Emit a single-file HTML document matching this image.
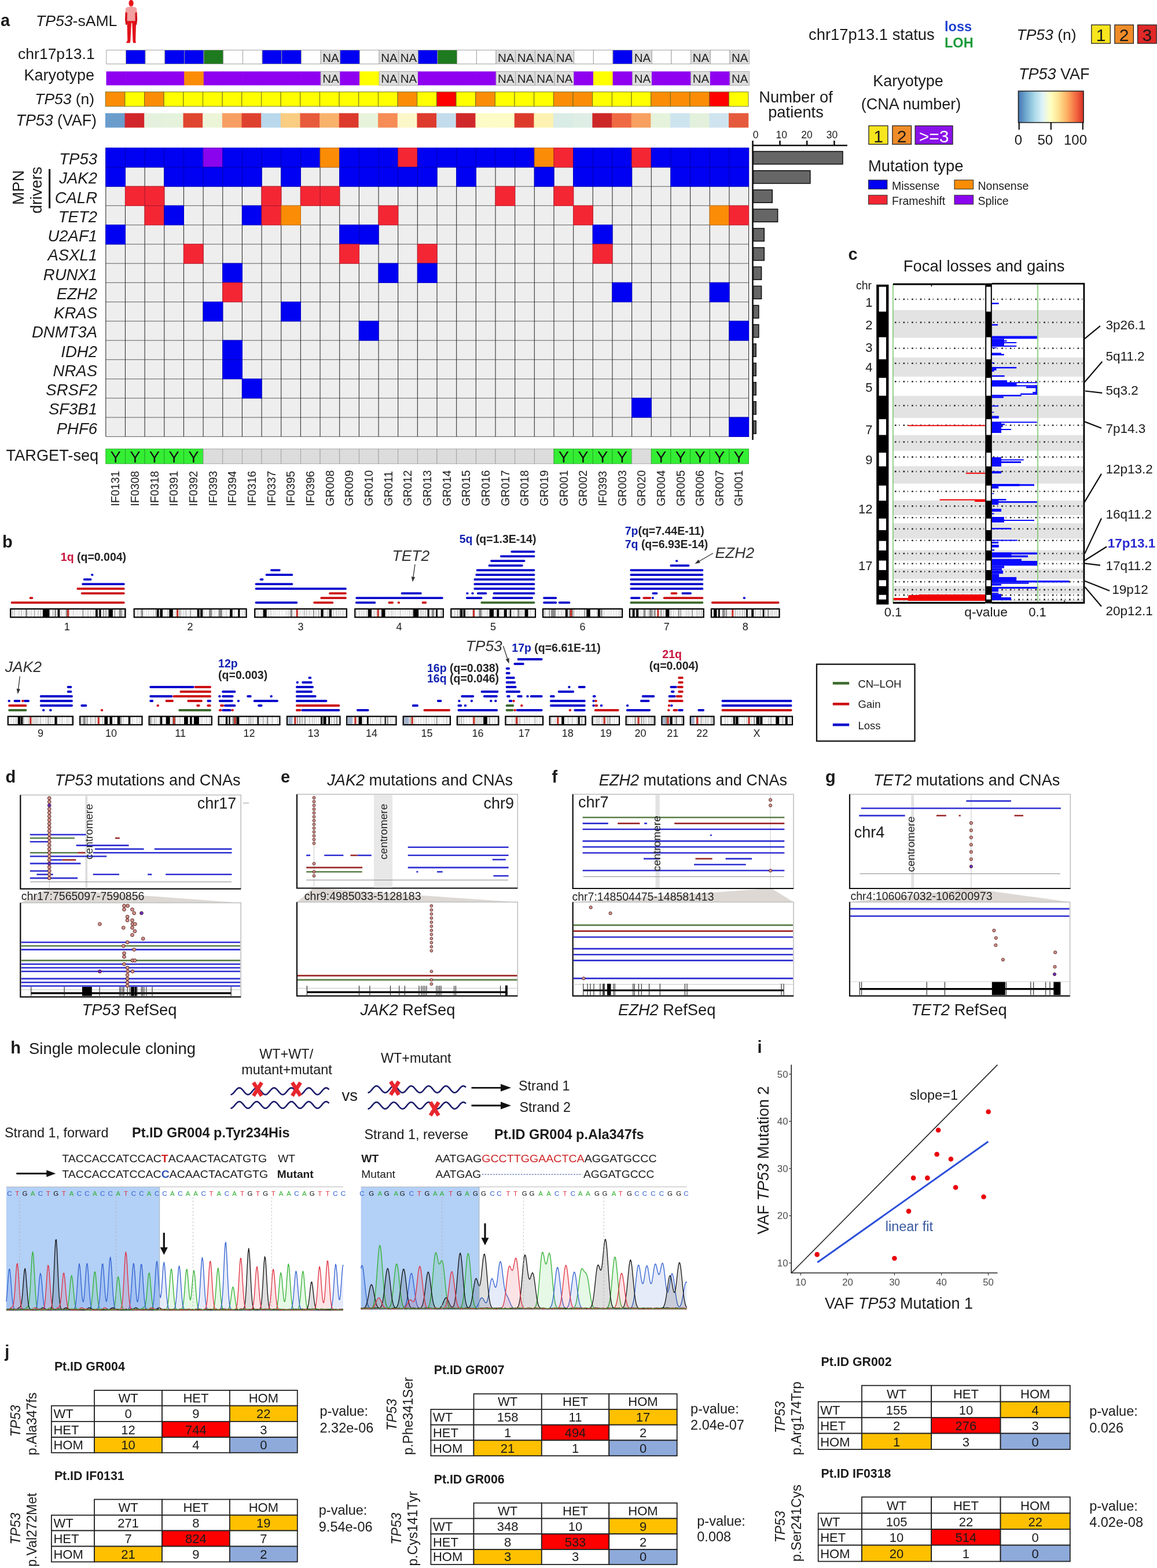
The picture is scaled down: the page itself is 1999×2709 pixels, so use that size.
<!DOCTYPE html>
<html><head><meta charset="utf-8"><title>TP53 sAML figure</title>
<style>
html,body{margin:0;padding:0;background:#fff;overflow:hidden;}
svg{display:block;}
text{font-family:"Liberation Sans",Arial,sans-serif;}
</style></head><body>
<svg width="1999" height="2709" viewBox="0 0 1999 2709" fill="#1a1a1a">
<rect width="1999" height="2709" fill="#fff"/>
<text x="1.0" y="45.0" font-size="29" font-weight="bold">a</text>
<text x="62" y="45" font-size="26.6"><tspan font-style="italic">TP53</tspan>-sAML</text>
<g>
<ellipse cx="226.6" cy="5.6" rx="4.1" ry="5.7" fill="#e8141a"/>
<path d="M219.3,36 L235.4,36 L235,42 L234.2,70 L234.8,72.5 L234.5,74.2 L230.2,74.2 L229.5,71 L228.3,40 L227.6,39.4 L226.9,40 L225.3,71 L224.5,74.2 L218.6,74.2 L218.4,72.5 L220.3,70 L219.6,42 Z" fill="#e2121a"/>
<path d="M216.6,20.5 L220,20.5 L220.4,40.5 L218.6,43.2 L217.2,42.4 L216,34 Z" fill="#d20f18"/>
<path d="M233.2,20.5 L236.6,20.5 L237.2,34 L236.2,42.4 L234.7,43.2 L232.9,40.5 Z" fill="#d20f18"/>
<path d="M224.3,10.6 L229,10.6 L229.6,11.8 L233.8,12.4 L236,14.5 L236.8,21.4 L233.4,21.6 L233.6,36.3 L219.6,36.3 L219.8,21.6 L216.4,21.4 L217.2,14.5 L219.4,12.4 L223.7,11.8 Z" fill="#f3a0a0"/>
</g>
<text x="163.7" y="102.3" font-size="26.5" text-anchor="end">chr17p13.1</text>
<text x="163.0" y="139.3" font-size="27" text-anchor="end">Karyotype</text>
<text x="163" y="180.2" font-size="26.4" text-anchor="end"><tspan font-style="italic">TP53</tspan> (n)</text>
<text x="167" y="217.2" font-size="26.8" text-anchor="end"><tspan font-style="italic">TP53</tspan> (VAF)</text>
<rect x="183.80" y="86.50" width="33.66" height="24.00" fill="#ffffff" stroke="#9a9a9a" stroke-width="0.9"/>
<rect x="217.46" y="86.50" width="33.66" height="24.00" fill="#0000f2" stroke="#9a9a9a" stroke-width="0.9"/>
<rect x="251.12" y="86.50" width="33.66" height="24.00" fill="#ffffff" stroke="#9a9a9a" stroke-width="0.9"/>
<rect x="284.78" y="86.50" width="33.66" height="24.00" fill="#0000f2" stroke="#9a9a9a" stroke-width="0.9"/>
<rect x="318.44" y="86.50" width="33.66" height="24.00" fill="#0000f2" stroke="#9a9a9a" stroke-width="0.9"/>
<rect x="352.10" y="86.50" width="33.66" height="24.00" fill="#1e7a1e" stroke="#9a9a9a" stroke-width="0.9"/>
<rect x="385.76" y="86.50" width="33.66" height="24.00" fill="#ffffff" stroke="#9a9a9a" stroke-width="0.9"/>
<rect x="419.42" y="86.50" width="33.66" height="24.00" fill="#ffffff" stroke="#9a9a9a" stroke-width="0.9"/>
<rect x="453.08" y="86.50" width="33.66" height="24.00" fill="#0000f2" stroke="#9a9a9a" stroke-width="0.9"/>
<rect x="486.74" y="86.50" width="33.66" height="24.00" fill="#0000f2" stroke="#9a9a9a" stroke-width="0.9"/>
<rect x="520.40" y="86.50" width="33.66" height="24.00" fill="#ffffff" stroke="#9a9a9a" stroke-width="0.9"/>
<rect x="554.06" y="86.50" width="33.66" height="24.00" fill="#dcdcdc" stroke="#a8a8a8" stroke-width="0.9"/>
<text x="571.4" y="106.5" font-size="20.5" text-anchor="middle" fill="#222">NA</text>
<rect x="587.72" y="86.50" width="33.66" height="24.00" fill="#0000f2" stroke="#9a9a9a" stroke-width="0.9"/>
<rect x="621.38" y="86.50" width="33.66" height="24.00" fill="#ffffff" stroke="#9a9a9a" stroke-width="0.9"/>
<rect x="655.04" y="86.50" width="33.66" height="24.00" fill="#dcdcdc" stroke="#a8a8a8" stroke-width="0.9"/>
<text x="672.4" y="106.5" font-size="20.5" text-anchor="middle" fill="#222">NA</text>
<rect x="688.70" y="86.50" width="33.66" height="24.00" fill="#dcdcdc" stroke="#a8a8a8" stroke-width="0.9"/>
<text x="706.0" y="106.5" font-size="20.5" text-anchor="middle" fill="#222">NA</text>
<rect x="722.36" y="86.50" width="33.66" height="24.00" fill="#0000f2" stroke="#9a9a9a" stroke-width="0.9"/>
<rect x="756.02" y="86.50" width="33.66" height="24.00" fill="#1e7a1e" stroke="#9a9a9a" stroke-width="0.9"/>
<rect x="789.68" y="86.50" width="33.66" height="24.00" fill="#ffffff" stroke="#9a9a9a" stroke-width="0.9"/>
<rect x="823.34" y="86.50" width="33.66" height="24.00" fill="#ffffff" stroke="#9a9a9a" stroke-width="0.9"/>
<rect x="857.00" y="86.50" width="33.66" height="24.00" fill="#dcdcdc" stroke="#a8a8a8" stroke-width="0.9"/>
<text x="874.3" y="106.5" font-size="20.5" text-anchor="middle" fill="#222">NA</text>
<rect x="890.66" y="86.50" width="33.66" height="24.00" fill="#dcdcdc" stroke="#a8a8a8" stroke-width="0.9"/>
<text x="908.0" y="106.5" font-size="20.5" text-anchor="middle" fill="#222">NA</text>
<rect x="924.32" y="86.50" width="33.66" height="24.00" fill="#dcdcdc" stroke="#a8a8a8" stroke-width="0.9"/>
<text x="941.6" y="106.5" font-size="20.5" text-anchor="middle" fill="#222">NA</text>
<rect x="957.98" y="86.50" width="33.66" height="24.00" fill="#dcdcdc" stroke="#a8a8a8" stroke-width="0.9"/>
<text x="975.3" y="106.5" font-size="20.5" text-anchor="middle" fill="#222">NA</text>
<rect x="991.64" y="86.50" width="33.66" height="24.00" fill="#ffffff" stroke="#9a9a9a" stroke-width="0.9"/>
<rect x="1025.30" y="86.50" width="33.66" height="24.00" fill="#ffffff" stroke="#9a9a9a" stroke-width="0.9"/>
<rect x="1058.96" y="86.50" width="33.66" height="24.00" fill="#0000f2" stroke="#9a9a9a" stroke-width="0.9"/>
<rect x="1092.62" y="86.50" width="33.66" height="24.00" fill="#dcdcdc" stroke="#a8a8a8" stroke-width="0.9"/>
<text x="1109.9" y="106.5" font-size="20.5" text-anchor="middle" fill="#222">NA</text>
<rect x="1126.28" y="86.50" width="33.66" height="24.00" fill="#ffffff" stroke="#9a9a9a" stroke-width="0.9"/>
<rect x="1159.94" y="86.50" width="33.66" height="24.00" fill="#ffffff" stroke="#9a9a9a" stroke-width="0.9"/>
<rect x="1193.60" y="86.50" width="33.66" height="24.00" fill="#dcdcdc" stroke="#a8a8a8" stroke-width="0.9"/>
<text x="1210.9" y="106.5" font-size="20.5" text-anchor="middle" fill="#222">NA</text>
<rect x="1227.26" y="86.50" width="33.66" height="24.00" fill="#ffffff" stroke="#9a9a9a" stroke-width="0.9"/>
<rect x="1260.92" y="86.50" width="33.66" height="24.00" fill="#dcdcdc" stroke="#a8a8a8" stroke-width="0.9"/>
<text x="1278.2" y="106.5" font-size="20.5" text-anchor="middle" fill="#222">NA</text>
<rect x="183.50" y="123.40" width="34.26" height="24.00" fill="#8f00f0"/>
<rect x="217.16" y="123.40" width="34.26" height="24.00" fill="#8f00f0"/>
<rect x="250.82" y="123.40" width="34.26" height="24.00" fill="#8f00f0"/>
<rect x="284.48" y="123.40" width="34.26" height="24.00" fill="#8f00f0"/>
<rect x="318.14" y="123.40" width="34.26" height="24.00" fill="#fb8c06"/>
<rect x="351.80" y="123.40" width="34.26" height="24.00" fill="#8f00f0"/>
<rect x="385.46" y="123.40" width="34.26" height="24.00" fill="#8f00f0"/>
<rect x="419.12" y="123.40" width="34.26" height="24.00" fill="#8f00f0"/>
<rect x="452.78" y="123.40" width="34.26" height="24.00" fill="#8f00f0"/>
<rect x="486.44" y="123.40" width="34.26" height="24.00" fill="#8f00f0"/>
<rect x="520.10" y="123.40" width="34.26" height="24.00" fill="#8f00f0"/>
<rect x="554.06" y="123.40" width="33.66" height="24.00" fill="#dcdcdc" stroke="#a8a8a8" stroke-width="0.9"/>
<text x="571.4" y="143.4" font-size="20.5" text-anchor="middle" fill="#222">NA</text>
<rect x="587.42" y="123.40" width="34.26" height="24.00" fill="#8f00f0"/>
<rect x="621.08" y="123.40" width="34.26" height="24.00" fill="#ffff00"/>
<rect x="655.04" y="123.40" width="33.66" height="24.00" fill="#dcdcdc" stroke="#a8a8a8" stroke-width="0.9"/>
<text x="672.4" y="143.4" font-size="20.5" text-anchor="middle" fill="#222">NA</text>
<rect x="688.70" y="123.40" width="33.66" height="24.00" fill="#dcdcdc" stroke="#a8a8a8" stroke-width="0.9"/>
<text x="706.0" y="143.4" font-size="20.5" text-anchor="middle" fill="#222">NA</text>
<rect x="722.06" y="123.40" width="34.26" height="24.00" fill="#8f00f0"/>
<rect x="755.72" y="123.40" width="34.26" height="24.00" fill="#8f00f0"/>
<rect x="789.38" y="123.40" width="34.26" height="24.00" fill="#8f00f0"/>
<rect x="823.04" y="123.40" width="34.26" height="24.00" fill="#8f00f0"/>
<rect x="857.00" y="123.40" width="33.66" height="24.00" fill="#dcdcdc" stroke="#a8a8a8" stroke-width="0.9"/>
<text x="874.3" y="143.4" font-size="20.5" text-anchor="middle" fill="#222">NA</text>
<rect x="890.66" y="123.40" width="33.66" height="24.00" fill="#dcdcdc" stroke="#a8a8a8" stroke-width="0.9"/>
<text x="908.0" y="143.4" font-size="20.5" text-anchor="middle" fill="#222">NA</text>
<rect x="924.32" y="123.40" width="33.66" height="24.00" fill="#dcdcdc" stroke="#a8a8a8" stroke-width="0.9"/>
<text x="941.6" y="143.4" font-size="20.5" text-anchor="middle" fill="#222">NA</text>
<rect x="957.98" y="123.40" width="33.66" height="24.00" fill="#dcdcdc" stroke="#a8a8a8" stroke-width="0.9"/>
<text x="975.3" y="143.4" font-size="20.5" text-anchor="middle" fill="#222">NA</text>
<rect x="991.34" y="123.40" width="34.26" height="24.00" fill="#8f00f0"/>
<rect x="1025.00" y="123.40" width="34.26" height="24.00" fill="#ffff00"/>
<rect x="1058.66" y="123.40" width="34.26" height="24.00" fill="#8f00f0"/>
<rect x="1092.62" y="123.40" width="33.66" height="24.00" fill="#dcdcdc" stroke="#a8a8a8" stroke-width="0.9"/>
<text x="1109.9" y="143.4" font-size="20.5" text-anchor="middle" fill="#222">NA</text>
<rect x="1125.98" y="123.40" width="34.26" height="24.00" fill="#8f00f0"/>
<rect x="1159.64" y="123.40" width="34.26" height="24.00" fill="#8f00f0"/>
<rect x="1193.60" y="123.40" width="33.66" height="24.00" fill="#dcdcdc" stroke="#a8a8a8" stroke-width="0.9"/>
<text x="1210.9" y="143.4" font-size="20.5" text-anchor="middle" fill="#222">NA</text>
<rect x="1226.96" y="123.40" width="34.26" height="24.00" fill="#8f00f0"/>
<rect x="1260.92" y="123.40" width="33.66" height="24.00" fill="#dcdcdc" stroke="#a8a8a8" stroke-width="0.9"/>
<text x="1278.2" y="143.4" font-size="20.5" text-anchor="middle" fill="#222">NA</text>
<rect x="182.20" y="158.80" width="33.66" height="25.00" fill="#fb8c06" stroke="#6a6a20" stroke-width="0.9"/>
<rect x="215.86" y="158.80" width="33.66" height="25.00" fill="#ffff00" stroke="#6a6a20" stroke-width="0.9"/>
<rect x="249.52" y="158.80" width="33.66" height="25.00" fill="#fb8c06" stroke="#6a6a20" stroke-width="0.9"/>
<rect x="283.18" y="158.80" width="33.66" height="25.00" fill="#ffff00" stroke="#6a6a20" stroke-width="0.9"/>
<rect x="316.84" y="158.80" width="33.66" height="25.00" fill="#ffff00" stroke="#6a6a20" stroke-width="0.9"/>
<rect x="350.50" y="158.80" width="33.66" height="25.00" fill="#ffff00" stroke="#6a6a20" stroke-width="0.9"/>
<rect x="384.16" y="158.80" width="33.66" height="25.00" fill="#ffff00" stroke="#6a6a20" stroke-width="0.9"/>
<rect x="417.82" y="158.80" width="33.66" height="25.00" fill="#ffff00" stroke="#6a6a20" stroke-width="0.9"/>
<rect x="451.48" y="158.80" width="33.66" height="25.00" fill="#ffff00" stroke="#6a6a20" stroke-width="0.9"/>
<rect x="485.14" y="158.80" width="33.66" height="25.00" fill="#ffff00" stroke="#6a6a20" stroke-width="0.9"/>
<rect x="518.80" y="158.80" width="33.66" height="25.00" fill="#ffff00" stroke="#6a6a20" stroke-width="0.9"/>
<rect x="552.46" y="158.80" width="33.66" height="25.00" fill="#ffff00" stroke="#6a6a20" stroke-width="0.9"/>
<rect x="586.12" y="158.80" width="33.66" height="25.00" fill="#ffff00" stroke="#6a6a20" stroke-width="0.9"/>
<rect x="619.78" y="158.80" width="33.66" height="25.00" fill="#ffff00" stroke="#6a6a20" stroke-width="0.9"/>
<rect x="653.44" y="158.80" width="33.66" height="25.00" fill="#ffff00" stroke="#6a6a20" stroke-width="0.9"/>
<rect x="687.10" y="158.80" width="33.66" height="25.00" fill="#fb8c06" stroke="#6a6a20" stroke-width="0.9"/>
<rect x="720.76" y="158.80" width="33.66" height="25.00" fill="#ffff00" stroke="#6a6a20" stroke-width="0.9"/>
<rect x="754.42" y="158.80" width="33.66" height="25.00" fill="#ff0000" stroke="#6a6a20" stroke-width="0.9"/>
<rect x="788.08" y="158.80" width="33.66" height="25.00" fill="#ffff00" stroke="#6a6a20" stroke-width="0.9"/>
<rect x="821.74" y="158.80" width="33.66" height="25.00" fill="#fb8c06" stroke="#6a6a20" stroke-width="0.9"/>
<rect x="855.40" y="158.80" width="33.66" height="25.00" fill="#ffff00" stroke="#6a6a20" stroke-width="0.9"/>
<rect x="889.06" y="158.80" width="33.66" height="25.00" fill="#ffff00" stroke="#6a6a20" stroke-width="0.9"/>
<rect x="922.72" y="158.80" width="33.66" height="25.00" fill="#ffff00" stroke="#6a6a20" stroke-width="0.9"/>
<rect x="956.38" y="158.80" width="33.66" height="25.00" fill="#fb8c06" stroke="#6a6a20" stroke-width="0.9"/>
<rect x="990.04" y="158.80" width="33.66" height="25.00" fill="#fb8c06" stroke="#6a6a20" stroke-width="0.9"/>
<rect x="1023.70" y="158.80" width="33.66" height="25.00" fill="#ffff00" stroke="#6a6a20" stroke-width="0.9"/>
<rect x="1057.36" y="158.80" width="33.66" height="25.00" fill="#ffff00" stroke="#6a6a20" stroke-width="0.9"/>
<rect x="1091.02" y="158.80" width="33.66" height="25.00" fill="#ffff00" stroke="#6a6a20" stroke-width="0.9"/>
<rect x="1124.68" y="158.80" width="33.66" height="25.00" fill="#fb8c06" stroke="#6a6a20" stroke-width="0.9"/>
<rect x="1158.34" y="158.80" width="33.66" height="25.00" fill="#fb8c06" stroke="#6a6a20" stroke-width="0.9"/>
<rect x="1192.00" y="158.80" width="33.66" height="25.00" fill="#fb8c06" stroke="#6a6a20" stroke-width="0.9"/>
<rect x="1225.66" y="158.80" width="33.66" height="25.00" fill="#ff0000" stroke="#6a6a20" stroke-width="0.9"/>
<rect x="1259.32" y="158.80" width="33.66" height="25.00" fill="#ffff00" stroke="#6a6a20" stroke-width="0.9"/>
<rect x="181.90" y="195.50" width="34.26" height="25.00" fill="#6b9dcc"/>
<rect x="215.56" y="195.50" width="34.26" height="25.00" fill="#d1262b"/>
<rect x="249.22" y="195.50" width="34.26" height="25.00" fill="#e4f2dd"/>
<rect x="282.88" y="195.50" width="34.26" height="25.00" fill="#e5f3dd"/>
<rect x="316.54" y="195.50" width="34.26" height="25.00" fill="#e0452f"/>
<rect x="350.20" y="195.50" width="34.26" height="25.00" fill="#edf5d9"/>
<rect x="383.86" y="195.50" width="34.26" height="25.00" fill="#f79f63"/>
<rect x="417.52" y="195.50" width="34.26" height="25.00" fill="#df412f"/>
<rect x="451.18" y="195.50" width="34.26" height="25.00" fill="#b9d8ec"/>
<rect x="484.84" y="195.50" width="34.26" height="25.00" fill="#f9cd82"/>
<rect x="518.50" y="195.50" width="34.26" height="25.00" fill="#e85a3c"/>
<rect x="552.16" y="195.50" width="34.26" height="25.00" fill="#f8b26c"/>
<rect x="585.82" y="195.50" width="34.26" height="25.00" fill="#dc3a2c"/>
<rect x="619.48" y="195.50" width="34.26" height="25.00" fill="#e8f3dc"/>
<rect x="653.14" y="195.50" width="34.26" height="25.00" fill="#f68c56"/>
<rect x="686.80" y="195.50" width="34.26" height="25.00" fill="#fbf7c9"/>
<rect x="720.46" y="195.50" width="34.26" height="25.00" fill="#dd3b2e"/>
<rect x="754.12" y="195.50" width="34.26" height="25.00" fill="#c3dcec"/>
<rect x="787.78" y="195.50" width="34.26" height="25.00" fill="#d0282a"/>
<rect x="821.44" y="195.50" width="34.26" height="25.00" fill="#fdfbc6"/>
<rect x="855.10" y="195.50" width="34.26" height="25.00" fill="#fdfbc6"/>
<rect x="888.76" y="195.50" width="34.26" height="25.00" fill="#dc3b2c"/>
<rect x="922.42" y="195.50" width="34.26" height="25.00" fill="#fdf2b1"/>
<rect x="956.08" y="195.50" width="34.26" height="25.00" fill="#d9ece6"/>
<rect x="989.74" y="195.50" width="34.26" height="25.00" fill="#deeee4"/>
<rect x="1023.40" y="195.50" width="34.26" height="25.00" fill="#cc2828"/>
<rect x="1057.06" y="195.50" width="34.26" height="25.00" fill="#ef6a43"/>
<rect x="1090.72" y="195.50" width="34.26" height="25.00" fill="#f7a060"/>
<rect x="1124.38" y="195.50" width="34.26" height="25.00" fill="#e6f3dc"/>
<rect x="1158.04" y="195.50" width="34.26" height="25.00" fill="#cde4ef"/>
<rect x="1191.70" y="195.50" width="34.26" height="25.00" fill="#e3f1dc"/>
<rect x="1225.36" y="195.50" width="34.26" height="25.00" fill="#cfe4ef"/>
<rect x="1259.02" y="195.50" width="34.26" height="25.00" fill="#e55a3c"/>
<rect x="182.80" y="255.60" width="1110.78" height="498.75" fill="#eeeeee"/>
<path d="M182.80,255.60H1293.58M182.80,288.85H1293.58M182.80,322.10H1293.58M182.80,355.35H1293.58M182.80,388.60H1293.58M182.80,421.85H1293.58M182.80,455.10H1293.58M182.80,488.35H1293.58M182.80,521.60H1293.58M182.80,554.85H1293.58M182.80,588.10H1293.58M182.80,621.35H1293.58M182.80,654.60H1293.58M182.80,687.85H1293.58M182.80,721.10H1293.58M182.80,754.35H1293.58" stroke="#7a7a7a" stroke-width="1.1" fill="none"/>
<path d="M182.80,255.60V754.35M216.46,255.60V754.35M250.12,255.60V754.35M283.78,255.60V754.35M317.44,255.60V754.35M351.10,255.60V754.35M384.76,255.60V754.35M418.42,255.60V754.35M452.08,255.60V754.35M485.74,255.60V754.35M519.40,255.60V754.35M553.06,255.60V754.35M586.72,255.60V754.35M620.38,255.60V754.35M654.04,255.60V754.35M687.70,255.60V754.35M721.36,255.60V754.35M755.02,255.60V754.35M788.68,255.60V754.35M822.34,255.60V754.35M856.00,255.60V754.35M889.66,255.60V754.35M923.32,255.60V754.35M956.98,255.60V754.35M990.64,255.60V754.35M1024.30,255.60V754.35M1057.96,255.60V754.35M1091.62,255.60V754.35M1125.28,255.60V754.35M1158.94,255.60V754.35M1192.60,255.60V754.35M1226.26,255.60V754.35M1259.92,255.60V754.35M1293.58,255.60V754.35" stroke="#333" stroke-width="1.1" fill="none"/>
<rect x="182.25" y="255.05" width="34.76" height="34.35" fill="#0000f2"/><rect x="215.91" y="255.05" width="34.76" height="34.35" fill="#0000f2"/><rect x="249.57" y="255.05" width="34.76" height="34.35" fill="#0000f2"/><rect x="283.23" y="255.05" width="34.76" height="34.35" fill="#0000f2"/><rect x="316.89" y="255.05" width="34.76" height="34.35" fill="#0000f2"/><rect x="350.55" y="255.05" width="34.76" height="34.35" fill="#8a05ee"/><rect x="384.21" y="255.05" width="34.76" height="34.35" fill="#0000f2"/><rect x="417.87" y="255.05" width="34.76" height="34.35" fill="#0000f2"/><rect x="451.53" y="255.05" width="34.76" height="34.35" fill="#0000f2"/><rect x="485.19" y="255.05" width="34.76" height="34.35" fill="#0000f2"/><rect x="518.85" y="255.05" width="34.76" height="34.35" fill="#0000f2"/><rect x="552.51" y="255.05" width="34.76" height="34.35" fill="#fb8c06"/><rect x="586.17" y="255.05" width="34.76" height="34.35" fill="#0000f2"/><rect x="619.83" y="255.05" width="34.76" height="34.35" fill="#0000f2"/><rect x="653.49" y="255.05" width="34.76" height="34.35" fill="#0000f2"/><rect x="687.15" y="255.05" width="34.76" height="34.35" fill="#f42633"/><rect x="720.81" y="255.05" width="34.76" height="34.35" fill="#0000f2"/><rect x="754.47" y="255.05" width="34.76" height="34.35" fill="#0000f2"/><rect x="788.13" y="255.05" width="34.76" height="34.35" fill="#0000f2"/><rect x="821.79" y="255.05" width="34.76" height="34.35" fill="#0000f2"/><rect x="855.45" y="255.05" width="34.76" height="34.35" fill="#0000f2"/><rect x="889.11" y="255.05" width="34.76" height="34.35" fill="#0000f2"/><rect x="922.77" y="255.05" width="34.76" height="34.35" fill="#fb8c06"/><rect x="956.43" y="255.05" width="34.76" height="34.35" fill="#f42633"/><rect x="990.09" y="255.05" width="34.76" height="34.35" fill="#0000f2"/><rect x="1023.75" y="255.05" width="34.76" height="34.35" fill="#0000f2"/><rect x="1057.41" y="255.05" width="34.76" height="34.35" fill="#0000f2"/><rect x="1091.07" y="255.05" width="34.76" height="34.35" fill="#f42633"/><rect x="1124.73" y="255.05" width="34.76" height="34.35" fill="#0000f2"/><rect x="1158.39" y="255.05" width="34.76" height="34.35" fill="#0000f2"/><rect x="1192.05" y="255.05" width="34.76" height="34.35" fill="#0000f2"/><rect x="1225.71" y="255.05" width="34.76" height="34.35" fill="#0000f2"/><rect x="1259.37" y="255.05" width="34.76" height="34.35" fill="#0000f2"/><rect x="182.25" y="288.30" width="34.76" height="34.35" fill="#0000f2"/><rect x="283.23" y="288.30" width="34.76" height="34.35" fill="#0000f2"/><rect x="316.89" y="288.30" width="34.76" height="34.35" fill="#0000f2"/><rect x="350.55" y="288.30" width="34.76" height="34.35" fill="#0000f2"/><rect x="384.21" y="288.30" width="34.76" height="34.35" fill="#0000f2"/><rect x="417.87" y="288.30" width="34.76" height="34.35" fill="#0000f2"/><rect x="485.19" y="288.30" width="34.76" height="34.35" fill="#0000f2"/><rect x="586.17" y="288.30" width="34.76" height="34.35" fill="#0000f2"/><rect x="619.83" y="288.30" width="34.76" height="34.35" fill="#0000f2"/><rect x="653.49" y="288.30" width="34.76" height="34.35" fill="#0000f2"/><rect x="687.15" y="288.30" width="34.76" height="34.35" fill="#0000f2"/><rect x="720.81" y="288.30" width="34.76" height="34.35" fill="#0000f2"/><rect x="788.13" y="288.30" width="34.76" height="34.35" fill="#0000f2"/><rect x="922.77" y="288.30" width="34.76" height="34.35" fill="#0000f2"/><rect x="990.09" y="288.30" width="34.76" height="34.35" fill="#0000f2"/><rect x="1023.75" y="288.30" width="34.76" height="34.35" fill="#0000f2"/><rect x="1057.41" y="288.30" width="34.76" height="34.35" fill="#0000f2"/><rect x="1158.39" y="288.30" width="34.76" height="34.35" fill="#0000f2"/><rect x="1192.05" y="288.30" width="34.76" height="34.35" fill="#0000f2"/><rect x="1225.71" y="288.30" width="34.76" height="34.35" fill="#0000f2"/><rect x="1259.37" y="288.30" width="34.76" height="34.35" fill="#0000f2"/><rect x="215.91" y="321.55" width="34.76" height="34.35" fill="#f42633"/><rect x="249.57" y="321.55" width="34.76" height="34.35" fill="#f42633"/><rect x="451.53" y="321.55" width="34.76" height="34.35" fill="#f42633"/><rect x="518.85" y="321.55" width="34.76" height="34.35" fill="#f42633"/><rect x="552.51" y="321.55" width="34.76" height="34.35" fill="#f42633"/><rect x="855.45" y="321.55" width="34.76" height="34.35" fill="#f42633"/><rect x="956.43" y="321.55" width="34.76" height="34.35" fill="#f42633"/><rect x="249.57" y="354.80" width="34.76" height="34.35" fill="#f42633"/><rect x="283.23" y="354.80" width="34.76" height="34.35" fill="#0000f2"/><rect x="417.87" y="354.80" width="34.76" height="34.35" fill="#0000f2"/><rect x="451.53" y="354.80" width="34.76" height="34.35" fill="#f42633"/><rect x="485.19" y="354.80" width="34.76" height="34.35" fill="#fb8c06"/><rect x="653.49" y="354.80" width="34.76" height="34.35" fill="#f42633"/><rect x="990.09" y="354.80" width="34.76" height="34.35" fill="#f42633"/><rect x="1225.71" y="354.80" width="34.76" height="34.35" fill="#fb8c06"/><rect x="1259.37" y="354.80" width="34.76" height="34.35" fill="#f42633"/><rect x="182.25" y="388.05" width="34.76" height="34.35" fill="#0000f2"/><rect x="586.17" y="388.05" width="34.76" height="34.35" fill="#0000f2"/><rect x="619.83" y="388.05" width="34.76" height="34.35" fill="#0000f2"/><rect x="1023.75" y="388.05" width="34.76" height="34.35" fill="#0000f2"/><rect x="316.89" y="421.30" width="34.76" height="34.35" fill="#f42633"/><rect x="586.17" y="421.30" width="34.76" height="34.35" fill="#f42633"/><rect x="720.81" y="421.30" width="34.76" height="34.35" fill="#f42633"/><rect x="1023.75" y="421.30" width="34.76" height="34.35" fill="#f42633"/><rect x="384.21" y="454.55" width="34.76" height="34.35" fill="#0000f2"/><rect x="653.49" y="454.55" width="34.76" height="34.35" fill="#0000f2"/><rect x="720.81" y="454.55" width="34.76" height="34.35" fill="#0000f2"/><rect x="384.21" y="487.80" width="34.76" height="34.35" fill="#f42633"/><rect x="1057.41" y="487.80" width="34.76" height="34.35" fill="#0000f2"/><rect x="1225.71" y="487.80" width="34.76" height="34.35" fill="#0000f2"/><rect x="350.55" y="521.05" width="34.76" height="34.35" fill="#0000f2"/><rect x="485.19" y="521.05" width="34.76" height="34.35" fill="#0000f2"/><rect x="619.83" y="554.30" width="34.76" height="34.35" fill="#0000f2"/><rect x="1259.37" y="554.30" width="34.76" height="34.35" fill="#0000f2"/><rect x="384.21" y="587.55" width="34.76" height="34.35" fill="#0000f2"/><rect x="384.21" y="620.80" width="34.76" height="34.35" fill="#0000f2"/><rect x="417.87" y="654.05" width="34.76" height="34.35" fill="#0000f2"/><rect x="1091.07" y="687.30" width="34.76" height="34.35" fill="#0000f2"/><rect x="1259.37" y="720.55" width="34.76" height="34.35" fill="#0000f2"/>
<g fill="none" stroke="rgba(0,0,40,0.22)" stroke-width="0.8"><rect x="182.80" y="255.60" width="33.66" height="33.25"/><rect x="216.46" y="255.60" width="33.66" height="33.25"/><rect x="250.12" y="255.60" width="33.66" height="33.25"/><rect x="283.78" y="255.60" width="33.66" height="33.25"/><rect x="317.44" y="255.60" width="33.66" height="33.25"/><rect x="351.10" y="255.60" width="33.66" height="33.25"/><rect x="384.76" y="255.60" width="33.66" height="33.25"/><rect x="418.42" y="255.60" width="33.66" height="33.25"/><rect x="452.08" y="255.60" width="33.66" height="33.25"/><rect x="485.74" y="255.60" width="33.66" height="33.25"/><rect x="519.40" y="255.60" width="33.66" height="33.25"/><rect x="553.06" y="255.60" width="33.66" height="33.25"/><rect x="586.72" y="255.60" width="33.66" height="33.25"/><rect x="620.38" y="255.60" width="33.66" height="33.25"/><rect x="654.04" y="255.60" width="33.66" height="33.25"/><rect x="687.70" y="255.60" width="33.66" height="33.25"/><rect x="721.36" y="255.60" width="33.66" height="33.25"/><rect x="755.02" y="255.60" width="33.66" height="33.25"/><rect x="788.68" y="255.60" width="33.66" height="33.25"/><rect x="822.34" y="255.60" width="33.66" height="33.25"/><rect x="856.00" y="255.60" width="33.66" height="33.25"/><rect x="889.66" y="255.60" width="33.66" height="33.25"/><rect x="923.32" y="255.60" width="33.66" height="33.25"/><rect x="956.98" y="255.60" width="33.66" height="33.25"/><rect x="990.64" y="255.60" width="33.66" height="33.25"/><rect x="1024.30" y="255.60" width="33.66" height="33.25"/><rect x="1057.96" y="255.60" width="33.66" height="33.25"/><rect x="1091.62" y="255.60" width="33.66" height="33.25"/><rect x="1125.28" y="255.60" width="33.66" height="33.25"/><rect x="1158.94" y="255.60" width="33.66" height="33.25"/><rect x="1192.60" y="255.60" width="33.66" height="33.25"/><rect x="1226.26" y="255.60" width="33.66" height="33.25"/><rect x="1259.92" y="255.60" width="33.66" height="33.25"/><rect x="182.80" y="288.85" width="33.66" height="33.25"/><rect x="283.78" y="288.85" width="33.66" height="33.25"/><rect x="317.44" y="288.85" width="33.66" height="33.25"/><rect x="351.10" y="288.85" width="33.66" height="33.25"/><rect x="384.76" y="288.85" width="33.66" height="33.25"/><rect x="418.42" y="288.85" width="33.66" height="33.25"/><rect x="485.74" y="288.85" width="33.66" height="33.25"/><rect x="586.72" y="288.85" width="33.66" height="33.25"/><rect x="620.38" y="288.85" width="33.66" height="33.25"/><rect x="654.04" y="288.85" width="33.66" height="33.25"/><rect x="687.70" y="288.85" width="33.66" height="33.25"/><rect x="721.36" y="288.85" width="33.66" height="33.25"/><rect x="788.68" y="288.85" width="33.66" height="33.25"/><rect x="923.32" y="288.85" width="33.66" height="33.25"/><rect x="990.64" y="288.85" width="33.66" height="33.25"/><rect x="1024.30" y="288.85" width="33.66" height="33.25"/><rect x="1057.96" y="288.85" width="33.66" height="33.25"/><rect x="1158.94" y="288.85" width="33.66" height="33.25"/><rect x="1192.60" y="288.85" width="33.66" height="33.25"/><rect x="1226.26" y="288.85" width="33.66" height="33.25"/><rect x="1259.92" y="288.85" width="33.66" height="33.25"/><rect x="216.46" y="322.10" width="33.66" height="33.25"/><rect x="250.12" y="322.10" width="33.66" height="33.25"/><rect x="452.08" y="322.10" width="33.66" height="33.25"/><rect x="519.40" y="322.10" width="33.66" height="33.25"/><rect x="553.06" y="322.10" width="33.66" height="33.25"/><rect x="856.00" y="322.10" width="33.66" height="33.25"/><rect x="956.98" y="322.10" width="33.66" height="33.25"/><rect x="250.12" y="355.35" width="33.66" height="33.25"/><rect x="283.78" y="355.35" width="33.66" height="33.25"/><rect x="418.42" y="355.35" width="33.66" height="33.25"/><rect x="452.08" y="355.35" width="33.66" height="33.25"/><rect x="485.74" y="355.35" width="33.66" height="33.25"/><rect x="654.04" y="355.35" width="33.66" height="33.25"/><rect x="990.64" y="355.35" width="33.66" height="33.25"/><rect x="1226.26" y="355.35" width="33.66" height="33.25"/><rect x="1259.92" y="355.35" width="33.66" height="33.25"/><rect x="182.80" y="388.60" width="33.66" height="33.25"/><rect x="586.72" y="388.60" width="33.66" height="33.25"/><rect x="620.38" y="388.60" width="33.66" height="33.25"/><rect x="1024.30" y="388.60" width="33.66" height="33.25"/><rect x="317.44" y="421.85" width="33.66" height="33.25"/><rect x="586.72" y="421.85" width="33.66" height="33.25"/><rect x="721.36" y="421.85" width="33.66" height="33.25"/><rect x="1024.30" y="421.85" width="33.66" height="33.25"/><rect x="384.76" y="455.10" width="33.66" height="33.25"/><rect x="654.04" y="455.10" width="33.66" height="33.25"/><rect x="721.36" y="455.10" width="33.66" height="33.25"/><rect x="384.76" y="488.35" width="33.66" height="33.25"/><rect x="1057.96" y="488.35" width="33.66" height="33.25"/><rect x="1226.26" y="488.35" width="33.66" height="33.25"/><rect x="351.10" y="521.60" width="33.66" height="33.25"/><rect x="485.74" y="521.60" width="33.66" height="33.25"/><rect x="620.38" y="554.85" width="33.66" height="33.25"/><rect x="1259.92" y="554.85" width="33.66" height="33.25"/><rect x="384.76" y="588.10" width="33.66" height="33.25"/><rect x="384.76" y="621.35" width="33.66" height="33.25"/><rect x="418.42" y="654.60" width="33.66" height="33.25"/><rect x="1091.62" y="687.85" width="33.66" height="33.25"/><rect x="1259.92" y="721.10" width="33.66" height="33.25"/></g>
<text x="168.0" y="284.1" font-size="27.5" text-anchor="end" font-style="italic">TP53</text>
<text x="168.0" y="317.4" font-size="27.5" text-anchor="end" font-style="italic">JAK2</text>
<text x="168.0" y="350.6" font-size="27.5" text-anchor="end" font-style="italic">CALR</text>
<text x="168.0" y="383.9" font-size="27.5" text-anchor="end" font-style="italic">TET2</text>
<text x="168.0" y="417.1" font-size="27.5" text-anchor="end" font-style="italic">U2AF1</text>
<text x="168.0" y="450.4" font-size="27.5" text-anchor="end" font-style="italic">ASXL1</text>
<text x="168.0" y="483.6" font-size="27.5" text-anchor="end" font-style="italic">RUNX1</text>
<text x="168.0" y="516.9" font-size="27.5" text-anchor="end" font-style="italic">EZH2</text>
<text x="168.0" y="550.1" font-size="27.5" text-anchor="end" font-style="italic">KRAS</text>
<text x="168.0" y="583.4" font-size="27.5" text-anchor="end" font-style="italic">DNMT3A</text>
<text x="168.0" y="616.6" font-size="27.5" text-anchor="end" font-style="italic">IDH2</text>
<text x="168.0" y="649.9" font-size="27.5" text-anchor="end" font-style="italic">NRAS</text>
<text x="168.0" y="683.1" font-size="27.5" text-anchor="end" font-style="italic">SRSF2</text>
<text x="168.0" y="716.4" font-size="27.5" text-anchor="end" font-style="italic">SF3B1</text>
<text x="168.0" y="749.6" font-size="27.5" text-anchor="end" font-style="italic">PHF6</text>
<text transform="translate(40.8,324) rotate(-90)" font-size="27" text-anchor="middle">MPN</text>
<text transform="translate(71.5,328.5) rotate(-90)" font-size="27" text-anchor="middle">drivers</text>
<rect x="84.00" y="292.00" width="3.20" height="68.00" fill="#1a1a1a"/>
<text x="10.6" y="796.0" font-size="27.2">TARGET-seq</text>
<rect x="182.80" y="775.70" width="33.66" height="25.40" fill="#34ee34" stroke="#1f9a1f" stroke-width="0.8"/>
<text x="199.6" y="798.5" font-size="27.5" text-anchor="middle" fill="#111">Y</text>
<rect x="216.46" y="775.70" width="33.66" height="25.40" fill="#34ee34" stroke="#1f9a1f" stroke-width="0.8"/>
<text x="233.3" y="798.5" font-size="27.5" text-anchor="middle" fill="#111">Y</text>
<rect x="250.12" y="775.70" width="33.66" height="25.40" fill="#34ee34" stroke="#1f9a1f" stroke-width="0.8"/>
<text x="266.9" y="798.5" font-size="27.5" text-anchor="middle" fill="#111">Y</text>
<rect x="283.78" y="775.70" width="33.66" height="25.40" fill="#34ee34" stroke="#1f9a1f" stroke-width="0.8"/>
<text x="300.6" y="798.5" font-size="27.5" text-anchor="middle" fill="#111">Y</text>
<rect x="317.44" y="775.70" width="33.66" height="25.40" fill="#34ee34" stroke="#1f9a1f" stroke-width="0.8"/>
<text x="334.3" y="798.5" font-size="27.5" text-anchor="middle" fill="#111">Y</text>
<rect x="351.10" y="775.70" width="33.66" height="25.40" fill="#dcdcdc" stroke="#9a9a9a" stroke-width="0.8"/>
<rect x="384.76" y="775.70" width="33.66" height="25.40" fill="#dcdcdc" stroke="#9a9a9a" stroke-width="0.8"/>
<rect x="418.42" y="775.70" width="33.66" height="25.40" fill="#dcdcdc" stroke="#9a9a9a" stroke-width="0.8"/>
<rect x="452.08" y="775.70" width="33.66" height="25.40" fill="#dcdcdc" stroke="#9a9a9a" stroke-width="0.8"/>
<rect x="485.74" y="775.70" width="33.66" height="25.40" fill="#dcdcdc" stroke="#9a9a9a" stroke-width="0.8"/>
<rect x="519.40" y="775.70" width="33.66" height="25.40" fill="#dcdcdc" stroke="#9a9a9a" stroke-width="0.8"/>
<rect x="553.06" y="775.70" width="33.66" height="25.40" fill="#dcdcdc" stroke="#9a9a9a" stroke-width="0.8"/>
<rect x="586.72" y="775.70" width="33.66" height="25.40" fill="#dcdcdc" stroke="#9a9a9a" stroke-width="0.8"/>
<rect x="620.38" y="775.70" width="33.66" height="25.40" fill="#dcdcdc" stroke="#9a9a9a" stroke-width="0.8"/>
<rect x="654.04" y="775.70" width="33.66" height="25.40" fill="#dcdcdc" stroke="#9a9a9a" stroke-width="0.8"/>
<rect x="687.70" y="775.70" width="33.66" height="25.40" fill="#dcdcdc" stroke="#9a9a9a" stroke-width="0.8"/>
<rect x="721.36" y="775.70" width="33.66" height="25.40" fill="#dcdcdc" stroke="#9a9a9a" stroke-width="0.8"/>
<rect x="755.02" y="775.70" width="33.66" height="25.40" fill="#dcdcdc" stroke="#9a9a9a" stroke-width="0.8"/>
<rect x="788.68" y="775.70" width="33.66" height="25.40" fill="#dcdcdc" stroke="#9a9a9a" stroke-width="0.8"/>
<rect x="822.34" y="775.70" width="33.66" height="25.40" fill="#dcdcdc" stroke="#9a9a9a" stroke-width="0.8"/>
<rect x="856.00" y="775.70" width="33.66" height="25.40" fill="#dcdcdc" stroke="#9a9a9a" stroke-width="0.8"/>
<rect x="889.66" y="775.70" width="33.66" height="25.40" fill="#dcdcdc" stroke="#9a9a9a" stroke-width="0.8"/>
<rect x="923.32" y="775.70" width="33.66" height="25.40" fill="#dcdcdc" stroke="#9a9a9a" stroke-width="0.8"/>
<rect x="956.98" y="775.70" width="33.66" height="25.40" fill="#34ee34" stroke="#1f9a1f" stroke-width="0.8"/>
<text x="973.8" y="798.5" font-size="27.5" text-anchor="middle" fill="#111">Y</text>
<rect x="990.64" y="775.70" width="33.66" height="25.40" fill="#34ee34" stroke="#1f9a1f" stroke-width="0.8"/>
<text x="1007.5" y="798.5" font-size="27.5" text-anchor="middle" fill="#111">Y</text>
<rect x="1024.30" y="775.70" width="33.66" height="25.40" fill="#34ee34" stroke="#1f9a1f" stroke-width="0.8"/>
<text x="1041.1" y="798.5" font-size="27.5" text-anchor="middle" fill="#111">Y</text>
<rect x="1057.96" y="775.70" width="33.66" height="25.40" fill="#34ee34" stroke="#1f9a1f" stroke-width="0.8"/>
<text x="1074.8" y="798.5" font-size="27.5" text-anchor="middle" fill="#111">Y</text>
<rect x="1091.62" y="775.70" width="33.66" height="25.40" fill="#dcdcdc" stroke="#9a9a9a" stroke-width="0.8"/>
<rect x="1125.28" y="775.70" width="33.66" height="25.40" fill="#34ee34" stroke="#1f9a1f" stroke-width="0.8"/>
<text x="1142.1" y="798.5" font-size="27.5" text-anchor="middle" fill="#111">Y</text>
<rect x="1158.94" y="775.70" width="33.66" height="25.40" fill="#34ee34" stroke="#1f9a1f" stroke-width="0.8"/>
<text x="1175.8" y="798.5" font-size="27.5" text-anchor="middle" fill="#111">Y</text>
<rect x="1192.60" y="775.70" width="33.66" height="25.40" fill="#34ee34" stroke="#1f9a1f" stroke-width="0.8"/>
<text x="1209.4" y="798.5" font-size="27.5" text-anchor="middle" fill="#111">Y</text>
<rect x="1226.26" y="775.70" width="33.66" height="25.40" fill="#34ee34" stroke="#1f9a1f" stroke-width="0.8"/>
<text x="1243.1" y="798.5" font-size="27.5" text-anchor="middle" fill="#111">Y</text>
<rect x="1259.92" y="775.70" width="33.66" height="25.40" fill="#34ee34" stroke="#1f9a1f" stroke-width="0.8"/>
<text x="1276.7" y="798.5" font-size="27.5" text-anchor="middle" fill="#111">Y</text>
<text transform="translate(206.3,874.5) rotate(-90)" font-size="19.6">IF0131</text>
<text transform="translate(240.0,874.5) rotate(-90)" font-size="19.6">IF0308</text>
<text transform="translate(273.6,874.5) rotate(-90)" font-size="19.6">IF0318</text>
<text transform="translate(307.3,874.5) rotate(-90)" font-size="19.6">IF0391</text>
<text transform="translate(341.0,874.5) rotate(-90)" font-size="19.6">IF0392</text>
<text transform="translate(374.6,874.5) rotate(-90)" font-size="19.6">IF0393</text>
<text transform="translate(408.3,874.5) rotate(-90)" font-size="19.6">IF0394</text>
<text transform="translate(441.9,874.5) rotate(-90)" font-size="19.6">IF0316</text>
<text transform="translate(475.6,874.5) rotate(-90)" font-size="19.6">IF0337</text>
<text transform="translate(509.3,874.5) rotate(-90)" font-size="19.6">IF0395</text>
<text transform="translate(542.9,874.5) rotate(-90)" font-size="19.6">IF0396</text>
<text transform="translate(576.6,874.5) rotate(-90)" font-size="19.6">GR008</text>
<text transform="translate(610.3,874.5) rotate(-90)" font-size="19.6">GR009</text>
<text transform="translate(643.9,874.5) rotate(-90)" font-size="19.6">GR010</text>
<text transform="translate(677.6,874.5) rotate(-90)" font-size="19.6">GR011</text>
<text transform="translate(711.2,874.5) rotate(-90)" font-size="19.6">GR012</text>
<text transform="translate(744.9,874.5) rotate(-90)" font-size="19.6">GR013</text>
<text transform="translate(778.6,874.5) rotate(-90)" font-size="19.6">GR014</text>
<text transform="translate(812.2,874.5) rotate(-90)" font-size="19.6">GR015</text>
<text transform="translate(845.9,874.5) rotate(-90)" font-size="19.6">GR016</text>
<text transform="translate(879.5,874.5) rotate(-90)" font-size="19.6">GR017</text>
<text transform="translate(913.2,874.5) rotate(-90)" font-size="19.6">GR018</text>
<text transform="translate(946.9,874.5) rotate(-90)" font-size="19.6">GR019</text>
<text transform="translate(980.5,874.5) rotate(-90)" font-size="19.6">GR001</text>
<text transform="translate(1014.2,874.5) rotate(-90)" font-size="19.6">GR002</text>
<text transform="translate(1047.8,874.5) rotate(-90)" font-size="19.6">IF0393</text>
<text transform="translate(1081.5,874.5) rotate(-90)" font-size="19.6">GR003</text>
<text transform="translate(1115.1,874.5) rotate(-90)" font-size="19.6">GR020</text>
<text transform="translate(1148.8,874.5) rotate(-90)" font-size="19.6">GR004</text>
<text transform="translate(1182.5,874.5) rotate(-90)" font-size="19.6">GR005</text>
<text transform="translate(1216.1,874.5) rotate(-90)" font-size="19.6">GR006</text>
<text transform="translate(1249.8,874.5) rotate(-90)" font-size="19.6">GR007</text>
<text transform="translate(1283.4,874.5) rotate(-90)" font-size="19.6">GH001</text>
<path d="M1300.5,243V760M1300.5,251.3H1464M1347.5,243V251.3M1394.2,243V251.3M1441.4,243V251.3" stroke="#111" stroke-width="2.6" fill="none"/>
<text x="1305.7" y="239.0" font-size="17.5" text-anchor="middle">0</text>
<text x="1350.3" y="239.0" font-size="17.5" text-anchor="middle">10</text>
<text x="1393.9" y="239.0" font-size="17.5" text-anchor="middle">20</text>
<text x="1437.4" y="239.0" font-size="17.5" text-anchor="middle">30</text>
<text x="1375.0" y="177.0" font-size="27.3" text-anchor="middle">Number of</text>
<text x="1375.0" y="203.0" font-size="27.3" text-anchor="middle">patients</text>
<rect x="1301.50" y="261.60" width="154.44" height="22.00" fill="#666666" stroke="#111" stroke-width="1.6"/>
<rect x="1301.50" y="294.85" width="98.28" height="22.00" fill="#666666" stroke="#111" stroke-width="1.6"/>
<rect x="1301.50" y="328.10" width="32.76" height="22.00" fill="#666666" stroke="#111" stroke-width="1.6"/>
<rect x="1301.50" y="361.35" width="42.12" height="22.00" fill="#666666" stroke="#111" stroke-width="1.6"/>
<rect x="1301.50" y="394.60" width="18.72" height="22.00" fill="#666666" stroke="#111" stroke-width="1.6"/>
<rect x="1301.50" y="427.85" width="18.72" height="22.00" fill="#666666" stroke="#111" stroke-width="1.6"/>
<rect x="1301.50" y="461.10" width="14.04" height="22.00" fill="#666666" stroke="#111" stroke-width="1.6"/>
<rect x="1301.50" y="494.35" width="14.04" height="22.00" fill="#666666" stroke="#111" stroke-width="1.6"/>
<rect x="1301.50" y="527.60" width="9.36" height="22.00" fill="#666666" stroke="#111" stroke-width="1.6"/>
<rect x="1301.50" y="560.85" width="9.36" height="22.00" fill="#666666" stroke="#111" stroke-width="1.6"/>
<rect x="1301.50" y="594.10" width="4.68" height="22.00" fill="#666666" stroke="#111" stroke-width="1.6"/>
<rect x="1301.50" y="627.35" width="4.68" height="22.00" fill="#666666" stroke="#111" stroke-width="1.6"/>
<rect x="1301.50" y="660.60" width="4.68" height="22.00" fill="#666666" stroke="#111" stroke-width="1.6"/>
<rect x="1301.50" y="693.85" width="4.68" height="22.00" fill="#666666" stroke="#111" stroke-width="1.6"/>
<rect x="1301.50" y="727.10" width="4.68" height="22.00" fill="#666666" stroke="#111" stroke-width="1.6"/>
<text x="1397.0" y="68.6" font-size="27.4">chr17p13.1 status</text>
<text x="1632.0" y="54.3" font-size="23.5" font-weight="bold" fill="#1c3fd0">loss</text>
<text x="1632.0" y="81.7" font-size="23.5" font-weight="bold" fill="#1a9a3a">LOH</text>
<text x="1756.5" y="68.6" font-size="26.5"><tspan font-style="italic">TP53</tspan> (n)</text>
<rect x="1885.80" y="43.00" width="32.50" height="32.00" fill="#f7e51e" stroke="#222" stroke-width="1.3"/>
<text x="1902.0" y="71.0" font-size="30" text-anchor="middle" fill="#1a1a1a">1</text>
<rect x="1925.90" y="43.00" width="32.50" height="32.00" fill="#f08c28" stroke="#222" stroke-width="1.3"/>
<text x="1942.1" y="71.0" font-size="30" text-anchor="middle" fill="#1a1a1a">2</text>
<rect x="1965.60" y="43.00" width="32.50" height="32.00" fill="#e02828" stroke="#222" stroke-width="1.3"/>
<text x="1981.8" y="71.0" font-size="30" text-anchor="middle" fill="#1a1a1a">3</text>
<text x="1569.0" y="149.0" font-size="27" text-anchor="middle">Karyotype</text>
<text x="1574.0" y="189.2" font-size="27" text-anchor="middle">(CNA number)</text>
<rect x="1501.00" y="217.30" width="33.00" height="32.00" fill="#f7e51e" stroke="#222" stroke-width="1.3"/>
<text x="1517.5" y="245.5" font-size="30" text-anchor="middle">1</text>
<rect x="1541.90" y="217.30" width="32.60" height="32.00" fill="#f08c28" stroke="#222" stroke-width="1.3"/>
<text x="1558.2" y="245.5" font-size="30" text-anchor="middle">2</text>
<rect x="1581.20" y="217.30" width="64.80" height="32.00" fill="#8a12e8" stroke="#222" stroke-width="1.3"/>
<text x="1613.6" y="245.5" font-size="30" text-anchor="middle" fill="#fff">&gt;=3</text>
<text x="1760" y="136.8" font-size="27"><tspan font-style="italic">TP53</tspan> VAF</text>
<defs><linearGradient id="vafg" x1="0" x2="1" y1="0" y2="0"><stop offset="0.000" stop-color="#4575b4"/><stop offset="0.125" stop-color="#74add1"/><stop offset="0.250" stop-color="#abd9e9"/><stop offset="0.375" stop-color="#e0f3f8"/><stop offset="0.500" stop-color="#ffffbf"/><stop offset="0.625" stop-color="#fee090"/><stop offset="0.750" stop-color="#fdae61"/><stop offset="0.875" stop-color="#f46d43"/><stop offset="1.000" stop-color="#d73027"/></linearGradient></defs>
<rect x="1759.50" y="157.40" width="112.50" height="54.30" fill="url(#vafg)" stroke="#222" stroke-width="1.6"/>
<path d="M1760.7,211V224M1815.8,211V224M1870.8,211V224" stroke="#111" stroke-width="2.2"/>
<text x="1759.5" y="250.3" font-size="24" text-anchor="middle">0</text>
<text x="1805.8" y="250.3" font-size="24" text-anchor="middle">50</text>
<text x="1858.0" y="250.3" font-size="24" text-anchor="middle">100</text>
<text x="1500.0" y="296.0" font-size="27.4">Mutation type</text>
<rect x="1500.60" y="311.00" width="32.30" height="15.70" fill="#0000f2" stroke="#222" stroke-width="1"/>
<text x="1541.0" y="327.8" font-size="19.5">Missense</text>
<rect x="1500.60" y="337.20" width="32.30" height="15.70" fill="#f42633" stroke="#222" stroke-width="1"/>
<text x="1541.0" y="353.5" font-size="19.5">Frameshift</text>
<rect x="1649.00" y="311.00" width="32.60" height="15.70" fill="#fb8c06" stroke="#222" stroke-width="1"/>
<text x="1689.5" y="327.8" font-size="19.5">Nonsense</text>
<rect x="1649.00" y="337.20" width="32.60" height="15.70" fill="#8a05ee" stroke="#222" stroke-width="1"/>
<text x="1689.5" y="353.5" font-size="19.5">Splice</text>
<text x="4.0" y="945.8" font-size="29" font-weight="bold">b</text>
<rect x="18.1" y="1052.0" width="198.4" height="14.4" fill="#ffffff"/>
<rect x="19.6" y="1052.0" width="3.1" height="14.4" fill="rgb(206,206,206)"/><rect x="24.1" y="1052.0" width="2.2" height="14.4" fill="rgb(206,206,206)"/><rect x="28.3" y="1052.0" width="2.3" height="14.4" fill="rgb(238,238,238)"/><rect x="31.8" y="1052.0" width="2.2" height="14.4" fill="rgb(214,214,214)"/><rect x="36.0" y="1052.0" width="2.3" height="14.4" fill="rgb(206,206,206)"/><rect x="40.6" y="1052.0" width="1.7" height="14.4" fill="rgb(222,222,222)"/><rect x="44.0" y="1052.0" width="3.2" height="14.4" fill="rgb(145,145,145)"/><rect x="48.7" y="1052.0" width="3.0" height="14.4" fill="rgb(230,230,230)"/><rect x="53.0" y="1052.0" width="2.0" height="14.4" fill="rgb(214,214,214)"/><rect x="56.4" y="1052.0" width="1.4" height="14.4" fill="rgb(230,230,230)"/><rect x="59.0" y="1052.0" width="1.5" height="14.4" fill="rgb(160,160,160)"/><rect x="62.9" y="1052.0" width="1.2" height="14.4" fill="rgb(230,230,230)"/><rect x="65.1" y="1052.0" width="2.0" height="14.4" fill="rgb(206,206,206)"/><rect x="68.9" y="1052.0" width="2.5" height="14.4" fill="rgb(206,206,206)"/><rect x="72.9" y="1052.0" width="1.8" height="14.4" fill="rgb(206,206,206)"/><rect x="77.1" y="1052.0" width="1.8" height="14.4" fill="rgb(238,238,238)"/><rect x="80.8" y="1052.0" width="1.5" height="14.4" fill="rgb(190,190,190)"/><rect x="83.4" y="1052.0" width="1.2" height="14.4" fill="rgb(230,230,230)"/><rect x="86.6" y="1052.0" width="1.4" height="14.4" fill="rgb(222,222,222)"/><rect x="90.4" y="1052.0" width="2.2" height="14.4" fill="rgb(190,190,190)"/><rect x="93.7" y="1052.0" width="2.7" height="14.4" fill="rgb(238,238,238)"/><rect x="97.8" y="1052.0" width="2.3" height="14.4" fill="rgb(238,238,238)"/><rect x="102.2" y="1052.0" width="1.2" height="14.4" fill="rgb(222,222,222)"/><rect x="104.7" y="1052.0" width="3.2" height="14.4" fill="rgb(222,222,222)"/><rect x="109.9" y="1052.0" width="1.7" height="14.4" fill="rgb(230,230,230)"/><rect x="113.5" y="1052.0" width="3.0" height="14.4" fill="rgb(145,145,145)"/><rect x="118.5" y="1052.0" width="2.7" height="14.4" fill="rgb(230,230,230)"/><rect x="122.6" y="1052.0" width="2.2" height="14.4" fill="rgb(238,238,238)"/><rect x="125.9" y="1052.0" width="1.5" height="14.4" fill="rgb(206,206,206)"/><rect x="129.5" y="1052.0" width="1.3" height="14.4" fill="rgb(230,230,230)"/><rect x="132.1" y="1052.0" width="2.2" height="14.4" fill="rgb(230,230,230)"/><rect x="136.2" y="1052.0" width="1.5" height="14.4" fill="rgb(230,230,230)"/><rect x="138.8" y="1052.0" width="2.0" height="14.4" fill="rgb(238,238,238)"/><rect x="142.0" y="1052.0" width="2.7" height="14.4" fill="rgb(175,175,175)"/><rect x="146.4" y="1052.0" width="2.4" height="14.4" fill="rgb(230,230,230)"/><rect x="150.7" y="1052.0" width="2.6" height="14.4" fill="rgb(206,206,206)"/><rect x="155.7" y="1052.0" width="2.0" height="14.4" fill="rgb(214,214,214)"/><rect x="160.1" y="1052.0" width="2.8" height="14.4" fill="rgb(230,230,230)"/><rect x="164.5" y="1052.0" width="3.0" height="14.4" fill="rgb(230,230,230)"/><rect x="169.4" y="1052.0" width="2.4" height="14.4" fill="rgb(206,206,206)"/><rect x="173.2" y="1052.0" width="2.1" height="14.4" fill="rgb(222,222,222)"/><rect x="177.7" y="1052.0" width="2.4" height="14.4" fill="rgb(160,160,160)"/><rect x="181.7" y="1052.0" width="2.7" height="14.4" fill="rgb(175,175,175)"/><rect x="186.3" y="1052.0" width="2.9" height="14.4" fill="rgb(160,160,160)"/><rect x="191.0" y="1052.0" width="1.2" height="14.4" fill="rgb(238,238,238)"/><rect x="193.8" y="1052.0" width="1.5" height="14.4" fill="rgb(238,238,238)"/><rect x="197.0" y="1052.0" width="2.6" height="14.4" fill="rgb(175,175,175)"/><rect x="201.7" y="1052.0" width="2.6" height="14.4" fill="rgb(230,230,230)"/><rect x="205.5" y="1052.0" width="2.1" height="14.4" fill="rgb(175,175,175)"/><rect x="209.9" y="1052.0" width="1.4" height="14.4" fill="rgb(145,145,145)"/><rect x="213.9" y="1052.0" width="2.1" height="14.4" fill="rgb(190,190,190)"/>
<rect x="94.40" y="1052.00" width="2.60" height="14.40" fill="#8a8a8a"/>
<rect x="205.70" y="1052.00" width="3.80" height="14.40" fill="#8a8a8a"/>
<rect x="74.10" y="1052.00" width="11.40" height="14.40" fill="#000"/>
<rect x="99.50" y="1052.00" width="3.80" height="14.40" fill="#000"/>
<rect x="165.00" y="1052.00" width="3.80" height="14.40" fill="#000"/>
<rect x="171.40" y="1052.00" width="3.10" height="14.40" fill="#000"/>
<rect x="187.90" y="1052.00" width="7.00" height="14.40" fill="#000"/>
<rect x="116.00" y="1052.00" width="3.20" height="14.40" fill="#c8322a"/>
<rect x="18.10" y="1052.00" width="198.40" height="14.40" fill="none" stroke="#000" stroke-width="2.2"/>
<rect x="231.7" y="1052.0" width="193.9" height="14.4" fill="#ffffff"/>
<rect x="233.2" y="1052.0" width="2.2" height="14.4" fill="rgb(230,230,230)"/><rect x="237.6" y="1052.0" width="1.2" height="14.4" fill="rgb(175,175,175)"/><rect x="241.0" y="1052.0" width="2.9" height="14.4" fill="rgb(222,222,222)"/><rect x="245.1" y="1052.0" width="1.3" height="14.4" fill="rgb(214,214,214)"/><rect x="247.7" y="1052.0" width="2.0" height="14.4" fill="rgb(230,230,230)"/><rect x="252.0" y="1052.0" width="1.9" height="14.4" fill="rgb(230,230,230)"/><rect x="256.0" y="1052.0" width="1.9" height="14.4" fill="rgb(222,222,222)"/><rect x="259.7" y="1052.0" width="2.7" height="14.4" fill="rgb(238,238,238)"/><rect x="264.0" y="1052.0" width="2.1" height="14.4" fill="rgb(222,222,222)"/><rect x="268.3" y="1052.0" width="2.1" height="14.4" fill="rgb(175,175,175)"/><rect x="272.8" y="1052.0" width="1.7" height="14.4" fill="rgb(206,206,206)"/><rect x="275.9" y="1052.0" width="2.2" height="14.4" fill="rgb(206,206,206)"/><rect x="279.9" y="1052.0" width="1.6" height="14.4" fill="rgb(190,190,190)"/><rect x="283.4" y="1052.0" width="2.6" height="14.4" fill="rgb(238,238,238)"/><rect x="288.3" y="1052.0" width="3.2" height="14.4" fill="rgb(214,214,214)"/><rect x="293.5" y="1052.0" width="2.1" height="14.4" fill="rgb(145,145,145)"/><rect x="297.9" y="1052.0" width="2.9" height="14.4" fill="rgb(230,230,230)"/><rect x="302.4" y="1052.0" width="2.0" height="14.4" fill="rgb(214,214,214)"/><rect x="306.0" y="1052.0" width="3.0" height="14.4" fill="rgb(222,222,222)"/><rect x="310.0" y="1052.0" width="1.6" height="14.4" fill="rgb(145,145,145)"/><rect x="312.7" y="1052.0" width="1.8" height="14.4" fill="rgb(214,214,214)"/><rect x="316.3" y="1052.0" width="1.8" height="14.4" fill="rgb(214,214,214)"/><rect x="319.7" y="1052.0" width="3.0" height="14.4" fill="rgb(206,206,206)"/><rect x="324.2" y="1052.0" width="2.3" height="14.4" fill="rgb(238,238,238)"/><rect x="327.8" y="1052.0" width="2.6" height="14.4" fill="rgb(175,175,175)"/><rect x="332.9" y="1052.0" width="1.6" height="14.4" fill="rgb(238,238,238)"/><rect x="336.6" y="1052.0" width="1.8" height="14.4" fill="rgb(238,238,238)"/><rect x="340.4" y="1052.0" width="2.4" height="14.4" fill="rgb(222,222,222)"/><rect x="345.4" y="1052.0" width="3.0" height="14.4" fill="rgb(160,160,160)"/><rect x="350.3" y="1052.0" width="3.1" height="14.4" fill="rgb(222,222,222)"/><rect x="356.0" y="1052.0" width="2.6" height="14.4" fill="rgb(238,238,238)"/><rect x="360.4" y="1052.0" width="2.7" height="14.4" fill="rgb(230,230,230)"/><rect x="364.8" y="1052.0" width="3.2" height="14.4" fill="rgb(222,222,222)"/><rect x="369.8" y="1052.0" width="1.3" height="14.4" fill="rgb(214,214,214)"/><rect x="372.5" y="1052.0" width="1.2" height="14.4" fill="rgb(222,222,222)"/><rect x="375.5" y="1052.0" width="1.2" height="14.4" fill="rgb(238,238,238)"/><rect x="378.2" y="1052.0" width="1.3" height="14.4" fill="rgb(238,238,238)"/><rect x="381.5" y="1052.0" width="2.3" height="14.4" fill="rgb(190,190,190)"/><rect x="385.2" y="1052.0" width="2.7" height="14.4" fill="rgb(238,238,238)"/><rect x="389.7" y="1052.0" width="2.7" height="14.4" fill="rgb(222,222,222)"/><rect x="394.4" y="1052.0" width="2.9" height="14.4" fill="rgb(238,238,238)"/><rect x="398.4" y="1052.0" width="3.1" height="14.4" fill="rgb(230,230,230)"/><rect x="403.8" y="1052.0" width="2.0" height="14.4" fill="rgb(222,222,222)"/><rect x="407.9" y="1052.0" width="2.1" height="14.4" fill="rgb(238,238,238)"/><rect x="412.2" y="1052.0" width="2.5" height="14.4" fill="rgb(206,206,206)"/><rect x="417.1" y="1052.0" width="2.8" height="14.4" fill="rgb(230,230,230)"/><rect x="421.4" y="1052.0" width="1.8" height="14.4" fill="rgb(206,206,206)"/>
<rect x="244.00" y="1052.00" width="3.00" height="14.40" fill="#8a8a8a"/>
<rect x="361.00" y="1052.00" width="5.00" height="14.40" fill="#8a8a8a"/>
<rect x="377.50" y="1052.00" width="6.40" height="14.40" fill="#8a8a8a"/>
<rect x="270.80" y="1052.00" width="3.80" height="14.40" fill="#000"/>
<rect x="276.50" y="1052.00" width="4.40" height="14.40" fill="#000"/>
<rect x="292.40" y="1052.00" width="6.30" height="14.40" fill="#000"/>
<rect x="340.70" y="1052.00" width="3.80" height="14.40" fill="#000"/>
<rect x="346.40" y="1052.00" width="3.80" height="14.40" fill="#000"/>
<rect x="397.20" y="1052.00" width="4.50" height="14.40" fill="#000"/>
<rect x="411.20" y="1052.00" width="3.20" height="14.40" fill="#000"/>
<rect x="305.00" y="1052.00" width="3.20" height="14.40" fill="#c8322a"/>
<rect x="231.70" y="1052.00" width="193.90" height="14.40" fill="none" stroke="#000" stroke-width="2.2"/>
<rect x="440.2" y="1052.0" width="158.7" height="14.4" fill="#ffffff"/>
<rect x="441.7" y="1052.0" width="1.5" height="14.4" fill="rgb(214,214,214)"/><rect x="444.3" y="1052.0" width="2.8" height="14.4" fill="rgb(230,230,230)"/><rect x="449.0" y="1052.0" width="1.7" height="14.4" fill="rgb(238,238,238)"/><rect x="451.7" y="1052.0" width="1.7" height="14.4" fill="rgb(222,222,222)"/><rect x="455.1" y="1052.0" width="1.6" height="14.4" fill="rgb(206,206,206)"/><rect x="458.2" y="1052.0" width="2.4" height="14.4" fill="rgb(206,206,206)"/><rect x="462.9" y="1052.0" width="2.1" height="14.4" fill="rgb(222,222,222)"/><rect x="467.0" y="1052.0" width="2.2" height="14.4" fill="rgb(214,214,214)"/><rect x="471.5" y="1052.0" width="1.4" height="14.4" fill="rgb(222,222,222)"/><rect x="474.1" y="1052.0" width="3.1" height="14.4" fill="rgb(238,238,238)"/><rect x="478.3" y="1052.0" width="1.8" height="14.4" fill="rgb(238,238,238)"/><rect x="481.7" y="1052.0" width="1.9" height="14.4" fill="rgb(230,230,230)"/><rect x="485.9" y="1052.0" width="2.7" height="14.4" fill="rgb(238,238,238)"/><rect x="491.2" y="1052.0" width="1.2" height="14.4" fill="rgb(238,238,238)"/><rect x="493.5" y="1052.0" width="2.8" height="14.4" fill="rgb(230,230,230)"/><rect x="497.4" y="1052.0" width="1.9" height="14.4" fill="rgb(214,214,214)"/><rect x="500.3" y="1052.0" width="2.2" height="14.4" fill="rgb(206,206,206)"/><rect x="504.6" y="1052.0" width="1.5" height="14.4" fill="rgb(230,230,230)"/><rect x="507.2" y="1052.0" width="2.4" height="14.4" fill="rgb(230,230,230)"/><rect x="512.0" y="1052.0" width="2.5" height="14.4" fill="rgb(230,230,230)"/><rect x="516.0" y="1052.0" width="1.5" height="14.4" fill="rgb(222,222,222)"/><rect x="518.5" y="1052.0" width="1.7" height="14.4" fill="rgb(222,222,222)"/><rect x="522.5" y="1052.0" width="1.5" height="14.4" fill="rgb(214,214,214)"/><rect x="525.2" y="1052.0" width="1.8" height="14.4" fill="rgb(190,190,190)"/><rect x="528.2" y="1052.0" width="3.0" height="14.4" fill="rgb(214,214,214)"/><rect x="533.4" y="1052.0" width="2.0" height="14.4" fill="rgb(206,206,206)"/><rect x="536.8" y="1052.0" width="1.4" height="14.4" fill="rgb(222,222,222)"/><rect x="540.8" y="1052.0" width="2.1" height="14.4" fill="rgb(145,145,145)"/><rect x="544.8" y="1052.0" width="2.2" height="14.4" fill="rgb(214,214,214)"/><rect x="549.4" y="1052.0" width="2.5" height="14.4" fill="rgb(190,190,190)"/><rect x="554.1" y="1052.0" width="2.1" height="14.4" fill="rgb(206,206,206)"/><rect x="557.5" y="1052.0" width="3.1" height="14.4" fill="rgb(206,206,206)"/><rect x="562.1" y="1052.0" width="2.0" height="14.4" fill="rgb(230,230,230)"/><rect x="565.5" y="1052.0" width="2.0" height="14.4" fill="rgb(190,190,190)"/><rect x="569.5" y="1052.0" width="1.3" height="14.4" fill="rgb(214,214,214)"/><rect x="572.0" y="1052.0" width="2.3" height="14.4" fill="rgb(230,230,230)"/><rect x="575.3" y="1052.0" width="1.9" height="14.4" fill="rgb(206,206,206)"/><rect x="579.7" y="1052.0" width="3.0" height="14.4" fill="rgb(214,214,214)"/><rect x="584.5" y="1052.0" width="1.8" height="14.4" fill="rgb(206,206,206)"/><rect x="587.5" y="1052.0" width="2.0" height="14.4" fill="rgb(222,222,222)"/><rect x="591.7" y="1052.0" width="1.7" height="14.4" fill="rgb(206,206,206)"/><rect x="595.4" y="1052.0" width="2.1" height="14.4" fill="rgb(238,238,238)"/>
<rect x="501.90" y="1052.00" width="3.10" height="14.40" fill="#8a8a8a"/>
<rect x="454.60" y="1052.00" width="6.10" height="14.40" fill="#000"/>
<rect x="554.40" y="1052.00" width="4.10" height="14.40" fill="#000"/>
<rect x="568.80" y="1052.00" width="4.10" height="14.40" fill="#000"/>
<rect x="511.60" y="1052.00" width="3.20" height="14.40" fill="#c8322a"/>
<rect x="440.20" y="1052.00" width="158.70" height="14.40" fill="none" stroke="#000" stroke-width="2.2"/>
<rect x="613.3" y="1052.0" width="152.5" height="14.4" fill="#ffffff"/>
<rect x="614.8" y="1052.0" width="2.2" height="14.4" fill="rgb(222,222,222)"/><rect x="619.3" y="1052.0" width="2.8" height="14.4" fill="rgb(222,222,222)"/><rect x="623.4" y="1052.0" width="2.8" height="14.4" fill="rgb(230,230,230)"/><rect x="627.3" y="1052.0" width="2.6" height="14.4" fill="rgb(222,222,222)"/><rect x="632.0" y="1052.0" width="2.3" height="14.4" fill="rgb(214,214,214)"/><rect x="636.9" y="1052.0" width="3.0" height="14.4" fill="rgb(238,238,238)"/><rect x="641.1" y="1052.0" width="2.2" height="14.4" fill="rgb(206,206,206)"/><rect x="645.0" y="1052.0" width="3.1" height="14.4" fill="rgb(222,222,222)"/><rect x="649.1" y="1052.0" width="2.0" height="14.4" fill="rgb(222,222,222)"/><rect x="653.4" y="1052.0" width="2.4" height="14.4" fill="rgb(230,230,230)"/><rect x="657.4" y="1052.0" width="3.0" height="14.4" fill="rgb(206,206,206)"/><rect x="662.8" y="1052.0" width="2.2" height="14.4" fill="rgb(206,206,206)"/><rect x="666.5" y="1052.0" width="2.6" height="14.4" fill="rgb(238,238,238)"/><rect x="671.1" y="1052.0" width="1.4" height="14.4" fill="rgb(214,214,214)"/><rect x="675.1" y="1052.0" width="1.6" height="14.4" fill="rgb(206,206,206)"/><rect x="678.1" y="1052.0" width="1.3" height="14.4" fill="rgb(206,206,206)"/><rect x="681.3" y="1052.0" width="2.8" height="14.4" fill="rgb(230,230,230)"/><rect x="686.1" y="1052.0" width="3.1" height="14.4" fill="rgb(238,238,238)"/><rect x="690.3" y="1052.0" width="2.6" height="14.4" fill="rgb(214,214,214)"/><rect x="695.0" y="1052.0" width="2.5" height="14.4" fill="rgb(238,238,238)"/><rect x="699.3" y="1052.0" width="1.3" height="14.4" fill="rgb(222,222,222)"/><rect x="702.4" y="1052.0" width="2.8" height="14.4" fill="rgb(238,238,238)"/><rect x="706.8" y="1052.0" width="2.3" height="14.4" fill="rgb(214,214,214)"/><rect x="711.6" y="1052.0" width="1.3" height="14.4" fill="rgb(175,175,175)"/><rect x="715.1" y="1052.0" width="1.3" height="14.4" fill="rgb(145,145,145)"/><rect x="717.5" y="1052.0" width="1.3" height="14.4" fill="rgb(145,145,145)"/><rect x="721.2" y="1052.0" width="3.1" height="14.4" fill="rgb(230,230,230)"/><rect x="726.6" y="1052.0" width="1.7" height="14.4" fill="rgb(190,190,190)"/><rect x="729.7" y="1052.0" width="2.6" height="14.4" fill="rgb(214,214,214)"/><rect x="733.7" y="1052.0" width="2.8" height="14.4" fill="rgb(214,214,214)"/><rect x="738.2" y="1052.0" width="1.9" height="14.4" fill="rgb(206,206,206)"/><rect x="741.5" y="1052.0" width="3.0" height="14.4" fill="rgb(238,238,238)"/><rect x="745.6" y="1052.0" width="2.1" height="14.4" fill="rgb(214,214,214)"/><rect x="748.8" y="1052.0" width="2.8" height="14.4" fill="rgb(222,222,222)"/><rect x="754.0" y="1052.0" width="1.6" height="14.4" fill="rgb(238,238,238)"/><rect x="757.2" y="1052.0" width="1.7" height="14.4" fill="rgb(238,238,238)"/><rect x="761.5" y="1052.0" width="1.6" height="14.4" fill="rgb(175,175,175)"/>
<rect x="745.80" y="1052.00" width="4.10" height="14.40" fill="#8a8a8a"/>
<rect x="635.70" y="1052.00" width="6.10" height="14.40" fill="#000"/>
<rect x="659.30" y="1052.00" width="6.20" height="14.40" fill="#000"/>
<rect x="713.90" y="1052.00" width="9.20" height="14.40" fill="#000"/>
<rect x="738.60" y="1052.00" width="3.00" height="14.40" fill="#000"/>
<rect x="753.00" y="1052.00" width="3.00" height="14.40" fill="#000"/>
<rect x="651.60" y="1052.00" width="3.20" height="14.40" fill="#c8322a"/>
<rect x="613.30" y="1052.00" width="152.50" height="14.40" fill="none" stroke="#000" stroke-width="2.2"/>
<rect x="779.3" y="1052.0" width="145.7" height="14.4" fill="#ffffff"/>
<rect x="780.8" y="1052.0" width="2.2" height="14.4" fill="rgb(230,230,230)"/><rect x="784.4" y="1052.0" width="2.9" height="14.4" fill="rgb(214,214,214)"/><rect x="789.7" y="1052.0" width="1.7" height="14.4" fill="rgb(175,175,175)"/><rect x="793.5" y="1052.0" width="2.8" height="14.4" fill="rgb(145,145,145)"/><rect x="798.1" y="1052.0" width="1.9" height="14.4" fill="rgb(230,230,230)"/><rect x="801.1" y="1052.0" width="1.8" height="14.4" fill="rgb(206,206,206)"/><rect x="804.6" y="1052.0" width="3.2" height="14.4" fill="rgb(222,222,222)"/><rect x="808.9" y="1052.0" width="1.6" height="14.4" fill="rgb(222,222,222)"/><rect x="812.3" y="1052.0" width="1.9" height="14.4" fill="rgb(238,238,238)"/><rect x="815.9" y="1052.0" width="2.7" height="14.4" fill="rgb(214,214,214)"/><rect x="819.7" y="1052.0" width="2.6" height="14.4" fill="rgb(238,238,238)"/><rect x="824.1" y="1052.0" width="2.7" height="14.4" fill="rgb(238,238,238)"/><rect x="829.1" y="1052.0" width="1.8" height="14.4" fill="rgb(238,238,238)"/><rect x="832.5" y="1052.0" width="2.6" height="14.4" fill="rgb(222,222,222)"/><rect x="836.9" y="1052.0" width="2.2" height="14.4" fill="rgb(230,230,230)"/><rect x="840.4" y="1052.0" width="2.9" height="14.4" fill="rgb(222,222,222)"/><rect x="845.5" y="1052.0" width="2.0" height="14.4" fill="rgb(175,175,175)"/><rect x="849.3" y="1052.0" width="2.1" height="14.4" fill="rgb(238,238,238)"/><rect x="853.9" y="1052.0" width="3.0" height="14.4" fill="rgb(222,222,222)"/><rect x="859.2" y="1052.0" width="2.3" height="14.4" fill="rgb(230,230,230)"/><rect x="863.6" y="1052.0" width="1.4" height="14.4" fill="rgb(214,214,214)"/><rect x="866.0" y="1052.0" width="1.7" height="14.4" fill="rgb(230,230,230)"/><rect x="869.4" y="1052.0" width="2.7" height="14.4" fill="rgb(214,214,214)"/><rect x="873.9" y="1052.0" width="2.2" height="14.4" fill="rgb(230,230,230)"/><rect x="878.3" y="1052.0" width="2.4" height="14.4" fill="rgb(190,190,190)"/><rect x="882.4" y="1052.0" width="2.6" height="14.4" fill="rgb(214,214,214)"/><rect x="886.2" y="1052.0" width="3.1" height="14.4" fill="rgb(222,222,222)"/><rect x="890.9" y="1052.0" width="3.0" height="14.4" fill="rgb(238,238,238)"/><rect x="896.0" y="1052.0" width="1.9" height="14.4" fill="rgb(238,238,238)"/><rect x="899.0" y="1052.0" width="2.1" height="14.4" fill="rgb(206,206,206)"/><rect x="902.3" y="1052.0" width="2.2" height="14.4" fill="rgb(214,214,214)"/><rect x="905.5" y="1052.0" width="2.6" height="14.4" fill="rgb(214,214,214)"/><rect x="910.2" y="1052.0" width="2.0" height="14.4" fill="rgb(145,145,145)"/><rect x="914.8" y="1052.0" width="3.1" height="14.4" fill="rgb(222,222,222)"/><rect x="920.4" y="1052.0" width="1.9" height="14.4" fill="rgb(230,230,230)"/>
<rect x="827.30" y="1052.00" width="4.80" height="14.40" fill="#8a8a8a"/>
<rect x="894.10" y="1052.00" width="3.40" height="14.40" fill="#8a8a8a"/>
<rect x="795.30" y="1052.00" width="3.90" height="14.40" fill="#000"/>
<rect x="800.40" y="1052.00" width="3.60" height="14.40" fill="#000"/>
<rect x="845.70" y="1052.00" width="7.30" height="14.40" fill="#000"/>
<rect x="858.30" y="1052.00" width="3.90" height="14.40" fill="#000"/>
<rect x="870.90" y="1052.00" width="4.80" height="14.40" fill="#000"/>
<rect x="881.00" y="1052.00" width="2.00" height="14.40" fill="#000"/>
<rect x="906.70" y="1052.00" width="5.80" height="14.40" fill="#000"/>
<rect x="816.90" y="1052.00" width="3.20" height="14.40" fill="#c8322a"/>
<rect x="779.30" y="1052.00" width="145.70" height="14.40" fill="none" stroke="#000" stroke-width="2.2"/>
<rect x="938.0" y="1052.0" width="137.1" height="14.4" fill="#ffffff"/>
<rect x="939.5" y="1052.0" width="3.2" height="14.4" fill="rgb(206,206,206)"/><rect x="944.9" y="1052.0" width="1.2" height="14.4" fill="rgb(214,214,214)"/><rect x="948.2" y="1052.0" width="1.9" height="14.4" fill="rgb(145,145,145)"/><rect x="951.7" y="1052.0" width="1.5" height="14.4" fill="rgb(214,214,214)"/><rect x="955.0" y="1052.0" width="2.6" height="14.4" fill="rgb(214,214,214)"/><rect x="958.8" y="1052.0" width="2.5" height="14.4" fill="rgb(230,230,230)"/><rect x="963.3" y="1052.0" width="2.9" height="14.4" fill="rgb(222,222,222)"/><rect x="968.7" y="1052.0" width="3.0" height="14.4" fill="rgb(222,222,222)"/><rect x="973.1" y="1052.0" width="1.9" height="14.4" fill="rgb(230,230,230)"/><rect x="976.5" y="1052.0" width="2.1" height="14.4" fill="rgb(160,160,160)"/><rect x="980.8" y="1052.0" width="3.0" height="14.4" fill="rgb(222,222,222)"/><rect x="986.1" y="1052.0" width="2.0" height="14.4" fill="rgb(175,175,175)"/><rect x="990.6" y="1052.0" width="1.8" height="14.4" fill="rgb(175,175,175)"/><rect x="994.6" y="1052.0" width="3.1" height="14.4" fill="rgb(238,238,238)"/><rect x="999.8" y="1052.0" width="2.4" height="14.4" fill="rgb(230,230,230)"/><rect x="1004.2" y="1052.0" width="2.4" height="14.4" fill="rgb(238,238,238)"/><rect x="1008.9" y="1052.0" width="2.4" height="14.4" fill="rgb(160,160,160)"/><rect x="1012.8" y="1052.0" width="3.1" height="14.4" fill="rgb(214,214,214)"/><rect x="1017.1" y="1052.0" width="2.5" height="14.4" fill="rgb(190,190,190)"/><rect x="1022.1" y="1052.0" width="1.3" height="14.4" fill="rgb(238,238,238)"/><rect x="1025.9" y="1052.0" width="2.1" height="14.4" fill="rgb(238,238,238)"/><rect x="1030.4" y="1052.0" width="1.8" height="14.4" fill="rgb(206,206,206)"/><rect x="1034.0" y="1052.0" width="2.2" height="14.4" fill="rgb(145,145,145)"/><rect x="1037.6" y="1052.0" width="3.2" height="14.4" fill="rgb(145,145,145)"/><rect x="1042.3" y="1052.0" width="2.5" height="14.4" fill="rgb(222,222,222)"/><rect x="1046.7" y="1052.0" width="1.9" height="14.4" fill="rgb(238,238,238)"/><rect x="1050.0" y="1052.0" width="1.3" height="14.4" fill="rgb(230,230,230)"/><rect x="1052.7" y="1052.0" width="1.3" height="14.4" fill="rgb(230,230,230)"/><rect x="1055.1" y="1052.0" width="2.1" height="14.4" fill="rgb(230,230,230)"/><rect x="1059.3" y="1052.0" width="2.0" height="14.4" fill="rgb(230,230,230)"/><rect x="1063.8" y="1052.0" width="1.7" height="14.4" fill="rgb(222,222,222)"/><rect x="1068.0" y="1052.0" width="1.7" height="14.4" fill="rgb(222,222,222)"/><rect x="1070.7" y="1052.0" width="2.3" height="14.4" fill="rgb(206,206,206)"/>
<rect x="952.00" y="1052.00" width="8.00" height="14.40" fill="#8a8a8a"/>
<rect x="983.40" y="1052.00" width="6.50" height="14.40" fill="#8a8a8a"/>
<rect x="976.90" y="1052.00" width="3.90" height="14.40" fill="#000"/>
<rect x="1013.30" y="1052.00" width="6.50" height="14.40" fill="#000"/>
<rect x="1032.80" y="1052.00" width="3.90" height="14.40" fill="#000"/>
<rect x="985.00" y="1052.00" width="3.20" height="14.40" fill="#c8322a"/>
<rect x="938.00" y="1052.00" width="137.10" height="14.40" fill="none" stroke="#000" stroke-width="2.2"/>
<rect x="1087.9" y="1052.0" width="127.8" height="14.4" fill="#ffffff"/>
<rect x="1089.4" y="1052.0" width="2.9" height="14.4" fill="rgb(230,230,230)"/><rect x="1094.2" y="1052.0" width="2.2" height="14.4" fill="rgb(238,238,238)"/><rect x="1097.5" y="1052.0" width="2.7" height="14.4" fill="rgb(230,230,230)"/><rect x="1101.6" y="1052.0" width="1.7" height="14.4" fill="rgb(214,214,214)"/><rect x="1105.7" y="1052.0" width="3.0" height="14.4" fill="rgb(238,238,238)"/><rect x="1110.2" y="1052.0" width="2.4" height="14.4" fill="rgb(214,214,214)"/><rect x="1114.8" y="1052.0" width="1.7" height="14.4" fill="rgb(206,206,206)"/><rect x="1118.8" y="1052.0" width="2.0" height="14.4" fill="rgb(206,206,206)"/><rect x="1121.8" y="1052.0" width="2.3" height="14.4" fill="rgb(145,145,145)"/><rect x="1126.2" y="1052.0" width="2.1" height="14.4" fill="rgb(160,160,160)"/><rect x="1129.7" y="1052.0" width="3.2" height="14.4" fill="rgb(145,145,145)"/><rect x="1135.4" y="1052.0" width="2.8" height="14.4" fill="rgb(214,214,214)"/><rect x="1140.8" y="1052.0" width="2.6" height="14.4" fill="rgb(160,160,160)"/><rect x="1145.4" y="1052.0" width="2.1" height="14.4" fill="rgb(206,206,206)"/><rect x="1149.6" y="1052.0" width="2.3" height="14.4" fill="rgb(206,206,206)"/><rect x="1153.5" y="1052.0" width="2.2" height="14.4" fill="rgb(206,206,206)"/><rect x="1157.9" y="1052.0" width="2.4" height="14.4" fill="rgb(206,206,206)"/><rect x="1162.7" y="1052.0" width="1.8" height="14.4" fill="rgb(214,214,214)"/><rect x="1166.1" y="1052.0" width="2.6" height="14.4" fill="rgb(238,238,238)"/><rect x="1171.3" y="1052.0" width="2.3" height="14.4" fill="rgb(145,145,145)"/><rect x="1174.7" y="1052.0" width="2.7" height="14.4" fill="rgb(175,175,175)"/><rect x="1179.1" y="1052.0" width="1.5" height="14.4" fill="rgb(230,230,230)"/><rect x="1182.9" y="1052.0" width="1.2" height="14.4" fill="rgb(214,214,214)"/><rect x="1185.6" y="1052.0" width="1.7" height="14.4" fill="rgb(206,206,206)"/><rect x="1188.7" y="1052.0" width="2.5" height="14.4" fill="rgb(214,214,214)"/><rect x="1192.2" y="1052.0" width="1.5" height="14.4" fill="rgb(230,230,230)"/><rect x="1195.0" y="1052.0" width="2.2" height="14.4" fill="rgb(160,160,160)"/><rect x="1199.5" y="1052.0" width="2.0" height="14.4" fill="rgb(238,238,238)"/><rect x="1203.1" y="1052.0" width="2.3" height="14.4" fill="rgb(206,206,206)"/><rect x="1206.6" y="1052.0" width="3.0" height="14.4" fill="rgb(222,222,222)"/><rect x="1210.8" y="1052.0" width="2.3" height="14.4" fill="rgb(206,206,206)"/>
<rect x="1112.00" y="1052.00" width="3.00" height="14.40" fill="#8a8a8a"/>
<rect x="1122.00" y="1052.00" width="4.00" height="14.40" fill="#8a8a8a"/>
<rect x="1092.70" y="1052.00" width="3.90" height="14.40" fill="#000"/>
<rect x="1099.20" y="1052.00" width="3.90" height="14.40" fill="#000"/>
<rect x="1150.00" y="1052.00" width="6.40" height="14.40" fill="#000"/>
<rect x="1135.30" y="1052.00" width="3.20" height="14.40" fill="#c8322a"/>
<rect x="1087.90" y="1052.00" width="127.80" height="14.40" fill="none" stroke="#000" stroke-width="2.2"/>
<rect x="1228.9" y="1052.0" width="117.6" height="14.4" fill="#ffffff"/>
<rect x="1230.4" y="1052.0" width="2.2" height="14.4" fill="rgb(214,214,214)"/><rect x="1233.8" y="1052.0" width="2.3" height="14.4" fill="rgb(206,206,206)"/><rect x="1237.9" y="1052.0" width="2.4" height="14.4" fill="rgb(222,222,222)"/><rect x="1241.8" y="1052.0" width="3.1" height="14.4" fill="rgb(222,222,222)"/><rect x="1246.8" y="1052.0" width="1.6" height="14.4" fill="rgb(230,230,230)"/><rect x="1250.0" y="1052.0" width="2.7" height="14.4" fill="rgb(145,145,145)"/><rect x="1253.8" y="1052.0" width="2.4" height="14.4" fill="rgb(145,145,145)"/><rect x="1257.3" y="1052.0" width="2.1" height="14.4" fill="rgb(230,230,230)"/><rect x="1260.7" y="1052.0" width="1.9" height="14.4" fill="rgb(214,214,214)"/><rect x="1264.9" y="1052.0" width="2.2" height="14.4" fill="rgb(238,238,238)"/><rect x="1268.9" y="1052.0" width="3.0" height="14.4" fill="rgb(206,206,206)"/><rect x="1273.0" y="1052.0" width="2.8" height="14.4" fill="rgb(222,222,222)"/><rect x="1277.6" y="1052.0" width="1.6" height="14.4" fill="rgb(190,190,190)"/><rect x="1281.8" y="1052.0" width="1.8" height="14.4" fill="rgb(190,190,190)"/><rect x="1285.2" y="1052.0" width="2.5" height="14.4" fill="rgb(206,206,206)"/><rect x="1289.1" y="1052.0" width="2.8" height="14.4" fill="rgb(206,206,206)"/><rect x="1293.8" y="1052.0" width="2.6" height="14.4" fill="rgb(238,238,238)"/><rect x="1298.5" y="1052.0" width="2.7" height="14.4" fill="rgb(145,145,145)"/><rect x="1303.7" y="1052.0" width="2.9" height="14.4" fill="rgb(214,214,214)"/><rect x="1308.7" y="1052.0" width="2.1" height="14.4" fill="rgb(222,222,222)"/><rect x="1312.7" y="1052.0" width="1.6" height="14.4" fill="rgb(175,175,175)"/><rect x="1316.6" y="1052.0" width="2.1" height="14.4" fill="rgb(230,230,230)"/><rect x="1321.3" y="1052.0" width="2.5" height="14.4" fill="rgb(214,214,214)"/><rect x="1326.0" y="1052.0" width="2.4" height="14.4" fill="rgb(145,145,145)"/><rect x="1329.9" y="1052.0" width="1.8" height="14.4" fill="rgb(222,222,222)"/><rect x="1332.7" y="1052.0" width="2.7" height="14.4" fill="rgb(214,214,214)"/><rect x="1337.1" y="1052.0" width="1.5" height="14.4" fill="rgb(214,214,214)"/><rect x="1339.9" y="1052.0" width="1.8" height="14.4" fill="rgb(214,214,214)"/><rect x="1343.6" y="1052.0" width="1.5" height="14.4" fill="rgb(238,238,238)"/>
<rect x="1248.00" y="1052.00" width="4.00" height="14.40" fill="#8a8a8a"/>
<rect x="1233.20" y="1052.00" width="5.20" height="14.40" fill="#000"/>
<rect x="1241.00" y="1052.00" width="2.60" height="14.40" fill="#000"/>
<rect x="1289.20" y="1052.00" width="2.60" height="14.40" fill="#000"/>
<rect x="1298.30" y="1052.00" width="3.90" height="14.40" fill="#000"/>
<rect x="1317.80" y="1052.00" width="2.60" height="14.40" fill="#000"/>
<rect x="1264.20" y="1052.00" width="3.20" height="14.40" fill="#c8322a"/>
<rect x="1228.90" y="1052.00" width="117.60" height="14.40" fill="none" stroke="#000" stroke-width="2.2"/>
<text x="115.7" y="1088.6" font-size="18" text-anchor="middle">1</text>
<text x="328.5" y="1088.6" font-size="18" text-anchor="middle">2</text>
<text x="519.5" y="1088.6" font-size="18" text-anchor="middle">3</text>
<text x="689.5" y="1088.6" font-size="18" text-anchor="middle">4</text>
<text x="852.0" y="1088.6" font-size="18" text-anchor="middle">5</text>
<text x="1006.5" y="1088.6" font-size="18" text-anchor="middle">6</text>
<text x="1151.8" y="1088.6" font-size="18" text-anchor="middle">7</text>
<text x="1287.7" y="1088.6" font-size="18" text-anchor="middle">8</text>
<rect x="13.8" y="1237.7" width="112.1" height="14.5" fill="#ffffff"/>
<rect x="15.3" y="1237.7" width="1.6" height="14.5" fill="rgb(238,238,238)"/><rect x="18.3" y="1237.7" width="2.9" height="14.5" fill="rgb(238,238,238)"/><rect x="23.1" y="1237.7" width="1.4" height="14.5" fill="rgb(206,206,206)"/><rect x="26.5" y="1237.7" width="2.8" height="14.5" fill="rgb(214,214,214)"/><rect x="31.3" y="1237.7" width="2.0" height="14.5" fill="rgb(214,214,214)"/><rect x="34.4" y="1237.7" width="3.1" height="14.5" fill="rgb(230,230,230)"/><rect x="39.5" y="1237.7" width="2.4" height="14.5" fill="rgb(175,175,175)"/><rect x="44.1" y="1237.7" width="1.9" height="14.5" fill="rgb(230,230,230)"/><rect x="47.8" y="1237.7" width="2.2" height="14.5" fill="rgb(206,206,206)"/><rect x="52.1" y="1237.7" width="1.3" height="14.5" fill="rgb(238,238,238)"/><rect x="55.3" y="1237.7" width="2.0" height="14.5" fill="rgb(206,206,206)"/><rect x="58.8" y="1237.7" width="1.4" height="14.5" fill="rgb(214,214,214)"/><rect x="61.7" y="1237.7" width="1.4" height="14.5" fill="rgb(230,230,230)"/><rect x="64.3" y="1237.7" width="2.4" height="14.5" fill="rgb(222,222,222)"/><rect x="68.4" y="1237.7" width="3.0" height="14.5" fill="rgb(206,206,206)"/><rect x="73.1" y="1237.7" width="3.0" height="14.5" fill="rgb(238,238,238)"/><rect x="78.5" y="1237.7" width="1.7" height="14.5" fill="rgb(206,206,206)"/><rect x="81.8" y="1237.7" width="3.2" height="14.5" fill="rgb(190,190,190)"/><rect x="86.2" y="1237.7" width="2.4" height="14.5" fill="rgb(214,214,214)"/><rect x="89.9" y="1237.7" width="2.2" height="14.5" fill="rgb(230,230,230)"/><rect x="93.9" y="1237.7" width="2.7" height="14.5" fill="rgb(238,238,238)"/><rect x="97.8" y="1237.7" width="2.1" height="14.5" fill="rgb(206,206,206)"/><rect x="102.1" y="1237.7" width="2.6" height="14.5" fill="rgb(230,230,230)"/><rect x="106.1" y="1237.7" width="2.4" height="14.5" fill="rgb(214,214,214)"/><rect x="110.4" y="1237.7" width="2.2" height="14.5" fill="rgb(238,238,238)"/><rect x="114.9" y="1237.7" width="1.6" height="14.5" fill="rgb(206,206,206)"/><rect x="117.7" y="1237.7" width="2.7" height="14.5" fill="rgb(230,230,230)"/><rect x="122.8" y="1237.7" width="1.8" height="14.5" fill="rgb(206,206,206)"/>
<rect x="53.50" y="1237.70" width="12.50" height="14.50" fill="#dcdcdc"/>
<rect x="30.70" y="1237.70" width="4.70" height="14.50" fill="#000"/>
<rect x="36.20" y="1237.70" width="3.10" height="14.50" fill="#000"/>
<rect x="94.40" y="1237.70" width="4.00" height="14.50" fill="#000"/>
<rect x="51.10" y="1237.70" width="3.20" height="14.50" fill="#c8322a"/>
<rect x="13.80" y="1237.70" width="112.10" height="14.50" fill="none" stroke="#000" stroke-width="2.2"/>
<rect x="138.2" y="1237.7" width="107.3" height="14.5" fill="#ffffff"/>
<rect x="139.7" y="1237.7" width="2.5" height="14.5" fill="rgb(214,214,214)"/><rect x="144.6" y="1237.7" width="2.4" height="14.5" fill="rgb(206,206,206)"/><rect x="149.3" y="1237.7" width="2.4" height="14.5" fill="rgb(160,160,160)"/><rect x="153.4" y="1237.7" width="1.3" height="14.5" fill="rgb(230,230,230)"/><rect x="156.1" y="1237.7" width="1.6" height="14.5" fill="rgb(175,175,175)"/><rect x="159.5" y="1237.7" width="1.8" height="14.5" fill="rgb(214,214,214)"/><rect x="163.5" y="1237.7" width="2.9" height="14.5" fill="rgb(190,190,190)"/><rect x="167.6" y="1237.7" width="2.9" height="14.5" fill="rgb(238,238,238)"/><rect x="173.0" y="1237.7" width="1.4" height="14.5" fill="rgb(222,222,222)"/><rect x="176.3" y="1237.7" width="1.7" height="14.5" fill="rgb(206,206,206)"/><rect x="180.3" y="1237.7" width="2.8" height="14.5" fill="rgb(230,230,230)"/><rect x="185.4" y="1237.7" width="2.3" height="14.5" fill="rgb(214,214,214)"/><rect x="190.2" y="1237.7" width="1.9" height="14.5" fill="rgb(206,206,206)"/><rect x="193.1" y="1237.7" width="1.9" height="14.5" fill="rgb(214,214,214)"/><rect x="196.5" y="1237.7" width="2.3" height="14.5" fill="rgb(222,222,222)"/><rect x="200.9" y="1237.7" width="1.5" height="14.5" fill="rgb(230,230,230)"/><rect x="204.2" y="1237.7" width="1.3" height="14.5" fill="rgb(230,230,230)"/><rect x="207.3" y="1237.7" width="3.2" height="14.5" fill="rgb(160,160,160)"/><rect x="212.1" y="1237.7" width="2.3" height="14.5" fill="rgb(214,214,214)"/><rect x="216.2" y="1237.7" width="2.8" height="14.5" fill="rgb(238,238,238)"/><rect x="220.5" y="1237.7" width="2.4" height="14.5" fill="rgb(238,238,238)"/><rect x="224.3" y="1237.7" width="1.3" height="14.5" fill="rgb(230,230,230)"/><rect x="228.0" y="1237.7" width="1.5" height="14.5" fill="rgb(214,214,214)"/><rect x="231.8" y="1237.7" width="1.2" height="14.5" fill="rgb(230,230,230)"/><rect x="235.5" y="1237.7" width="2.6" height="14.5" fill="rgb(222,222,222)"/><rect x="239.8" y="1237.7" width="2.1" height="14.5" fill="rgb(222,222,222)"/><rect x="242.9" y="1237.7" width="1.3" height="14.5" fill="rgb(222,222,222)"/>
<rect x="143.40" y="1237.70" width="4.50" height="14.50" fill="#8a8a8a"/>
<rect x="180.40" y="1237.70" width="5.60" height="14.50" fill="#000"/>
<rect x="189.40" y="1237.70" width="4.40" height="14.50" fill="#000"/>
<rect x="202.80" y="1237.70" width="4.50" height="14.50" fill="#000"/>
<rect x="221.80" y="1237.70" width="3.40" height="14.50" fill="#000"/>
<rect x="168.70" y="1237.70" width="3.20" height="14.50" fill="#c8322a"/>
<rect x="138.20" y="1237.70" width="107.30" height="14.50" fill="none" stroke="#000" stroke-width="2.2"/>
<rect x="257.6" y="1237.7" width="108.2" height="14.5" fill="#ffffff"/>
<rect x="259.1" y="1237.7" width="2.8" height="14.5" fill="rgb(160,160,160)"/><rect x="263.0" y="1237.7" width="2.0" height="14.5" fill="rgb(222,222,222)"/><rect x="266.5" y="1237.7" width="1.5" height="14.5" fill="rgb(160,160,160)"/><rect x="269.4" y="1237.7" width="2.3" height="14.5" fill="rgb(214,214,214)"/><rect x="274.0" y="1237.7" width="3.1" height="14.5" fill="rgb(222,222,222)"/><rect x="279.0" y="1237.7" width="3.1" height="14.5" fill="rgb(206,206,206)"/><rect x="284.2" y="1237.7" width="2.3" height="14.5" fill="rgb(230,230,230)"/><rect x="288.9" y="1237.7" width="2.2" height="14.5" fill="rgb(206,206,206)"/><rect x="292.6" y="1237.7" width="1.3" height="14.5" fill="rgb(145,145,145)"/><rect x="295.4" y="1237.7" width="2.4" height="14.5" fill="rgb(222,222,222)"/><rect x="300.3" y="1237.7" width="2.9" height="14.5" fill="rgb(145,145,145)"/><rect x="305.6" y="1237.7" width="2.7" height="14.5" fill="rgb(230,230,230)"/><rect x="309.8" y="1237.7" width="2.3" height="14.5" fill="rgb(206,206,206)"/><rect x="313.9" y="1237.7" width="1.4" height="14.5" fill="rgb(214,214,214)"/><rect x="317.2" y="1237.7" width="1.9" height="14.5" fill="rgb(222,222,222)"/><rect x="321.5" y="1237.7" width="2.2" height="14.5" fill="rgb(145,145,145)"/><rect x="325.9" y="1237.7" width="3.1" height="14.5" fill="rgb(230,230,230)"/><rect x="331.4" y="1237.7" width="2.0" height="14.5" fill="rgb(222,222,222)"/><rect x="335.5" y="1237.7" width="1.4" height="14.5" fill="rgb(214,214,214)"/><rect x="339.3" y="1237.7" width="1.2" height="14.5" fill="rgb(230,230,230)"/><rect x="341.6" y="1237.7" width="1.4" height="14.5" fill="rgb(214,214,214)"/><rect x="345.6" y="1237.7" width="1.6" height="14.5" fill="rgb(222,222,222)"/><rect x="348.2" y="1237.7" width="2.0" height="14.5" fill="rgb(222,222,222)"/><rect x="352.1" y="1237.7" width="2.2" height="14.5" fill="rgb(238,238,238)"/><rect x="355.4" y="1237.7" width="2.9" height="14.5" fill="rgb(222,222,222)"/><rect x="360.7" y="1237.7" width="2.7" height="14.5" fill="rgb(222,222,222)"/>
<rect x="298.00" y="1237.70" width="5.50" height="14.50" fill="#8a8a8a"/>
<rect x="276.70" y="1237.70" width="3.30" height="14.50" fill="#000"/>
<rect x="286.80" y="1237.70" width="6.70" height="14.50" fill="#000"/>
<rect x="318.10" y="1237.70" width="6.70" height="14.50" fill="#000"/>
<rect x="328.20" y="1237.70" width="3.40" height="14.50" fill="#000"/>
<rect x="334.90" y="1237.70" width="9.00" height="14.50" fill="#000"/>
<rect x="299.10" y="1237.70" width="3.20" height="14.50" fill="#c8322a"/>
<rect x="257.60" y="1237.70" width="108.20" height="14.50" fill="none" stroke="#000" stroke-width="2.2"/>
<rect x="377.6" y="1237.7" width="105.8" height="14.5" fill="#ffffff"/>
<rect x="379.1" y="1237.7" width="2.0" height="14.5" fill="rgb(214,214,214)"/><rect x="382.1" y="1237.7" width="1.7" height="14.5" fill="rgb(214,214,214)"/><rect x="385.1" y="1237.7" width="2.9" height="14.5" fill="rgb(230,230,230)"/><rect x="389.8" y="1237.7" width="2.8" height="14.5" fill="rgb(206,206,206)"/><rect x="394.1" y="1237.7" width="2.8" height="14.5" fill="rgb(238,238,238)"/><rect x="398.6" y="1237.7" width="1.6" height="14.5" fill="rgb(222,222,222)"/><rect x="401.3" y="1237.7" width="3.0" height="14.5" fill="rgb(175,175,175)"/><rect x="406.0" y="1237.7" width="2.0" height="14.5" fill="rgb(145,145,145)"/><rect x="409.2" y="1237.7" width="2.6" height="14.5" fill="rgb(206,206,206)"/><rect x="414.1" y="1237.7" width="2.7" height="14.5" fill="rgb(238,238,238)"/><rect x="418.2" y="1237.7" width="1.4" height="14.5" fill="rgb(238,238,238)"/><rect x="421.3" y="1237.7" width="1.6" height="14.5" fill="rgb(238,238,238)"/><rect x="424.5" y="1237.7" width="2.6" height="14.5" fill="rgb(222,222,222)"/><rect x="428.9" y="1237.7" width="2.5" height="14.5" fill="rgb(190,190,190)"/><rect x="432.6" y="1237.7" width="1.5" height="14.5" fill="rgb(160,160,160)"/><rect x="435.7" y="1237.7" width="2.7" height="14.5" fill="rgb(206,206,206)"/><rect x="440.4" y="1237.7" width="1.6" height="14.5" fill="rgb(230,230,230)"/><rect x="443.1" y="1237.7" width="2.2" height="14.5" fill="rgb(206,206,206)"/><rect x="447.3" y="1237.7" width="2.8" height="14.5" fill="rgb(222,222,222)"/><rect x="451.2" y="1237.7" width="1.4" height="14.5" fill="rgb(230,230,230)"/><rect x="453.8" y="1237.7" width="1.9" height="14.5" fill="rgb(175,175,175)"/><rect x="457.4" y="1237.7" width="1.7" height="14.5" fill="rgb(222,222,222)"/><rect x="460.8" y="1237.7" width="2.7" height="14.5" fill="rgb(145,145,145)"/><rect x="465.0" y="1237.7" width="2.2" height="14.5" fill="rgb(238,238,238)"/><rect x="468.9" y="1237.7" width="3.1" height="14.5" fill="rgb(214,214,214)"/><rect x="474.5" y="1237.7" width="1.5" height="14.5" fill="rgb(238,238,238)"/><rect x="478.5" y="1237.7" width="2.1" height="14.5" fill="rgb(214,214,214)"/>
<rect x="402.00" y="1237.70" width="7.00" height="14.50" fill="#8a8a8a"/>
<rect x="389.80" y="1237.70" width="3.40" height="14.50" fill="#000"/>
<rect x="395.40" y="1237.70" width="2.20" height="14.50" fill="#000"/>
<rect x="408.80" y="1237.70" width="4.50" height="14.50" fill="#000"/>
<rect x="444.70" y="1237.70" width="2.20" height="14.50" fill="#000"/>
<rect x="404.40" y="1237.70" width="3.20" height="14.50" fill="#c8322a"/>
<rect x="377.60" y="1237.70" width="105.80" height="14.50" fill="none" stroke="#000" stroke-width="2.2"/>
<rect x="496.0" y="1237.7" width="91.5" height="14.5" fill="#ffffff"/>
<rect x="497.5" y="1237.7" width="1.4" height="14.5" fill="rgb(230,230,230)"/><rect x="500.9" y="1237.7" width="1.2" height="14.5" fill="rgb(222,222,222)"/><rect x="503.1" y="1237.7" width="2.8" height="14.5" fill="rgb(222,222,222)"/><rect x="508.1" y="1237.7" width="2.7" height="14.5" fill="rgb(145,145,145)"/><rect x="513.2" y="1237.7" width="1.8" height="14.5" fill="rgb(145,145,145)"/><rect x="516.8" y="1237.7" width="2.3" height="14.5" fill="rgb(160,160,160)"/><rect x="520.7" y="1237.7" width="2.7" height="14.5" fill="rgb(190,190,190)"/><rect x="525.6" y="1237.7" width="2.7" height="14.5" fill="rgb(160,160,160)"/><rect x="530.2" y="1237.7" width="1.8" height="14.5" fill="rgb(230,230,230)"/><rect x="533.2" y="1237.7" width="3.2" height="14.5" fill="rgb(214,214,214)"/><rect x="538.5" y="1237.7" width="2.6" height="14.5" fill="rgb(214,214,214)"/><rect x="542.5" y="1237.7" width="1.7" height="14.5" fill="rgb(206,206,206)"/><rect x="545.9" y="1237.7" width="1.6" height="14.5" fill="rgb(214,214,214)"/><rect x="549.5" y="1237.7" width="2.3" height="14.5" fill="rgb(230,230,230)"/><rect x="553.6" y="1237.7" width="2.4" height="14.5" fill="rgb(214,214,214)"/><rect x="557.3" y="1237.7" width="1.8" height="14.5" fill="rgb(160,160,160)"/><rect x="560.6" y="1237.7" width="1.4" height="14.5" fill="rgb(238,238,238)"/><rect x="563.7" y="1237.7" width="2.5" height="14.5" fill="rgb(238,238,238)"/><rect x="567.7" y="1237.7" width="1.3" height="14.5" fill="rgb(206,206,206)"/><rect x="571.4" y="1237.7" width="2.8" height="14.5" fill="rgb(214,214,214)"/><rect x="576.6" y="1237.7" width="1.9" height="14.5" fill="rgb(175,175,175)"/><rect x="580.6" y="1237.7" width="2.6" height="14.5" fill="rgb(160,160,160)"/><rect x="584.7" y="1237.7" width="1.6" height="14.5" fill="rgb(214,214,214)"/>
<rect x="498.00" y="1237.70" width="7.30" height="14.50" fill="#a4b4cc"/>
<rect x="554.00" y="1237.70" width="3.00" height="14.50" fill="#000"/>
<rect x="558.80" y="1237.70" width="4.70" height="14.50" fill="#000"/>
<rect x="567.30" y="1237.70" width="2.70" height="14.50" fill="#000"/>
<rect x="508.40" y="1237.70" width="3.20" height="14.50" fill="#c8322a"/>
<rect x="496.00" y="1237.70" width="91.50" height="14.50" fill="none" stroke="#000" stroke-width="2.2"/>
<rect x="599.2" y="1237.7" width="85.3" height="14.5" fill="#ffffff"/>
<rect x="600.7" y="1237.7" width="2.5" height="14.5" fill="rgb(238,238,238)"/><rect x="605.3" y="1237.7" width="1.5" height="14.5" fill="rgb(222,222,222)"/><rect x="608.2" y="1237.7" width="3.1" height="14.5" fill="rgb(230,230,230)"/><rect x="612.3" y="1237.7" width="2.7" height="14.5" fill="rgb(206,206,206)"/><rect x="617.4" y="1237.7" width="3.0" height="14.5" fill="rgb(206,206,206)"/><rect x="622.4" y="1237.7" width="2.6" height="14.5" fill="rgb(230,230,230)"/><rect x="627.0" y="1237.7" width="1.9" height="14.5" fill="rgb(222,222,222)"/><rect x="631.0" y="1237.7" width="1.3" height="14.5" fill="rgb(230,230,230)"/><rect x="634.1" y="1237.7" width="2.8" height="14.5" fill="rgb(190,190,190)"/><rect x="638.1" y="1237.7" width="2.9" height="14.5" fill="rgb(222,222,222)"/><rect x="643.0" y="1237.7" width="1.5" height="14.5" fill="rgb(214,214,214)"/><rect x="646.5" y="1237.7" width="1.6" height="14.5" fill="rgb(230,230,230)"/><rect x="649.5" y="1237.7" width="2.4" height="14.5" fill="rgb(222,222,222)"/><rect x="653.2" y="1237.7" width="2.1" height="14.5" fill="rgb(230,230,230)"/><rect x="656.4" y="1237.7" width="2.6" height="14.5" fill="rgb(175,175,175)"/><rect x="660.3" y="1237.7" width="1.9" height="14.5" fill="rgb(230,230,230)"/><rect x="663.8" y="1237.7" width="1.8" height="14.5" fill="rgb(206,206,206)"/><rect x="668.1" y="1237.7" width="3.2" height="14.5" fill="rgb(160,160,160)"/><rect x="673.6" y="1237.7" width="1.5" height="14.5" fill="rgb(206,206,206)"/><rect x="676.5" y="1237.7" width="1.7" height="14.5" fill="rgb(214,214,214)"/><rect x="680.4" y="1237.7" width="2.8" height="14.5" fill="rgb(222,222,222)"/>
<rect x="601.00" y="1237.70" width="8.00" height="14.50" fill="#a4b4cc"/>
<rect x="619.80" y="1237.70" width="5.60" height="14.50" fill="#000"/>
<rect x="633.90" y="1237.70" width="2.80" height="14.50" fill="#000"/>
<rect x="664.80" y="1237.70" width="1.90" height="14.50" fill="#000"/>
<rect x="612.40" y="1237.70" width="3.20" height="14.50" fill="#c8322a"/>
<rect x="599.20" y="1237.70" width="85.30" height="14.50" fill="none" stroke="#000" stroke-width="2.2"/>
<rect x="696.7" y="1237.7" width="81.3" height="14.5" fill="#ffffff"/>
<rect x="698.2" y="1237.7" width="2.8" height="14.5" fill="rgb(175,175,175)"/><rect x="702.5" y="1237.7" width="2.5" height="14.5" fill="rgb(214,214,214)"/><rect x="707.4" y="1237.7" width="2.9" height="14.5" fill="rgb(190,190,190)"/><rect x="711.4" y="1237.7" width="1.8" height="14.5" fill="rgb(214,214,214)"/><rect x="715.3" y="1237.7" width="2.0" height="14.5" fill="rgb(214,214,214)"/><rect x="718.5" y="1237.7" width="1.4" height="14.5" fill="rgb(230,230,230)"/><rect x="722.3" y="1237.7" width="1.9" height="14.5" fill="rgb(222,222,222)"/><rect x="726.1" y="1237.7" width="2.4" height="14.5" fill="rgb(230,230,230)"/><rect x="730.8" y="1237.7" width="2.8" height="14.5" fill="rgb(230,230,230)"/><rect x="735.3" y="1237.7" width="2.7" height="14.5" fill="rgb(206,206,206)"/><rect x="739.9" y="1237.7" width="2.0" height="14.5" fill="rgb(222,222,222)"/><rect x="744.5" y="1237.7" width="3.1" height="14.5" fill="rgb(238,238,238)"/><rect x="749.5" y="1237.7" width="2.2" height="14.5" fill="rgb(214,214,214)"/><rect x="753.7" y="1237.7" width="1.9" height="14.5" fill="rgb(145,145,145)"/><rect x="756.8" y="1237.7" width="3.1" height="14.5" fill="rgb(238,238,238)"/><rect x="762.0" y="1237.7" width="2.0" height="14.5" fill="rgb(238,238,238)"/><rect x="765.7" y="1237.7" width="2.1" height="14.5" fill="rgb(222,222,222)"/><rect x="770.2" y="1237.7" width="3.0" height="14.5" fill="rgb(214,214,214)"/><rect x="775.6" y="1237.7" width="2.7" height="14.5" fill="rgb(222,222,222)"/>
<rect x="698.50" y="1237.70" width="8.00" height="14.50" fill="#a4b4cc"/>
<rect x="710.60" y="1237.70" width="3.20" height="14.50" fill="#c8322a"/>
<rect x="696.70" y="1237.70" width="81.30" height="14.50" fill="none" stroke="#000" stroke-width="2.2"/>
<rect x="789.9" y="1237.7" width="71.5" height="14.5" fill="#ffffff"/>
<rect x="791.4" y="1237.7" width="3.2" height="14.5" fill="rgb(206,206,206)"/><rect x="796.4" y="1237.7" width="1.7" height="14.5" fill="rgb(175,175,175)"/><rect x="799.8" y="1237.7" width="2.6" height="14.5" fill="rgb(214,214,214)"/><rect x="804.7" y="1237.7" width="2.8" height="14.5" fill="rgb(238,238,238)"/><rect x="810.1" y="1237.7" width="2.8" height="14.5" fill="rgb(238,238,238)"/><rect x="814.9" y="1237.7" width="1.7" height="14.5" fill="rgb(230,230,230)"/><rect x="818.8" y="1237.7" width="2.6" height="14.5" fill="rgb(206,206,206)"/><rect x="823.3" y="1237.7" width="2.3" height="14.5" fill="rgb(222,222,222)"/><rect x="826.7" y="1237.7" width="2.7" height="14.5" fill="rgb(238,238,238)"/><rect x="831.9" y="1237.7" width="2.3" height="14.5" fill="rgb(222,222,222)"/><rect x="836.2" y="1237.7" width="2.3" height="14.5" fill="rgb(206,206,206)"/><rect x="840.5" y="1237.7" width="2.3" height="14.5" fill="rgb(214,214,214)"/><rect x="844.4" y="1237.7" width="2.7" height="14.5" fill="rgb(175,175,175)"/><rect x="849.3" y="1237.7" width="3.0" height="14.5" fill="rgb(230,230,230)"/><rect x="854.4" y="1237.7" width="1.8" height="14.5" fill="rgb(214,214,214)"/><rect x="858.6" y="1237.7" width="1.6" height="14.5" fill="rgb(206,206,206)"/>
<rect x="820.00" y="1237.70" width="15.00" height="14.50" fill="#dcdcdc"/>
<rect x="835.20" y="1237.70" width="6.50" height="14.50" fill="#000"/>
<rect x="817.20" y="1237.70" width="3.20" height="14.50" fill="#c8322a"/>
<rect x="789.90" y="1237.70" width="71.50" height="14.50" fill="none" stroke="#000" stroke-width="2.2"/>
<rect x="873.4" y="1237.7" width="64.7" height="14.5" fill="#ffffff"/>
<rect x="874.9" y="1237.7" width="2.6" height="14.5" fill="rgb(222,222,222)"/><rect x="879.0" y="1237.7" width="2.1" height="14.5" fill="rgb(238,238,238)"/><rect x="883.4" y="1237.7" width="2.8" height="14.5" fill="rgb(222,222,222)"/><rect x="888.4" y="1237.7" width="2.0" height="14.5" fill="rgb(206,206,206)"/><rect x="892.6" y="1237.7" width="2.6" height="14.5" fill="rgb(175,175,175)"/><rect x="896.4" y="1237.7" width="3.2" height="14.5" fill="rgb(206,206,206)"/><rect x="901.3" y="1237.7" width="1.7" height="14.5" fill="rgb(238,238,238)"/><rect x="904.6" y="1237.7" width="3.1" height="14.5" fill="rgb(222,222,222)"/><rect x="909.0" y="1237.7" width="3.0" height="14.5" fill="rgb(230,230,230)"/><rect x="913.7" y="1237.7" width="1.5" height="14.5" fill="rgb(206,206,206)"/><rect x="917.0" y="1237.7" width="1.4" height="14.5" fill="rgb(238,238,238)"/><rect x="920.4" y="1237.7" width="1.5" height="14.5" fill="rgb(238,238,238)"/><rect x="922.9" y="1237.7" width="2.8" height="14.5" fill="rgb(206,206,206)"/><rect x="927.1" y="1237.7" width="1.5" height="14.5" fill="rgb(214,214,214)"/><rect x="930.9" y="1237.7" width="2.7" height="14.5" fill="rgb(230,230,230)"/><rect x="936.1" y="1237.7" width="2.7" height="14.5" fill="rgb(230,230,230)"/>
<rect x="891.00" y="1237.70" width="3.20" height="14.50" fill="#c8322a"/>
<rect x="873.40" y="1237.70" width="64.70" height="14.50" fill="none" stroke="#000" stroke-width="2.2"/>
<rect x="949.7" y="1237.7" width="62.0" height="14.5" fill="#ffffff"/>
<rect x="951.2" y="1237.7" width="2.7" height="14.5" fill="rgb(206,206,206)"/><rect x="955.6" y="1237.7" width="1.3" height="14.5" fill="rgb(222,222,222)"/><rect x="958.2" y="1237.7" width="2.1" height="14.5" fill="rgb(214,214,214)"/><rect x="962.8" y="1237.7" width="1.6" height="14.5" fill="rgb(206,206,206)"/><rect x="965.5" y="1237.7" width="2.0" height="14.5" fill="rgb(238,238,238)"/><rect x="968.8" y="1237.7" width="1.8" height="14.5" fill="rgb(230,230,230)"/><rect x="972.8" y="1237.7" width="1.4" height="14.5" fill="rgb(206,206,206)"/><rect x="976.3" y="1237.7" width="2.0" height="14.5" fill="rgb(222,222,222)"/><rect x="980.1" y="1237.7" width="3.1" height="14.5" fill="rgb(214,214,214)"/><rect x="984.8" y="1237.7" width="1.5" height="14.5" fill="rgb(230,230,230)"/><rect x="987.6" y="1237.7" width="2.3" height="14.5" fill="rgb(206,206,206)"/><rect x="991.6" y="1237.7" width="3.1" height="14.5" fill="rgb(238,238,238)"/><rect x="996.0" y="1237.7" width="2.2" height="14.5" fill="rgb(206,206,206)"/><rect x="1000.6" y="1237.7" width="2.3" height="14.5" fill="rgb(222,222,222)"/><rect x="1004.1" y="1237.7" width="2.3" height="14.5" fill="rgb(175,175,175)"/><rect x="1008.9" y="1237.7" width="3.0" height="14.5" fill="rgb(214,214,214)"/>
<rect x="970.30" y="1237.70" width="4.40" height="14.50" fill="#000"/>
<rect x="998.70" y="1237.70" width="2.90" height="14.50" fill="#000"/>
<rect x="962.20" y="1237.70" width="3.20" height="14.50" fill="#c8322a"/>
<rect x="949.70" y="1237.70" width="62.00" height="14.50" fill="none" stroke="#000" stroke-width="2.2"/>
<rect x="1023.4" y="1237.7" width="46.6" height="14.5" fill="#ffffff"/>
<rect x="1024.9" y="1237.7" width="3.0" height="14.5" fill="rgb(230,230,230)"/><rect x="1030.0" y="1237.7" width="3.1" height="14.5" fill="rgb(214,214,214)"/><rect x="1034.8" y="1237.7" width="1.9" height="14.5" fill="rgb(238,238,238)"/><rect x="1039.1" y="1237.7" width="2.3" height="14.5" fill="rgb(206,206,206)"/><rect x="1042.5" y="1237.7" width="2.1" height="14.5" fill="rgb(214,214,214)"/><rect x="1046.8" y="1237.7" width="1.4" height="14.5" fill="rgb(206,206,206)"/><rect x="1049.3" y="1237.7" width="1.7" height="14.5" fill="rgb(160,160,160)"/><rect x="1052.1" y="1237.7" width="3.1" height="14.5" fill="rgb(175,175,175)"/><rect x="1057.4" y="1237.7" width="1.3" height="14.5" fill="rgb(230,230,230)"/><rect x="1060.0" y="1237.7" width="2.9" height="14.5" fill="rgb(230,230,230)"/><rect x="1065.1" y="1237.7" width="1.6" height="14.5" fill="rgb(230,230,230)"/>
<rect x="1029.00" y="1237.70" width="8.00" height="14.50" fill="#dcdcdc"/>
<rect x="1042.60" y="1237.70" width="3.20" height="14.50" fill="#c8322a"/>
<rect x="1023.40" y="1237.70" width="46.60" height="14.50" fill="none" stroke="#000" stroke-width="2.2"/>
<rect x="1081.6" y="1237.7" width="49.7" height="14.5" fill="#ffffff"/>
<rect x="1083.1" y="1237.7" width="2.6" height="14.5" fill="rgb(206,206,206)"/><rect x="1087.4" y="1237.7" width="3.2" height="14.5" fill="rgb(238,238,238)"/><rect x="1092.4" y="1237.7" width="2.0" height="14.5" fill="rgb(222,222,222)"/><rect x="1096.1" y="1237.7" width="3.1" height="14.5" fill="rgb(160,160,160)"/><rect x="1100.8" y="1237.7" width="1.2" height="14.5" fill="rgb(238,238,238)"/><rect x="1103.1" y="1237.7" width="2.2" height="14.5" fill="rgb(206,206,206)"/><rect x="1107.5" y="1237.7" width="1.9" height="14.5" fill="rgb(145,145,145)"/><rect x="1111.3" y="1237.7" width="2.0" height="14.5" fill="rgb(175,175,175)"/><rect x="1114.8" y="1237.7" width="2.3" height="14.5" fill="rgb(214,214,214)"/><rect x="1119.5" y="1237.7" width="3.1" height="14.5" fill="rgb(206,206,206)"/><rect x="1123.9" y="1237.7" width="2.5" height="14.5" fill="rgb(206,206,206)"/><rect x="1127.6" y="1237.7" width="2.4" height="14.5" fill="rgb(190,190,190)"/>
<rect x="1101.40" y="1237.70" width="3.20" height="14.50" fill="#c8322a"/>
<rect x="1081.60" y="1237.70" width="49.70" height="14.50" fill="none" stroke="#000" stroke-width="2.2"/>
<rect x="1143.4" y="1237.7" width="37.7" height="14.5" fill="#ffffff"/>
<rect x="1144.9" y="1237.7" width="2.4" height="14.5" fill="rgb(145,145,145)"/><rect x="1149.7" y="1237.7" width="2.7" height="14.5" fill="rgb(145,145,145)"/><rect x="1153.9" y="1237.7" width="2.8" height="14.5" fill="rgb(206,206,206)"/><rect x="1159.0" y="1237.7" width="2.4" height="14.5" fill="rgb(160,160,160)"/><rect x="1163.8" y="1237.7" width="1.9" height="14.5" fill="rgb(206,206,206)"/><rect x="1167.1" y="1237.7" width="3.0" height="14.5" fill="rgb(145,145,145)"/><rect x="1171.8" y="1237.7" width="3.1" height="14.5" fill="rgb(238,238,238)"/><rect x="1177.5" y="1237.7" width="1.8" height="14.5" fill="rgb(160,160,160)"/>
<rect x="1144.50" y="1237.70" width="5.50" height="14.50" fill="#a4b4cc"/>
<rect x="1157.50" y="1237.70" width="4.30" height="14.50" fill="#000"/>
<rect x="1152.30" y="1237.70" width="3.20" height="14.50" fill="#c8322a"/>
<rect x="1143.40" y="1237.70" width="37.70" height="14.50" fill="none" stroke="#000" stroke-width="2.2"/>
<rect x="1192.8" y="1237.7" width="40.7" height="14.5" fill="#ffffff"/>
<rect x="1194.3" y="1237.7" width="1.5" height="14.5" fill="rgb(214,214,214)"/><rect x="1198.1" y="1237.7" width="1.3" height="14.5" fill="rgb(222,222,222)"/><rect x="1201.7" y="1237.7" width="3.1" height="14.5" fill="rgb(214,214,214)"/><rect x="1206.1" y="1237.7" width="1.6" height="14.5" fill="rgb(222,222,222)"/><rect x="1210.1" y="1237.7" width="2.8" height="14.5" fill="rgb(190,190,190)"/><rect x="1214.1" y="1237.7" width="1.4" height="14.5" fill="rgb(206,206,206)"/><rect x="1217.5" y="1237.7" width="3.0" height="14.5" fill="rgb(206,206,206)"/><rect x="1221.8" y="1237.7" width="2.9" height="14.5" fill="rgb(214,214,214)"/><rect x="1226.5" y="1237.7" width="1.9" height="14.5" fill="rgb(214,214,214)"/><rect x="1229.4" y="1237.7" width="1.4" height="14.5" fill="rgb(145,145,145)"/><rect x="1231.9" y="1237.7" width="2.5" height="14.5" fill="rgb(238,238,238)"/>
<rect x="1194.00" y="1237.70" width="6.00" height="14.50" fill="#a4b4cc"/>
<rect x="1203.10" y="1237.70" width="3.20" height="14.50" fill="#c8322a"/>
<rect x="1192.80" y="1237.70" width="40.70" height="14.50" fill="none" stroke="#000" stroke-width="2.2"/>
<rect x="1245.7" y="1237.7" width="123.3" height="14.5" fill="#ffffff"/>
<rect x="1247.2" y="1237.7" width="2.3" height="14.5" fill="rgb(238,238,238)"/><rect x="1251.6" y="1237.7" width="2.6" height="14.5" fill="rgb(214,214,214)"/><rect x="1256.0" y="1237.7" width="2.6" height="14.5" fill="rgb(222,222,222)"/><rect x="1260.9" y="1237.7" width="1.4" height="14.5" fill="rgb(230,230,230)"/><rect x="1263.6" y="1237.7" width="2.1" height="14.5" fill="rgb(214,214,214)"/><rect x="1267.1" y="1237.7" width="2.5" height="14.5" fill="rgb(214,214,214)"/><rect x="1271.1" y="1237.7" width="2.4" height="14.5" fill="rgb(160,160,160)"/><rect x="1275.4" y="1237.7" width="3.0" height="14.5" fill="rgb(214,214,214)"/><rect x="1281.0" y="1237.7" width="2.6" height="14.5" fill="rgb(238,238,238)"/><rect x="1285.3" y="1237.7" width="1.6" height="14.5" fill="rgb(214,214,214)"/><rect x="1289.4" y="1237.7" width="1.7" height="14.5" fill="rgb(206,206,206)"/><rect x="1293.4" y="1237.7" width="2.4" height="14.5" fill="rgb(230,230,230)"/><rect x="1297.2" y="1237.7" width="2.5" height="14.5" fill="rgb(230,230,230)"/><rect x="1302.1" y="1237.7" width="2.2" height="14.5" fill="rgb(145,145,145)"/><rect x="1306.8" y="1237.7" width="1.6" height="14.5" fill="rgb(206,206,206)"/><rect x="1310.6" y="1237.7" width="2.4" height="14.5" fill="rgb(230,230,230)"/><rect x="1314.6" y="1237.7" width="1.4" height="14.5" fill="rgb(230,230,230)"/><rect x="1317.0" y="1237.7" width="1.6" height="14.5" fill="rgb(206,206,206)"/><rect x="1320.9" y="1237.7" width="1.3" height="14.5" fill="rgb(222,222,222)"/><rect x="1324.5" y="1237.7" width="1.4" height="14.5" fill="rgb(238,238,238)"/><rect x="1327.0" y="1237.7" width="2.5" height="14.5" fill="rgb(214,214,214)"/><rect x="1331.3" y="1237.7" width="1.7" height="14.5" fill="rgb(160,160,160)"/><rect x="1334.6" y="1237.7" width="1.6" height="14.5" fill="rgb(230,230,230)"/><rect x="1338.5" y="1237.7" width="1.8" height="14.5" fill="rgb(230,230,230)"/><rect x="1341.7" y="1237.7" width="3.0" height="14.5" fill="rgb(206,206,206)"/><rect x="1346.1" y="1237.7" width="1.3" height="14.5" fill="rgb(238,238,238)"/><rect x="1348.4" y="1237.7" width="1.6" height="14.5" fill="rgb(222,222,222)"/><rect x="1351.1" y="1237.7" width="2.5" height="14.5" fill="rgb(190,190,190)"/><rect x="1355.1" y="1237.7" width="2.0" height="14.5" fill="rgb(222,222,222)"/><rect x="1358.5" y="1237.7" width="2.9" height="14.5" fill="rgb(222,222,222)"/><rect x="1363.6" y="1237.7" width="3.1" height="14.5" fill="rgb(214,214,214)"/>
<rect x="1266.80" y="1237.70" width="3.00" height="14.50" fill="#000"/>
<rect x="1270.80" y="1237.70" width="4.70" height="14.50" fill="#000"/>
<rect x="1306.50" y="1237.70" width="5.70" height="14.50" fill="#000"/>
<rect x="1313.20" y="1237.70" width="4.00" height="14.50" fill="#000"/>
<rect x="1340.40" y="1237.70" width="5.80" height="14.50" fill="#000"/>
<rect x="1356.90" y="1237.70" width="3.80" height="14.50" fill="#000"/>
<rect x="1292.40" y="1237.70" width="3.20" height="14.50" fill="#c8322a"/>
<rect x="1245.70" y="1237.70" width="123.30" height="14.50" fill="none" stroke="#000" stroke-width="2.2"/>
<text x="69.9" y="1273.2" font-size="18" text-anchor="middle">9</text>
<text x="191.9" y="1273.2" font-size="18" text-anchor="middle">10</text>
<text x="311.7" y="1273.2" font-size="18" text-anchor="middle">11</text>
<text x="430.5" y="1273.2" font-size="18" text-anchor="middle">12</text>
<text x="541.7" y="1273.2" font-size="18" text-anchor="middle">13</text>
<text x="641.9" y="1273.2" font-size="18" text-anchor="middle">14</text>
<text x="737.4" y="1273.2" font-size="18" text-anchor="middle">15</text>
<text x="825.6" y="1273.2" font-size="18" text-anchor="middle">16</text>
<text x="905.8" y="1273.2" font-size="18" text-anchor="middle">17</text>
<text x="980.7" y="1273.2" font-size="18" text-anchor="middle">18</text>
<text x="1046.7" y="1273.2" font-size="18" text-anchor="middle">19</text>
<text x="1106.5" y="1273.2" font-size="18" text-anchor="middle">20</text>
<text x="1162.3" y="1273.2" font-size="18" text-anchor="middle">21</text>
<text x="1213.2" y="1273.2" font-size="18" text-anchor="middle">22</text>
<text x="1307.4" y="1273.2" font-size="18" text-anchor="middle">X</text>
<g stroke-width="3.9" stroke-linecap="round"><line x1="20.5" y1="1041.1" x2="213.8" y2="1041.1" stroke="#cc1014"/><line x1="52.5" y1="1033.1" x2="55.4" y2="1033.1" stroke="#cc1014"/><line x1="141.7" y1="1025.1" x2="213.8" y2="1025.1" stroke="#cc1014"/><line x1="134.3" y1="1017.1" x2="213.8" y2="1017.1" stroke="#cc1014"/><line x1="143.1" y1="1009.1" x2="213.8" y2="1009.1" stroke="#0808cc"/><line x1="145.7" y1="1001.1" x2="156.6" y2="1001.1" stroke="#0808cc"/><line x1="159.0" y1="993.1" x2="159.6" y2="993.1" stroke="#0808cc"/><line x1="442.5" y1="1041.1" x2="512.4" y2="1041.1" stroke="#0808cc"/><line x1="543.1" y1="1041.1" x2="574.3" y2="1041.1" stroke="#cc1014"/><line x1="555.2" y1="1033.1" x2="597.0" y2="1033.1" stroke="#cc1014"/><line x1="570.0" y1="1025.1" x2="597.0" y2="1025.1" stroke="#cc1014"/><line x1="442.5" y1="1017.1" x2="597.0" y2="1017.1" stroke="#0808cc"/><line x1="442.5" y1="1009.1" x2="504.4" y2="1009.1" stroke="#0808cc"/><line x1="450.5" y1="1001.1" x2="453.5" y2="1001.1" stroke="#0808cc"/><line x1="460.5" y1="993.1" x2="504.4" y2="993.1" stroke="#0808cc"/><line x1="468.9" y1="985.1" x2="482.8" y2="985.1" stroke="#0808cc"/><line x1="615.8" y1="1041.1" x2="647.4" y2="1041.1" stroke="#0808cc"/><line x1="672.4" y1="1041.1" x2="678.1" y2="1041.1" stroke="#cc1014"/><line x1="688.6" y1="1041.1" x2="689.2" y2="1041.1" stroke="#cc1014"/><line x1="730.6" y1="1041.1" x2="735.3" y2="1041.1" stroke="#cc1014"/><line x1="616.2" y1="1033.1" x2="763.9" y2="1033.1" stroke="#0808cc"/><line x1="694.6" y1="1025.1" x2="726.8" y2="1025.1" stroke="#0808cc"/><line x1="832.3" y1="1041.1" x2="922.5" y2="1041.1" stroke="#3b6a2c"/><line x1="806.8" y1="1033.1" x2="831.6" y2="1033.1" stroke="#0808cc"/><line x1="852.3" y1="1033.1" x2="919.2" y2="1033.1" stroke="#0808cc"/><line x1="807.1" y1="1025.1" x2="807.7" y2="1025.1" stroke="#0808cc"/><line x1="816.2" y1="1025.1" x2="816.8" y2="1025.1" stroke="#0808cc"/><line x1="825.8" y1="1025.1" x2="839.4" y2="1025.1" stroke="#0808cc"/><line x1="853.6" y1="1025.1" x2="922.5" y2="1025.1" stroke="#0808cc"/><line x1="820.3" y1="1017.1" x2="922.5" y2="1017.1" stroke="#0808cc"/><line x1="820.3" y1="1009.1" x2="922.5" y2="1009.1" stroke="#0808cc"/><line x1="820.3" y1="1001.1" x2="922.5" y2="1001.1" stroke="#0808cc"/><line x1="823.2" y1="993.1" x2="922.5" y2="993.1" stroke="#0808cc"/><line x1="824.6" y1="985.1" x2="922.5" y2="985.1" stroke="#0808cc"/><line x1="845.5" y1="977.1" x2="901.8" y2="977.1" stroke="#0808cc"/><line x1="849.0" y1="969.1" x2="905.6" y2="969.1" stroke="#0808cc"/><line x1="865.9" y1="961.1" x2="922.5" y2="961.1" stroke="#0808cc"/><line x1="884.3" y1="953.1" x2="922.5" y2="953.1" stroke="#0808cc"/><line x1="940.0" y1="1041.1" x2="960.3" y2="1041.1" stroke="#0808cc"/><line x1="966.6" y1="1041.1" x2="983.5" y2="1041.1" stroke="#0808cc"/><line x1="940.0" y1="1033.1" x2="960.3" y2="1033.1" stroke="#0808cc"/><line x1="1090.3" y1="1041.1" x2="1213.4" y2="1041.1" stroke="#3b6a2c"/><line x1="1090.9" y1="1033.1" x2="1104.6" y2="1033.1" stroke="#0808cc"/><line x1="1112.3" y1="1033.1" x2="1123.4" y2="1033.1" stroke="#cc1014"/><line x1="1127.7" y1="1033.1" x2="1128.1" y2="1033.1" stroke="#0808cc"/><line x1="1147.7" y1="1033.1" x2="1213.4" y2="1033.1" stroke="#cc1014"/><line x1="1128.4" y1="1025.1" x2="1134.5" y2="1025.1" stroke="#0808cc"/><line x1="1160.5" y1="1025.1" x2="1168.5" y2="1025.1" stroke="#cc1014"/><line x1="1179.3" y1="1025.1" x2="1193.1" y2="1025.1" stroke="#0808cc"/><line x1="1090.3" y1="1017.1" x2="1213.4" y2="1017.1" stroke="#0808cc"/><line x1="1090.3" y1="1009.1" x2="1213.4" y2="1009.1" stroke="#0808cc"/><line x1="1090.3" y1="1001.1" x2="1213.4" y2="1001.1" stroke="#0808cc"/><line x1="1090.3" y1="993.1" x2="1213.4" y2="993.1" stroke="#0808cc"/><line x1="1090.3" y1="985.1" x2="1213.4" y2="985.1" stroke="#0808cc"/><line x1="1159.3" y1="977.1" x2="1189.6" y2="977.1" stroke="#0808cc"/><line x1="1168.9" y1="969.1" x2="1169.5" y2="969.1" stroke="#0808cc"/><line x1="1230.8" y1="1041.1" x2="1344.6" y2="1041.1" stroke="#cc1014"/><line x1="1285.6" y1="1033.1" x2="1286.2" y2="1033.1" stroke="#0808cc"/></g>
<g stroke-width="3.9" stroke-linecap="round"><line x1="16.1" y1="1227.0" x2="44.5" y2="1227.0" stroke="#3b6a2c"/><line x1="74.9" y1="1227.0" x2="75.5" y2="1227.0" stroke="#0808cc"/><line x1="86.9" y1="1227.0" x2="87.8" y2="1227.0" stroke="#0808cc"/><line x1="16.1" y1="1219.0" x2="44.5" y2="1219.0" stroke="#cc1014"/><line x1="70.7" y1="1219.0" x2="124.0" y2="1219.0" stroke="#0808cc"/><line x1="15.4" y1="1211.0" x2="16.0" y2="1211.0" stroke="#0808cc"/><line x1="25.5" y1="1211.0" x2="33.5" y2="1211.0" stroke="#0808cc"/><line x1="42.8" y1="1211.0" x2="49.2" y2="1211.0" stroke="#0808cc"/><line x1="39.0" y1="1211.0" x2="39.6" y2="1211.0" stroke="#cc1014"/><line x1="70.7" y1="1211.0" x2="124.0" y2="1211.0" stroke="#0808cc"/><line x1="70.7" y1="1203.0" x2="124.0" y2="1203.0" stroke="#0808cc"/><line x1="117.6" y1="1195.0" x2="122.4" y2="1195.0" stroke="#0808cc"/><line x1="117.6" y1="1187.0" x2="122.4" y2="1187.0" stroke="#0808cc"/><line x1="141.2" y1="1219.0" x2="148.4" y2="1219.0" stroke="#0808cc"/><line x1="175.7" y1="1227.0" x2="176.3" y2="1227.0" stroke="#cc1014"/><line x1="310.2" y1="1227.0" x2="363.1" y2="1227.0" stroke="#3b6a2c"/><line x1="272.4" y1="1219.0" x2="273.0" y2="1219.0" stroke="#cc1014"/><line x1="341.2" y1="1219.0" x2="343.7" y2="1219.0" stroke="#cc1014"/><line x1="359.3" y1="1219.0" x2="362.7" y2="1219.0" stroke="#cc1014"/><line x1="260.2" y1="1211.0" x2="263.2" y2="1211.0" stroke="#0808cc"/><line x1="287.5" y1="1211.0" x2="298.1" y2="1211.0" stroke="#cc1014"/><line x1="325.3" y1="1211.0" x2="348.0" y2="1211.0" stroke="#cc1014"/><line x1="359.3" y1="1211.0" x2="363.1" y2="1211.0" stroke="#0808cc"/><line x1="260.2" y1="1203.0" x2="296.5" y2="1203.0" stroke="#0808cc"/><line x1="300.3" y1="1203.0" x2="363.1" y2="1203.0" stroke="#cc1014"/><line x1="312.4" y1="1195.0" x2="363.1" y2="1195.0" stroke="#cc1014"/><line x1="260.2" y1="1187.0" x2="333.6" y2="1187.0" stroke="#0808cc"/><line x1="337.4" y1="1187.0" x2="363.1" y2="1187.0" stroke="#cc1014"/><line x1="385.1" y1="1227.0" x2="397.9" y2="1227.0" stroke="#0808cc"/><line x1="379.8" y1="1227.0" x2="381.3" y2="1227.0" stroke="#cc1014"/><line x1="401.4" y1="1227.0" x2="402.0" y2="1227.0" stroke="#cc1014"/><line x1="388.9" y1="1219.0" x2="405.5" y2="1219.0" stroke="#0808cc"/><line x1="382.0" y1="1219.0" x2="385.1" y2="1219.0" stroke="#cc1014"/><line x1="447.1" y1="1219.0" x2="451.6" y2="1219.0" stroke="#0808cc"/><line x1="379.8" y1="1211.0" x2="400.9" y2="1211.0" stroke="#0808cc"/><line x1="411.6" y1="1211.0" x2="412.2" y2="1211.0" stroke="#0808cc"/><line x1="439.6" y1="1211.0" x2="478.9" y2="1211.0" stroke="#0808cc"/><line x1="379.1" y1="1203.0" x2="379.7" y2="1203.0" stroke="#0808cc"/><line x1="385.1" y1="1203.0" x2="401.7" y2="1203.0" stroke="#0808cc"/><line x1="428.2" y1="1203.0" x2="432.7" y2="1203.0" stroke="#0808cc"/><line x1="468.4" y1="1203.0" x2="469.0" y2="1203.0" stroke="#0808cc"/><line x1="385.1" y1="1195.0" x2="405.5" y2="1195.0" stroke="#0808cc"/><line x1="522.2" y1="1227.0" x2="585.4" y2="1227.0" stroke="#0808cc"/><line x1="512.9" y1="1227.0" x2="518.4" y2="1227.0" stroke="#cc1014"/><line x1="512.9" y1="1219.0" x2="585.4" y2="1219.0" stroke="#cc1014"/><line x1="512.9" y1="1211.0" x2="563.5" y2="1211.0" stroke="#0808cc"/><line x1="512.9" y1="1203.0" x2="544.7" y2="1203.0" stroke="#0808cc"/><line x1="512.9" y1="1195.0" x2="538.1" y2="1195.0" stroke="#0808cc"/><line x1="512.9" y1="1187.0" x2="540.1" y2="1187.0" stroke="#0808cc"/><line x1="513.5" y1="1179.0" x2="514.1" y2="1179.0" stroke="#0808cc"/><line x1="523.2" y1="1179.0" x2="537.8" y2="1179.0" stroke="#0808cc"/><line x1="534.4" y1="1171.0" x2="536.3" y2="1171.0" stroke="#0808cc"/><line x1="617.9" y1="1227.0" x2="635.7" y2="1227.0" stroke="#0808cc"/><line x1="733.4" y1="1227.0" x2="776.1" y2="1227.0" stroke="#cc1014"/><line x1="713.7" y1="1219.0" x2="721.1" y2="1219.0" stroke="#0808cc"/><line x1="756.8" y1="1211.0" x2="761.5" y2="1211.0" stroke="#0808cc"/><line x1="792.4" y1="1227.0" x2="858.3" y2="1227.0" stroke="#0808cc"/><line x1="792.4" y1="1219.0" x2="796.3" y2="1219.0" stroke="#0808cc"/><line x1="803.7" y1="1219.0" x2="804.3" y2="1219.0" stroke="#0808cc"/><line x1="793.1" y1="1211.0" x2="793.7" y2="1211.0" stroke="#0808cc"/><line x1="814.6" y1="1211.0" x2="815.2" y2="1211.0" stroke="#0808cc"/><line x1="848.0" y1="1211.0" x2="848.6" y2="1211.0" stroke="#0808cc"/><line x1="856.0" y1="1211.0" x2="856.6" y2="1211.0" stroke="#0808cc"/><line x1="798.2" y1="1203.0" x2="817.3" y2="1203.0" stroke="#0808cc"/><line x1="836.8" y1="1203.0" x2="858.0" y2="1203.0" stroke="#0808cc"/><line x1="832.5" y1="1195.0" x2="859.5" y2="1195.0" stroke="#0808cc"/><line x1="875.6" y1="1227.0" x2="885.6" y2="1227.0" stroke="#3b6a2c"/><line x1="893.8" y1="1227.0" x2="935.7" y2="1227.0" stroke="#0808cc"/><line x1="889.4" y1="1227.0" x2="890.0" y2="1227.0" stroke="#cc1014"/><line x1="875.6" y1="1219.0" x2="886.3" y2="1219.0" stroke="#3b6a2c"/><line x1="901.0" y1="1219.0" x2="901.6" y2="1219.0" stroke="#cc1014"/><line x1="880.7" y1="1211.0" x2="883.4" y2="1211.0" stroke="#0808cc"/><line x1="887.2" y1="1211.0" x2="887.8" y2="1211.0" stroke="#cc1014"/><line x1="877.1" y1="1203.0" x2="879.8" y2="1203.0" stroke="#0808cc"/><line x1="895.2" y1="1203.0" x2="900.9" y2="1203.0" stroke="#0808cc"/><line x1="911.2" y1="1203.0" x2="911.8" y2="1203.0" stroke="#0808cc"/><line x1="917.7" y1="1203.0" x2="935.7" y2="1203.0" stroke="#0808cc"/><line x1="875.6" y1="1195.0" x2="897.2" y2="1195.0" stroke="#0808cc"/><line x1="875.6" y1="1187.0" x2="890.7" y2="1187.0" stroke="#0808cc"/><line x1="875.6" y1="1179.0" x2="889.2" y2="1179.0" stroke="#0808cc"/><line x1="875.6" y1="1171.0" x2="887.8" y2="1171.0" stroke="#0808cc"/><line x1="875.6" y1="1163.0" x2="879.8" y2="1163.0" stroke="#0808cc"/><line x1="875.6" y1="1155.0" x2="879.1" y2="1155.0" stroke="#0808cc"/><line x1="889.4" y1="1147.0" x2="903.8" y2="1147.0" stroke="#0808cc"/><line x1="895.5" y1="1139.0" x2="935.7" y2="1139.0" stroke="#0808cc"/><line x1="984.6" y1="1227.0" x2="985.2" y2="1227.0" stroke="#cc1014"/><line x1="993.3" y1="1227.0" x2="1009.8" y2="1227.0" stroke="#0808cc"/><line x1="951.9" y1="1219.0" x2="1009.8" y2="1219.0" stroke="#0808cc"/><line x1="951.9" y1="1211.0" x2="1009.8" y2="1211.0" stroke="#0808cc"/><line x1="951.9" y1="1203.0" x2="956.8" y2="1203.0" stroke="#0808cc"/><line x1="965.7" y1="1195.0" x2="990.2" y2="1195.0" stroke="#0808cc"/><line x1="983.1" y1="1187.0" x2="983.7" y2="1187.0" stroke="#0808cc"/><line x1="1000.6" y1="1187.0" x2="1009.8" y2="1187.0" stroke="#0808cc"/><line x1="1028.6" y1="1227.0" x2="1067.7" y2="1227.0" stroke="#cc1014"/><line x1="1025.3" y1="1219.0" x2="1025.9" y2="1219.0" stroke="#0808cc"/><line x1="1029.3" y1="1219.0" x2="1031.3" y2="1219.0" stroke="#cc1014"/><line x1="1038.7" y1="1219.0" x2="1039.3" y2="1219.0" stroke="#0808cc"/><line x1="1025.3" y1="1211.0" x2="1025.9" y2="1211.0" stroke="#0808cc"/><line x1="1029.3" y1="1211.0" x2="1029.9" y2="1211.0" stroke="#cc1014"/><line x1="1025.7" y1="1203.0" x2="1027.7" y2="1203.0" stroke="#0808cc"/><line x1="1083.8" y1="1227.0" x2="1122.1" y2="1227.0" stroke="#0808cc"/><line x1="1083.8" y1="1219.0" x2="1084.4" y2="1219.0" stroke="#0808cc"/><line x1="1107.8" y1="1211.0" x2="1120.7" y2="1211.0" stroke="#0808cc"/><line x1="1110.7" y1="1203.0" x2="1129.4" y2="1203.0" stroke="#0808cc"/><line x1="1155.0" y1="1227.0" x2="1155.6" y2="1227.0" stroke="#cc1014"/><line x1="1164.4" y1="1227.0" x2="1169.4" y2="1227.0" stroke="#cc1014"/><line x1="1173.2" y1="1227.0" x2="1178.8" y2="1227.0" stroke="#0808cc"/><line x1="1155.7" y1="1219.0" x2="1156.3" y2="1219.0" stroke="#cc1014"/><line x1="1160.1" y1="1219.0" x2="1160.6" y2="1219.0" stroke="#0808cc"/><line x1="1156.5" y1="1211.0" x2="1178.8" y2="1211.0" stroke="#cc1014"/><line x1="1156.5" y1="1203.0" x2="1165.7" y2="1203.0" stroke="#0808cc"/><line x1="1169.5" y1="1203.0" x2="1177.4" y2="1203.0" stroke="#cc1014"/><line x1="1160.8" y1="1195.0" x2="1163.6" y2="1195.0" stroke="#0808cc"/><line x1="1173.2" y1="1195.0" x2="1178.8" y2="1195.0" stroke="#cc1014"/><line x1="1159.4" y1="1187.0" x2="1167.9" y2="1187.0" stroke="#0808cc"/><line x1="1171.7" y1="1187.0" x2="1178.8" y2="1187.0" stroke="#cc1014"/><line x1="1173.2" y1="1179.0" x2="1178.8" y2="1179.0" stroke="#cc1014"/><line x1="1173.2" y1="1171.0" x2="1178.8" y2="1171.0" stroke="#cc1014"/><line x1="1207.3" y1="1227.0" x2="1215.1" y2="1227.0" stroke="#0808cc"/><line x1="1248.4" y1="1227.0" x2="1366.6" y2="1227.0" stroke="#cc1014"/><line x1="1248.4" y1="1219.0" x2="1366.6" y2="1219.0" stroke="#0808cc"/><line x1="1248.4" y1="1211.0" x2="1366.6" y2="1211.0" stroke="#0808cc"/></g>
<text x="104.8" y="968.7" font-size="19.5" font-weight="bold"><tspan fill="#c8143c">1q</tspan> <tspan fill="#222">(q=0.004)</tspan></text>
<text x="793.7" y="937.8" font-size="19.5" font-weight="bold"><tspan fill="#1020b0">5q</tspan> <tspan fill="#222">(q=1.3E-14)</tspan></text>
<text x="1079.7" y="923.7" font-size="19.5" font-weight="bold"><tspan fill="#1020b0">7p</tspan><tspan fill="#222">(q=7.44E-11)</tspan></text>
<text x="1079.7" y="947.4" font-size="19.5" font-weight="bold"><tspan fill="#1020b0">7q</tspan> <tspan fill="#222">(q=6.93E-14)</tspan></text>
<text x="377.1" y="1152.9" font-size="19.5" font-weight="bold" fill="#1020b0">12p</text>
<text x="377.1" y="1172.5" font-size="19.5" font-weight="bold" fill="#222">(q=0.003)</text>
<text x="738" y="1160.6" font-size="19.5" font-weight="bold"><tspan fill="#1020b0">16p</tspan> <tspan fill="#222">(q=0.038)</tspan></text>
<text x="738" y="1179.4" font-size="19.5" font-weight="bold"><tspan fill="#1020b0">16q</tspan> <tspan fill="#222">(q=0.046)</tspan></text>
<text x="884.3" y="1126.2" font-size="19.5" font-weight="bold"><tspan fill="#1020b0">17p</tspan> <tspan fill="#222">(q=6.61E-11)</tspan></text>
<text x="1161.1" y="1136.9" font-size="19.5" font-weight="bold" fill="#c8143c" text-anchor="middle">21q</text>
<text x="1164.3" y="1156.5" font-size="19.5" font-weight="bold" fill="#222" text-anchor="middle">(q=0.004)</text>
<text x="677.5" y="969.2" font-size="26.5" font-style="italic" fill="#333">TET2</text>
<text x="1235.4" y="964.4" font-size="26.5" font-style="italic" fill="#333">EZH2</text>
<text x="8.7" y="1161.2" font-size="26.5" font-style="italic" fill="#333">JAK2</text>
<text x="804.7" y="1125.4" font-size="26.4" font-style="italic" fill="#333">TP53</text>
<line x1="717.0" y1="974.8" x2="714.0" y2="996.7" stroke="#333" stroke-width="1.3"/>
<path d="M712.8,1005.6L710.8,996.3L717.2,997.1Z" fill="#333"/>
<line x1="1232.0" y1="955.7" x2="1208.3" y2="969.5" stroke="#333" stroke-width="1.3"/>
<path d="M1200.5,974.0L1206.7,966.7L1209.9,972.2Z" fill="#333"/>
<line x1="34.3" y1="1168.3" x2="31.7" y2="1190.1" stroke="#333" stroke-width="1.3"/>
<path d="M30.7,1199.0L28.6,1189.7L34.9,1190.4Z" fill="#333"/>
<line x1="869.4" y1="1116.0" x2="876.7" y2="1138.0" stroke="#333" stroke-width="1.3"/>
<path d="M879.5,1146.5L873.6,1139.0L879.7,1137.0Z" fill="#333"/>
<rect x="1411.00" y="1147.60" width="169.50" height="132.80" fill="none" stroke="#111" stroke-width="2.3"/>
<line x1="1438.80" y1="1180.40" x2="1467.20" y2="1180.40" stroke="#3b6a2c" stroke-width="4.5" />
<line x1="1438.80" y1="1216.30" x2="1467.20" y2="1216.30" stroke="#cc1014" stroke-width="4.5" />
<line x1="1438.80" y1="1252.20" x2="1467.20" y2="1252.20" stroke="#0808cc" stroke-width="4.5" />
<text x="1482.4" y="1187.6" font-size="18.5">CN–LOH</text>
<text x="1482.4" y="1223.4" font-size="18.5">Gain</text>
<text x="1482.4" y="1259.5" font-size="18.5">Loss</text>
<text x="1465.4" y="448.8" font-size="29" font-weight="bold">c</text>
<text x="1560.8" y="469.0" font-size="27.4">Focal losses and gains</text>
<rect x="1542.90" y="535.70" width="159.30" height="47.90" fill="#e3e3e3"/>
<rect x="1713.60" y="535.70" width="159.30" height="47.90" fill="#e3e3e3"/>
<rect x="1542.90" y="617.50" width="159.30" height="33.20" fill="#e3e3e3"/>
<rect x="1713.60" y="617.50" width="159.30" height="33.20" fill="#e3e3e3"/>
<rect x="1542.90" y="683.90" width="159.30" height="38.20" fill="#e3e3e3"/>
<rect x="1713.60" y="683.90" width="159.30" height="38.20" fill="#e3e3e3"/>
<rect x="1542.90" y="751.60" width="159.30" height="27.10" fill="#e3e3e3"/>
<rect x="1713.60" y="751.60" width="159.30" height="27.10" fill="#e3e3e3"/>
<rect x="1542.90" y="805.40" width="159.30" height="30.20" fill="#e3e3e3"/>
<rect x="1713.60" y="805.40" width="159.30" height="30.20" fill="#e3e3e3"/>
<rect x="1542.90" y="864.70" width="159.30" height="25.30" fill="#e3e3e3"/>
<rect x="1713.60" y="864.70" width="159.30" height="25.30" fill="#e3e3e3"/>
<rect x="1542.90" y="904.00" width="159.30" height="26.60" fill="#e3e3e3"/>
<rect x="1713.60" y="904.00" width="159.30" height="26.60" fill="#e3e3e3"/>
<rect x="1542.90" y="950.60" width="159.30" height="18.00" fill="#e3e3e3"/>
<rect x="1713.60" y="950.60" width="159.30" height="18.00" fill="#e3e3e3"/>
<rect x="1542.90" y="982.50" width="159.30" height="17.80" fill="#e3e3e3"/>
<rect x="1713.60" y="982.50" width="159.30" height="17.80" fill="#e3e3e3"/>
<rect x="1542.90" y="1012.40" width="159.30" height="13.30" fill="#e3e3e3"/>
<rect x="1713.60" y="1012.40" width="159.30" height="13.30" fill="#e3e3e3"/>
<rect x="1542.90" y="1036.60" width="159.30" height="4.90" fill="#e3e3e3"/>
<rect x="1713.60" y="1036.60" width="159.30" height="4.90" fill="#e3e3e3"/>
<path d="M1545.9,517.0H1700.2M1715.6,517.0H1869.9M1545.9,557.0H1700.2M1715.6,557.0H1869.9M1545.9,601.8H1700.2M1715.6,601.8H1869.9M1545.9,627.7H1700.2M1715.6,627.7H1869.9M1545.9,659.2H1700.2M1715.6,659.2H1869.9M1545.9,700.8H1700.2M1715.6,700.8H1869.9M1545.9,734.7H1700.2M1715.6,734.7H1869.9M1545.9,763.5H1700.2M1715.6,763.5H1869.9M1545.9,789.6H1700.2M1715.6,789.6H1869.9M1545.9,814.6H1700.2M1715.6,814.6H1869.9M1545.9,849.0H1700.2M1715.6,849.0H1869.9M1545.9,874.4H1700.2M1715.6,874.4H1869.9M1545.9,894.2H1700.2M1715.6,894.2H1869.9M1545.9,913.8H1700.2M1715.6,913.8H1869.9M1545.9,933.7H1700.2M1715.6,933.7H1869.9M1545.9,956.2H1700.2M1715.6,956.2H1869.9M1545.9,973.7H1700.2M1715.6,973.7H1869.9M1545.9,987.5H1700.2M1715.6,987.5H1869.9M1545.9,1005.1H1700.2M1715.6,1005.1H1869.9M1545.9,1018.9H1700.2M1715.6,1018.9H1869.9M1545.9,1028.1H1700.2M1715.6,1028.1H1869.9M1545.9,1035.9H1700.2M1715.6,1035.9H1869.9" stroke="#262626" stroke-width="2.6" stroke-dasharray="2.6 4.8 1.1 6.1" fill="none"/>
<rect x="1568.50" y="734.40" width="133.70" height="1.80" fill="#f00000"/>
<rect x="1668.80" y="816.60" width="33.40" height="2.00" fill="#f00000"/>
<rect x="1623.50" y="862.50" width="78.70" height="2.00" fill="#f00000"/>
<rect x="1684.00" y="863.20" width="18.20" height="3.80" fill="#f00000"/>
<rect x="1587.00" y="1027.00" width="115.20" height="11.00" fill="#f00000"/>
<rect x="1569.00" y="1030.00" width="133.20" height="8.00" fill="#f00000"/>
<rect x="1543.60" y="1033.00" width="158.60" height="4.00" fill="#f00000"/>
<rect x="1570.00" y="1028.00" width="132.20" height="3.00" fill="#f00000"/>
<g fill="#0a0aff"><rect x="1713.6" y="523.0" width="12.1" height="2.5"/><rect x="1713.6" y="560.0" width="10.4" height="2.5"/><rect x="1713.6" y="580.5" width="78.2" height="4.8"/><rect x="1713.6" y="585.3" width="21.3" height="12.7"/><rect x="1713.6" y="588.0" width="26.1" height="2.0"/><rect x="1713.6" y="591.0" width="42.6" height="2.0"/><rect x="1713.6" y="597.0" width="42.6" height="2.0"/><rect x="1713.6" y="600.0" width="8.4" height="1.5"/><rect x="1713.6" y="609.5" width="16.4" height="3.0"/><rect x="1713.6" y="611.5" width="21.3" height="2.5"/><rect x="1713.6" y="626.0" width="3.8" height="2.0"/><rect x="1713.6" y="634.0" width="42.6" height="2.5"/><rect x="1713.6" y="636.0" width="7.9" height="4.0"/><rect x="1713.6" y="640.0" width="3.8" height="2.2"/><rect x="1713.6" y="648.4" width="22.0" height="2.5"/><rect x="1713.6" y="657.0" width="26.4" height="8.0"/><rect x="1713.6" y="660.3" width="78.3" height="1.7"/><rect x="1713.6" y="661.8" width="43.0" height="5.8"/><rect x="1713.6" y="665.4" width="78.3" height="2.2"/><rect x="1773.0" y="667.6" width="18.9" height="2.9"/><rect x="1789.3" y="665.4" width="2.6" height="16.4"/><rect x="1784.2" y="677.0" width="7.7" height="2.6"/><rect x="1763.2" y="679.6" width="28.7" height="2.5"/><rect x="1713.6" y="682.1" width="51.0" height="2.6"/><rect x="1713.6" y="684.7" width="20.2" height="2.9"/><rect x="1713.6" y="700.5" width="11.6" height="2.0"/><rect x="1713.6" y="711.5" width="3.8" height="1.5"/><rect x="1713.6" y="718.5" width="12.1" height="4.5"/><rect x="1713.6" y="728.5" width="78.2" height="2.0"/><rect x="1713.6" y="730.0" width="16.4" height="18.0"/><rect x="1713.6" y="732.0" width="22.4" height="2.5"/><rect x="1713.6" y="736.0" width="18.9" height="2.0"/><rect x="1713.6" y="741.0" width="33.4" height="2.0"/><rect x="1713.6" y="745.0" width="12.4" height="3.0"/><rect x="1713.6" y="790.0" width="16.4" height="6.0"/><rect x="1713.6" y="793.5" width="55.2" height="2.0"/><rect x="1713.6" y="797.0" width="50.4" height="3.0"/><rect x="1713.6" y="795.0" width="16.4" height="11.0"/><rect x="1713.6" y="814.0" width="16.4" height="4.0"/><rect x="1713.6" y="836.4" width="73.3" height="3.1"/><rect x="1713.6" y="836.0" width="47.9" height="4.0"/><rect x="1713.6" y="840.0" width="11.6" height="4.0"/><rect x="1713.6" y="852.0" width="3.8" height="1.5"/><rect x="1713.6" y="862.0" width="24.9" height="2.5"/><rect x="1713.6" y="866.0" width="78.2" height="2.7"/><rect x="1713.6" y="863.5" width="11.6" height="8.5"/><rect x="1713.6" y="879.0" width="16.4" height="5.0"/><rect x="1713.6" y="886.5" width="3.8" height="2.0"/><rect x="1713.6" y="893.0" width="21.3" height="9.7"/><rect x="1713.6" y="898.0" width="73.3" height="2.0"/><rect x="1713.6" y="912.0" width="33.4" height="2.5"/><rect x="1713.6" y="932.5" width="44.4" height="2.0"/><rect x="1713.6" y="936.0" width="11.6" height="3.0"/><rect x="1713.6" y="941.0" width="12.1" height="4.8"/><rect x="1713.6" y="949.2" width="4.4" height="2.4"/><rect x="1713.6" y="954.5" width="78.4" height="3.4"/><rect x="1713.6" y="954.5" width="33.9" height="8.7"/><rect x="1713.6" y="959.5" width="62.4" height="3.3"/><rect x="1713.6" y="965.7" width="51.4" height="3.3"/><rect x="1713.6" y="969.0" width="78.4" height="8.3"/><rect x="1713.6" y="977.3" width="21.4" height="4.2"/><rect x="1713.6" y="981.5" width="17.4" height="4.0"/><rect x="1713.6" y="985.5" width="19.4" height="5.8"/><rect x="1713.6" y="991.3" width="12.4" height="5.7"/><rect x="1713.6" y="997.0" width="42.6" height="6.0"/><rect x="1713.6" y="1003.0" width="133.6" height="3.3"/><rect x="1713.6" y="1006.3" width="63.9" height="2.4"/><rect x="1713.6" y="1008.7" width="16.4" height="3.0"/><rect x="1713.6" y="1014.0" width="78.4" height="3.0"/><rect x="1713.6" y="1017.0" width="11.4" height="5.3"/><rect x="1713.6" y="1024.2" width="11.4" height="2.0"/><rect x="1713.6" y="1026.2" width="16.4" height="5.8"/><rect x="1713.6" y="1032.0" width="33.4" height="4.9"/></g>
<line x1="1542.90" y1="491.00" x2="1542.90" y2="1041.50" stroke="#6cbf5c" stroke-width="1.4" />
<line x1="1793.00" y1="491.00" x2="1793.00" y2="1041.50" stroke="#6cbf5c" stroke-width="1.4" />
<path d="M1542.9,491H1702.2M1542.9,1041.5H1702.2M1713.6,490.2H1872.9V1041.5H1713.6" stroke="#000" stroke-width="2.8" fill="none"/>
<path d="M1609.4,491v4M1839,1041.5v-4" stroke="#000" stroke-width="1.5"/>
<rect x="1514.20" y="491.70" width="21.20" height="552.70" fill="#000"/>
<rect x="1518.60" y="495.50" width="12.40" height="42.90" fill="#fff"/>
<rect x="1518.60" y="582.60" width="12.40" height="38.10" fill="#fff"/>
<rect x="1518.60" y="652.80" width="12.40" height="30.90" fill="#fff"/>
<rect x="1518.60" y="724.20" width="12.40" height="27.30" fill="#fff"/>
<rect x="1518.60" y="782.10" width="12.40" height="23.60" fill="#fff"/>
<rect x="1518.60" y="838.90" width="12.40" height="26.10" fill="#fff"/>
<rect x="1518.60" y="895.90" width="12.40" height="20.00" fill="#fff"/>
<rect x="1518.60" y="934.60" width="12.40" height="16.40" fill="#fff"/>
<rect x="1518.60" y="968.50" width="12.40" height="16.40" fill="#fff"/>
<rect x="1518.60" y="1002.40" width="12.40" height="10.30" fill="#fff"/>
<rect x="1518.60" y="1027.80" width="12.40" height="7.90" fill="#fff"/>
<rect x="1702.20" y="489.50" width="11.60" height="553.00" fill="#000"/>
<rect x="1704.20" y="495.50" width="7.60" height="42.90" fill="#fff"/>
<rect x="1704.20" y="582.60" width="7.60" height="38.10" fill="#fff"/>
<rect x="1704.20" y="652.80" width="7.60" height="30.90" fill="#fff"/>
<rect x="1704.20" y="724.20" width="7.60" height="27.30" fill="#fff"/>
<rect x="1704.20" y="782.10" width="7.60" height="23.60" fill="#fff"/>
<rect x="1704.20" y="838.90" width="7.60" height="26.10" fill="#fff"/>
<rect x="1704.20" y="895.90" width="7.60" height="20.00" fill="#fff"/>
<rect x="1704.20" y="934.60" width="7.60" height="16.40" fill="#fff"/>
<rect x="1704.20" y="968.50" width="7.60" height="16.40" fill="#fff"/>
<rect x="1704.20" y="1002.40" width="7.60" height="10.30" fill="#fff"/>
<rect x="1704.20" y="1027.80" width="7.60" height="7.90" fill="#fff"/>
<text x="1479.0" y="499.5" font-size="19.5">chr</text>
<text x="1507.5" y="530.0" font-size="22" text-anchor="end">1</text>
<text x="1507.5" y="568.9" font-size="22" text-anchor="end">2</text>
<text x="1507.5" y="607.8" font-size="22" text-anchor="end">3</text>
<text x="1507.5" y="641.7" font-size="22" text-anchor="end">4</text>
<text x="1507.5" y="677.2" font-size="22" text-anchor="end">5</text>
<text x="1507.5" y="750.0" font-size="22" text-anchor="end">7</text>
<text x="1507.5" y="802.4" font-size="22" text-anchor="end">9</text>
<text x="1507.5" y="887.0" font-size="22" text-anchor="end">12</text>
<text x="1507.5" y="985.1" font-size="22" text-anchor="end">17</text>
<text x="1543.0" y="1064.7" font-size="22" text-anchor="middle">0.1</text>
<text x="1703.6" y="1064.7" font-size="22.8" text-anchor="middle">q-value</text>
<text x="1792.5" y="1064.7" font-size="22" text-anchor="middle">0.1</text>
<line x1="1873.20" y1="585.80" x2="1900.90" y2="563.10" stroke="#111" stroke-width="2.2" />
<text x="1910.4" y="568.9" font-size="22.5">3p26.1</text>
<line x1="1873.20" y1="661.00" x2="1904.30" y2="624.70" stroke="#111" stroke-width="2.2" />
<text x="1910.4" y="623.0" font-size="22.5">5q11.2</text>
<line x1="1874.80" y1="675.50" x2="1904.30" y2="678.90" stroke="#111" stroke-width="2.2" />
<text x="1910.4" y="682.3" font-size="22.5">5q3.2</text>
<line x1="1874.20" y1="728.60" x2="1903.00" y2="739.80" stroke="#111" stroke-width="2.2" />
<text x="1910.4" y="747.6" font-size="22.5">7p14.3</text>
<line x1="1873.20" y1="868.40" x2="1903.00" y2="818.60" stroke="#111" stroke-width="2.2" />
<text x="1910.4" y="817.6" font-size="22.5">12p13.2</text>
<line x1="1874.20" y1="956.40" x2="1903.00" y2="895.50" stroke="#111" stroke-width="2.2" />
<text x="1910.4" y="895.5" font-size="22.5">16q11.2</text>
<line x1="1874.20" y1="968.20" x2="1912.00" y2="944.50" stroke="#111" stroke-width="2.2" />
<text x="1913.8" y="946.2" font-size="22.5" font-weight="bold" fill="#2a2ad0">17p13.1</text>
<line x1="1874.20" y1="973.30" x2="1901.00" y2="976.70" stroke="#111" stroke-width="2.2" />
<text x="1910.4" y="985.1" font-size="22.5">17q11.2</text>
<line x1="1874.20" y1="1003.80" x2="1917.10" y2="1020.70" stroke="#111" stroke-width="2.2" />
<text x="1921.2" y="1025.7" font-size="22.5">19p12</text>
<line x1="1874.20" y1="1013.90" x2="1903.00" y2="1047.70" stroke="#111" stroke-width="2.2" />
<text x="1910.4" y="1063.0" font-size="22.5">20p12.1</text>
<text x="9.5" y="1352.2" font-size="29" font-weight="bold">d</text>
<text x="94.8" y="1357.3" font-size="27.1"><tspan font-style="italic">TP53</tspan> mutations and CNAs</text>
<path d="M83.2,1535.7L87.2,1535.7L416.2,1559.7L35.3,1559.7Z" fill="#ddd8d4"/>
<rect x="35.3" y="1373.5" width="380.9" height="162.2" fill="#fff" stroke="#c0c0c0" stroke-width="1.6"/>
<path d="M35.3,1373.5V1535.7H416.2" stroke="#111" stroke-width="2.2" fill="none"/>
<rect x="147.40" y="1374.50" width="3.70" height="160.00" fill="#dcdcdc"/>
<line x1="85.20" y1="1374.50" x2="85.20" y2="1534.50" stroke="#c8c8c8" stroke-width="1" />
<line x1="52.30" y1="1523.60" x2="400.00" y2="1523.60" stroke="#888" stroke-width="1" />
<g stroke-width="2.6"><line x1="51.8" y1="1442.0" x2="148.6" y2="1442.0" stroke="#2f2fd2"/><line x1="51.8" y1="1448.0" x2="128.8" y2="1448.0" stroke="#5b7f48"/><line x1="199.0" y1="1448.0" x2="206.8" y2="1448.0" stroke="#9c2a2a"/><line x1="51.8" y1="1454.3" x2="84.5" y2="1454.3" stroke="#2f2fd2"/><line x1="131.7" y1="1460.6" x2="222.5" y2="1460.6" stroke="#2f2fd2"/><line x1="163.9" y1="1466.9" x2="248.6" y2="1466.9" stroke="#2f2fd2"/><line x1="266.8" y1="1466.9" x2="400.5" y2="1466.9" stroke="#2f2fd2"/><line x1="51.8" y1="1473.2" x2="134.1" y2="1473.2" stroke="#5b7f48"/><line x1="134.1" y1="1473.2" x2="147.4" y2="1473.2" stroke="#9c2a2a"/><line x1="160.7" y1="1473.2" x2="400.5" y2="1473.2" stroke="#2f2fd2"/><line x1="51.8" y1="1479.5" x2="184.2" y2="1479.5" stroke="#2f2fd2"/><line x1="85.7" y1="1485.6" x2="107.5" y2="1485.6" stroke="#2f2fd2"/><line x1="107.5" y1="1485.6" x2="131.2" y2="1485.6" stroke="#9c2a2a"/><line x1="51.8" y1="1491.9" x2="139.4" y2="1491.9" stroke="#2f2fd2"/><line x1="51.8" y1="1504.7" x2="88.1" y2="1504.7" stroke="#2f2fd2"/><line x1="63.4" y1="1510.8" x2="91.7" y2="1510.8" stroke="#2f2fd2"/><line x1="160.7" y1="1510.8" x2="206.0" y2="1510.8" stroke="#2f2fd2"/><line x1="255.2" y1="1510.8" x2="262.4" y2="1510.8" stroke="#2f2fd2"/><line x1="286.2" y1="1510.8" x2="400.5" y2="1510.8" stroke="#2f2fd2"/><line x1="51.8" y1="1517.1" x2="134.1" y2="1517.1" stroke="#2f2fd2"/></g>
<circle cx="85.2" cy="1379.0" r="2.9" fill="#d4938a" stroke="#4a1c1c" stroke-width="0.9"/><circle cx="85.2" cy="1385.3" r="2.9" fill="#d4938a" stroke="#4a1c1c" stroke-width="0.9"/><circle cx="85.2" cy="1391.5" r="2.9" fill="#6a2fc0" stroke="#4a1c1c" stroke-width="0.9"/><circle cx="85.2" cy="1397.8" r="2.9" fill="#d4938a" stroke="#4a1c1c" stroke-width="0.9"/><circle cx="85.2" cy="1404.1" r="2.9" fill="#d4938a" stroke="#4a1c1c" stroke-width="0.9"/><circle cx="85.2" cy="1410.4" r="2.9" fill="#d4938a" stroke="#4a1c1c" stroke-width="0.9"/><circle cx="85.2" cy="1416.6" r="2.9" fill="#d4938a" stroke="#4a1c1c" stroke-width="0.9"/><circle cx="85.2" cy="1422.9" r="2.9" fill="#d4938a" stroke="#4a1c1c" stroke-width="0.9"/><circle cx="85.2" cy="1429.2" r="2.9" fill="#d4938a" stroke="#4a1c1c" stroke-width="0.9"/><circle cx="85.2" cy="1435.5" r="2.9" fill="#d4938a" stroke="#4a1c1c" stroke-width="0.9"/><circle cx="85.2" cy="1441.7" r="2.9" fill="#d4938a" stroke="#4a1c1c" stroke-width="0.9"/><circle cx="85.2" cy="1448.0" r="2.9" fill="#d4938a" stroke="#4a1c1c" stroke-width="0.9"/><circle cx="85.2" cy="1454.3" r="2.9" fill="#d4938a" stroke="#4a1c1c" stroke-width="0.9"/><circle cx="85.2" cy="1460.5" r="2.9" fill="#d4938a" stroke="#4a1c1c" stroke-width="0.9"/><circle cx="85.2" cy="1466.8" r="2.9" fill="#d4938a" stroke="#4a1c1c" stroke-width="0.9"/><circle cx="85.2" cy="1473.1" r="2.9" fill="#d4938a" stroke="#4a1c1c" stroke-width="0.9"/><circle cx="85.2" cy="1479.4" r="2.9" fill="#d4938a" stroke="#4a1c1c" stroke-width="0.9"/><circle cx="85.2" cy="1485.6" r="2.9" fill="#d4938a" stroke="#4a1c1c" stroke-width="0.9"/><circle cx="85.2" cy="1491.9" r="2.9" fill="#6a2fc0" stroke="#4a1c1c" stroke-width="0.9"/><circle cx="85.2" cy="1498.2" r="2.9" fill="#d4938a" stroke="#4a1c1c" stroke-width="0.9"/><circle cx="85.2" cy="1504.5" r="2.9" fill="#d4938a" stroke="#4a1c1c" stroke-width="0.9"/><circle cx="85.2" cy="1510.7" r="2.9" fill="#d4938a" stroke="#4a1c1c" stroke-width="0.9"/><circle cx="85.2" cy="1517.0" r="2.9" fill="#d4938a" stroke="#4a1c1c" stroke-width="0.9"/>
<text transform="translate(160.3,1484.9) rotate(-90)" font-size="19" fill="#222">centromere</text>
<text x="340.7" y="1397.0" font-size="27">chr17</text>
<line x1="420.00" y1="1387.40" x2="430.00" y2="1387.40" stroke="#999" stroke-width="1" />
<text x="36.8" y="1555.2" font-size="19.5" fill="#222">chr17:7565097-7590856</text>
<rect x="35.3" y="1559.7" width="380.9" height="162.7" fill="#fff" stroke="#c0c0c0" stroke-width="1.6"/>
<path d="M35.3,1559.7V1722.4H416.2" stroke="#111" stroke-width="2.2" fill="none"/>
<g stroke-width="2.6"><line x1="36.5" y1="1628.0" x2="415.0" y2="1628.0" stroke="#2f2fd2"/><line x1="36.5" y1="1634.3" x2="415.0" y2="1634.3" stroke="#5b7f48"/><line x1="36.5" y1="1640.6" x2="415.0" y2="1640.6" stroke="#2f2fd2"/><line x1="36.5" y1="1659.4" x2="415.0" y2="1659.4" stroke="#5b7f48"/><line x1="36.5" y1="1665.7" x2="415.0" y2="1665.7" stroke="#2f2fd2"/><line x1="36.5" y1="1672.0" x2="415.0" y2="1672.0" stroke="#2f2fd2"/><line x1="36.5" y1="1678.3" x2="415.0" y2="1678.3" stroke="#2f2fd2"/><line x1="36.5" y1="1690.9" x2="415.0" y2="1690.9" stroke="#2f2fd2"/><line x1="36.5" y1="1697.2" x2="415.0" y2="1697.2" stroke="#2f2fd2"/><line x1="36.5" y1="1703.5" x2="415.0" y2="1703.5" stroke="#2f2fd2"/></g>
<line x1="36.50" y1="1709.80" x2="415.00" y2="1709.80" stroke="#cfcfcf" stroke-width="1.2" />
<line x1="53.70" y1="1715.90" x2="399.20" y2="1715.90" stroke="#000" stroke-width="3.2" />
<path d="M53.7,1705.0V1720.7M111.1,1705.0V1720.7M172.1,1705.0V1720.7M206.8,1705.0V1720.7M209.0,1705.0V1720.7M212.0,1705.0V1720.7M214.0,1705.0V1720.7M220.1,1705.0V1720.7M224.4,1705.0V1720.7M226.5,1705.0V1720.7M229.0,1705.0V1720.7M231.5,1705.0V1720.7M234.0,1705.0V1720.7M237.0,1705.0V1720.7M244.3,1705.0V1720.7M246.5,1705.0V1720.7M249.0,1705.0V1720.7M252.8,1705.0V1720.7M263.0,1705.0V1720.7M399.2,1705.0V1720.7" stroke="#222" stroke-width="1.1"/>
<rect x="141.90" y="1705.00" width="16.90" height="15.70" fill="#000"/>
<rect x="227.00" y="1705.00" width="4.00" height="15.70" fill="#000"/>
<rect x="232.50" y="1705.00" width="3.50" height="15.70" fill="#000"/>
<circle cx="214.5" cy="1565.0" r="2.9" fill="#d4938a" stroke="#4a1c1c" stroke-width="0.9"/><circle cx="220.6" cy="1565.0" r="2.9" fill="#d4938a" stroke="#4a1c1c" stroke-width="0.9"/><circle cx="214.5" cy="1571.3" r="2.9" fill="#d4938a" stroke="#4a1c1c" stroke-width="0.9"/><circle cx="228.5" cy="1571.3" r="2.9" fill="#d4938a" stroke="#4a1c1c" stroke-width="0.9"/><circle cx="231.7" cy="1577.6" r="2.9" fill="#d4938a" stroke="#4a1c1c" stroke-width="0.9"/><circle cx="244.5" cy="1577.6" r="2.9" fill="#6a2fc0" stroke="#4a1c1c" stroke-width="0.9"/><circle cx="220.1" cy="1583.9" r="2.9" fill="#d4938a" stroke="#4a1c1c" stroke-width="0.9"/><circle cx="220.1" cy="1590.0" r="2.9" fill="#d4938a" stroke="#4a1c1c" stroke-width="0.9"/><circle cx="228.5" cy="1590.0" r="2.9" fill="#d4938a" stroke="#4a1c1c" stroke-width="0.9"/><circle cx="172.4" cy="1596.5" r="2.9" fill="#d4938a" stroke="#4a1c1c" stroke-width="0.9"/><circle cx="229.0" cy="1596.5" r="2.9" fill="#d4938a" stroke="#4a1c1c" stroke-width="0.9"/><circle cx="233.4" cy="1596.5" r="2.9" fill="#d4938a" stroke="#4a1c1c" stroke-width="0.9"/><circle cx="213.3" cy="1602.8" r="2.9" fill="#d4938a" stroke="#4a1c1c" stroke-width="0.9"/><circle cx="228.5" cy="1602.8" r="2.9" fill="#d4938a" stroke="#4a1c1c" stroke-width="0.9"/><circle cx="232.9" cy="1608.8" r="2.9" fill="#d4938a" stroke="#4a1c1c" stroke-width="0.9"/><circle cx="228.5" cy="1615.4" r="2.9" fill="#d4938a" stroke="#4a1c1c" stroke-width="0.9"/><circle cx="247.2" cy="1621.7" r="2.9" fill="#d4938a" stroke="#4a1c1c" stroke-width="0.9"/><circle cx="220.1" cy="1628.0" r="2.9" fill="#d4938a" stroke="#4a1c1c" stroke-width="0.9"/><circle cx="213.3" cy="1634.3" r="2.9" fill="#d4938a" stroke="#4a1c1c" stroke-width="0.9"/><circle cx="231.7" cy="1640.6" r="2.9" fill="#d4938a" stroke="#4a1c1c" stroke-width="0.9"/><circle cx="214.5" cy="1646.9" r="2.9" fill="#d4938a" stroke="#4a1c1c" stroke-width="0.9"/><circle cx="214.5" cy="1653.1" r="2.9" fill="#d4938a" stroke="#4a1c1c" stroke-width="0.9"/><circle cx="229.0" cy="1659.4" r="2.9" fill="#d4938a" stroke="#4a1c1c" stroke-width="0.9"/><circle cx="232.9" cy="1659.4" r="2.9" fill="#d4938a" stroke="#4a1c1c" stroke-width="0.9"/><circle cx="214.5" cy="1665.7" r="2.9" fill="#d4938a" stroke="#4a1c1c" stroke-width="0.9"/><circle cx="220.1" cy="1672.0" r="2.9" fill="#d4938a" stroke="#4a1c1c" stroke-width="0.9"/><circle cx="172.4" cy="1678.3" r="2.9" fill="#6a2fc0" stroke="#4a1c1c" stroke-width="0.9"/><circle cx="220.8" cy="1678.3" r="2.9" fill="#d4938a" stroke="#4a1c1c" stroke-width="0.9"/><circle cx="229.0" cy="1678.3" r="2.9" fill="#d4938a" stroke="#4a1c1c" stroke-width="0.9"/><circle cx="220.1" cy="1684.6" r="2.9" fill="#d4938a" stroke="#4a1c1c" stroke-width="0.9"/><circle cx="220.1" cy="1690.9" r="2.9" fill="#d4938a" stroke="#4a1c1c" stroke-width="0.9"/><circle cx="220.1" cy="1697.2" r="2.9" fill="#d4938a" stroke="#4a1c1c" stroke-width="0.9"/><circle cx="220.1" cy="1703.0" r="2.9" fill="#d4938a" stroke="#4a1c1c" stroke-width="0.9"/>
<text x="141.6" y="1753.6" font-size="27.3"><tspan font-style="italic">TP53</tspan> RefSeq</text>
<text x="485.0" y="1352.2" font-size="29" font-weight="bold">e</text>
<text x="565.3" y="1357.3" font-size="27.1"><tspan font-style="italic">JAK2</tspan> mutations and CNAs</text>
<path d="M540.5,1534.5L544.5,1534.5L894.3,1558.5L513.0,1558.5Z" fill="#ddd8d4"/>
<rect x="513.0" y="1372.3" width="381.3" height="162.2" fill="#fff" stroke="#c0c0c0" stroke-width="1.6"/>
<path d="M513.0,1372.3V1534.5H894.3" stroke="#111" stroke-width="2.2" fill="none"/>
<rect x="645.90" y="1373.30" width="32.20" height="160.20" fill="#e8e8e8"/>
<line x1="542.50" y1="1373.30" x2="542.50" y2="1533.50" stroke="#c8c8c8" stroke-width="1" />
<line x1="529.20" y1="1520.40" x2="877.90" y2="1520.40" stroke="#888" stroke-width="1" />
<g stroke-width="2.6"><line x1="529.2" y1="1477.8" x2="536.0" y2="1477.8" stroke="#2f2fd2"/><line x1="560.2" y1="1477.8" x2="593.4" y2="1477.8" stroke="#2f2fd2"/><line x1="605.5" y1="1477.8" x2="617.6" y2="1477.8" stroke="#9c2a2a"/><line x1="617.6" y1="1477.8" x2="641.8" y2="1477.8" stroke="#2f2fd2"/><line x1="704.8" y1="1477.8" x2="878.6" y2="1477.8" stroke="#2f2fd2"/><line x1="704.8" y1="1463.8" x2="878.6" y2="1463.8" stroke="#2f2fd2"/><line x1="850.8" y1="1485.1" x2="873.8" y2="1485.1" stroke="#2f2fd2"/><line x1="529.2" y1="1498.9" x2="626.1" y2="1498.9" stroke="#9c2a2a"/><line x1="704.8" y1="1498.9" x2="878.6" y2="1498.9" stroke="#2f2fd2"/><line x1="529.2" y1="1506.2" x2="625.6" y2="1506.2" stroke="#5b7f48"/><line x1="719.3" y1="1506.2" x2="722.4" y2="1506.2" stroke="#2f2fd2"/><line x1="755.1" y1="1506.2" x2="764.6" y2="1506.2" stroke="#2f2fd2"/><line x1="852.5" y1="1513.2" x2="878.6" y2="1513.2" stroke="#2f2fd2"/></g>
<circle cx="542.5" cy="1378.3" r="2.4" fill="#d4938a" stroke="#4a1c1c" stroke-width="0.9"/><circle cx="542.5" cy="1384.9" r="2.4" fill="#d4938a" stroke="#4a1c1c" stroke-width="0.9"/><circle cx="542.5" cy="1391.4" r="2.4" fill="#d4938a" stroke="#4a1c1c" stroke-width="0.9"/><circle cx="542.5" cy="1398.0" r="2.4" fill="#d4938a" stroke="#4a1c1c" stroke-width="0.9"/><circle cx="542.5" cy="1404.5" r="2.4" fill="#d4938a" stroke="#4a1c1c" stroke-width="0.9"/><circle cx="542.5" cy="1411.1" r="2.4" fill="#d4938a" stroke="#4a1c1c" stroke-width="0.9"/><circle cx="542.5" cy="1417.7" r="2.4" fill="#d4938a" stroke="#4a1c1c" stroke-width="0.9"/><circle cx="542.5" cy="1424.2" r="2.4" fill="#d4938a" stroke="#4a1c1c" stroke-width="0.9"/><circle cx="542.5" cy="1430.8" r="2.4" fill="#d4938a" stroke="#4a1c1c" stroke-width="0.9"/><circle cx="542.5" cy="1437.3" r="2.4" fill="#d4938a" stroke="#4a1c1c" stroke-width="0.9"/><circle cx="542.5" cy="1443.9" r="2.4" fill="#d4938a" stroke="#4a1c1c" stroke-width="0.9"/><circle cx="542.5" cy="1450.4" r="2.4" fill="#d4938a" stroke="#4a1c1c" stroke-width="0.9"/><circle cx="542.5" cy="1457.0" r="2.4" fill="#d4938a" stroke="#4a1c1c" stroke-width="0.9"/><circle cx="542.5" cy="1492.1" r="2.4" fill="#d4938a" stroke="#4a1c1c" stroke-width="0.9"/><circle cx="542.5" cy="1506.2" r="2.4" fill="#d4938a" stroke="#4a1c1c" stroke-width="0.9"/><circle cx="542.5" cy="1513.2" r="2.4" fill="#d4938a" stroke="#4a1c1c" stroke-width="0.9"/>
<text transform="translate(669.2,1484.9) rotate(-90)" font-size="19" fill="#222">centromere</text>
<text x="835.5" y="1397.0" font-size="27">chr9</text>
<text x="525.8" y="1555.2" font-size="19.5" fill="#222">chr9:4985033-5128183</text>
<rect x="513.0" y="1558.5" width="381.3" height="162.2" fill="#fff" stroke="#c0c0c0" stroke-width="1.6"/>
<path d="M513.0,1558.5V1720.7H894.3" stroke="#111" stroke-width="2.2" fill="none"/>
<g stroke-width="2.6"><line x1="514.0" y1="1685.6" x2="893.5" y2="1685.6" stroke="#9c2a2a"/><line x1="514.0" y1="1692.9" x2="893.5" y2="1692.9" stroke="#5b7f48"/></g>
<line x1="514.00" y1="1707.40" x2="893.50" y2="1707.40" stroke="#cfcfcf" stroke-width="1.2" />
<line x1="530.40" y1="1714.20" x2="875.50" y2="1714.20" stroke="#000" stroke-width="3.2" />
<path d="M530.4,1703.0V1719.5M620.5,1703.0V1719.5M638.9,1703.0V1719.5M674.5,1703.0V1719.5M689.7,1703.0V1719.5M699.4,1703.0V1719.5M724.0,1703.0V1719.5M728.0,1703.0V1719.5M731.0,1703.0V1719.5M734.0,1703.0V1719.5M737.0,1703.0V1719.5M754.0,1703.0V1719.5M756.8,1703.0V1719.5M759.5,1703.0V1719.5M762.0,1703.0V1719.5M784.7,1703.0V1719.5M787.5,1703.0V1719.5M864.6,1703.0V1719.5" stroke="#222" stroke-width="1.1"/>
<rect x="873.00" y="1703.00" width="3.70" height="16.50" fill="#000"/>
<rect x="873.00" y="1702.50" width="3.70" height="17.00" fill="#000"/>
<circle cx="745.4" cy="1565.0" r="2.4" fill="#d4938a" stroke="#4a1c1c" stroke-width="0.9"/><circle cx="745.4" cy="1572.1" r="2.4" fill="#d4938a" stroke="#4a1c1c" stroke-width="0.9"/><circle cx="745.4" cy="1579.1" r="2.4" fill="#d4938a" stroke="#4a1c1c" stroke-width="0.9"/><circle cx="745.4" cy="1586.2" r="2.4" fill="#d4938a" stroke="#4a1c1c" stroke-width="0.9"/><circle cx="745.4" cy="1593.3" r="2.4" fill="#d4938a" stroke="#4a1c1c" stroke-width="0.9"/><circle cx="745.4" cy="1600.3" r="2.4" fill="#d4938a" stroke="#4a1c1c" stroke-width="0.9"/><circle cx="745.4" cy="1607.4" r="2.4" fill="#d4938a" stroke="#4a1c1c" stroke-width="0.9"/><circle cx="745.4" cy="1614.4" r="2.4" fill="#d4938a" stroke="#4a1c1c" stroke-width="0.9"/><circle cx="745.4" cy="1621.5" r="2.4" fill="#d4938a" stroke="#4a1c1c" stroke-width="0.9"/><circle cx="745.4" cy="1628.6" r="2.4" fill="#d4938a" stroke="#4a1c1c" stroke-width="0.9"/><circle cx="745.4" cy="1635.6" r="2.4" fill="#d4938a" stroke="#4a1c1c" stroke-width="0.9"/><circle cx="745.4" cy="1642.7" r="2.4" fill="#d4938a" stroke="#4a1c1c" stroke-width="0.9"/><circle cx="745.4" cy="1678.3" r="2.4" fill="#d4938a" stroke="#4a1c1c" stroke-width="0.9"/><circle cx="745.4" cy="1692.9" r="2.4" fill="#d4938a" stroke="#4a1c1c" stroke-width="0.9"/><circle cx="745.4" cy="1700.1" r="2.4" fill="#d4938a" stroke="#4a1c1c" stroke-width="0.9"/>
<text x="622.5" y="1753.6" font-size="27.3"><tspan font-style="italic">JAK2</tspan> RefSeq</text>
<text x="953.6" y="1352.2" font-size="29" font-weight="bold">f</text>
<text x="1034.8" y="1357.3" font-size="27.1"><tspan font-style="italic">EZH2</tspan> mutations and CNAs</text>
<path d="M1329.1,1535.0L1333.1,1535.0L1371.0,1558.5L989.7,1558.5Z" fill="#ddd8d4"/>
<rect x="989.7" y="1372.3" width="381.3" height="162.7" fill="#fff" stroke="#c0c0c0" stroke-width="1.6"/>
<path d="M989.7,1372.3V1535.0H1371.0" stroke="#111" stroke-width="2.2" fill="none"/>
<rect x="1132.50" y="1373.30" width="7.30" height="160.70" fill="#e2e2e2"/>
<line x1="1331.10" y1="1373.30" x2="1331.10" y2="1534.00" stroke="#c8c8c8" stroke-width="1" />
<line x1="1007.80" y1="1514.60" x2="1354.80" y2="1514.60" stroke="#888" stroke-width="1" />
<g stroke-width="2.6"><line x1="1006.6" y1="1412.2" x2="1355.3" y2="1412.2" stroke="#5b7f48"/><line x1="1006.6" y1="1422.6" x2="1050.9" y2="1422.6" stroke="#2f2fd2"/><line x1="1067.2" y1="1422.6" x2="1105.4" y2="1422.6" stroke="#9c2a2a"/><line x1="1113.2" y1="1422.6" x2="1118.0" y2="1422.6" stroke="#2f2fd2"/><line x1="1165.2" y1="1422.6" x2="1355.3" y2="1422.6" stroke="#9c2a2a"/><line x1="1006.6" y1="1432.8" x2="1355.3" y2="1432.8" stroke="#2f2fd2"/><line x1="1227.0" y1="1443.0" x2="1229.9" y2="1443.0" stroke="#2f2fd2"/><line x1="1006.6" y1="1453.1" x2="1355.3" y2="1453.1" stroke="#2f2fd2"/><line x1="1006.6" y1="1463.3" x2="1355.3" y2="1463.3" stroke="#2f2fd2"/><line x1="1006.6" y1="1473.5" x2="1355.3" y2="1473.5" stroke="#2f2fd2"/><line x1="1112.0" y1="1483.6" x2="1139.8" y2="1483.6" stroke="#2f2fd2"/><line x1="1201.5" y1="1483.6" x2="1230.6" y2="1483.6" stroke="#9c2a2a"/><line x1="1253.6" y1="1483.6" x2="1299.1" y2="1483.6" stroke="#2f2fd2"/><line x1="1199.1" y1="1493.8" x2="1288.7" y2="1493.8" stroke="#2f2fd2"/><line x1="1006.6" y1="1504.0" x2="1355.3" y2="1504.0" stroke="#2f2fd2"/></g>
<circle cx="1331.1" cy="1382.0" r="2.6" fill="#d4938a" stroke="#4a1c1c" stroke-width="0.9"/><circle cx="1331.1" cy="1391.6" r="2.6" fill="#d4938a" stroke="#4a1c1c" stroke-width="0.9"/><circle cx="1331.1" cy="1504.2" r="2.6" fill="#d4938a" stroke="#4a1c1c" stroke-width="0.9"/>
<text transform="translate(1141.0,1505.4) rotate(-90)" font-size="19" fill="#222">centromere</text>
<text x="998.9" y="1395.3" font-size="27">chr7</text>
<text x="988.5" y="1555.5" font-size="19.5" fill="#222">chr7:148504475-148581413</text>
<rect x="989.7" y="1558.5" width="381.3" height="162.2" fill="#fff" stroke="#c0c0c0" stroke-width="1.6"/>
<path d="M989.7,1558.5V1720.7H1371.0" stroke="#111" stroke-width="2.2" fill="none"/>
<g stroke-width="2.6"><line x1="990.7" y1="1598.4" x2="1370.0" y2="1598.4" stroke="#5b7f48"/><line x1="990.7" y1="1608.6" x2="1370.0" y2="1608.6" stroke="#9c2a2a"/><line x1="990.7" y1="1619.0" x2="1370.0" y2="1619.0" stroke="#2f2fd2"/><line x1="990.7" y1="1639.1" x2="1370.0" y2="1639.1" stroke="#2f2fd2"/><line x1="990.7" y1="1649.3" x2="1370.0" y2="1649.3" stroke="#2f2fd2"/><line x1="990.7" y1="1659.4" x2="1370.0" y2="1659.4" stroke="#2f2fd2"/><line x1="990.7" y1="1690.4" x2="1370.0" y2="1690.4" stroke="#2f2fd2"/></g>
<line x1="990.70" y1="1700.60" x2="1370.00" y2="1700.60" stroke="#cfcfcf" stroke-width="1.2" />
<line x1="1007.80" y1="1711.00" x2="1354.10" y2="1711.00" stroke="#000" stroke-width="3.2" />
<path d="M1007.8,1699.6V1719.5M1015.1,1699.6V1719.5M1020.0,1699.6V1719.5M1026.0,1699.6V1719.5M1036.9,1699.6V1719.5M1041.7,1699.6V1719.5M1043.0,1699.6V1719.5M1044.2,1699.6V1719.5M1059.9,1699.6V1719.5M1062.3,1699.6V1719.5M1093.8,1699.6V1719.5M1096.2,1699.6V1719.5M1103.5,1699.6V1719.5M1108.3,1699.6V1719.5M1121.6,1699.6V1719.5M1140.3,1699.6V1719.5M1183.4,1699.6V1719.5M1187.0,1699.6V1719.5M1350.0,1699.6V1719.5M1354.1,1699.6V1719.5" stroke="#222" stroke-width="1.1"/>
<rect x="1049.00" y="1699.60" width="6.50" height="19.90" fill="#000"/>
<circle cx="1020.7" cy="1567.7" r="2.6" fill="#d4938a" stroke="#4a1c1c" stroke-width="0.9"/><circle cx="1054.6" cy="1577.8" r="2.6" fill="#d4938a" stroke="#4a1c1c" stroke-width="0.9"/><circle cx="1008.3" cy="1690.4" r="2.6" fill="#d4938a" stroke="#4a1c1c" stroke-width="0.9"/>
<text x="1068.0" y="1753.6" font-size="27.3"><tspan font-style="italic">EZH2</tspan> RefSeq</text>
<text x="1425.9" y="1352.2" font-size="29" font-weight="bold">g</text>
<text x="1509.0" y="1357.3" font-size="27.1"><tspan font-style="italic">TET2</tspan> mutations and CNAs</text>
<path d="M1675.9,1535.0L1679.9,1535.0L1849.3,1558.5L1468.0,1558.5Z" fill="#ddd8d4"/>
<rect x="1468.0" y="1372.3" width="381.3" height="162.7" fill="#fff" stroke="#c0c0c0" stroke-width="1.6"/>
<path d="M1468.0,1372.3V1535.0H1849.3" stroke="#111" stroke-width="2.2" fill="none"/>
<rect x="1574.30" y="1373.30" width="4.80" height="160.70" fill="#e2e2e2"/>
<line x1="1677.90" y1="1373.30" x2="1677.90" y2="1534.00" stroke="#c8c8c8" stroke-width="1" />
<line x1="1485.40" y1="1509.60" x2="1831.70" y2="1509.60" stroke="#888" stroke-width="1" />
<g stroke-width="2.6"><line x1="1669.4" y1="1383.9" x2="1746.9" y2="1383.9" stroke="#2f2fd2"/><line x1="1487.8" y1="1396.5" x2="1832.9" y2="1396.5" stroke="#2f2fd2"/><line x1="1484.2" y1="1409.1" x2="1563.6" y2="1409.1" stroke="#2f2fd2"/><line x1="1617.9" y1="1409.1" x2="1634.8" y2="1409.1" stroke="#9c2a2a"/><line x1="1656.6" y1="1409.1" x2="1659.8" y2="1409.1" stroke="#9c2a2a"/><line x1="1752.5" y1="1409.1" x2="1768.0" y2="1409.1" stroke="#9c2a2a"/></g>
<circle cx="1677.9" cy="1421.9" r="2.6" fill="#d4938a" stroke="#4a1c1c" stroke-width="0.9"/><circle cx="1677.9" cy="1434.5" r="2.6" fill="#d4938a" stroke="#4a1c1c" stroke-width="0.9"/><circle cx="1677.9" cy="1446.8" r="2.6" fill="#d4938a" stroke="#4a1c1c" stroke-width="0.9"/><circle cx="1677.9" cy="1459.4" r="2.6" fill="#d4938a" stroke="#4a1c1c" stroke-width="0.9"/><circle cx="1677.9" cy="1471.8" r="2.6" fill="#d4938a" stroke="#4a1c1c" stroke-width="0.9"/><circle cx="1677.9" cy="1484.4" r="2.6" fill="#d4938a" stroke="#4a1c1c" stroke-width="0.9"/><circle cx="1677.9" cy="1497.0" r="2.6" fill="#6a2fc0" stroke="#4a1c1c" stroke-width="0.9"/>
<text transform="translate(1580.3,1506.6) rotate(-90)" font-size="19" fill="#222">centromere</text>
<text x="1475.7" y="1447.3" font-size="27">chr4</text>
<text x="1469.5" y="1555.2" font-size="19.5" fill="#222">chr4:106067032-106200973</text>
<rect x="1468.0" y="1558.5" width="380.6" height="162.2" fill="#fff" stroke="#c0c0c0" stroke-width="1.6"/>
<path d="M1468.0,1558.5V1720.7H1848.6" stroke="#111" stroke-width="2.2" fill="none"/>
<g stroke-width="2.6"><line x1="1469.0" y1="1570.1" x2="1847.6" y2="1570.1" stroke="#2f2fd2"/><line x1="1469.0" y1="1582.7" x2="1847.6" y2="1582.7" stroke="#2f2fd2"/></g>
<line x1="1469.00" y1="1696.00" x2="1847.60" y2="1696.00" stroke="#cfcfcf" stroke-width="1.2" />
<line x1="1485.40" y1="1708.60" x2="1831.70" y2="1708.60" stroke="#000" stroke-width="3.2" />
<path d="M1485.4,1696.5V1719.0M1488.6,1696.5V1719.0M1601.2,1696.5V1719.0M1632.4,1696.5V1719.0M1738.5,1696.5V1719.0M1780.8,1696.5V1719.0M1785.7,1696.5V1719.0M1806.7,1696.5V1719.0M1814.0,1696.5V1719.0" stroke="#222" stroke-width="1.1"/>
<rect x="1713.80" y="1696.50" width="23.00" height="22.50" fill="#000"/>
<rect x="1820.30" y="1696.50" width="12.10" height="22.50" fill="#000"/>
<circle cx="1717.4" cy="1607.6" r="2.6" fill="#d4938a" stroke="#4a1c1c" stroke-width="0.9"/><circle cx="1720.8" cy="1620.5" r="2.6" fill="#d4938a" stroke="#4a1c1c" stroke-width="0.9"/><circle cx="1720.3" cy="1633.0" r="2.6" fill="#d4938a" stroke="#4a1c1c" stroke-width="0.9"/><circle cx="1732.9" cy="1658.0" r="2.6" fill="#d4938a" stroke="#4a1c1c" stroke-width="0.9"/><circle cx="1823.2" cy="1645.4" r="2.6" fill="#d4938a" stroke="#4a1c1c" stroke-width="0.9"/><circle cx="1822.5" cy="1670.3" r="2.6" fill="#d4938a" stroke="#4a1c1c" stroke-width="0.9"/><circle cx="1822.0" cy="1683.2" r="2.6" fill="#6a2fc0" stroke="#4a1c1c" stroke-width="0.9"/>
<text x="1574.3" y="1753.6" font-size="27.3"><tspan font-style="italic">TET2</tspan> RefSeq</text>
<text x="18.2" y="1820.0" font-size="29" font-weight="bold">h</text>
<text x="50.1" y="1821.0" font-size="27.4">Single molecule cloning</text>
<text x="494.7" y="1829.0" font-size="23.4" text-anchor="middle">WT+WT/</text>
<text x="495.5" y="1855.6" font-size="23.4" text-anchor="middle">mutant+mutant</text>
<text x="658.0" y="1835.8" font-size="23.4">WT+mutant</text>
<text x="590.5" y="1901.6" font-size="27.5">vs</text>
<polyline points="398.5,1891.1 399.5,1891.0 400.5,1890.6 401.5,1890.0 402.5,1889.2 403.5,1888.2 404.5,1887.1 405.5,1885.9 406.5,1884.7 407.5,1883.5 408.5,1882.4 409.5,1881.4 410.5,1880.6 411.5,1880.0 412.5,1879.6 413.5,1879.5 414.5,1879.6 415.5,1880.0 416.5,1880.6 417.5,1881.4 418.5,1882.4 419.5,1883.5 420.5,1884.7 421.5,1885.9 422.5,1887.1 423.5,1888.2 424.5,1889.2 425.5,1890.0 426.5,1890.6 427.5,1891.0 428.5,1891.1 429.5,1891.0 430.5,1890.6 431.5,1890.0 432.5,1889.2 433.5,1888.2 434.5,1887.1 435.5,1885.9 436.5,1884.7 437.5,1883.5 438.5,1882.4 439.5,1881.4 440.5,1880.6 441.5,1880.0 442.5,1879.6 443.5,1879.5 444.5,1879.6 445.5,1880.0 446.5,1880.6 447.5,1881.4 448.5,1882.4 449.5,1883.5 450.5,1884.7 451.5,1885.9 452.5,1887.1 453.5,1888.2 454.5,1889.2 455.5,1890.0 456.5,1890.6 457.5,1891.0 458.5,1891.1 459.5,1891.0 460.5,1890.6 461.5,1890.0 462.5,1889.2 463.5,1888.2 464.5,1887.1 465.5,1885.9 466.5,1884.7 467.5,1883.5 468.5,1882.4 469.5,1881.4 470.5,1880.6 471.5,1880.0 472.5,1879.6 473.5,1879.5 474.5,1879.6 475.5,1880.0 476.5,1880.6 477.5,1881.4 478.5,1882.4 479.5,1883.5 480.5,1884.7 481.5,1885.9 482.5,1887.1 483.5,1888.2 484.5,1889.2 485.5,1890.0 486.5,1890.6 487.5,1891.0 488.5,1891.1 489.5,1891.0 490.5,1890.6 491.5,1890.0 492.5,1889.2 493.5,1888.2 494.5,1887.1 495.5,1885.9 496.5,1884.7 497.5,1883.5 498.5,1882.4 499.5,1881.4 500.5,1880.6 501.5,1880.0 502.5,1879.6 503.5,1879.5 504.5,1879.6 505.5,1880.0 506.5,1880.6 507.5,1881.4 508.5,1882.4 509.5,1883.5 510.5,1884.7 511.5,1885.9 512.5,1887.1 513.5,1888.2 514.5,1889.2 515.5,1890.0 516.5,1890.6 517.5,1891.0 518.5,1891.1 519.5,1891.0 520.5,1890.6 521.5,1890.0 522.5,1889.2 523.5,1888.2 524.5,1887.1 525.5,1885.9 526.5,1884.7 527.5,1883.5 528.5,1882.4 529.5,1881.4 530.5,1880.6 531.5,1880.0 532.5,1879.6 533.5,1879.5 534.5,1879.6 535.5,1880.0 536.5,1880.6 537.5,1881.4 538.5,1882.4 539.5,1883.5 540.5,1884.7 541.5,1885.9 542.5,1887.1 543.5,1888.2 544.5,1889.2 545.5,1890.0 546.5,1890.6 547.5,1891.0 548.5,1891.1 549.5,1891.0 550.5,1890.6 551.5,1890.0 552.5,1889.2 553.5,1888.2 554.5,1887.1 555.5,1885.9 556.5,1884.7 557.5,1883.5 558.5,1882.4 559.5,1881.4 560.5,1880.6 561.5,1880.0 562.5,1879.6 563.5,1879.5 564.5,1879.6 565.5,1880.0 566.5,1880.6 567.5,1881.4 568.5,1882.4" fill="none" stroke="#1c1c6a" stroke-width="2.6"/>
<polyline points="398.5,1914.8 399.5,1914.7 400.5,1914.3 401.5,1913.7 402.5,1912.9 403.5,1911.9 404.5,1910.8 405.5,1909.6 406.5,1908.4 407.5,1907.2 408.5,1906.1 409.5,1905.1 410.5,1904.3 411.5,1903.7 412.5,1903.3 413.5,1903.2 414.5,1903.3 415.5,1903.7 416.5,1904.3 417.5,1905.1 418.5,1906.1 419.5,1907.2 420.5,1908.4 421.5,1909.6 422.5,1910.8 423.5,1911.9 424.5,1912.9 425.5,1913.7 426.5,1914.3 427.5,1914.7 428.5,1914.8 429.5,1914.7 430.5,1914.3 431.5,1913.7 432.5,1912.9 433.5,1911.9 434.5,1910.8 435.5,1909.6 436.5,1908.4 437.5,1907.2 438.5,1906.1 439.5,1905.1 440.5,1904.3 441.5,1903.7 442.5,1903.3 443.5,1903.2 444.5,1903.3 445.5,1903.7 446.5,1904.3 447.5,1905.1 448.5,1906.1 449.5,1907.2 450.5,1908.4 451.5,1909.6 452.5,1910.8 453.5,1911.9 454.5,1912.9 455.5,1913.7 456.5,1914.3 457.5,1914.7 458.5,1914.8 459.5,1914.7 460.5,1914.3 461.5,1913.7 462.5,1912.9 463.5,1911.9 464.5,1910.8 465.5,1909.6 466.5,1908.4 467.5,1907.2 468.5,1906.1 469.5,1905.1 470.5,1904.3 471.5,1903.7 472.5,1903.3 473.5,1903.2 474.5,1903.3 475.5,1903.7 476.5,1904.3 477.5,1905.1 478.5,1906.1 479.5,1907.2 480.5,1908.4 481.5,1909.6 482.5,1910.8 483.5,1911.9 484.5,1912.9 485.5,1913.7 486.5,1914.3 487.5,1914.7 488.5,1914.8 489.5,1914.7 490.5,1914.3 491.5,1913.7 492.5,1912.9 493.5,1911.9 494.5,1910.8 495.5,1909.6 496.5,1908.4 497.5,1907.2 498.5,1906.1 499.5,1905.1 500.5,1904.3 501.5,1903.7 502.5,1903.3 503.5,1903.2 504.5,1903.3 505.5,1903.7 506.5,1904.3 507.5,1905.1 508.5,1906.1 509.5,1907.2 510.5,1908.4 511.5,1909.6 512.5,1910.8 513.5,1911.9 514.5,1912.9 515.5,1913.7 516.5,1914.3 517.5,1914.7 518.5,1914.8 519.5,1914.7 520.5,1914.3 521.5,1913.7 522.5,1912.9 523.5,1911.9 524.5,1910.8 525.5,1909.6 526.5,1908.4 527.5,1907.2 528.5,1906.1 529.5,1905.1 530.5,1904.3 531.5,1903.7 532.5,1903.3 533.5,1903.2 534.5,1903.3 535.5,1903.7 536.5,1904.3 537.5,1905.1 538.5,1906.1 539.5,1907.2 540.5,1908.4 541.5,1909.6 542.5,1910.8 543.5,1911.9 544.5,1912.9 545.5,1913.7 546.5,1914.3 547.5,1914.7 548.5,1914.8 549.5,1914.7 550.5,1914.3 551.5,1913.7 552.5,1912.9 553.5,1911.9 554.5,1910.8 555.5,1909.6 556.5,1908.4 557.5,1907.2 558.5,1906.1 559.5,1905.1 560.5,1904.3 561.5,1903.7 562.5,1903.3 563.5,1903.2 564.5,1903.3 565.5,1903.7 566.5,1904.3 567.5,1905.1 568.5,1906.1" fill="none" stroke="#1c1c6a" stroke-width="2.6"/>
<path d="M437.9,1870.2L452.1,1893.2M452.1,1870.2L437.9,1893.2" stroke="#e8262e" stroke-width="6.5"/>
<path d="M504.9,1870.2L519.1,1893.2M519.1,1870.2L504.9,1893.2" stroke="#e8262e" stroke-width="6.5"/>
<polyline points="635.5,1887.8 636.5,1887.7 637.5,1887.3 638.5,1886.7 639.5,1885.9 640.5,1884.9 641.5,1883.8 642.5,1882.6 643.5,1881.4 644.5,1880.2 645.5,1879.1 646.5,1878.1 647.5,1877.3 648.5,1876.7 649.5,1876.3 650.5,1876.2 651.5,1876.3 652.6,1876.7 653.6,1877.3 654.6,1878.2 655.6,1879.2 656.6,1880.3 657.6,1881.5 658.6,1882.7 659.6,1883.9 660.6,1885.0 661.6,1885.9 662.6,1886.7 663.6,1887.3 664.6,1887.7 665.6,1887.8 666.6,1887.6 667.6,1887.3 668.6,1886.6 669.6,1885.8 670.6,1884.8 671.6,1883.7 672.6,1882.5 673.6,1881.3 674.6,1880.1 675.6,1879.0 676.6,1878.0 677.6,1877.2 678.6,1876.6 679.6,1876.3 680.6,1876.2 681.6,1876.4 682.6,1876.8 683.6,1877.4 684.6,1878.3 685.6,1879.3 686.7,1880.4 687.7,1881.6 688.7,1882.8 689.7,1884.0 690.7,1885.1 691.7,1886.0 692.7,1886.8 693.7,1887.4 694.7,1887.7 695.7,1887.8 696.7,1887.6 697.7,1887.2 698.7,1886.6 699.7,1885.7 700.7,1884.7 701.7,1883.6 702.7,1882.4 703.7,1881.2 704.7,1880.0 705.7,1878.9 706.7,1877.9 707.7,1877.2 708.7,1876.6 709.7,1876.3 710.7,1876.2 711.7,1876.4 712.7,1876.8 713.7,1877.5 714.7,1878.3 715.7,1879.4 716.7,1880.5 717.7,1881.7 718.7,1882.9 719.7,1884.1 720.8,1885.2 721.8,1886.1 722.8,1886.9 723.8,1887.4 724.8,1887.7 725.8,1887.8 726.8,1887.6 727.8,1887.2 728.8,1886.5 729.8,1885.6 730.8,1884.6 731.8,1883.5 732.8,1882.3 733.8,1881.0 734.8,1879.9 735.8,1878.8 736.8,1877.9 737.8,1877.1 738.8,1876.6 739.8,1876.3 740.8,1876.2 741.8,1876.4 742.8,1876.9 743.8,1877.5 744.8,1878.4 745.8,1879.4 746.8,1880.6 747.8,1881.8 748.8,1883.0 749.8,1884.2 750.8,1885.3 751.8,1886.2 752.8,1886.9 753.8,1887.5 754.9,1887.7 755.9,1887.8 756.9,1887.6 757.9,1887.1 758.9,1886.4 759.9,1885.5 760.9,1884.5 761.9,1883.4 762.9,1882.2 763.9,1880.9 764.9,1879.8 765.9,1878.7 766.9,1877.8 767.9,1877.0 768.9,1876.5 769.9,1876.2 770.9,1876.2 771.9,1876.4 772.9,1876.9 773.9,1877.6 774.9,1878.5 775.9,1879.5 776.9,1880.7 777.9,1881.9 778.9,1883.1 779.9,1884.3 780.9,1885.3 781.9,1886.3 782.9,1887.0 783.9,1887.5 784.9,1887.8 785.9,1887.8 786.9,1887.5 787.9,1887.1 789.0,1886.3 790.0,1885.5 791.0,1884.4 792.0,1883.3 793.0,1882.0 794.0,1880.8 795.0,1879.7 796.0,1878.6 797.0,1877.7 798.0,1877.0 799.0,1876.5 800.0,1876.2 801.0,1876.2 802.0,1876.5 803.0,1877.0 804.0,1877.7 805.0,1878.6" fill="none" stroke="#1c1c6a" stroke-width="2.6"/>
<polyline points="635.5,1915.8 636.5,1915.7 637.5,1915.3 638.5,1914.7 639.5,1913.9 640.5,1912.9 641.5,1911.8 642.5,1910.6 643.5,1909.4 644.5,1908.2 645.5,1907.1 646.5,1906.1 647.5,1905.3 648.5,1904.7 649.5,1904.3 650.5,1904.2 651.5,1904.3 652.6,1904.7 653.6,1905.3 654.6,1906.2 655.6,1907.2 656.6,1908.3 657.6,1909.5 658.6,1910.7 659.6,1911.9 660.6,1913.0 661.6,1913.9 662.6,1914.7 663.6,1915.3 664.6,1915.7 665.6,1915.8 666.6,1915.6 667.6,1915.3 668.6,1914.6 669.6,1913.8 670.6,1912.8 671.6,1911.7 672.6,1910.5 673.6,1909.3 674.6,1908.1 675.6,1907.0 676.6,1906.0 677.6,1905.2 678.6,1904.6 679.6,1904.3 680.6,1904.2 681.6,1904.4 682.6,1904.8 683.6,1905.4 684.6,1906.3 685.6,1907.3 686.7,1908.4 687.7,1909.6 688.7,1910.8 689.7,1912.0 690.7,1913.1 691.7,1914.0 692.7,1914.8 693.7,1915.4 694.7,1915.7 695.7,1915.8 696.7,1915.6 697.7,1915.2 698.7,1914.6 699.7,1913.7 700.7,1912.7 701.7,1911.6 702.7,1910.4 703.7,1909.2 704.7,1908.0 705.7,1906.9 706.7,1905.9 707.7,1905.2 708.7,1904.6 709.7,1904.3 710.7,1904.2 711.7,1904.4 712.7,1904.8 713.7,1905.5 714.7,1906.3 715.7,1907.4 716.7,1908.5 717.7,1909.7 718.7,1910.9 719.7,1912.1 720.8,1913.2 721.8,1914.1 722.8,1914.9 723.8,1915.4 724.8,1915.7 725.8,1915.8 726.8,1915.6 727.8,1915.2 728.8,1914.5 729.8,1913.6 730.8,1912.6 731.8,1911.5 732.8,1910.3 733.8,1909.0 734.8,1907.9 735.8,1906.8 736.8,1905.9 737.8,1905.1 738.8,1904.6 739.8,1904.3 740.8,1904.2 741.8,1904.4 742.8,1904.9 743.8,1905.5 744.8,1906.4 745.8,1907.4 746.8,1908.6 747.8,1909.8 748.8,1911.0 749.8,1912.2 750.8,1913.3 751.8,1914.2 752.8,1914.9 753.8,1915.5 754.9,1915.7 755.9,1915.8 756.9,1915.6 757.9,1915.1 758.9,1914.4 759.9,1913.5 760.9,1912.5 761.9,1911.4 762.9,1910.2 763.9,1908.9 764.9,1907.8 765.9,1906.7 766.9,1905.8 767.9,1905.0 768.9,1904.5 769.9,1904.2 770.9,1904.2 771.9,1904.4 772.9,1904.9 773.9,1905.6 774.9,1906.5 775.9,1907.5 776.9,1908.7 777.9,1909.9 778.9,1911.1 779.9,1912.3 780.9,1913.3 781.9,1914.3 782.9,1915.0 783.9,1915.5 784.9,1915.8 785.9,1915.8 786.9,1915.5 787.9,1915.1 789.0,1914.3 790.0,1913.5 791.0,1912.4 792.0,1911.3 793.0,1910.0 794.0,1908.8 795.0,1907.7 796.0,1906.6 797.0,1905.7 798.0,1905.0 799.0,1904.5 800.0,1904.2 801.0,1904.2 802.0,1904.5 803.0,1905.0 804.0,1905.7 805.0,1906.6" fill="none" stroke="#1c1c6a" stroke-width="2.6"/>
<path d="M674.9,1868.5L689.1,1891.5M689.1,1868.5L674.9,1891.5" stroke="#e8262e" stroke-width="6.5"/>
<path d="M743.6,1904.2L757.8,1927.2M757.8,1904.2L743.6,1927.2" stroke="#e8262e" stroke-width="6.5"/>
<line x1="814.5" y1="1879.3" x2="867" y2="1879.3" stroke="#111" stroke-width="2.8"/>
<path d="M883,1879.3L865,1872.8L865,1885.8Z" fill="#111"/>
<line x1="814.5" y1="1910" x2="867" y2="1910" stroke="#111" stroke-width="2.8"/>
<path d="M883,1910L865,1903.5L865,1916.5Z" fill="#111"/>
<text x="896.0" y="1883.8" font-size="23.4">Strand 1</text>
<text x="897.5" y="1921.3" font-size="23.4">Strand 2</text>
<text x="8.0" y="1964.5" font-size="23.4">Strand 1, forward</text>
<text x="228.0" y="1964.5" font-size="23.5" font-weight="bold">Pt.ID GR004 p.Tyr234His</text>
<text x="629.5" y="1968.2" font-size="23.4">Strand 1, reverse</text>
<text x="854.0" y="1968.2" font-size="23.5" font-weight="bold">Pt.ID GR004 p.Ala347fs</text>
<text x="107.2" y="2008.2" font-size="19.2" textLength="354" lengthAdjust="spacingAndGlyphs">TACCACCATCCAC<tspan fill="#d02020" font-weight="bold">T</tspan>ACAACTACATGTG</text>
<text x="480.2" y="2008.2" font-size="19.2">WT</text>
<text x="107.2" y="2035.4" font-size="19.2" textLength="356" lengthAdjust="spacingAndGlyphs">TACCACCATCCAC<tspan fill="#2a50b0" font-weight="bold">C</tspan>ACAACTACATGTG</text>
<text x="478.8" y="2035.4" font-size="19.2" font-weight="bold">Mutant</text>
<line x1="28.3" y1="2027.4" x2="82.3" y2="2027.4" stroke="#111" stroke-width="3"/>
<path d="M96.3,2027.4L80.3,2021.4L80.3,2033.4Z" fill="#111"/>
<text x="624.3" y="2007.6" font-size="19.2" font-weight="bold">WT</text>
<text x="751.9" y="2007.6" font-size="19.2" textLength="382.7" lengthAdjust="spacingAndGlyphs">AATGAG<tspan fill="#d02828">GCCTTGGAACTCA</tspan>AGGATGCCC</text>
<text x="624.3" y="2035.4" font-size="19.2">Mutant</text>
<text x="752.6" y="2035.4" font-size="19.2">AATGAG</text>
<line x1="832.5" y1="2029" x2="1006" y2="2029" stroke="#3050a0" stroke-width="1.2" stroke-dasharray="3 1.8"/>
<text x="1008.0" y="2035.4" font-size="19.2">AGGATGCCC</text>
<rect x="10.90" y="2050.50" width="264.80" height="213.80" fill="#b3d0f6"/>
<line x1="10.90" y1="2050.50" x2="593.00" y2="2050.50" stroke="#b8b8b8" stroke-width="1" />
<line x1="10.90" y1="2264.30" x2="593.00" y2="2264.30" stroke="#999" stroke-width="0.8" />
<text x="16.3" y="2065.5" font-size="11.5" text-anchor="middle" fill="#3060d0" font-family="Liberation Sans">C</text><text x="29.7" y="2065.5" font-size="11.5" text-anchor="middle" fill="#e03040" font-family="Liberation Sans">T</text><text x="43.1" y="2065.5" font-size="11.5" text-anchor="middle" fill="#111111" font-family="Liberation Sans">G</text><text x="56.5" y="2065.5" font-size="11.5" text-anchor="middle" fill="#30b030" font-family="Liberation Sans">A</text><text x="69.9" y="2065.5" font-size="11.5" text-anchor="middle" fill="#3060d0" font-family="Liberation Sans">C</text><text x="83.3" y="2065.5" font-size="11.5" text-anchor="middle" fill="#e03040" font-family="Liberation Sans">T</text><text x="96.8" y="2065.5" font-size="11.5" text-anchor="middle" fill="#111111" font-family="Liberation Sans">G</text><text x="110.2" y="2065.5" font-size="11.5" text-anchor="middle" fill="#e03040" font-family="Liberation Sans">T</text><text x="123.6" y="2065.5" font-size="11.5" text-anchor="middle" fill="#30b030" font-family="Liberation Sans">A</text><text x="137.0" y="2065.5" font-size="11.5" text-anchor="middle" fill="#3060d0" font-family="Liberation Sans">C</text><text x="150.4" y="2065.5" font-size="11.5" text-anchor="middle" fill="#3060d0" font-family="Liberation Sans">C</text><text x="163.8" y="2065.5" font-size="11.5" text-anchor="middle" fill="#30b030" font-family="Liberation Sans">A</text><text x="177.2" y="2065.5" font-size="11.5" text-anchor="middle" fill="#3060d0" font-family="Liberation Sans">C</text><text x="190.6" y="2065.5" font-size="11.5" text-anchor="middle" fill="#3060d0" font-family="Liberation Sans">C</text><text x="204.0" y="2065.5" font-size="11.5" text-anchor="middle" fill="#30b030" font-family="Liberation Sans">A</text><text x="217.5" y="2065.5" font-size="11.5" text-anchor="middle" fill="#e03040" font-family="Liberation Sans">T</text><text x="230.9" y="2065.5" font-size="11.5" text-anchor="middle" fill="#3060d0" font-family="Liberation Sans">C</text><text x="244.3" y="2065.5" font-size="11.5" text-anchor="middle" fill="#3060d0" font-family="Liberation Sans">C</text><text x="257.7" y="2065.5" font-size="11.5" text-anchor="middle" fill="#30b030" font-family="Liberation Sans">A</text><text x="271.1" y="2065.5" font-size="11.5" text-anchor="middle" fill="#3060d0" font-family="Liberation Sans">C</text><text x="284.5" y="2065.5" font-size="11.5" text-anchor="middle" fill="#3060d0" font-family="Liberation Sans">C</text><text x="297.9" y="2065.5" font-size="11.5" text-anchor="middle" fill="#30b030" font-family="Liberation Sans">A</text><text x="311.3" y="2065.5" font-size="11.5" text-anchor="middle" fill="#3060d0" font-family="Liberation Sans">C</text><text x="324.7" y="2065.5" font-size="11.5" text-anchor="middle" fill="#30b030" font-family="Liberation Sans">A</text><text x="338.1" y="2065.5" font-size="11.5" text-anchor="middle" fill="#30b030" font-family="Liberation Sans">A</text><text x="351.6" y="2065.5" font-size="11.5" text-anchor="middle" fill="#3060d0" font-family="Liberation Sans">C</text><text x="365.0" y="2065.5" font-size="11.5" text-anchor="middle" fill="#e03040" font-family="Liberation Sans">T</text><text x="378.4" y="2065.5" font-size="11.5" text-anchor="middle" fill="#30b030" font-family="Liberation Sans">A</text><text x="391.8" y="2065.5" font-size="11.5" text-anchor="middle" fill="#3060d0" font-family="Liberation Sans">C</text><text x="405.2" y="2065.5" font-size="11.5" text-anchor="middle" fill="#30b030" font-family="Liberation Sans">A</text><text x="418.6" y="2065.5" font-size="11.5" text-anchor="middle" fill="#e03040" font-family="Liberation Sans">T</text><text x="432.0" y="2065.5" font-size="11.5" text-anchor="middle" fill="#111111" font-family="Liberation Sans">G</text><text x="445.4" y="2065.5" font-size="11.5" text-anchor="middle" fill="#e03040" font-family="Liberation Sans">T</text><text x="458.8" y="2065.5" font-size="11.5" text-anchor="middle" fill="#111111" font-family="Liberation Sans">G</text><text x="472.2" y="2065.5" font-size="11.5" text-anchor="middle" fill="#e03040" font-family="Liberation Sans">T</text><text x="485.7" y="2065.5" font-size="11.5" text-anchor="middle" fill="#30b030" font-family="Liberation Sans">A</text><text x="499.1" y="2065.5" font-size="11.5" text-anchor="middle" fill="#30b030" font-family="Liberation Sans">A</text><text x="512.5" y="2065.5" font-size="11.5" text-anchor="middle" fill="#3060d0" font-family="Liberation Sans">C</text><text x="525.9" y="2065.5" font-size="11.5" text-anchor="middle" fill="#30b030" font-family="Liberation Sans">A</text><text x="539.3" y="2065.5" font-size="11.5" text-anchor="middle" fill="#111111" font-family="Liberation Sans">G</text><text x="552.7" y="2065.5" font-size="11.5" text-anchor="middle" fill="#e03040" font-family="Liberation Sans">T</text><text x="566.1" y="2065.5" font-size="11.5" text-anchor="middle" fill="#e03040" font-family="Liberation Sans">T</text><text x="579.5" y="2065.5" font-size="11.5" text-anchor="middle" fill="#3060d0" font-family="Liberation Sans">C</text><text x="592.9" y="2065.5" font-size="11.5" text-anchor="middle" fill="#3060d0" font-family="Liberation Sans">C</text>
<path d="M10.9,2262.8 12.1,2262.8 13.3,2262.8 14.5,2262.8 15.7,2262.8 16.9,2262.8 18.1,2262.8 19.3,2262.8 20.5,2262.8 21.7,2262.8 22.9,2262.8 24.1,2262.8 25.3,2262.8 26.5,2262.8 27.7,2262.8 28.9,2262.8 30.1,2262.8 31.3,2262.8 32.5,2262.8 33.7,2262.8 34.9,2262.8 36.1,2262.8 37.3,2262.8 38.5,2262.7 39.7,2262.6 40.9,2262.4 42.1,2261.9 43.3,2261.2 44.5,2260.4 45.7,2259.5 46.9,2258.7 48.1,2257.5 49.3,2254.6 50.5,2247.6 51.7,2234.1 52.9,2213.8 54.1,2190.0 55.3,2170.2 56.5,2162.3 57.7,2169.7 58.9,2189.4 60.1,2213.4 61.3,2234.5 62.5,2249.0 63.7,2257.1 64.9,2260.8 66.1,2262.2 67.3,2262.6 68.5,2262.8 69.7,2262.8 70.9,2262.8 72.1,2262.8 73.3,2262.8 74.5,2262.8 75.7,2262.8 76.9,2262.8 78.1,2262.8 79.3,2262.7 80.5,2262.5 81.7,2262.2 82.9,2261.6 84.1,2260.8 85.3,2260.0 86.5,2259.4 87.7,2259.3 88.9,2259.7 90.1,2260.5 91.3,2261.3 92.5,2262.0 93.7,2262.4 94.9,2262.7 96.1,2262.8 97.3,2262.8 98.5,2262.8 99.7,2262.8 100.9,2262.8 102.1,2262.8 103.3,2262.8 104.5,2262.8 105.7,2262.8 106.9,2262.8 108.1,2262.8 109.3,2262.8 110.5,2262.8 111.7,2262.8 112.9,2262.7 114.1,2262.4 115.3,2261.5 116.5,2259.2 117.7,2254.2 118.9,2245.4 120.1,2232.9 121.3,2218.9 122.5,2207.6 123.7,2203.5 124.9,2208.1 126.1,2219.3 127.3,2232.7 128.5,2244.6 129.7,2253.0 130.9,2258.0 132.1,2260.7 133.3,2261.9 134.5,2262.5 135.7,2262.7 136.9,2262.8 138.1,2262.8 139.3,2262.8 140.5,2262.8 141.7,2262.8 142.9,2262.8 144.1,2262.8 145.3,2262.8 146.5,2262.8 147.7,2262.8 148.9,2262.8 150.1,2262.8 151.3,2262.8 152.5,2262.7 153.7,2262.6 154.9,2262.0 156.1,2260.4 157.3,2256.5 158.5,2249.0 159.7,2236.9 160.9,2221.5 162.1,2206.6 163.3,2197.4 164.5,2197.6 165.7,2207.0 166.9,2221.5 168.1,2236.2 169.3,2247.7 170.5,2255.2 171.7,2259.3 172.9,2261.3 174.1,2262.2 175.3,2262.6 176.5,2262.7 177.7,2262.8 178.9,2262.8 180.1,2262.8 181.3,2262.8 182.5,2262.8 183.7,2262.8 184.9,2262.8 186.1,2262.8 187.3,2262.8 188.5,2262.8 189.7,2262.8 190.9,2262.8 192.1,2262.8 193.3,2262.7 194.5,2262.4 195.7,2261.6 196.9,2259.4 198.1,2254.7 199.3,2246.4 200.5,2234.4 201.7,2220.7 202.9,2209.6 204.1,2205.3 205.3,2209.4 206.5,2220.0 207.7,2233.1 208.9,2244.6 210.1,2252.9 211.3,2258.0 212.5,2260.6 213.7,2261.9 214.9,2262.5 216.1,2262.7 217.3,2262.8 218.5,2262.8 219.7,2262.8 220.9,2262.8 222.1,2262.8 223.3,2262.8 224.5,2262.8 225.7,2262.8 226.9,2262.8 228.1,2262.8 229.3,2262.8 230.5,2262.8 231.7,2262.8 232.9,2262.8 234.1,2262.8 235.3,2262.8 236.5,2262.8 237.7,2262.8 238.9,2262.8 240.1,2262.7 241.3,2262.6 242.5,2262.2 243.7,2261.7 244.9,2260.9 246.1,2260.0 247.3,2259.3 248.5,2258.7 249.7,2257.8 250.9,2255.3 252.1,2249.6 253.3,2239.4 254.5,2225.3 255.7,2210.5 256.9,2200.5 258.1,2199.3 259.3,2207.7 260.5,2222.1 261.7,2237.1 262.9,2249.0 264.1,2256.5 265.3,2260.3 266.5,2262.0 267.7,2262.6 268.9,2262.7 270.1,2262.8 271.3,2262.8 272.5,2262.8 273.7,2262.8 274.9,2262.8 276.1,2262.8 277.3,2262.8 278.5,2262.8 279.7,2262.8 280.9,2262.8 282.1,2262.8 283.3,2262.8 284.5,2262.8 285.7,2262.6 286.9,2262.1 288.1,2260.6 289.3,2256.9 290.5,2249.5 291.7,2237.2 292.9,2220.9 294.1,2204.3 295.3,2193.4 296.5,2192.5 297.7,2202.2 298.9,2218.2 300.1,2234.9 301.3,2247.9 302.6,2256.0 303.8,2260.2 305.0,2261.9 306.2,2262.6 307.4,2262.7 308.6,2262.8 309.8,2262.8 311.0,2262.8 312.2,2262.6 313.4,2262.2 314.6,2260.8 315.8,2257.4 317.0,2250.5 318.2,2238.8 319.4,2222.9 320.6,2206.3 321.8,2194.7 323.0,2192.8 324.2,2201.4 325.4,2216.7 326.6,2232.3 327.8,2243.1 329.0,2246.0 330.2,2240.5 331.4,2228.1 332.6,2212.5 333.8,2199.5 335.0,2194.8 336.2,2200.4 337.4,2214.0 338.6,2230.3 339.8,2244.4 341.0,2253.9 342.2,2259.1 343.4,2261.5 344.6,2262.4 345.8,2262.7 347.0,2262.8 348.2,2262.8 349.4,2262.8 350.6,2262.8 351.8,2262.8 353.0,2262.8 354.2,2262.8 355.4,2262.8 356.6,2262.8 357.8,2262.8 359.0,2262.8 360.2,2262.8 361.4,2262.8 362.6,2262.8 363.8,2262.8 365.0,2262.8 366.2,2262.6 367.4,2262.2 368.6,2260.9 369.8,2257.7 371.0,2251.0 372.2,2239.5 373.4,2223.5 374.6,2206.4 375.8,2193.7 377.0,2190.7 378.2,2198.7 379.4,2214.3 380.6,2231.5 381.8,2245.6 383.0,2254.7 384.2,2259.6 385.4,2261.7 386.6,2262.5 387.8,2262.7 389.0,2262.8 390.2,2262.8 391.4,2262.8 392.6,2262.6 393.8,2262.2 395.0,2261.1 396.2,2258.4 397.4,2253.5 398.6,2245.8 399.8,2236.3 401.0,2227.8 402.2,2223.3 403.4,2224.8 404.6,2231.7 405.8,2241.1 407.0,2249.9 408.2,2256.3 409.4,2260.0 410.6,2261.8 411.8,2262.5 413.0,2262.7 414.2,2262.8 415.4,2262.8 416.6,2262.8 417.8,2262.8 419.0,2262.8 420.2,2262.8 421.4,2262.8 422.6,2262.8 423.8,2262.8 425.0,2262.8 426.2,2262.8 427.4,2262.8 428.6,2262.8 429.8,2262.8 431.0,2262.8 432.2,2262.8 433.4,2262.8 434.6,2262.8 435.8,2262.8 437.0,2262.8 438.2,2262.8 439.4,2262.8 440.6,2262.8 441.8,2262.8 443.0,2262.8 444.2,2262.8 445.4,2262.8 446.6,2262.8 447.8,2262.8 449.0,2262.8 450.2,2262.8 451.4,2262.8 452.6,2262.8 453.8,2262.8 455.0,2262.8 456.2,2262.8 457.4,2262.8 458.6,2262.8 459.8,2262.8 461.0,2262.8 462.2,2262.8 463.4,2262.8 464.6,2262.8 465.8,2262.8 467.0,2262.8 468.2,2262.8 469.4,2262.8 470.6,2262.8 471.8,2262.8 473.0,2262.8 474.2,2262.7 475.4,2262.5 476.6,2261.8 477.8,2260.0 479.0,2255.7 480.2,2247.7 481.4,2235.2 482.6,2219.9 483.8,2206.0 485.0,2198.7 486.2,2201.2 487.4,2212.2 488.6,2227.1 489.8,2240.5 491.0,2248.3 492.2,2248.7 493.4,2241.1 494.6,2226.3 495.8,2207.7 497.0,2191.1 498.2,2183.3 499.4,2187.6 500.6,2202.2 501.8,2221.2 503.0,2238.5 504.2,2250.7 505.4,2257.6 506.6,2260.9 507.8,2262.2 509.0,2262.6 510.2,2262.8 511.4,2262.8 512.6,2262.7 513.8,2262.4 515.0,2261.5 516.2,2259.2 517.4,2254.0 518.6,2244.6 519.8,2230.8 521.0,2214.7 522.2,2201.3 523.4,2195.9 524.6,2200.7 525.8,2213.7 527.0,2229.7 528.2,2243.8 529.4,2253.5 530.6,2258.9 531.8,2261.4 533.0,2262.4 534.2,2262.7 535.4,2262.8 536.6,2262.8 537.8,2262.8 539.0,2262.8 540.2,2262.8 541.4,2262.8 542.6,2262.8 543.8,2262.8 545.0,2262.8 546.2,2262.8 547.4,2262.8 548.6,2262.8 549.8,2262.8 551.0,2262.8 552.2,2262.8 553.4,2262.8 554.6,2262.8 555.8,2262.8 557.0,2262.8 558.2,2262.8 559.4,2262.8 560.6,2262.8 561.8,2262.8 563.0,2262.8 564.2,2262.8 565.4,2262.8 566.6,2262.8 567.8,2262.8 569.0,2262.8 570.2,2262.8 571.4,2262.8 572.6,2262.8 573.8,2262.8 575.0,2262.8 576.2,2262.8 577.4,2262.8 578.6,2262.8 579.8,2262.8 581.0,2262.8 582.2,2262.8 583.4,2262.8 584.6,2262.8 585.8,2262.8 587.0,2262.8 588.2,2262.8 589.4,2262.8 590.6,2262.8 591.8,2262.8 593.0,2262.8V2264H10.9Z" fill="rgba(60,200,60,0.13)"/>
<path d="M10.9,2262.8 12.1,2262.8 13.3,2262.8 14.5,2262.8 15.7,2262.8 16.9,2262.8 18.1,2262.8 19.3,2262.8 20.5,2262.8 21.7,2262.8 22.9,2262.8 24.1,2262.8 25.3,2262.8 26.5,2262.8 27.7,2262.8 28.9,2262.8 30.1,2262.8 31.3,2262.8 32.5,2262.8 33.7,2262.8 34.9,2262.8 36.1,2262.8 37.3,2262.8 38.5,2262.7 39.7,2262.6 40.9,2262.4 42.1,2261.9 43.3,2261.2 44.5,2260.4 45.7,2259.5 46.9,2258.7 48.1,2257.5 49.3,2254.6 50.5,2247.6 51.7,2234.1 52.9,2213.8 54.1,2190.0 55.3,2170.2 56.5,2162.3 57.7,2169.7 58.9,2189.4 60.1,2213.4 61.3,2234.5 62.5,2249.0 63.7,2257.1 64.9,2260.8 66.1,2262.2 67.3,2262.6 68.5,2262.8 69.7,2262.8 70.9,2262.8 72.1,2262.8 73.3,2262.8 74.5,2262.8 75.7,2262.8 76.9,2262.8 78.1,2262.8 79.3,2262.7 80.5,2262.5 81.7,2262.2 82.9,2261.6 84.1,2260.8 85.3,2260.0 86.5,2259.4 87.7,2259.3 88.9,2259.7 90.1,2260.5 91.3,2261.3 92.5,2262.0 93.7,2262.4 94.9,2262.7 96.1,2262.8 97.3,2262.8 98.5,2262.8 99.7,2262.8 100.9,2262.8 102.1,2262.8 103.3,2262.8 104.5,2262.8 105.7,2262.8 106.9,2262.8 108.1,2262.8 109.3,2262.8 110.5,2262.8 111.7,2262.8 112.9,2262.7 114.1,2262.4 115.3,2261.5 116.5,2259.2 117.7,2254.2 118.9,2245.4 120.1,2232.9 121.3,2218.9 122.5,2207.6 123.7,2203.5 124.9,2208.1 126.1,2219.3 127.3,2232.7 128.5,2244.6 129.7,2253.0 130.9,2258.0 132.1,2260.7 133.3,2261.9 134.5,2262.5 135.7,2262.7 136.9,2262.8 138.1,2262.8 139.3,2262.8 140.5,2262.8 141.7,2262.8 142.9,2262.8 144.1,2262.8 145.3,2262.8 146.5,2262.8 147.7,2262.8 148.9,2262.8 150.1,2262.8 151.3,2262.8 152.5,2262.7 153.7,2262.6 154.9,2262.0 156.1,2260.4 157.3,2256.5 158.5,2249.0 159.7,2236.9 160.9,2221.5 162.1,2206.6 163.3,2197.4 164.5,2197.6 165.7,2207.0 166.9,2221.5 168.1,2236.2 169.3,2247.7 170.5,2255.2 171.7,2259.3 172.9,2261.3 174.1,2262.2 175.3,2262.6 176.5,2262.7 177.7,2262.8 178.9,2262.8 180.1,2262.8 181.3,2262.8 182.5,2262.8 183.7,2262.8 184.9,2262.8 186.1,2262.8 187.3,2262.8 188.5,2262.8 189.7,2262.8 190.9,2262.8 192.1,2262.8 193.3,2262.7 194.5,2262.4 195.7,2261.6 196.9,2259.4 198.1,2254.7 199.3,2246.4 200.5,2234.4 201.7,2220.7 202.9,2209.6 204.1,2205.3 205.3,2209.4 206.5,2220.0 207.7,2233.1 208.9,2244.6 210.1,2252.9 211.3,2258.0 212.5,2260.6 213.7,2261.9 214.9,2262.5 216.1,2262.7 217.3,2262.8 218.5,2262.8 219.7,2262.8 220.9,2262.8 222.1,2262.8 223.3,2262.8 224.5,2262.8 225.7,2262.8 226.9,2262.8 228.1,2262.8 229.3,2262.8 230.5,2262.8 231.7,2262.8 232.9,2262.8 234.1,2262.8 235.3,2262.8 236.5,2262.8 237.7,2262.8 238.9,2262.8 240.1,2262.7 241.3,2262.6 242.5,2262.2 243.7,2261.7 244.9,2260.9 246.1,2260.0 247.3,2259.3 248.5,2258.7 249.7,2257.8 250.9,2255.3 252.1,2249.6 253.3,2239.4 254.5,2225.3 255.7,2210.5 256.9,2200.5 258.1,2199.3 259.3,2207.7 260.5,2222.1 261.7,2237.1 262.9,2249.0 264.1,2256.5 265.3,2260.3 266.5,2262.0 267.7,2262.6 268.9,2262.7 270.1,2262.8 271.3,2262.8 272.5,2262.8 273.7,2262.8 274.9,2262.8 276.1,2262.8 277.3,2262.8 278.5,2262.8 279.7,2262.8 280.9,2262.8 282.1,2262.8 283.3,2262.8 284.5,2262.8 285.7,2262.6 286.9,2262.1 288.1,2260.6 289.3,2256.9 290.5,2249.5 291.7,2237.2 292.9,2220.9 294.1,2204.3 295.3,2193.4 296.5,2192.5 297.7,2202.2 298.9,2218.2 300.1,2234.9 301.3,2247.9 302.6,2256.0 303.8,2260.2 305.0,2261.9 306.2,2262.6 307.4,2262.7 308.6,2262.8 309.8,2262.8 311.0,2262.8 312.2,2262.6 313.4,2262.2 314.6,2260.8 315.8,2257.4 317.0,2250.5 318.2,2238.8 319.4,2222.9 320.6,2206.3 321.8,2194.7 323.0,2192.8 324.2,2201.4 325.4,2216.7 326.6,2232.3 327.8,2243.1 329.0,2246.0 330.2,2240.5 331.4,2228.1 332.6,2212.5 333.8,2199.5 335.0,2194.8 336.2,2200.4 337.4,2214.0 338.6,2230.3 339.8,2244.4 341.0,2253.9 342.2,2259.1 343.4,2261.5 344.6,2262.4 345.8,2262.7 347.0,2262.8 348.2,2262.8 349.4,2262.8 350.6,2262.8 351.8,2262.8 353.0,2262.8 354.2,2262.8 355.4,2262.8 356.6,2262.8 357.8,2262.8 359.0,2262.8 360.2,2262.8 361.4,2262.8 362.6,2262.8 363.8,2262.8 365.0,2262.8 366.2,2262.6 367.4,2262.2 368.6,2260.9 369.8,2257.7 371.0,2251.0 372.2,2239.5 373.4,2223.5 374.6,2206.4 375.8,2193.7 377.0,2190.7 378.2,2198.7 379.4,2214.3 380.6,2231.5 381.8,2245.6 383.0,2254.7 384.2,2259.6 385.4,2261.7 386.6,2262.5 387.8,2262.7 389.0,2262.8 390.2,2262.8 391.4,2262.8 392.6,2262.6 393.8,2262.2 395.0,2261.1 396.2,2258.4 397.4,2253.5 398.6,2245.8 399.8,2236.3 401.0,2227.8 402.2,2223.3 403.4,2224.8 404.6,2231.7 405.8,2241.1 407.0,2249.9 408.2,2256.3 409.4,2260.0 410.6,2261.8 411.8,2262.5 413.0,2262.7 414.2,2262.8 415.4,2262.8 416.6,2262.8 417.8,2262.8 419.0,2262.8 420.2,2262.8 421.4,2262.8 422.6,2262.8 423.8,2262.8 425.0,2262.8 426.2,2262.8 427.4,2262.8 428.6,2262.8 429.8,2262.8 431.0,2262.8 432.2,2262.8 433.4,2262.8 434.6,2262.8 435.8,2262.8 437.0,2262.8 438.2,2262.8 439.4,2262.8 440.6,2262.8 441.8,2262.8 443.0,2262.8 444.2,2262.8 445.4,2262.8 446.6,2262.8 447.8,2262.8 449.0,2262.8 450.2,2262.8 451.4,2262.8 452.6,2262.8 453.8,2262.8 455.0,2262.8 456.2,2262.8 457.4,2262.8 458.6,2262.8 459.8,2262.8 461.0,2262.8 462.2,2262.8 463.4,2262.8 464.6,2262.8 465.8,2262.8 467.0,2262.8 468.2,2262.8 469.4,2262.8 470.6,2262.8 471.8,2262.8 473.0,2262.8 474.2,2262.7 475.4,2262.5 476.6,2261.8 477.8,2260.0 479.0,2255.7 480.2,2247.7 481.4,2235.2 482.6,2219.9 483.8,2206.0 485.0,2198.7 486.2,2201.2 487.4,2212.2 488.6,2227.1 489.8,2240.5 491.0,2248.3 492.2,2248.7 493.4,2241.1 494.6,2226.3 495.8,2207.7 497.0,2191.1 498.2,2183.3 499.4,2187.6 500.6,2202.2 501.8,2221.2 503.0,2238.5 504.2,2250.7 505.4,2257.6 506.6,2260.9 507.8,2262.2 509.0,2262.6 510.2,2262.8 511.4,2262.8 512.6,2262.7 513.8,2262.4 515.0,2261.5 516.2,2259.2 517.4,2254.0 518.6,2244.6 519.8,2230.8 521.0,2214.7 522.2,2201.3 523.4,2195.9 524.6,2200.7 525.8,2213.7 527.0,2229.7 528.2,2243.8 529.4,2253.5 530.6,2258.9 531.8,2261.4 533.0,2262.4 534.2,2262.7 535.4,2262.8 536.6,2262.8 537.8,2262.8 539.0,2262.8 540.2,2262.8 541.4,2262.8 542.6,2262.8 543.8,2262.8 545.0,2262.8 546.2,2262.8 547.4,2262.8 548.6,2262.8 549.8,2262.8 551.0,2262.8 552.2,2262.8 553.4,2262.8 554.6,2262.8 555.8,2262.8 557.0,2262.8 558.2,2262.8 559.4,2262.8 560.6,2262.8 561.8,2262.8 563.0,2262.8 564.2,2262.8 565.4,2262.8 566.6,2262.8 567.8,2262.8 569.0,2262.8 570.2,2262.8 571.4,2262.8 572.6,2262.8 573.8,2262.8 575.0,2262.8 576.2,2262.8 577.4,2262.8 578.6,2262.8 579.8,2262.8 581.0,2262.8 582.2,2262.8 583.4,2262.8 584.6,2262.8 585.8,2262.8 587.0,2262.8 588.2,2262.8 589.4,2262.8 590.6,2262.8 591.8,2262.8 593.0,2262.8" fill="none" stroke="#30b030" stroke-width="1.3" stroke-linejoin="round"/>
<path d="M10.9,2248.7 12.1,2236.0 13.3,2219.4 14.5,2203.1 15.7,2192.7 16.9,2192.8 18.1,2203.1 19.3,2219.5 20.5,2236.0 21.7,2248.7 22.9,2256.5 24.1,2260.4 25.3,2262.0 26.5,2262.6 27.7,2262.7 28.9,2262.8 30.1,2262.8 31.3,2262.8 32.5,2262.8 33.7,2262.8 34.9,2262.8 36.1,2262.8 37.3,2262.8 38.5,2262.8 39.7,2262.8 40.9,2262.8 42.1,2262.8 43.3,2262.8 44.5,2262.8 45.7,2262.8 46.9,2262.8 48.1,2262.8 49.3,2262.8 50.5,2262.8 51.7,2262.8 52.9,2262.8 54.1,2262.8 55.3,2262.8 56.5,2262.8 57.7,2262.8 58.9,2262.7 60.1,2262.5 61.3,2261.8 62.5,2259.9 63.7,2255.5 64.9,2247.3 66.1,2234.8 67.3,2219.7 68.5,2206.3 69.7,2199.7 70.9,2202.7 72.1,2214.1 73.3,2229.1 74.5,2243.0 75.7,2252.9 76.9,2258.5 78.1,2261.3 79.3,2262.3 80.5,2262.7 81.7,2262.8 82.9,2262.8 84.1,2262.8 85.3,2262.8 86.5,2262.8 87.7,2262.8 88.9,2262.8 90.1,2262.8 91.3,2262.8 92.5,2262.8 93.7,2262.8 94.9,2262.8 96.1,2262.8 97.3,2262.8 98.5,2262.8 99.7,2262.8 100.9,2262.8 102.1,2262.8 103.3,2262.8 104.5,2262.8 105.7,2262.8 106.9,2262.8 108.1,2262.8 109.3,2262.8 110.5,2262.8 111.7,2262.8 112.9,2262.8 114.1,2262.8 115.3,2262.8 116.5,2262.8 117.7,2262.8 118.9,2262.8 120.1,2262.8 121.3,2262.8 122.5,2262.8 123.7,2262.8 124.9,2262.8 126.1,2262.7 127.3,2262.4 128.5,2261.3 129.7,2258.6 130.9,2252.5 132.1,2241.5 133.3,2225.1 134.5,2206.0 135.7,2190.0 136.9,2183.2 138.1,2188.6 139.3,2203.8 140.5,2222.6 141.7,2238.6 142.9,2247.9 144.1,2249.1 145.3,2241.9 146.5,2227.3 147.7,2208.6 148.9,2191.4 150.1,2182.6 151.3,2186.0 152.5,2200.1 153.7,2219.2 154.9,2237.0 156.1,2249.8 157.3,2257.2 158.5,2260.7 159.7,2262.2 160.9,2262.6 162.1,2262.8 163.3,2262.8 164.5,2262.8 165.7,2262.7 166.9,2262.6 168.1,2262.0 169.3,2260.3 170.5,2256.1 171.7,2247.7 172.9,2233.9 174.1,2215.4 175.3,2196.8 176.5,2184.4 177.7,2183.4 178.9,2194.3 180.1,2212.3 181.3,2230.5 182.5,2243.6 183.7,2248.7 184.9,2244.8 186.1,2232.1 187.3,2212.6 188.5,2191.2 189.7,2175.4 190.9,2171.8 192.1,2182.1 193.3,2201.8 194.5,2223.5 195.7,2241.3 196.9,2252.7 198.1,2258.8 199.3,2261.4 200.5,2262.4 201.7,2262.7 202.9,2262.8 204.1,2262.8 205.3,2262.8 206.5,2262.8 207.7,2262.8 208.9,2262.8 210.1,2262.8 211.3,2262.8 212.5,2262.8 213.7,2262.8 214.9,2262.8 216.1,2262.8 217.3,2262.8 218.5,2262.8 219.7,2262.7 220.9,2262.5 222.1,2261.6 223.3,2259.3 224.5,2254.1 225.7,2244.1 226.9,2228.5 228.1,2209.4 229.3,2192.0 230.5,2182.7 231.7,2185.6 232.9,2199.4 234.1,2218.2 235.3,2235.4 236.5,2246.5 237.7,2249.5 238.9,2244.2 240.1,2231.3 241.3,2213.2 242.5,2195.3 243.7,2184.4 244.9,2185.1 246.1,2197.2 247.3,2215.6 248.5,2233.9 249.7,2247.7 250.9,2256.1 252.1,2260.3 253.3,2262.0 254.5,2262.6 255.7,2262.7 256.9,2262.8 258.1,2262.8 259.3,2262.8 260.5,2262.6 261.7,2262.1 262.9,2260.7 264.1,2257.0 265.3,2249.4 266.5,2236.1 267.7,2217.6 268.9,2197.6 270.1,2182.7 271.3,2178.9 272.5,2187.8 273.7,2205.4 274.9,2224.3 276.1,2237.8 277.3,2242.0 278.5,2235.9 279.7,2221.2 280.9,2202.4 282.1,2186.6 283.3,2180.6 284.5,2187.1 285.7,2203.4 286.9,2223.1 288.1,2240.2 289.3,2251.8 290.5,2258.3 291.7,2261.2 292.9,2262.3 294.1,2262.7 295.3,2262.8 296.5,2262.8 297.7,2262.8 298.9,2262.6 300.1,2262.2 301.3,2260.9 302.6,2257.5 303.8,2250.5 305.0,2238.5 306.2,2221.7 307.4,2203.7 308.6,2190.3 309.8,2187.1 311.0,2195.4 312.2,2211.6 313.4,2229.7 314.6,2244.6 315.8,2254.3 317.0,2259.4 318.2,2261.6 319.4,2262.5 320.6,2262.7 321.8,2262.8 323.0,2262.8 324.2,2262.8 325.4,2262.8 326.6,2262.8 327.8,2262.8 329.0,2262.8 330.2,2262.8 331.4,2262.8 332.6,2262.8 333.8,2262.8 335.0,2262.8 336.2,2262.8 337.4,2262.8 338.6,2262.7 339.8,2262.3 341.0,2261.1 342.2,2258.0 343.4,2251.2 344.6,2238.7 345.8,2220.1 347.0,2198.4 348.2,2180.1 349.4,2172.3 350.6,2178.3 351.8,2195.7 353.0,2217.3 354.2,2236.6 355.4,2249.9 356.6,2257.4 357.8,2260.9 359.0,2262.2 360.2,2262.6 361.4,2262.8 362.6,2262.8 363.8,2262.8 365.0,2262.8 366.2,2262.8 367.4,2262.8 368.6,2262.8 369.8,2262.8 371.0,2262.8 372.2,2262.8 373.4,2262.8 374.6,2262.8 375.8,2262.8 377.0,2262.8 378.2,2262.7 379.4,2262.5 380.6,2261.7 381.8,2259.4 383.0,2253.7 384.2,2242.1 385.4,2222.5 386.6,2195.9 387.8,2168.3 389.0,2149.0 390.2,2146.1 391.4,2160.8 392.6,2186.8 393.8,2214.6 395.0,2236.7 396.2,2250.8 397.4,2258.1 398.6,2261.2 399.8,2262.3 401.0,2262.7 402.2,2262.8 403.4,2262.8 404.6,2262.8 405.8,2262.8 407.0,2262.8 408.2,2262.8 409.4,2262.8 410.6,2262.8 411.8,2262.8 413.0,2262.8 414.2,2262.8 415.4,2262.8 416.6,2262.8 417.8,2262.8 419.0,2262.8 420.2,2262.8 421.4,2262.8 422.6,2262.8 423.8,2262.8 425.0,2262.8 426.2,2262.8 427.4,2262.8 428.6,2262.8 429.8,2262.8 431.0,2262.8 432.2,2262.8 433.4,2262.8 434.6,2262.8 435.8,2262.8 437.0,2262.8 438.2,2262.8 439.4,2262.8 440.6,2262.8 441.8,2262.8 443.0,2262.8 444.2,2262.8 445.4,2262.8 446.6,2262.8 447.8,2262.8 449.0,2262.8 450.2,2262.8 451.4,2262.8 452.6,2262.8 453.8,2262.8 455.0,2262.8 456.2,2262.8 457.4,2262.8 458.6,2262.8 459.8,2262.8 461.0,2262.8 462.2,2262.8 463.4,2262.8 464.6,2262.8 465.8,2262.8 467.0,2262.8 468.2,2262.8 469.4,2262.8 470.6,2262.8 471.8,2262.8 473.0,2262.8 474.2,2262.8 475.4,2262.8 476.6,2262.8 477.8,2262.8 479.0,2262.8 480.2,2262.8 481.4,2262.8 482.6,2262.8 483.8,2262.8 485.0,2262.8 486.2,2262.8 487.4,2262.8 488.6,2262.8 489.8,2262.8 491.0,2262.8 492.2,2262.8 493.4,2262.8 494.6,2262.8 495.8,2262.8 497.0,2262.8 498.2,2262.8 499.4,2262.8 500.6,2262.7 501.8,2262.4 503.0,2261.5 504.2,2259.2 505.4,2254.1 506.6,2244.7 507.8,2230.9 509.0,2214.9 510.2,2201.5 511.4,2195.9 512.6,2200.5 513.8,2213.5 515.0,2229.5 516.2,2243.6 517.4,2253.4 518.6,2258.9 519.8,2261.4 521.0,2262.4 522.2,2262.7 523.4,2262.8 524.6,2262.8 525.8,2262.8 527.0,2262.8 528.2,2262.8 529.4,2262.8 530.6,2262.8 531.8,2262.8 533.0,2262.8 534.2,2262.8 535.4,2262.8 536.6,2262.8 537.8,2262.8 539.0,2262.8 540.2,2262.8 541.4,2262.8 542.6,2262.8 543.8,2262.8 545.0,2262.8 546.2,2262.8 547.4,2262.8 548.6,2262.8 549.8,2262.8 551.0,2262.8 552.2,2262.8 553.4,2262.8 554.6,2262.8 555.8,2262.8 557.0,2262.8 558.2,2262.8 559.4,2262.8 560.6,2262.8 561.8,2262.8 563.0,2262.8 564.2,2262.8 565.4,2262.8 566.6,2262.8 567.8,2262.8 569.0,2262.7 570.2,2262.5 571.4,2261.6 572.6,2259.3 573.8,2254.1 575.0,2244.2 576.2,2228.9 577.4,2210.1 578.6,2193.1 579.8,2184.2 581.0,2187.3 582.2,2200.9 583.4,2219.2 584.6,2235.4 585.8,2244.8 587.0,2245.3 588.2,2236.8 589.4,2221.3 590.6,2203.3 591.8,2189.2 593.0,2185.1V2264H10.9Z" fill="rgba(60,100,220,0.13)"/>
<path d="M10.9,2248.7 12.1,2236.0 13.3,2219.4 14.5,2203.1 15.7,2192.7 16.9,2192.8 18.1,2203.1 19.3,2219.5 20.5,2236.0 21.7,2248.7 22.9,2256.5 24.1,2260.4 25.3,2262.0 26.5,2262.6 27.7,2262.7 28.9,2262.8 30.1,2262.8 31.3,2262.8 32.5,2262.8 33.7,2262.8 34.9,2262.8 36.1,2262.8 37.3,2262.8 38.5,2262.8 39.7,2262.8 40.9,2262.8 42.1,2262.8 43.3,2262.8 44.5,2262.8 45.7,2262.8 46.9,2262.8 48.1,2262.8 49.3,2262.8 50.5,2262.8 51.7,2262.8 52.9,2262.8 54.1,2262.8 55.3,2262.8 56.5,2262.8 57.7,2262.8 58.9,2262.7 60.1,2262.5 61.3,2261.8 62.5,2259.9 63.7,2255.5 64.9,2247.3 66.1,2234.8 67.3,2219.7 68.5,2206.3 69.7,2199.7 70.9,2202.7 72.1,2214.1 73.3,2229.1 74.5,2243.0 75.7,2252.9 76.9,2258.5 78.1,2261.3 79.3,2262.3 80.5,2262.7 81.7,2262.8 82.9,2262.8 84.1,2262.8 85.3,2262.8 86.5,2262.8 87.7,2262.8 88.9,2262.8 90.1,2262.8 91.3,2262.8 92.5,2262.8 93.7,2262.8 94.9,2262.8 96.1,2262.8 97.3,2262.8 98.5,2262.8 99.7,2262.8 100.9,2262.8 102.1,2262.8 103.3,2262.8 104.5,2262.8 105.7,2262.8 106.9,2262.8 108.1,2262.8 109.3,2262.8 110.5,2262.8 111.7,2262.8 112.9,2262.8 114.1,2262.8 115.3,2262.8 116.5,2262.8 117.7,2262.8 118.9,2262.8 120.1,2262.8 121.3,2262.8 122.5,2262.8 123.7,2262.8 124.9,2262.8 126.1,2262.7 127.3,2262.4 128.5,2261.3 129.7,2258.6 130.9,2252.5 132.1,2241.5 133.3,2225.1 134.5,2206.0 135.7,2190.0 136.9,2183.2 138.1,2188.6 139.3,2203.8 140.5,2222.6 141.7,2238.6 142.9,2247.9 144.1,2249.1 145.3,2241.9 146.5,2227.3 147.7,2208.6 148.9,2191.4 150.1,2182.6 151.3,2186.0 152.5,2200.1 153.7,2219.2 154.9,2237.0 156.1,2249.8 157.3,2257.2 158.5,2260.7 159.7,2262.2 160.9,2262.6 162.1,2262.8 163.3,2262.8 164.5,2262.8 165.7,2262.7 166.9,2262.6 168.1,2262.0 169.3,2260.3 170.5,2256.1 171.7,2247.7 172.9,2233.9 174.1,2215.4 175.3,2196.8 176.5,2184.4 177.7,2183.4 178.9,2194.3 180.1,2212.3 181.3,2230.5 182.5,2243.6 183.7,2248.7 184.9,2244.8 186.1,2232.1 187.3,2212.6 188.5,2191.2 189.7,2175.4 190.9,2171.8 192.1,2182.1 193.3,2201.8 194.5,2223.5 195.7,2241.3 196.9,2252.7 198.1,2258.8 199.3,2261.4 200.5,2262.4 201.7,2262.7 202.9,2262.8 204.1,2262.8 205.3,2262.8 206.5,2262.8 207.7,2262.8 208.9,2262.8 210.1,2262.8 211.3,2262.8 212.5,2262.8 213.7,2262.8 214.9,2262.8 216.1,2262.8 217.3,2262.8 218.5,2262.8 219.7,2262.7 220.9,2262.5 222.1,2261.6 223.3,2259.3 224.5,2254.1 225.7,2244.1 226.9,2228.5 228.1,2209.4 229.3,2192.0 230.5,2182.7 231.7,2185.6 232.9,2199.4 234.1,2218.2 235.3,2235.4 236.5,2246.5 237.7,2249.5 238.9,2244.2 240.1,2231.3 241.3,2213.2 242.5,2195.3 243.7,2184.4 244.9,2185.1 246.1,2197.2 247.3,2215.6 248.5,2233.9 249.7,2247.7 250.9,2256.1 252.1,2260.3 253.3,2262.0 254.5,2262.6 255.7,2262.7 256.9,2262.8 258.1,2262.8 259.3,2262.8 260.5,2262.6 261.7,2262.1 262.9,2260.7 264.1,2257.0 265.3,2249.4 266.5,2236.1 267.7,2217.6 268.9,2197.6 270.1,2182.7 271.3,2178.9 272.5,2187.8 273.7,2205.4 274.9,2224.3 276.1,2237.8 277.3,2242.0 278.5,2235.9 279.7,2221.2 280.9,2202.4 282.1,2186.6 283.3,2180.6 284.5,2187.1 285.7,2203.4 286.9,2223.1 288.1,2240.2 289.3,2251.8 290.5,2258.3 291.7,2261.2 292.9,2262.3 294.1,2262.7 295.3,2262.8 296.5,2262.8 297.7,2262.8 298.9,2262.6 300.1,2262.2 301.3,2260.9 302.6,2257.5 303.8,2250.5 305.0,2238.5 306.2,2221.7 307.4,2203.7 308.6,2190.3 309.8,2187.1 311.0,2195.4 312.2,2211.6 313.4,2229.7 314.6,2244.6 315.8,2254.3 317.0,2259.4 318.2,2261.6 319.4,2262.5 320.6,2262.7 321.8,2262.8 323.0,2262.8 324.2,2262.8 325.4,2262.8 326.6,2262.8 327.8,2262.8 329.0,2262.8 330.2,2262.8 331.4,2262.8 332.6,2262.8 333.8,2262.8 335.0,2262.8 336.2,2262.8 337.4,2262.8 338.6,2262.7 339.8,2262.3 341.0,2261.1 342.2,2258.0 343.4,2251.2 344.6,2238.7 345.8,2220.1 347.0,2198.4 348.2,2180.1 349.4,2172.3 350.6,2178.3 351.8,2195.7 353.0,2217.3 354.2,2236.6 355.4,2249.9 356.6,2257.4 357.8,2260.9 359.0,2262.2 360.2,2262.6 361.4,2262.8 362.6,2262.8 363.8,2262.8 365.0,2262.8 366.2,2262.8 367.4,2262.8 368.6,2262.8 369.8,2262.8 371.0,2262.8 372.2,2262.8 373.4,2262.8 374.6,2262.8 375.8,2262.8 377.0,2262.8 378.2,2262.7 379.4,2262.5 380.6,2261.7 381.8,2259.4 383.0,2253.7 384.2,2242.1 385.4,2222.5 386.6,2195.9 387.8,2168.3 389.0,2149.0 390.2,2146.1 391.4,2160.8 392.6,2186.8 393.8,2214.6 395.0,2236.7 396.2,2250.8 397.4,2258.1 398.6,2261.2 399.8,2262.3 401.0,2262.7 402.2,2262.8 403.4,2262.8 404.6,2262.8 405.8,2262.8 407.0,2262.8 408.2,2262.8 409.4,2262.8 410.6,2262.8 411.8,2262.8 413.0,2262.8 414.2,2262.8 415.4,2262.8 416.6,2262.8 417.8,2262.8 419.0,2262.8 420.2,2262.8 421.4,2262.8 422.6,2262.8 423.8,2262.8 425.0,2262.8 426.2,2262.8 427.4,2262.8 428.6,2262.8 429.8,2262.8 431.0,2262.8 432.2,2262.8 433.4,2262.8 434.6,2262.8 435.8,2262.8 437.0,2262.8 438.2,2262.8 439.4,2262.8 440.6,2262.8 441.8,2262.8 443.0,2262.8 444.2,2262.8 445.4,2262.8 446.6,2262.8 447.8,2262.8 449.0,2262.8 450.2,2262.8 451.4,2262.8 452.6,2262.8 453.8,2262.8 455.0,2262.8 456.2,2262.8 457.4,2262.8 458.6,2262.8 459.8,2262.8 461.0,2262.8 462.2,2262.8 463.4,2262.8 464.6,2262.8 465.8,2262.8 467.0,2262.8 468.2,2262.8 469.4,2262.8 470.6,2262.8 471.8,2262.8 473.0,2262.8 474.2,2262.8 475.4,2262.8 476.6,2262.8 477.8,2262.8 479.0,2262.8 480.2,2262.8 481.4,2262.8 482.6,2262.8 483.8,2262.8 485.0,2262.8 486.2,2262.8 487.4,2262.8 488.6,2262.8 489.8,2262.8 491.0,2262.8 492.2,2262.8 493.4,2262.8 494.6,2262.8 495.8,2262.8 497.0,2262.8 498.2,2262.8 499.4,2262.8 500.6,2262.7 501.8,2262.4 503.0,2261.5 504.2,2259.2 505.4,2254.1 506.6,2244.7 507.8,2230.9 509.0,2214.9 510.2,2201.5 511.4,2195.9 512.6,2200.5 513.8,2213.5 515.0,2229.5 516.2,2243.6 517.4,2253.4 518.6,2258.9 519.8,2261.4 521.0,2262.4 522.2,2262.7 523.4,2262.8 524.6,2262.8 525.8,2262.8 527.0,2262.8 528.2,2262.8 529.4,2262.8 530.6,2262.8 531.8,2262.8 533.0,2262.8 534.2,2262.8 535.4,2262.8 536.6,2262.8 537.8,2262.8 539.0,2262.8 540.2,2262.8 541.4,2262.8 542.6,2262.8 543.8,2262.8 545.0,2262.8 546.2,2262.8 547.4,2262.8 548.6,2262.8 549.8,2262.8 551.0,2262.8 552.2,2262.8 553.4,2262.8 554.6,2262.8 555.8,2262.8 557.0,2262.8 558.2,2262.8 559.4,2262.8 560.6,2262.8 561.8,2262.8 563.0,2262.8 564.2,2262.8 565.4,2262.8 566.6,2262.8 567.8,2262.8 569.0,2262.7 570.2,2262.5 571.4,2261.6 572.6,2259.3 573.8,2254.1 575.0,2244.2 576.2,2228.9 577.4,2210.1 578.6,2193.1 579.8,2184.2 581.0,2187.3 582.2,2200.9 583.4,2219.2 584.6,2235.4 585.8,2244.8 587.0,2245.3 588.2,2236.8 589.4,2221.3 590.6,2203.3 591.8,2189.2 593.0,2185.1" fill="none" stroke="#3060d0" stroke-width="1.3" stroke-linejoin="round"/>
<path d="M10.9,2262.8 12.1,2262.8 13.3,2262.8 14.5,2262.8 15.7,2262.8 16.9,2262.8 18.1,2262.8 19.3,2262.8 20.5,2262.8 21.7,2262.8 22.9,2262.8 24.1,2262.8 25.3,2262.7 26.5,2262.6 27.7,2262.3 28.9,2261.8 30.1,2261.1 31.3,2260.2 32.5,2259.4 33.7,2258.8 34.9,2257.9 36.1,2255.6 37.3,2250.2 38.5,2239.9 39.7,2224.9 40.9,2208.2 42.1,2195.2 43.3,2191.4 44.5,2198.6 45.7,2213.5 46.9,2230.6 48.1,2244.8 49.3,2254.3 50.5,2259.4 51.7,2261.6 52.9,2262.5 54.1,2262.7 55.3,2262.8 56.5,2262.8 57.7,2262.8 58.9,2262.8 60.1,2262.8 61.3,2262.8 62.5,2262.8 63.7,2262.8 64.9,2262.8 66.1,2262.7 67.3,2262.5 68.5,2262.1 69.7,2261.5 70.9,2260.7 72.1,2259.9 73.3,2259.4 74.5,2259.4 75.7,2259.9 76.9,2260.7 78.1,2261.5 79.3,2262.1 80.5,2262.5 81.7,2262.7 82.9,2262.8 84.1,2262.8 85.3,2262.7 86.5,2262.4 87.7,2261.5 88.9,2258.8 90.1,2252.2 91.3,2239.1 92.5,2217.5 93.7,2189.2 94.9,2160.8 96.1,2142.4 97.3,2141.7 98.5,2159.0 99.7,2186.9 100.9,2215.6 102.1,2237.8 103.3,2251.5 104.5,2258.4 105.7,2261.3 106.9,2262.2 108.1,2262.2 109.3,2261.8 110.5,2261.1 111.7,2260.3 112.9,2259.6 114.1,2259.3 115.3,2259.5 116.5,2260.2 117.7,2261.1 118.9,2261.8 120.1,2262.3 121.3,2262.6 122.5,2262.7 123.7,2262.8 124.9,2262.8 126.1,2262.8 127.3,2262.8 128.5,2262.8 129.7,2262.8 130.9,2262.8 132.1,2262.8 133.3,2262.8 134.5,2262.8 135.7,2262.8 136.9,2262.8 138.1,2262.8 139.3,2262.8 140.5,2262.8 141.7,2262.8 142.9,2262.8 144.1,2262.8 145.3,2262.8 146.5,2262.7 147.7,2262.5 148.9,2262.1 150.1,2261.5 151.3,2260.7 152.5,2259.9 153.7,2259.4 154.9,2259.4 156.1,2259.8 157.3,2260.6 158.5,2261.4 159.7,2262.1 160.9,2262.5 162.1,2262.7 163.3,2262.8 164.5,2262.8 165.7,2262.8 166.9,2262.8 168.1,2262.8 169.3,2262.8 170.5,2262.8 171.7,2262.8 172.9,2262.8 174.1,2262.8 175.3,2262.8 176.5,2262.8 177.7,2262.8 178.9,2262.8 180.1,2262.8 181.3,2262.8 182.5,2262.8 183.7,2262.8 184.9,2262.8 186.1,2262.7 187.3,2262.6 188.5,2262.4 189.7,2261.9 190.9,2261.2 192.1,2260.3 193.3,2259.6 194.5,2259.3 195.7,2259.5 196.9,2260.2 198.1,2261.0 199.3,2261.8 200.5,2262.3 201.7,2262.6 202.9,2262.7 204.1,2262.8 205.3,2262.8 206.5,2262.8 207.7,2262.8 208.9,2262.8 210.1,2262.8 211.3,2262.8 212.5,2262.8 213.7,2262.8 214.9,2262.8 216.1,2262.8 217.3,2262.8 218.5,2262.8 219.7,2262.8 220.9,2262.8 222.1,2262.8 223.3,2262.8 224.5,2262.8 225.7,2262.8 226.9,2262.7 228.1,2262.5 229.3,2262.2 230.5,2261.6 231.7,2260.8 232.9,2259.9 234.1,2259.4 235.3,2259.3 236.5,2259.8 237.7,2260.6 238.9,2261.4 240.1,2262.1 241.3,2262.5 242.5,2262.7 243.7,2262.8 244.9,2262.8 246.1,2262.8 247.3,2262.8 248.5,2262.8 249.7,2262.8 250.9,2262.8 252.1,2262.8 253.3,2262.8 254.5,2262.8 255.7,2262.8 256.9,2262.8 258.1,2262.8 259.3,2262.8 260.5,2262.8 261.7,2262.8 262.9,2262.8 264.1,2262.8 265.3,2262.8 266.5,2262.7 267.7,2262.6 268.9,2262.4 270.1,2261.9 271.3,2261.2 272.5,2260.4 273.7,2259.6 274.9,2259.3 276.1,2259.5 277.3,2260.2 278.5,2261.0 279.7,2261.8 280.9,2262.3 282.1,2262.6 283.3,2262.7 284.5,2262.8 285.7,2262.8 286.9,2262.8 288.1,2262.8 289.3,2262.8 290.5,2262.8 291.7,2262.8 292.9,2262.8 294.1,2262.8 295.3,2262.8 296.5,2262.8 297.7,2262.8 298.9,2262.8 300.1,2262.8 301.3,2262.8 302.6,2262.8 303.8,2262.8 305.0,2262.8 306.2,2262.8 307.4,2262.8 308.6,2262.8 309.8,2262.8 311.0,2262.8 312.2,2262.8 313.4,2262.8 314.6,2262.8 315.8,2262.8 317.0,2262.8 318.2,2262.8 319.4,2262.8 320.6,2262.8 321.8,2262.8 323.0,2262.8 324.2,2262.8 325.4,2262.8 326.6,2262.8 327.8,2262.8 329.0,2262.8 330.2,2262.8 331.4,2262.8 332.6,2262.8 333.8,2262.8 335.0,2262.8 336.2,2262.8 337.4,2262.8 338.6,2262.8 339.8,2262.8 341.0,2262.8 342.2,2262.8 343.4,2262.8 344.6,2262.8 345.8,2262.8 347.0,2262.8 348.2,2262.8 349.4,2262.8 350.6,2262.8 351.8,2262.8 353.0,2262.8 354.2,2262.8 355.4,2262.8 356.6,2262.8 357.8,2262.8 359.0,2262.8 360.2,2262.8 361.4,2262.8 362.6,2262.8 363.8,2262.8 365.0,2262.8 366.2,2262.8 367.4,2262.8 368.6,2262.8 369.8,2262.8 371.0,2262.8 372.2,2262.8 373.4,2262.8 374.6,2262.8 375.8,2262.8 377.0,2262.8 378.2,2262.8 379.4,2262.8 380.6,2262.8 381.8,2262.8 383.0,2262.8 384.2,2262.8 385.4,2262.8 386.6,2262.8 387.8,2262.8 389.0,2262.8 390.2,2262.8 391.4,2262.8 392.6,2262.8 393.8,2262.8 395.0,2262.8 396.2,2262.8 397.4,2262.8 398.6,2262.8 399.8,2262.8 401.0,2262.8 402.2,2262.8 403.4,2262.8 404.6,2262.8 405.8,2262.8 407.0,2262.8 408.2,2262.8 409.4,2262.8 410.6,2262.8 411.8,2262.8 413.0,2262.8 414.2,2262.8 415.4,2262.8 416.6,2262.8 417.8,2262.8 419.0,2262.6 420.2,2262.1 421.4,2260.6 422.6,2256.6 423.8,2247.9 425.0,2232.4 426.2,2209.9 427.4,2184.5 428.6,2164.0 429.8,2156.6 431.0,2165.6 432.2,2186.9 433.4,2212.3 434.6,2234.2 435.8,2249.0 437.0,2257.1 438.2,2260.8 439.4,2262.2 440.6,2262.6 441.8,2262.8 443.0,2262.8 444.2,2262.8 445.4,2262.8 446.6,2262.7 447.8,2262.4 449.0,2261.4 450.2,2258.8 451.4,2252.7 452.6,2241.1 453.8,2223.2 455.0,2201.3 456.2,2181.4 457.4,2170.9 458.6,2174.4 459.8,2190.4 461.0,2212.3 462.2,2232.7 463.4,2247.6 464.6,2256.2 465.8,2260.4 467.0,2262.0 468.2,2262.6 469.4,2262.8 470.6,2262.8 471.8,2262.8 473.0,2262.8 474.2,2262.8 475.4,2262.8 476.6,2262.8 477.8,2262.8 479.0,2262.8 480.2,2262.8 481.4,2262.8 482.6,2262.8 483.8,2262.8 485.0,2262.8 486.2,2262.8 487.4,2262.8 488.6,2262.8 489.8,2262.8 491.0,2262.8 492.2,2262.8 493.4,2262.8 494.6,2262.8 495.8,2262.8 497.0,2262.8 498.2,2262.8 499.4,2262.8 500.6,2262.8 501.8,2262.8 503.0,2262.8 504.2,2262.8 505.4,2262.8 506.6,2262.8 507.8,2262.8 509.0,2262.8 510.2,2262.8 511.4,2262.8 512.6,2262.8 513.8,2262.8 515.0,2262.8 516.2,2262.8 517.4,2262.8 518.6,2262.8 519.8,2262.8 521.0,2262.8 522.2,2262.8 523.4,2262.8 524.6,2262.8 525.8,2262.8 527.0,2262.8 528.2,2262.6 529.4,2262.2 530.6,2261.0 531.8,2258.2 533.0,2252.7 534.2,2243.9 535.4,2232.5 536.6,2221.5 537.8,2214.8 539.0,2215.2 540.2,2222.6 541.4,2233.9 542.6,2245.1 543.8,2253.5 545.0,2258.7 546.2,2261.2 547.4,2262.3 548.6,2262.7 549.8,2262.8 551.0,2262.8 552.2,2262.8 553.4,2262.8 554.6,2262.8 555.8,2262.8 557.0,2262.8 558.2,2262.8 559.4,2262.8 560.6,2262.8 561.8,2262.8 563.0,2262.8 564.2,2262.8 565.4,2262.8 566.6,2262.8 567.8,2262.8 569.0,2262.8 570.2,2262.8 571.4,2262.8 572.6,2262.8 573.8,2262.8 575.0,2262.8 576.2,2262.8 577.4,2262.8 578.6,2262.8 579.8,2262.8 581.0,2262.8 582.2,2262.8 583.4,2262.8 584.6,2262.8 585.8,2262.8 587.0,2262.8 588.2,2262.8 589.4,2262.8 590.6,2262.8 591.8,2262.8 593.0,2262.8V2264H10.9Z" fill="rgba(0,0,0,0.13)"/>
<path d="M10.9,2262.8 12.1,2262.8 13.3,2262.8 14.5,2262.8 15.7,2262.8 16.9,2262.8 18.1,2262.8 19.3,2262.8 20.5,2262.8 21.7,2262.8 22.9,2262.8 24.1,2262.8 25.3,2262.7 26.5,2262.6 27.7,2262.3 28.9,2261.8 30.1,2261.1 31.3,2260.2 32.5,2259.4 33.7,2258.8 34.9,2257.9 36.1,2255.6 37.3,2250.2 38.5,2239.9 39.7,2224.9 40.9,2208.2 42.1,2195.2 43.3,2191.4 44.5,2198.6 45.7,2213.5 46.9,2230.6 48.1,2244.8 49.3,2254.3 50.5,2259.4 51.7,2261.6 52.9,2262.5 54.1,2262.7 55.3,2262.8 56.5,2262.8 57.7,2262.8 58.9,2262.8 60.1,2262.8 61.3,2262.8 62.5,2262.8 63.7,2262.8 64.9,2262.8 66.1,2262.7 67.3,2262.5 68.5,2262.1 69.7,2261.5 70.9,2260.7 72.1,2259.9 73.3,2259.4 74.5,2259.4 75.7,2259.9 76.9,2260.7 78.1,2261.5 79.3,2262.1 80.5,2262.5 81.7,2262.7 82.9,2262.8 84.1,2262.8 85.3,2262.7 86.5,2262.4 87.7,2261.5 88.9,2258.8 90.1,2252.2 91.3,2239.1 92.5,2217.5 93.7,2189.2 94.9,2160.8 96.1,2142.4 97.3,2141.7 98.5,2159.0 99.7,2186.9 100.9,2215.6 102.1,2237.8 103.3,2251.5 104.5,2258.4 105.7,2261.3 106.9,2262.2 108.1,2262.2 109.3,2261.8 110.5,2261.1 111.7,2260.3 112.9,2259.6 114.1,2259.3 115.3,2259.5 116.5,2260.2 117.7,2261.1 118.9,2261.8 120.1,2262.3 121.3,2262.6 122.5,2262.7 123.7,2262.8 124.9,2262.8 126.1,2262.8 127.3,2262.8 128.5,2262.8 129.7,2262.8 130.9,2262.8 132.1,2262.8 133.3,2262.8 134.5,2262.8 135.7,2262.8 136.9,2262.8 138.1,2262.8 139.3,2262.8 140.5,2262.8 141.7,2262.8 142.9,2262.8 144.1,2262.8 145.3,2262.8 146.5,2262.7 147.7,2262.5 148.9,2262.1 150.1,2261.5 151.3,2260.7 152.5,2259.9 153.7,2259.4 154.9,2259.4 156.1,2259.8 157.3,2260.6 158.5,2261.4 159.7,2262.1 160.9,2262.5 162.1,2262.7 163.3,2262.8 164.5,2262.8 165.7,2262.8 166.9,2262.8 168.1,2262.8 169.3,2262.8 170.5,2262.8 171.7,2262.8 172.9,2262.8 174.1,2262.8 175.3,2262.8 176.5,2262.8 177.7,2262.8 178.9,2262.8 180.1,2262.8 181.3,2262.8 182.5,2262.8 183.7,2262.8 184.9,2262.8 186.1,2262.7 187.3,2262.6 188.5,2262.4 189.7,2261.9 190.9,2261.2 192.1,2260.3 193.3,2259.6 194.5,2259.3 195.7,2259.5 196.9,2260.2 198.1,2261.0 199.3,2261.8 200.5,2262.3 201.7,2262.6 202.9,2262.7 204.1,2262.8 205.3,2262.8 206.5,2262.8 207.7,2262.8 208.9,2262.8 210.1,2262.8 211.3,2262.8 212.5,2262.8 213.7,2262.8 214.9,2262.8 216.1,2262.8 217.3,2262.8 218.5,2262.8 219.7,2262.8 220.9,2262.8 222.1,2262.8 223.3,2262.8 224.5,2262.8 225.7,2262.8 226.9,2262.7 228.1,2262.5 229.3,2262.2 230.5,2261.6 231.7,2260.8 232.9,2259.9 234.1,2259.4 235.3,2259.3 236.5,2259.8 237.7,2260.6 238.9,2261.4 240.1,2262.1 241.3,2262.5 242.5,2262.7 243.7,2262.8 244.9,2262.8 246.1,2262.8 247.3,2262.8 248.5,2262.8 249.7,2262.8 250.9,2262.8 252.1,2262.8 253.3,2262.8 254.5,2262.8 255.7,2262.8 256.9,2262.8 258.1,2262.8 259.3,2262.8 260.5,2262.8 261.7,2262.8 262.9,2262.8 264.1,2262.8 265.3,2262.8 266.5,2262.7 267.7,2262.6 268.9,2262.4 270.1,2261.9 271.3,2261.2 272.5,2260.4 273.7,2259.6 274.9,2259.3 276.1,2259.5 277.3,2260.2 278.5,2261.0 279.7,2261.8 280.9,2262.3 282.1,2262.6 283.3,2262.7 284.5,2262.8 285.7,2262.8 286.9,2262.8 288.1,2262.8 289.3,2262.8 290.5,2262.8 291.7,2262.8 292.9,2262.8 294.1,2262.8 295.3,2262.8 296.5,2262.8 297.7,2262.8 298.9,2262.8 300.1,2262.8 301.3,2262.8 302.6,2262.8 303.8,2262.8 305.0,2262.8 306.2,2262.8 307.4,2262.8 308.6,2262.8 309.8,2262.8 311.0,2262.8 312.2,2262.8 313.4,2262.8 314.6,2262.8 315.8,2262.8 317.0,2262.8 318.2,2262.8 319.4,2262.8 320.6,2262.8 321.8,2262.8 323.0,2262.8 324.2,2262.8 325.4,2262.8 326.6,2262.8 327.8,2262.8 329.0,2262.8 330.2,2262.8 331.4,2262.8 332.6,2262.8 333.8,2262.8 335.0,2262.8 336.2,2262.8 337.4,2262.8 338.6,2262.8 339.8,2262.8 341.0,2262.8 342.2,2262.8 343.4,2262.8 344.6,2262.8 345.8,2262.8 347.0,2262.8 348.2,2262.8 349.4,2262.8 350.6,2262.8 351.8,2262.8 353.0,2262.8 354.2,2262.8 355.4,2262.8 356.6,2262.8 357.8,2262.8 359.0,2262.8 360.2,2262.8 361.4,2262.8 362.6,2262.8 363.8,2262.8 365.0,2262.8 366.2,2262.8 367.4,2262.8 368.6,2262.8 369.8,2262.8 371.0,2262.8 372.2,2262.8 373.4,2262.8 374.6,2262.8 375.8,2262.8 377.0,2262.8 378.2,2262.8 379.4,2262.8 380.6,2262.8 381.8,2262.8 383.0,2262.8 384.2,2262.8 385.4,2262.8 386.6,2262.8 387.8,2262.8 389.0,2262.8 390.2,2262.8 391.4,2262.8 392.6,2262.8 393.8,2262.8 395.0,2262.8 396.2,2262.8 397.4,2262.8 398.6,2262.8 399.8,2262.8 401.0,2262.8 402.2,2262.8 403.4,2262.8 404.6,2262.8 405.8,2262.8 407.0,2262.8 408.2,2262.8 409.4,2262.8 410.6,2262.8 411.8,2262.8 413.0,2262.8 414.2,2262.8 415.4,2262.8 416.6,2262.8 417.8,2262.8 419.0,2262.6 420.2,2262.1 421.4,2260.6 422.6,2256.6 423.8,2247.9 425.0,2232.4 426.2,2209.9 427.4,2184.5 428.6,2164.0 429.8,2156.6 431.0,2165.6 432.2,2186.9 433.4,2212.3 434.6,2234.2 435.8,2249.0 437.0,2257.1 438.2,2260.8 439.4,2262.2 440.6,2262.6 441.8,2262.8 443.0,2262.8 444.2,2262.8 445.4,2262.8 446.6,2262.7 447.8,2262.4 449.0,2261.4 450.2,2258.8 451.4,2252.7 452.6,2241.1 453.8,2223.2 455.0,2201.3 456.2,2181.4 457.4,2170.9 458.6,2174.4 459.8,2190.4 461.0,2212.3 462.2,2232.7 463.4,2247.6 464.6,2256.2 465.8,2260.4 467.0,2262.0 468.2,2262.6 469.4,2262.8 470.6,2262.8 471.8,2262.8 473.0,2262.8 474.2,2262.8 475.4,2262.8 476.6,2262.8 477.8,2262.8 479.0,2262.8 480.2,2262.8 481.4,2262.8 482.6,2262.8 483.8,2262.8 485.0,2262.8 486.2,2262.8 487.4,2262.8 488.6,2262.8 489.8,2262.8 491.0,2262.8 492.2,2262.8 493.4,2262.8 494.6,2262.8 495.8,2262.8 497.0,2262.8 498.2,2262.8 499.4,2262.8 500.6,2262.8 501.8,2262.8 503.0,2262.8 504.2,2262.8 505.4,2262.8 506.6,2262.8 507.8,2262.8 509.0,2262.8 510.2,2262.8 511.4,2262.8 512.6,2262.8 513.8,2262.8 515.0,2262.8 516.2,2262.8 517.4,2262.8 518.6,2262.8 519.8,2262.8 521.0,2262.8 522.2,2262.8 523.4,2262.8 524.6,2262.8 525.8,2262.8 527.0,2262.8 528.2,2262.6 529.4,2262.2 530.6,2261.0 531.8,2258.2 533.0,2252.7 534.2,2243.9 535.4,2232.5 536.6,2221.5 537.8,2214.8 539.0,2215.2 540.2,2222.6 541.4,2233.9 542.6,2245.1 543.8,2253.5 545.0,2258.7 546.2,2261.2 547.4,2262.3 548.6,2262.7 549.8,2262.8 551.0,2262.8 552.2,2262.8 553.4,2262.8 554.6,2262.8 555.8,2262.8 557.0,2262.8 558.2,2262.8 559.4,2262.8 560.6,2262.8 561.8,2262.8 563.0,2262.8 564.2,2262.8 565.4,2262.8 566.6,2262.8 567.8,2262.8 569.0,2262.8 570.2,2262.8 571.4,2262.8 572.6,2262.8 573.8,2262.8 575.0,2262.8 576.2,2262.8 577.4,2262.8 578.6,2262.8 579.8,2262.8 581.0,2262.8 582.2,2262.8 583.4,2262.8 584.6,2262.8 585.8,2262.8 587.0,2262.8 588.2,2262.8 589.4,2262.8 590.6,2262.8 591.8,2262.8 593.0,2262.8" fill="none" stroke="#111111" stroke-width="1.3" stroke-linejoin="round"/>
<path d="M10.9,2262.8 12.1,2262.7 13.3,2262.6 14.5,2262.3 15.7,2261.7 16.9,2260.9 18.1,2260.1 19.3,2259.3 20.5,2258.6 21.7,2257.4 22.9,2254.3 24.1,2247.2 25.3,2234.6 26.5,2216.9 27.7,2198.2 28.9,2185.1 30.1,2182.9 31.3,2192.8 32.5,2210.6 33.7,2229.6 34.9,2244.8 36.1,2254.5 37.3,2259.5 38.5,2261.7 39.7,2262.5 40.9,2262.7 42.1,2262.8 43.3,2262.8 44.5,2262.8 45.7,2262.8 46.9,2262.8 48.1,2262.8 49.3,2262.8 50.5,2262.8 51.7,2262.8 52.9,2262.7 54.1,2262.4 55.3,2262.0 56.5,2261.4 57.7,2260.6 58.9,2259.8 60.1,2259.3 61.3,2259.4 62.5,2260.0 63.7,2260.8 64.9,2261.6 66.1,2262.2 67.3,2262.5 68.5,2262.7 69.7,2262.8 70.9,2262.8 72.1,2262.7 73.3,2262.5 74.5,2261.8 75.7,2259.8 76.9,2255.0 78.1,2245.9 79.3,2231.3 80.5,2213.1 81.7,2195.8 82.9,2185.8 84.1,2187.5 85.3,2200.0 86.5,2218.2 87.7,2235.8 88.9,2248.9 90.1,2256.7 91.3,2260.5 92.5,2262.0 93.7,2262.4 94.9,2262.2 96.1,2261.7 97.3,2261.0 98.5,2260.1 99.7,2259.4 100.9,2258.8 102.1,2257.9 103.3,2255.6 104.5,2250.3 105.7,2240.6 106.9,2226.7 108.1,2211.8 109.3,2201.1 110.5,2199.0 111.7,2206.6 112.9,2220.6 114.1,2235.8 115.3,2248.1 116.5,2256.0 117.7,2260.1 118.9,2261.9 120.1,2262.5 121.3,2262.7 122.5,2262.8 123.7,2262.8 124.9,2262.8 126.1,2262.8 127.3,2262.8 128.5,2262.8 129.7,2262.8 130.9,2262.8 132.1,2262.8 133.3,2262.7 134.5,2262.5 135.7,2262.1 136.9,2261.4 138.1,2260.6 139.3,2259.8 140.5,2259.3 141.7,2259.4 142.9,2260.0 144.1,2260.8 145.3,2261.6 146.5,2262.2 147.7,2262.5 148.9,2262.7 150.1,2262.8 151.3,2262.8 152.5,2262.8 153.7,2262.8 154.9,2262.8 156.1,2262.8 157.3,2262.8 158.5,2262.8 159.7,2262.8 160.9,2262.8 162.1,2262.8 163.3,2262.8 164.5,2262.8 165.7,2262.8 166.9,2262.8 168.1,2262.8 169.3,2262.8 170.5,2262.8 171.7,2262.8 172.9,2262.7 174.1,2262.6 175.3,2262.3 176.5,2261.8 177.7,2261.0 178.9,2260.2 180.1,2259.5 181.3,2259.3 182.5,2259.6 183.7,2260.3 184.9,2261.2 186.1,2261.9 187.3,2262.4 188.5,2262.6 189.7,2262.7 190.9,2262.8 192.1,2262.8 193.3,2262.8 194.5,2262.8 195.7,2262.8 196.9,2262.8 198.1,2262.8 199.3,2262.8 200.5,2262.8 201.7,2262.8 202.9,2262.8 204.1,2262.8 205.3,2262.8 206.5,2262.7 207.7,2262.3 208.9,2261.0 210.1,2257.8 211.3,2250.4 212.5,2237.0 213.7,2216.8 214.9,2193.0 216.1,2172.4 217.3,2162.8 218.5,2168.2 219.7,2186.0 220.9,2209.1 222.1,2230.3 223.3,2245.5 224.5,2254.7 225.7,2259.4 226.9,2261.5 228.1,2262.3 229.3,2262.7 230.5,2262.8 231.7,2262.8 232.9,2262.8 234.1,2262.8 235.3,2262.8 236.5,2262.8 237.7,2262.8 238.9,2262.8 240.1,2262.8 241.3,2262.8 242.5,2262.8 243.7,2262.8 244.9,2262.8 246.1,2262.8 247.3,2262.8 248.5,2262.8 249.7,2262.8 250.9,2262.8 252.1,2262.8 253.3,2262.7 254.5,2262.6 255.7,2262.3 256.9,2261.8 258.1,2261.1 259.3,2260.2 260.5,2259.5 261.7,2259.3 262.9,2259.6 264.1,2260.3 265.3,2261.1 266.5,2261.9 267.7,2262.3 268.9,2262.6 270.1,2262.7 271.3,2262.8 272.5,2262.8 273.7,2262.8 274.9,2262.8 276.1,2262.8 277.3,2262.8 278.5,2262.8 279.7,2262.8 280.9,2262.8 282.1,2262.8 283.3,2262.8 284.5,2262.8 285.7,2262.8 286.9,2262.8 288.1,2262.8 289.3,2262.8 290.5,2262.8 291.7,2262.8 292.9,2262.8 294.1,2262.8 295.3,2262.8 296.5,2262.8 297.7,2262.8 298.9,2262.8 300.1,2262.8 301.3,2262.8 302.6,2262.8 303.8,2262.8 305.0,2262.8 306.2,2262.8 307.4,2262.8 308.6,2262.8 309.8,2262.8 311.0,2262.8 312.2,2262.8 313.4,2262.8 314.6,2262.8 315.8,2262.8 317.0,2262.8 318.2,2262.8 319.4,2262.8 320.6,2262.8 321.8,2262.8 323.0,2262.8 324.2,2262.8 325.4,2262.8 326.6,2262.8 327.8,2262.8 329.0,2262.8 330.2,2262.8 331.4,2262.8 332.6,2262.8 333.8,2262.8 335.0,2262.8 336.2,2262.8 337.4,2262.8 338.6,2262.8 339.8,2262.8 341.0,2262.8 342.2,2262.8 343.4,2262.8 344.6,2262.8 345.8,2262.8 347.0,2262.8 348.2,2262.8 349.4,2262.8 350.6,2262.8 351.8,2262.7 353.0,2262.6 354.2,2261.9 355.4,2260.1 356.6,2255.7 357.8,2246.8 359.0,2232.0 360.2,2212.6 361.4,2192.9 362.6,2179.8 363.8,2179.0 365.0,2190.6 366.2,2209.8 367.4,2229.7 368.6,2245.1 369.8,2254.8 371.0,2259.7 372.2,2261.8 373.4,2262.5 374.6,2262.7 375.8,2262.8 377.0,2262.8 378.2,2262.8 379.4,2262.8 380.6,2262.8 381.8,2262.8 383.0,2262.8 384.2,2262.8 385.4,2262.8 386.6,2262.8 387.8,2262.8 389.0,2262.8 390.2,2262.8 391.4,2262.8 392.6,2262.8 393.8,2262.8 395.0,2262.8 396.2,2262.8 397.4,2262.8 398.6,2262.8 399.8,2262.8 401.0,2262.8 402.2,2262.8 403.4,2262.8 404.6,2262.7 405.8,2262.5 407.0,2261.7 408.2,2259.6 409.4,2254.4 410.6,2244.2 411.8,2227.9 413.0,2206.8 414.2,2186.3 415.4,2173.7 416.6,2174.4 417.8,2188.1 419.0,2209.0 420.2,2229.8 421.4,2245.5 422.6,2255.1 423.8,2259.9 425.0,2261.9 426.2,2262.5 427.4,2262.7 428.6,2262.8 429.8,2262.8 431.0,2262.8 432.2,2262.8 433.4,2262.6 434.6,2262.2 435.8,2260.9 437.0,2257.5 438.2,2250.5 439.4,2238.5 440.6,2222.0 441.8,2204.2 443.0,2191.2 444.2,2188.2 445.4,2196.6 446.6,2212.7 447.8,2230.5 449.0,2245.1 450.2,2254.5 451.4,2259.5 452.6,2261.7 453.8,2262.5 455.0,2262.7 456.2,2262.8 457.4,2262.8 458.6,2262.8 459.8,2262.8 461.0,2262.7 462.2,2262.5 463.4,2261.9 464.6,2260.0 465.8,2255.7 467.0,2247.4 468.2,2234.2 469.4,2217.6 470.6,2201.9 471.8,2192.9 473.0,2194.5 474.2,2205.9 475.4,2222.4 476.6,2238.3 477.8,2250.2 479.0,2257.3 480.2,2260.7 481.4,2262.1 482.6,2262.6 483.8,2262.8 485.0,2262.8 486.2,2262.8 487.4,2262.8 488.6,2262.8 489.8,2262.8 491.0,2262.8 492.2,2262.8 493.4,2262.8 494.6,2262.8 495.8,2262.8 497.0,2262.8 498.2,2262.8 499.4,2262.8 500.6,2262.8 501.8,2262.8 503.0,2262.8 504.2,2262.8 505.4,2262.8 506.6,2262.8 507.8,2262.8 509.0,2262.8 510.2,2262.8 511.4,2262.8 512.6,2262.8 513.8,2262.8 515.0,2262.8 516.2,2262.8 517.4,2262.8 518.6,2262.8 519.8,2262.8 521.0,2262.8 522.2,2262.8 523.4,2262.8 524.6,2262.8 525.8,2262.8 527.0,2262.8 528.2,2262.8 529.4,2262.8 530.6,2262.8 531.8,2262.8 533.0,2262.8 534.2,2262.8 535.4,2262.8 536.6,2262.8 537.8,2262.8 539.0,2262.8 540.2,2262.8 541.4,2262.7 542.6,2262.3 543.8,2261.2 545.0,2258.4 546.2,2252.2 547.4,2241.2 548.6,2225.3 549.8,2207.4 551.0,2193.0 552.2,2187.9 553.4,2194.2 554.6,2209.3 555.8,2227.0 557.0,2241.7 558.2,2250.0 559.4,2250.8 560.6,2243.7 561.8,2229.2 563.0,2209.5 564.2,2190.1 565.4,2178.3 566.6,2179.1 567.8,2192.1 569.0,2211.9 570.2,2231.6 571.4,2246.5 572.6,2255.5 573.8,2260.0 575.0,2261.9 576.2,2262.6 577.4,2262.7 578.6,2262.8 579.8,2262.8 581.0,2262.8 582.2,2262.8 583.4,2262.8 584.6,2262.8 585.8,2262.8 587.0,2262.8 588.2,2262.8 589.4,2262.8 590.6,2262.8 591.8,2262.8 593.0,2262.8V2264H10.9Z" fill="rgba(230,50,60,0.13)"/>
<path d="M10.9,2262.8 12.1,2262.7 13.3,2262.6 14.5,2262.3 15.7,2261.7 16.9,2260.9 18.1,2260.1 19.3,2259.3 20.5,2258.6 21.7,2257.4 22.9,2254.3 24.1,2247.2 25.3,2234.6 26.5,2216.9 27.7,2198.2 28.9,2185.1 30.1,2182.9 31.3,2192.8 32.5,2210.6 33.7,2229.6 34.9,2244.8 36.1,2254.5 37.3,2259.5 38.5,2261.7 39.7,2262.5 40.9,2262.7 42.1,2262.8 43.3,2262.8 44.5,2262.8 45.7,2262.8 46.9,2262.8 48.1,2262.8 49.3,2262.8 50.5,2262.8 51.7,2262.8 52.9,2262.7 54.1,2262.4 55.3,2262.0 56.5,2261.4 57.7,2260.6 58.9,2259.8 60.1,2259.3 61.3,2259.4 62.5,2260.0 63.7,2260.8 64.9,2261.6 66.1,2262.2 67.3,2262.5 68.5,2262.7 69.7,2262.8 70.9,2262.8 72.1,2262.7 73.3,2262.5 74.5,2261.8 75.7,2259.8 76.9,2255.0 78.1,2245.9 79.3,2231.3 80.5,2213.1 81.7,2195.8 82.9,2185.8 84.1,2187.5 85.3,2200.0 86.5,2218.2 87.7,2235.8 88.9,2248.9 90.1,2256.7 91.3,2260.5 92.5,2262.0 93.7,2262.4 94.9,2262.2 96.1,2261.7 97.3,2261.0 98.5,2260.1 99.7,2259.4 100.9,2258.8 102.1,2257.9 103.3,2255.6 104.5,2250.3 105.7,2240.6 106.9,2226.7 108.1,2211.8 109.3,2201.1 110.5,2199.0 111.7,2206.6 112.9,2220.6 114.1,2235.8 115.3,2248.1 116.5,2256.0 117.7,2260.1 118.9,2261.9 120.1,2262.5 121.3,2262.7 122.5,2262.8 123.7,2262.8 124.9,2262.8 126.1,2262.8 127.3,2262.8 128.5,2262.8 129.7,2262.8 130.9,2262.8 132.1,2262.8 133.3,2262.7 134.5,2262.5 135.7,2262.1 136.9,2261.4 138.1,2260.6 139.3,2259.8 140.5,2259.3 141.7,2259.4 142.9,2260.0 144.1,2260.8 145.3,2261.6 146.5,2262.2 147.7,2262.5 148.9,2262.7 150.1,2262.8 151.3,2262.8 152.5,2262.8 153.7,2262.8 154.9,2262.8 156.1,2262.8 157.3,2262.8 158.5,2262.8 159.7,2262.8 160.9,2262.8 162.1,2262.8 163.3,2262.8 164.5,2262.8 165.7,2262.8 166.9,2262.8 168.1,2262.8 169.3,2262.8 170.5,2262.8 171.7,2262.8 172.9,2262.7 174.1,2262.6 175.3,2262.3 176.5,2261.8 177.7,2261.0 178.9,2260.2 180.1,2259.5 181.3,2259.3 182.5,2259.6 183.7,2260.3 184.9,2261.2 186.1,2261.9 187.3,2262.4 188.5,2262.6 189.7,2262.7 190.9,2262.8 192.1,2262.8 193.3,2262.8 194.5,2262.8 195.7,2262.8 196.9,2262.8 198.1,2262.8 199.3,2262.8 200.5,2262.8 201.7,2262.8 202.9,2262.8 204.1,2262.8 205.3,2262.8 206.5,2262.7 207.7,2262.3 208.9,2261.0 210.1,2257.8 211.3,2250.4 212.5,2237.0 213.7,2216.8 214.9,2193.0 216.1,2172.4 217.3,2162.8 218.5,2168.2 219.7,2186.0 220.9,2209.1 222.1,2230.3 223.3,2245.5 224.5,2254.7 225.7,2259.4 226.9,2261.5 228.1,2262.3 229.3,2262.7 230.5,2262.8 231.7,2262.8 232.9,2262.8 234.1,2262.8 235.3,2262.8 236.5,2262.8 237.7,2262.8 238.9,2262.8 240.1,2262.8 241.3,2262.8 242.5,2262.8 243.7,2262.8 244.9,2262.8 246.1,2262.8 247.3,2262.8 248.5,2262.8 249.7,2262.8 250.9,2262.8 252.1,2262.8 253.3,2262.7 254.5,2262.6 255.7,2262.3 256.9,2261.8 258.1,2261.1 259.3,2260.2 260.5,2259.5 261.7,2259.3 262.9,2259.6 264.1,2260.3 265.3,2261.1 266.5,2261.9 267.7,2262.3 268.9,2262.6 270.1,2262.7 271.3,2262.8 272.5,2262.8 273.7,2262.8 274.9,2262.8 276.1,2262.8 277.3,2262.8 278.5,2262.8 279.7,2262.8 280.9,2262.8 282.1,2262.8 283.3,2262.8 284.5,2262.8 285.7,2262.8 286.9,2262.8 288.1,2262.8 289.3,2262.8 290.5,2262.8 291.7,2262.8 292.9,2262.8 294.1,2262.8 295.3,2262.8 296.5,2262.8 297.7,2262.8 298.9,2262.8 300.1,2262.8 301.3,2262.8 302.6,2262.8 303.8,2262.8 305.0,2262.8 306.2,2262.8 307.4,2262.8 308.6,2262.8 309.8,2262.8 311.0,2262.8 312.2,2262.8 313.4,2262.8 314.6,2262.8 315.8,2262.8 317.0,2262.8 318.2,2262.8 319.4,2262.8 320.6,2262.8 321.8,2262.8 323.0,2262.8 324.2,2262.8 325.4,2262.8 326.6,2262.8 327.8,2262.8 329.0,2262.8 330.2,2262.8 331.4,2262.8 332.6,2262.8 333.8,2262.8 335.0,2262.8 336.2,2262.8 337.4,2262.8 338.6,2262.8 339.8,2262.8 341.0,2262.8 342.2,2262.8 343.4,2262.8 344.6,2262.8 345.8,2262.8 347.0,2262.8 348.2,2262.8 349.4,2262.8 350.6,2262.8 351.8,2262.7 353.0,2262.6 354.2,2261.9 355.4,2260.1 356.6,2255.7 357.8,2246.8 359.0,2232.0 360.2,2212.6 361.4,2192.9 362.6,2179.8 363.8,2179.0 365.0,2190.6 366.2,2209.8 367.4,2229.7 368.6,2245.1 369.8,2254.8 371.0,2259.7 372.2,2261.8 373.4,2262.5 374.6,2262.7 375.8,2262.8 377.0,2262.8 378.2,2262.8 379.4,2262.8 380.6,2262.8 381.8,2262.8 383.0,2262.8 384.2,2262.8 385.4,2262.8 386.6,2262.8 387.8,2262.8 389.0,2262.8 390.2,2262.8 391.4,2262.8 392.6,2262.8 393.8,2262.8 395.0,2262.8 396.2,2262.8 397.4,2262.8 398.6,2262.8 399.8,2262.8 401.0,2262.8 402.2,2262.8 403.4,2262.8 404.6,2262.7 405.8,2262.5 407.0,2261.7 408.2,2259.6 409.4,2254.4 410.6,2244.2 411.8,2227.9 413.0,2206.8 414.2,2186.3 415.4,2173.7 416.6,2174.4 417.8,2188.1 419.0,2209.0 420.2,2229.8 421.4,2245.5 422.6,2255.1 423.8,2259.9 425.0,2261.9 426.2,2262.5 427.4,2262.7 428.6,2262.8 429.8,2262.8 431.0,2262.8 432.2,2262.8 433.4,2262.6 434.6,2262.2 435.8,2260.9 437.0,2257.5 438.2,2250.5 439.4,2238.5 440.6,2222.0 441.8,2204.2 443.0,2191.2 444.2,2188.2 445.4,2196.6 446.6,2212.7 447.8,2230.5 449.0,2245.1 450.2,2254.5 451.4,2259.5 452.6,2261.7 453.8,2262.5 455.0,2262.7 456.2,2262.8 457.4,2262.8 458.6,2262.8 459.8,2262.8 461.0,2262.7 462.2,2262.5 463.4,2261.9 464.6,2260.0 465.8,2255.7 467.0,2247.4 468.2,2234.2 469.4,2217.6 470.6,2201.9 471.8,2192.9 473.0,2194.5 474.2,2205.9 475.4,2222.4 476.6,2238.3 477.8,2250.2 479.0,2257.3 480.2,2260.7 481.4,2262.1 482.6,2262.6 483.8,2262.8 485.0,2262.8 486.2,2262.8 487.4,2262.8 488.6,2262.8 489.8,2262.8 491.0,2262.8 492.2,2262.8 493.4,2262.8 494.6,2262.8 495.8,2262.8 497.0,2262.8 498.2,2262.8 499.4,2262.8 500.6,2262.8 501.8,2262.8 503.0,2262.8 504.2,2262.8 505.4,2262.8 506.6,2262.8 507.8,2262.8 509.0,2262.8 510.2,2262.8 511.4,2262.8 512.6,2262.8 513.8,2262.8 515.0,2262.8 516.2,2262.8 517.4,2262.8 518.6,2262.8 519.8,2262.8 521.0,2262.8 522.2,2262.8 523.4,2262.8 524.6,2262.8 525.8,2262.8 527.0,2262.8 528.2,2262.8 529.4,2262.8 530.6,2262.8 531.8,2262.8 533.0,2262.8 534.2,2262.8 535.4,2262.8 536.6,2262.8 537.8,2262.8 539.0,2262.8 540.2,2262.8 541.4,2262.7 542.6,2262.3 543.8,2261.2 545.0,2258.4 546.2,2252.2 547.4,2241.2 548.6,2225.3 549.8,2207.4 551.0,2193.0 552.2,2187.9 553.4,2194.2 554.6,2209.3 555.8,2227.0 557.0,2241.7 558.2,2250.0 559.4,2250.8 560.6,2243.7 561.8,2229.2 563.0,2209.5 564.2,2190.1 565.4,2178.3 566.6,2179.1 567.8,2192.1 569.0,2211.9 570.2,2231.6 571.4,2246.5 572.6,2255.5 573.8,2260.0 575.0,2261.9 576.2,2262.6 577.4,2262.7 578.6,2262.8 579.8,2262.8 581.0,2262.8 582.2,2262.8 583.4,2262.8 584.6,2262.8 585.8,2262.8 587.0,2262.8 588.2,2262.8 589.4,2262.8 590.6,2262.8 591.8,2262.8 593.0,2262.8" fill="none" stroke="#e03040" stroke-width="1.3" stroke-linejoin="round"/>
<polyline points="10.9,2261.9 13.9,2261.6 16.9,2261.5 19.9,2261.2 22.9,2261.6 25.9,2261.3 28.9,2263.0 31.9,2262.2 34.9,2261.2 37.9,2261.8 40.9,2261.3 43.9,2262.9 46.9,2262.2 49.9,2262.6 52.9,2262.0 55.9,2262.0 58.9,2263.1 61.9,2262.7 64.9,2262.5 67.9,2261.3 70.9,2261.6 73.9,2262.8 76.9,2261.5 79.9,2262.8 82.9,2261.9 85.9,2262.8 88.9,2263.1 91.9,2261.4 94.9,2262.7 97.9,2262.7 100.9,2261.1 103.9,2261.4 106.9,2262.5 109.9,2261.2 112.9,2262.0 115.9,2261.7 118.9,2262.7 121.9,2261.2 124.9,2261.7 127.9,2261.2 130.9,2261.3 133.9,2262.5 136.9,2262.4 139.9,2262.8 142.9,2262.8 145.9,2263.0 148.9,2262.5 151.9,2261.9 154.9,2263.1 157.9,2261.7 160.9,2262.4 163.9,2262.5 166.9,2261.5 169.9,2262.1 172.9,2262.5 175.9,2262.1 178.9,2261.7 181.9,2263.0 184.9,2261.1 187.9,2263.1 190.9,2261.6 193.9,2261.4 196.9,2263.1 199.9,2261.5 202.9,2262.4 205.9,2261.9 208.9,2263.1 211.9,2263.0 214.9,2262.7 217.9,2261.2 220.9,2262.7 223.9,2261.6 226.9,2261.2 229.9,2261.2 232.9,2262.4 235.9,2262.4 238.9,2262.1 241.9,2261.5 244.9,2262.9 247.9,2261.6 250.9,2261.5 253.9,2261.4 256.9,2263.0 259.9,2261.2 262.9,2262.9 265.9,2262.4 268.9,2261.9 271.9,2261.3 274.9,2262.4 277.9,2261.3 280.9,2262.0 283.9,2262.5 286.9,2262.5 289.9,2262.7 292.9,2262.9 295.9,2262.8 298.9,2261.7 301.9,2261.1 304.9,2262.8 307.9,2263.0 310.9,2261.1 313.9,2262.0 316.9,2262.3 319.9,2262.6 322.9,2261.9 325.9,2261.4 328.9,2262.2 331.9,2262.3 334.9,2263.0 337.9,2261.3 340.9,2263.0 343.9,2262.1 346.9,2261.4 349.9,2262.8 352.9,2261.6 355.9,2261.2 358.9,2261.8 361.9,2261.5 364.9,2262.9 367.9,2262.2 370.9,2262.8 373.9,2261.4 376.9,2262.5 379.9,2262.2 382.9,2261.1 385.9,2261.4 388.9,2261.1 391.9,2262.2 394.9,2262.1 397.9,2261.6 400.9,2262.1 403.9,2262.5 406.9,2262.3 409.9,2262.8 412.9,2262.3 415.9,2261.1 418.9,2261.2 421.9,2261.8 424.9,2262.1 427.9,2262.4 430.9,2262.9 433.9,2262.6 436.9,2261.5 439.9,2261.4 442.9,2262.4 445.9,2261.5 448.9,2261.6 451.9,2261.7 454.9,2261.8 457.9,2261.6 460.9,2262.4 463.9,2261.7 466.9,2262.5 469.9,2262.1 472.9,2261.6 475.9,2261.7 478.9,2262.5 481.9,2261.2 484.9,2261.8 487.9,2261.9 490.9,2263.1 493.9,2262.0 496.9,2262.6 499.9,2261.8 502.9,2262.2 505.9,2261.5 508.9,2261.8 511.9,2261.5 514.9,2262.4 517.9,2261.8 520.9,2261.6 523.9,2261.4 526.9,2262.4 529.9,2261.4 532.9,2261.4 535.9,2261.7 538.9,2261.1 541.9,2261.2 544.9,2262.1 547.9,2262.0 550.9,2262.8 553.9,2261.4 556.9,2261.2 559.9,2262.1 562.9,2261.7 565.9,2261.7 568.9,2261.6 571.9,2262.8 574.9,2261.5 577.9,2261.9 580.9,2261.8 583.9,2262.3 586.9,2261.9 589.9,2261.6 592.9,2261.8" fill="none" stroke="#111111" stroke-width="1"/>
<polyline points="10.9,2261.7 13.9,2263.0 16.9,2262.8 19.9,2262.2 22.9,2261.8 25.9,2262.7 28.9,2261.7 31.9,2261.8 34.9,2263.0 37.9,2262.2 40.9,2262.6 43.9,2263.0 46.9,2262.8 49.9,2262.5 52.9,2262.7 55.9,2262.7 58.9,2263.0 61.9,2262.2 64.9,2262.3 67.9,2261.9 70.9,2261.9 73.9,2262.6 76.9,2261.3 79.9,2263.1 82.9,2262.3 85.9,2262.5 88.9,2262.3 91.9,2262.9 94.9,2261.4 97.9,2262.4 100.9,2263.0 103.9,2261.9 106.9,2262.9 109.9,2262.0 112.9,2262.4 115.9,2261.9 118.9,2261.2 121.9,2261.5 124.9,2262.3 127.9,2261.5 130.9,2261.8 133.9,2262.4 136.9,2262.8 139.9,2261.9 142.9,2262.0 145.9,2261.2 148.9,2261.2 151.9,2261.9 154.9,2262.4 157.9,2261.3 160.9,2263.1 163.9,2262.9 166.9,2262.0 169.9,2261.9 172.9,2262.8 175.9,2261.8 178.9,2261.3 181.9,2262.3 184.9,2262.2 187.9,2262.6 190.9,2262.5 193.9,2261.2 196.9,2262.3 199.9,2261.2 202.9,2261.3 205.9,2261.9 208.9,2262.6 211.9,2261.1 214.9,2262.1 217.9,2262.3 220.9,2262.5 223.9,2261.1 226.9,2262.1 229.9,2262.5 232.9,2262.1 235.9,2262.9 238.9,2261.9 241.9,2262.2 244.9,2262.5 247.9,2261.5 250.9,2261.4 253.9,2263.1 256.9,2262.0 259.9,2262.6 262.9,2261.2 265.9,2261.5 268.9,2262.6 271.9,2262.6 274.9,2262.8 277.9,2261.1 280.9,2262.5 283.9,2261.9 286.9,2262.2 289.9,2261.8 292.9,2261.9 295.9,2261.6 298.9,2262.9 301.9,2261.6 304.9,2262.5 307.9,2262.0 310.9,2262.4 313.9,2262.5 316.9,2262.0 319.9,2262.2 322.9,2262.4 325.9,2261.6 328.9,2261.9 331.9,2263.0 334.9,2262.6 337.9,2262.2 340.9,2261.3 343.9,2261.3 346.9,2262.0 349.9,2263.1 352.9,2261.5 355.9,2262.2 358.9,2261.9 361.9,2261.7 364.9,2261.8 367.9,2262.1 370.9,2261.3 373.9,2262.3 376.9,2262.3 379.9,2261.4 382.9,2262.7 385.9,2262.5 388.9,2261.4 391.9,2263.0 394.9,2261.4 397.9,2261.7 400.9,2262.2 403.9,2262.5 406.9,2261.5 409.9,2261.3 412.9,2262.8 415.9,2262.1 418.9,2262.0 421.9,2262.1 424.9,2262.4 427.9,2262.8 430.9,2261.9 433.9,2261.5 436.9,2263.0 439.9,2262.6 442.9,2261.5 445.9,2261.5 448.9,2261.8 451.9,2263.0 454.9,2261.7 457.9,2261.1 460.9,2261.1 463.9,2261.7 466.9,2263.0 469.9,2261.4 472.9,2262.7 475.9,2261.8 478.9,2261.2 481.9,2261.7 484.9,2262.8 487.9,2262.5 490.9,2261.3 493.9,2262.8 496.9,2261.9 499.9,2262.3 502.9,2262.8 505.9,2261.9 508.9,2263.0 511.9,2262.9 514.9,2262.3 517.9,2263.0 520.9,2263.0 523.9,2261.9 526.9,2261.6 529.9,2261.3 532.9,2262.8 535.9,2262.2 538.9,2262.5 541.9,2261.9 544.9,2262.1 547.9,2261.2 550.9,2262.4 553.9,2263.0 556.9,2261.7 559.9,2262.8 562.9,2261.8 565.9,2262.1 568.9,2261.3 571.9,2262.0 574.9,2261.9 577.9,2262.6 580.9,2262.0 583.9,2262.6 586.9,2261.6 589.9,2262.1 592.9,2262.8" fill="none" stroke="#e03040" stroke-width="1"/>
<polyline points="10.9,2262.6 13.9,2262.4 16.9,2261.6 19.9,2262.7 22.9,2261.7 25.9,2261.8 28.9,2262.9 31.9,2261.8 34.9,2262.9 37.9,2262.9 40.9,2261.9 43.9,2262.6 46.9,2261.3 49.9,2262.1 52.9,2262.5 55.9,2261.5 58.9,2263.0 61.9,2261.6 64.9,2263.0 67.9,2262.8 70.9,2261.2 73.9,2261.7 76.9,2262.7 79.9,2262.9 82.9,2261.2 85.9,2261.8 88.9,2261.5 91.9,2262.8 94.9,2261.9 97.9,2262.4 100.9,2262.6 103.9,2262.4 106.9,2261.9 109.9,2262.4 112.9,2262.3 115.9,2262.8 118.9,2261.4 121.9,2261.8 124.9,2261.5 127.9,2262.2 130.9,2261.4 133.9,2262.1 136.9,2261.9 139.9,2262.0 142.9,2261.6 145.9,2262.3 148.9,2262.9 151.9,2263.0 154.9,2262.7 157.9,2263.0 160.9,2261.3 163.9,2262.1 166.9,2261.6 169.9,2263.1 172.9,2262.2 175.9,2261.3 178.9,2261.9 181.9,2262.2 184.9,2262.2 187.9,2262.9 190.9,2262.8 193.9,2262.8 196.9,2262.4 199.9,2262.3 202.9,2261.3 205.9,2262.8 208.9,2262.6 211.9,2262.5 214.9,2262.8 217.9,2262.5 220.9,2262.6 223.9,2262.1 226.9,2263.0 229.9,2261.3 232.9,2262.4 235.9,2261.2 238.9,2261.7 241.9,2261.8 244.9,2262.2 247.9,2261.2 250.9,2262.9 253.9,2261.8 256.9,2262.5 259.9,2261.8 262.9,2261.6 265.9,2262.8 268.9,2262.7 271.9,2263.1 274.9,2262.6 277.9,2262.9 280.9,2262.3 283.9,2261.2 286.9,2262.4 289.9,2262.5 292.9,2262.2 295.9,2262.5 298.9,2261.6 301.9,2261.7 304.9,2262.8 307.9,2262.6 310.9,2261.8 313.9,2261.2 316.9,2261.8 319.9,2262.2 322.9,2261.1 325.9,2263.1 328.9,2263.0 331.9,2261.5 334.9,2262.3 337.9,2263.0 340.9,2262.0 343.9,2261.1 346.9,2262.1 349.9,2262.4 352.9,2262.9 355.9,2263.0 358.9,2261.3 361.9,2262.1 364.9,2261.2 367.9,2263.0 370.9,2262.6 373.9,2263.0 376.9,2262.3 379.9,2263.0 382.9,2262.6 385.9,2262.3 388.9,2262.5 391.9,2263.0 394.9,2263.0 397.9,2261.2 400.9,2262.7 403.9,2262.1 406.9,2262.3 409.9,2262.0 412.9,2262.9 415.9,2262.5 418.9,2262.9 421.9,2262.0 424.9,2261.3 427.9,2261.9 430.9,2261.4 433.9,2262.7 436.9,2263.1 439.9,2262.0 442.9,2262.1 445.9,2262.0 448.9,2262.3 451.9,2261.8 454.9,2261.6 457.9,2261.3 460.9,2262.5 463.9,2262.2 466.9,2261.4 469.9,2262.7 472.9,2262.9 475.9,2262.5 478.9,2262.9 481.9,2261.6 484.9,2261.5 487.9,2262.5 490.9,2262.8 493.9,2262.9 496.9,2262.6 499.9,2262.9 502.9,2262.2 505.9,2261.9 508.9,2262.6 511.9,2263.0 514.9,2261.7 517.9,2263.0 520.9,2262.7 523.9,2262.5 526.9,2262.4 529.9,2262.9 532.9,2262.3 535.9,2262.5 538.9,2261.6 541.9,2262.0 544.9,2261.3 547.9,2261.8 550.9,2261.6 553.9,2262.0 556.9,2262.2 559.9,2261.5 562.9,2261.8 565.9,2261.2 568.9,2261.6 571.9,2261.7 574.9,2262.6 577.9,2261.5 580.9,2262.3 583.9,2262.8 586.9,2263.0 589.9,2262.8 592.9,2262.6" fill="none" stroke="#30b030" stroke-width="1"/>
<line x1="275.70" y1="2050.50" x2="275.70" y2="2264.00" stroke="#9aa" stroke-width="0.8" />
<path d="M34,2068V2262M200.7,2068V2262M333.5,2068V2262M469.3,2068V2262" stroke="#aaa" stroke-width="0.7" stroke-dasharray="3 3"/>
<rect x="623.60" y="2050.50" width="204.40" height="211.90" fill="#b3d0f6"/>
<line x1="623.60" y1="2050.50" x2="1186.60" y2="2050.50" stroke="#b8b8b8" stroke-width="1" />
<line x1="623.60" y1="2262.40" x2="1186.60" y2="2262.40" stroke="#999" stroke-width="0.8" />
<text x="625.4" y="2065.5" font-size="11.5" text-anchor="middle" fill="#3060d0" font-family="Liberation Sans">C</text><text x="641.8" y="2065.5" font-size="11.5" text-anchor="middle" fill="#111111" font-family="Liberation Sans">G</text><text x="656.3" y="2065.5" font-size="11.5" text-anchor="middle" fill="#30b030" font-family="Liberation Sans">A</text><text x="668.3" y="2065.5" font-size="11.5" text-anchor="middle" fill="#111111" font-family="Liberation Sans">G</text><text x="684.3" y="2065.5" font-size="11.5" text-anchor="middle" fill="#30b030" font-family="Liberation Sans">A</text><text x="695.2" y="2065.5" font-size="11.5" text-anchor="middle" fill="#111111" font-family="Liberation Sans">G</text><text x="710.8" y="2065.5" font-size="11.5" text-anchor="middle" fill="#3060d0" font-family="Liberation Sans">C</text><text x="724.2" y="2065.5" font-size="11.5" text-anchor="middle" fill="#e03040" font-family="Liberation Sans">T</text><text x="738.0" y="2065.5" font-size="11.5" text-anchor="middle" fill="#111111" font-family="Liberation Sans">G</text><text x="751.8" y="2065.5" font-size="11.5" text-anchor="middle" fill="#30b030" font-family="Liberation Sans">A</text><text x="763.5" y="2065.5" font-size="11.5" text-anchor="middle" fill="#30b030" font-family="Liberation Sans">A</text><text x="778.7" y="2065.5" font-size="11.5" text-anchor="middle" fill="#e03040" font-family="Liberation Sans">T</text><text x="793.6" y="2065.5" font-size="11.5" text-anchor="middle" fill="#111111" font-family="Liberation Sans">G</text><text x="807.0" y="2065.5" font-size="11.5" text-anchor="middle" fill="#30b030" font-family="Liberation Sans">A</text><text x="821.6" y="2065.5" font-size="11.5" text-anchor="middle" fill="#111111" font-family="Liberation Sans">G</text><text x="835.4" y="2065.5" font-size="11.5" text-anchor="middle" fill="#111111" font-family="Liberation Sans">G</text><text x="850.6" y="2065.5" font-size="11.5" text-anchor="middle" fill="#3060d0" font-family="Liberation Sans">C</text><text x="862.3" y="2065.5" font-size="11.5" text-anchor="middle" fill="#3060d0" font-family="Liberation Sans">C</text><text x="877.9" y="2065.5" font-size="11.5" text-anchor="middle" fill="#e03040" font-family="Liberation Sans">T</text><text x="890.6" y="2065.5" font-size="11.5" text-anchor="middle" fill="#e03040" font-family="Liberation Sans">T</text><text x="906.2" y="2065.5" font-size="11.5" text-anchor="middle" fill="#111111" font-family="Liberation Sans">G</text><text x="918.9" y="2065.5" font-size="11.5" text-anchor="middle" fill="#111111" font-family="Liberation Sans">G</text><text x="934.2" y="2065.5" font-size="11.5" text-anchor="middle" fill="#30b030" font-family="Liberation Sans">A</text><text x="948.0" y="2065.5" font-size="11.5" text-anchor="middle" fill="#30b030" font-family="Liberation Sans">A</text><text x="962.2" y="2065.5" font-size="11.5" text-anchor="middle" fill="#3060d0" font-family="Liberation Sans">C</text><text x="976.0" y="2065.5" font-size="11.5" text-anchor="middle" fill="#e03040" font-family="Liberation Sans">T</text><text x="989.8" y="2065.5" font-size="11.5" text-anchor="middle" fill="#3060d0" font-family="Liberation Sans">C</text><text x="1002.5" y="2065.5" font-size="11.5" text-anchor="middle" fill="#30b030" font-family="Liberation Sans">A</text><text x="1015.9" y="2065.5" font-size="11.5" text-anchor="middle" fill="#30b030" font-family="Liberation Sans">A</text><text x="1031.5" y="2065.5" font-size="11.5" text-anchor="middle" fill="#111111" font-family="Liberation Sans">G</text><text x="1045.0" y="2065.5" font-size="11.5" text-anchor="middle" fill="#111111" font-family="Liberation Sans">G</text><text x="1060.6" y="2065.5" font-size="11.5" text-anchor="middle" fill="#30b030" font-family="Liberation Sans">A</text><text x="1072.2" y="2065.5" font-size="11.5" text-anchor="middle" fill="#e03040" font-family="Liberation Sans">T</text><text x="1087.5" y="2065.5" font-size="11.5" text-anchor="middle" fill="#111111" font-family="Liberation Sans">G</text><text x="1100.5" y="2065.5" font-size="11.5" text-anchor="middle" fill="#3060d0" font-family="Liberation Sans">C</text><text x="1114.0" y="2065.5" font-size="11.5" text-anchor="middle" fill="#3060d0" font-family="Liberation Sans">C</text><text x="1128.5" y="2065.5" font-size="11.5" text-anchor="middle" fill="#3060d0" font-family="Liberation Sans">C</text><text x="1143.0" y="2065.5" font-size="11.5" text-anchor="middle" fill="#3060d0" font-family="Liberation Sans">C</text><text x="1157.6" y="2065.5" font-size="11.5" text-anchor="middle" fill="#111111" font-family="Liberation Sans">G</text><text x="1172.8" y="2065.5" font-size="11.5" text-anchor="middle" fill="#111111" font-family="Liberation Sans">G</text><text x="1185.5" y="2065.5" font-size="11.5" text-anchor="middle" fill="#3060d0" font-family="Liberation Sans">C</text>
<path d="M623.6,2260.9 624.8,2260.9 626.0,2260.9 627.2,2260.9 628.4,2260.9 629.6,2260.9 630.8,2260.9 632.0,2260.9 633.2,2260.9 634.4,2260.9 635.6,2260.9 636.8,2260.9 638.0,2260.9 639.2,2260.8 640.4,2260.6 641.6,2260.2 642.8,2259.4 644.0,2257.8 645.2,2254.9 646.4,2250.0 647.6,2242.5 648.8,2231.8 650.0,2217.9 651.2,2201.5 652.4,2184.2 653.6,2168.5 654.8,2156.8 656.0,2151.4 657.2,2153.3 658.4,2162.2 659.6,2176.2 660.8,2193.1 662.0,2210.1 663.2,2225.4 664.4,2237.7 665.6,2246.8 666.8,2252.8 668.0,2256.5 669.2,2258.6 670.4,2259.5 671.6,2259.6 672.8,2258.8 674.0,2257.1 675.2,2254.0 676.4,2249.1 677.6,2242.0 678.8,2232.6 680.0,2221.3 681.2,2209.1 682.4,2197.5 683.6,2188.5 684.8,2183.7 686.0,2184.0 687.2,2189.3 688.4,2198.6 689.6,2210.3 690.8,2222.5 692.0,2233.7 693.2,2242.9 694.4,2249.7 695.6,2254.5 696.8,2257.4 698.0,2259.1 699.2,2260.1 700.4,2260.5 701.6,2260.8 702.8,2260.8 704.0,2260.9 705.2,2260.9 706.4,2260.9 707.6,2260.9 708.8,2260.9 710.0,2260.9 711.2,2260.9 712.4,2260.9 713.6,2260.9 714.8,2260.9 716.0,2260.9 717.2,2260.9 718.4,2260.9 719.6,2260.9 720.8,2260.9 722.0,2260.9 723.2,2260.9 724.4,2260.9 725.6,2260.9 726.8,2260.9 728.0,2260.9 729.2,2260.9 730.4,2260.9 731.6,2260.9 732.8,2260.9 734.0,2260.9 735.2,2260.8 736.4,2260.7 737.6,2260.4 738.8,2259.8 740.0,2258.6 741.2,2256.4 742.4,2252.6 743.6,2246.6 744.8,2238.0 746.0,2226.7 747.2,2212.9 748.4,2198.1 749.6,2184.0 750.8,2172.6 752.0,2165.7 753.2,2163.9 754.4,2166.7 755.6,2172.3 756.8,2178.3 758.0,2182.7 759.2,2184.1 760.4,2182.8 761.6,2179.9 762.8,2177.7 764.0,2178.0 765.3,2182.1 766.5,2190.1 767.7,2201.1 768.9,2213.6 770.1,2225.9 771.3,2236.7 772.5,2245.2 773.7,2251.4 774.9,2255.5 776.1,2258.1 777.3,2259.5 778.5,2260.3 779.7,2260.6 780.9,2260.8 782.1,2260.9 783.3,2260.9 784.5,2260.9 785.7,2260.9 786.9,2260.9 788.1,2260.9 789.3,2260.9 790.5,2260.9 791.7,2260.8 792.9,2260.7 794.1,2260.4 795.3,2259.7 796.5,2258.4 797.7,2256.0 798.9,2251.9 800.1,2245.5 801.3,2236.4 802.5,2224.5 803.7,2210.3 804.9,2195.2 806.1,2181.2 807.3,2170.6 808.5,2165.4 809.7,2166.5 810.9,2173.7 812.1,2185.7 813.3,2200.3 814.5,2215.3 815.7,2228.8 816.9,2239.8 818.1,2248.0 819.3,2253.5 820.5,2256.9 821.7,2258.9 822.9,2260.0 824.1,2260.5 825.3,2260.7 826.5,2260.8 827.7,2260.9 828.9,2260.9 830.1,2260.9 831.3,2260.9 832.5,2260.9 833.7,2260.9 834.9,2260.9 836.1,2260.9 837.3,2260.9 838.5,2260.9 839.7,2260.9 840.9,2260.9 842.1,2260.9 843.3,2260.9 844.5,2260.9 845.7,2260.9 846.9,2260.9 848.1,2260.9 849.3,2260.9 850.5,2260.9 851.7,2260.9 852.9,2260.9 854.1,2260.9 855.3,2260.9 856.5,2260.9 857.7,2260.9 858.9,2260.9 860.1,2260.9 861.3,2260.9 862.5,2260.9 863.7,2260.9 864.9,2260.9 866.1,2260.9 867.3,2260.9 868.5,2260.9 869.7,2260.9 870.9,2260.9 872.1,2260.9 873.3,2260.9 874.5,2260.9 875.7,2260.9 876.9,2260.9 878.1,2260.9 879.3,2260.9 880.5,2260.9 881.7,2260.9 882.9,2260.9 884.1,2260.9 885.3,2260.9 886.5,2260.9 887.7,2260.9 888.9,2260.9 890.1,2260.9 891.3,2260.9 892.5,2260.9 893.7,2260.9 894.9,2260.9 896.1,2260.9 897.3,2260.9 898.5,2260.9 899.7,2260.9 900.9,2260.9 902.1,2260.9 903.3,2260.9 904.5,2260.9 905.7,2260.9 906.9,2260.9 908.1,2260.9 909.3,2260.9 910.5,2260.9 911.7,2260.9 912.9,2260.9 914.1,2260.9 915.3,2260.9 916.5,2260.9 917.7,2260.9 918.9,2260.9 920.1,2260.8 921.3,2260.6 922.5,2260.3 923.7,2259.5 924.9,2258.0 926.1,2255.4 927.3,2251.0 928.5,2244.2 929.7,2234.6 930.9,2222.2 932.1,2207.8 933.3,2192.8 934.5,2179.1 935.7,2168.8 936.9,2163.5 938.1,2163.6 939.3,2168.0 940.5,2174.6 941.7,2180.7 942.9,2184.1 944.1,2183.5 945.3,2179.2 946.5,2173.0 947.7,2167.3 948.9,2164.7 950.1,2166.8 951.3,2174.2 952.5,2185.9 953.7,2200.2 954.9,2214.9 956.1,2228.4 957.3,2239.4 958.5,2247.6 959.7,2253.2 960.9,2256.8 962.1,2258.8 963.3,2259.9 964.5,2260.5 965.7,2260.7 966.9,2260.8 968.1,2260.9 969.3,2260.9 970.5,2260.9 971.7,2260.9 972.9,2260.9 974.1,2260.9 975.3,2260.9 976.5,2260.9 977.7,2260.9 978.9,2260.9 980.1,2260.9 981.3,2260.9 982.5,2260.9 983.7,2260.9 984.9,2260.9 986.1,2260.9 987.3,2260.8 988.5,2260.7 989.7,2260.5 990.9,2260.0 992.1,2259.0 993.3,2257.2 994.5,2254.3 995.7,2249.8 996.9,2243.4 998.1,2235.2 999.3,2225.6 1000.5,2215.4 1001.7,2205.9 1002.9,2198.3 1004.1,2193.5 1005.3,2191.6 1006.5,2192.1 1007.7,2193.9 1008.9,2195.9 1010.1,2197.4 1011.3,2198.5 1012.5,2199.7 1013.7,2201.9 1014.9,2205.9 1016.1,2211.9 1017.3,2219.6 1018.5,2228.1 1019.7,2236.4 1020.9,2243.8 1022.1,2249.7 1023.3,2254.1 1024.5,2257.0 1025.7,2258.8 1026.9,2259.9 1028.1,2260.4 1029.3,2260.7 1030.5,2260.8 1031.7,2260.9 1032.9,2260.9 1034.1,2260.9 1035.3,2260.9 1036.5,2260.9 1037.7,2260.9 1038.9,2260.9 1040.1,2260.9 1041.3,2260.9 1042.5,2260.9 1043.7,2260.9 1044.9,2260.8 1046.2,2260.7 1047.4,2260.5 1048.6,2259.9 1049.8,2258.9 1051.0,2256.9 1052.2,2253.4 1053.4,2248.0 1054.6,2240.0 1055.8,2229.4 1057.0,2216.4 1058.2,2202.4 1059.4,2188.9 1060.6,2178.1 1061.8,2172.1 1063.0,2171.8 1064.2,2177.5 1065.4,2187.9 1066.6,2201.2 1067.8,2215.3 1069.0,2228.4 1070.2,2239.2 1071.4,2247.4 1072.6,2253.1 1073.8,2256.6 1075.0,2258.7 1076.2,2259.9 1077.4,2260.4 1078.6,2260.7 1079.8,2260.8 1081.0,2260.9 1082.2,2260.9 1083.4,2260.9 1084.6,2260.9 1085.8,2260.9 1087.0,2260.9 1088.2,2260.9 1089.4,2260.9 1090.6,2260.9 1091.8,2260.9 1093.0,2260.9 1094.2,2260.9 1095.4,2260.9 1096.6,2260.9 1097.8,2260.9 1099.0,2260.9 1100.2,2260.9 1101.4,2260.9 1102.6,2260.9 1103.8,2260.9 1105.0,2260.9 1106.2,2260.9 1107.4,2260.9 1108.6,2260.9 1109.8,2260.9 1111.0,2260.9 1112.2,2260.9 1113.4,2260.9 1114.6,2260.9 1115.8,2260.9 1117.0,2260.9 1118.2,2260.9 1119.4,2260.9 1120.6,2260.9 1121.8,2260.9 1123.0,2260.9 1124.2,2260.9 1125.4,2260.9 1126.6,2260.9 1127.8,2260.9 1129.0,2260.9 1130.2,2260.9 1131.4,2260.9 1132.6,2260.9 1133.8,2260.9 1135.0,2260.9 1136.2,2260.9 1137.4,2260.9 1138.6,2260.9 1139.8,2260.9 1141.0,2260.9 1142.2,2260.9 1143.4,2260.9 1144.6,2260.9 1145.8,2260.9 1147.0,2260.9 1148.2,2260.9 1149.4,2260.9 1150.6,2260.9 1151.8,2260.9 1153.0,2260.9 1154.2,2260.9 1155.4,2260.9 1156.6,2260.9 1157.8,2260.9 1159.0,2260.9 1160.2,2260.9 1161.4,2260.9 1162.6,2260.9 1163.8,2260.9 1165.0,2260.9 1166.2,2260.9 1167.4,2260.9 1168.6,2260.9 1169.8,2260.9 1171.0,2260.9 1172.2,2260.9 1173.4,2260.9 1174.6,2260.9 1175.8,2260.9 1177.0,2260.9 1178.2,2260.9 1179.4,2260.9 1180.6,2260.9 1181.8,2260.9 1183.0,2260.9 1184.2,2260.9 1185.4,2260.9 1186.6,2260.9V2262H623.6Z" fill="rgba(60,200,60,0.13)"/>
<path d="M623.6,2260.9 624.8,2260.9 626.0,2260.9 627.2,2260.9 628.4,2260.9 629.6,2260.9 630.8,2260.9 632.0,2260.9 633.2,2260.9 634.4,2260.9 635.6,2260.9 636.8,2260.9 638.0,2260.9 639.2,2260.8 640.4,2260.6 641.6,2260.2 642.8,2259.4 644.0,2257.8 645.2,2254.9 646.4,2250.0 647.6,2242.5 648.8,2231.8 650.0,2217.9 651.2,2201.5 652.4,2184.2 653.6,2168.5 654.8,2156.8 656.0,2151.4 657.2,2153.3 658.4,2162.2 659.6,2176.2 660.8,2193.1 662.0,2210.1 663.2,2225.4 664.4,2237.7 665.6,2246.8 666.8,2252.8 668.0,2256.5 669.2,2258.6 670.4,2259.5 671.6,2259.6 672.8,2258.8 674.0,2257.1 675.2,2254.0 676.4,2249.1 677.6,2242.0 678.8,2232.6 680.0,2221.3 681.2,2209.1 682.4,2197.5 683.6,2188.5 684.8,2183.7 686.0,2184.0 687.2,2189.3 688.4,2198.6 689.6,2210.3 690.8,2222.5 692.0,2233.7 693.2,2242.9 694.4,2249.7 695.6,2254.5 696.8,2257.4 698.0,2259.1 699.2,2260.1 700.4,2260.5 701.6,2260.8 702.8,2260.8 704.0,2260.9 705.2,2260.9 706.4,2260.9 707.6,2260.9 708.8,2260.9 710.0,2260.9 711.2,2260.9 712.4,2260.9 713.6,2260.9 714.8,2260.9 716.0,2260.9 717.2,2260.9 718.4,2260.9 719.6,2260.9 720.8,2260.9 722.0,2260.9 723.2,2260.9 724.4,2260.9 725.6,2260.9 726.8,2260.9 728.0,2260.9 729.2,2260.9 730.4,2260.9 731.6,2260.9 732.8,2260.9 734.0,2260.9 735.2,2260.8 736.4,2260.7 737.6,2260.4 738.8,2259.8 740.0,2258.6 741.2,2256.4 742.4,2252.6 743.6,2246.6 744.8,2238.0 746.0,2226.7 747.2,2212.9 748.4,2198.1 749.6,2184.0 750.8,2172.6 752.0,2165.7 753.2,2163.9 754.4,2166.7 755.6,2172.3 756.8,2178.3 758.0,2182.7 759.2,2184.1 760.4,2182.8 761.6,2179.9 762.8,2177.7 764.0,2178.0 765.3,2182.1 766.5,2190.1 767.7,2201.1 768.9,2213.6 770.1,2225.9 771.3,2236.7 772.5,2245.2 773.7,2251.4 774.9,2255.5 776.1,2258.1 777.3,2259.5 778.5,2260.3 779.7,2260.6 780.9,2260.8 782.1,2260.9 783.3,2260.9 784.5,2260.9 785.7,2260.9 786.9,2260.9 788.1,2260.9 789.3,2260.9 790.5,2260.9 791.7,2260.8 792.9,2260.7 794.1,2260.4 795.3,2259.7 796.5,2258.4 797.7,2256.0 798.9,2251.9 800.1,2245.5 801.3,2236.4 802.5,2224.5 803.7,2210.3 804.9,2195.2 806.1,2181.2 807.3,2170.6 808.5,2165.4 809.7,2166.5 810.9,2173.7 812.1,2185.7 813.3,2200.3 814.5,2215.3 815.7,2228.8 816.9,2239.8 818.1,2248.0 819.3,2253.5 820.5,2256.9 821.7,2258.9 822.9,2260.0 824.1,2260.5 825.3,2260.7 826.5,2260.8 827.7,2260.9 828.9,2260.9 830.1,2260.9 831.3,2260.9 832.5,2260.9 833.7,2260.9 834.9,2260.9 836.1,2260.9 837.3,2260.9 838.5,2260.9 839.7,2260.9 840.9,2260.9 842.1,2260.9 843.3,2260.9 844.5,2260.9 845.7,2260.9 846.9,2260.9 848.1,2260.9 849.3,2260.9 850.5,2260.9 851.7,2260.9 852.9,2260.9 854.1,2260.9 855.3,2260.9 856.5,2260.9 857.7,2260.9 858.9,2260.9 860.1,2260.9 861.3,2260.9 862.5,2260.9 863.7,2260.9 864.9,2260.9 866.1,2260.9 867.3,2260.9 868.5,2260.9 869.7,2260.9 870.9,2260.9 872.1,2260.9 873.3,2260.9 874.5,2260.9 875.7,2260.9 876.9,2260.9 878.1,2260.9 879.3,2260.9 880.5,2260.9 881.7,2260.9 882.9,2260.9 884.1,2260.9 885.3,2260.9 886.5,2260.9 887.7,2260.9 888.9,2260.9 890.1,2260.9 891.3,2260.9 892.5,2260.9 893.7,2260.9 894.9,2260.9 896.1,2260.9 897.3,2260.9 898.5,2260.9 899.7,2260.9 900.9,2260.9 902.1,2260.9 903.3,2260.9 904.5,2260.9 905.7,2260.9 906.9,2260.9 908.1,2260.9 909.3,2260.9 910.5,2260.9 911.7,2260.9 912.9,2260.9 914.1,2260.9 915.3,2260.9 916.5,2260.9 917.7,2260.9 918.9,2260.9 920.1,2260.8 921.3,2260.6 922.5,2260.3 923.7,2259.5 924.9,2258.0 926.1,2255.4 927.3,2251.0 928.5,2244.2 929.7,2234.6 930.9,2222.2 932.1,2207.8 933.3,2192.8 934.5,2179.1 935.7,2168.8 936.9,2163.5 938.1,2163.6 939.3,2168.0 940.5,2174.6 941.7,2180.7 942.9,2184.1 944.1,2183.5 945.3,2179.2 946.5,2173.0 947.7,2167.3 948.9,2164.7 950.1,2166.8 951.3,2174.2 952.5,2185.9 953.7,2200.2 954.9,2214.9 956.1,2228.4 957.3,2239.4 958.5,2247.6 959.7,2253.2 960.9,2256.8 962.1,2258.8 963.3,2259.9 964.5,2260.5 965.7,2260.7 966.9,2260.8 968.1,2260.9 969.3,2260.9 970.5,2260.9 971.7,2260.9 972.9,2260.9 974.1,2260.9 975.3,2260.9 976.5,2260.9 977.7,2260.9 978.9,2260.9 980.1,2260.9 981.3,2260.9 982.5,2260.9 983.7,2260.9 984.9,2260.9 986.1,2260.9 987.3,2260.8 988.5,2260.7 989.7,2260.5 990.9,2260.0 992.1,2259.0 993.3,2257.2 994.5,2254.3 995.7,2249.8 996.9,2243.4 998.1,2235.2 999.3,2225.6 1000.5,2215.4 1001.7,2205.9 1002.9,2198.3 1004.1,2193.5 1005.3,2191.6 1006.5,2192.1 1007.7,2193.9 1008.9,2195.9 1010.1,2197.4 1011.3,2198.5 1012.5,2199.7 1013.7,2201.9 1014.9,2205.9 1016.1,2211.9 1017.3,2219.6 1018.5,2228.1 1019.7,2236.4 1020.9,2243.8 1022.1,2249.7 1023.3,2254.1 1024.5,2257.0 1025.7,2258.8 1026.9,2259.9 1028.1,2260.4 1029.3,2260.7 1030.5,2260.8 1031.7,2260.9 1032.9,2260.9 1034.1,2260.9 1035.3,2260.9 1036.5,2260.9 1037.7,2260.9 1038.9,2260.9 1040.1,2260.9 1041.3,2260.9 1042.5,2260.9 1043.7,2260.9 1044.9,2260.8 1046.2,2260.7 1047.4,2260.5 1048.6,2259.9 1049.8,2258.9 1051.0,2256.9 1052.2,2253.4 1053.4,2248.0 1054.6,2240.0 1055.8,2229.4 1057.0,2216.4 1058.2,2202.4 1059.4,2188.9 1060.6,2178.1 1061.8,2172.1 1063.0,2171.8 1064.2,2177.5 1065.4,2187.9 1066.6,2201.2 1067.8,2215.3 1069.0,2228.4 1070.2,2239.2 1071.4,2247.4 1072.6,2253.1 1073.8,2256.6 1075.0,2258.7 1076.2,2259.9 1077.4,2260.4 1078.6,2260.7 1079.8,2260.8 1081.0,2260.9 1082.2,2260.9 1083.4,2260.9 1084.6,2260.9 1085.8,2260.9 1087.0,2260.9 1088.2,2260.9 1089.4,2260.9 1090.6,2260.9 1091.8,2260.9 1093.0,2260.9 1094.2,2260.9 1095.4,2260.9 1096.6,2260.9 1097.8,2260.9 1099.0,2260.9 1100.2,2260.9 1101.4,2260.9 1102.6,2260.9 1103.8,2260.9 1105.0,2260.9 1106.2,2260.9 1107.4,2260.9 1108.6,2260.9 1109.8,2260.9 1111.0,2260.9 1112.2,2260.9 1113.4,2260.9 1114.6,2260.9 1115.8,2260.9 1117.0,2260.9 1118.2,2260.9 1119.4,2260.9 1120.6,2260.9 1121.8,2260.9 1123.0,2260.9 1124.2,2260.9 1125.4,2260.9 1126.6,2260.9 1127.8,2260.9 1129.0,2260.9 1130.2,2260.9 1131.4,2260.9 1132.6,2260.9 1133.8,2260.9 1135.0,2260.9 1136.2,2260.9 1137.4,2260.9 1138.6,2260.9 1139.8,2260.9 1141.0,2260.9 1142.2,2260.9 1143.4,2260.9 1144.6,2260.9 1145.8,2260.9 1147.0,2260.9 1148.2,2260.9 1149.4,2260.9 1150.6,2260.9 1151.8,2260.9 1153.0,2260.9 1154.2,2260.9 1155.4,2260.9 1156.6,2260.9 1157.8,2260.9 1159.0,2260.9 1160.2,2260.9 1161.4,2260.9 1162.6,2260.9 1163.8,2260.9 1165.0,2260.9 1166.2,2260.9 1167.4,2260.9 1168.6,2260.9 1169.8,2260.9 1171.0,2260.9 1172.2,2260.9 1173.4,2260.9 1174.6,2260.9 1175.8,2260.9 1177.0,2260.9 1178.2,2260.9 1179.4,2260.9 1180.6,2260.9 1181.8,2260.9 1183.0,2260.9 1184.2,2260.9 1185.4,2260.9 1186.6,2260.9" fill="none" stroke="#30b030" stroke-width="1.3" stroke-linejoin="round"/>
<path d="M623.6,2191.4 624.8,2186.4 626.0,2186.3 627.2,2191.1 628.4,2199.9 629.6,2211.1 630.8,2222.9 632.0,2233.8 633.2,2242.9 634.4,2249.7 635.6,2254.4 636.8,2257.4 638.0,2259.1 639.2,2260.1 640.4,2260.5 641.6,2260.7 642.8,2260.8 644.0,2260.9 645.2,2260.9 646.4,2260.9 647.6,2260.9 648.8,2260.9 650.0,2260.9 651.2,2260.9 652.4,2260.9 653.6,2260.9 654.8,2260.9 656.0,2260.9 657.2,2260.9 658.4,2260.9 659.6,2260.9 660.8,2260.9 662.0,2260.9 663.2,2260.9 664.4,2260.9 665.6,2260.9 666.8,2260.9 668.0,2260.9 669.2,2260.9 670.4,2260.9 671.6,2260.9 672.8,2260.9 674.0,2260.9 675.2,2260.9 676.4,2260.9 677.6,2260.9 678.8,2260.9 680.0,2260.9 681.2,2260.9 682.4,2260.9 683.6,2260.9 684.8,2260.9 686.0,2260.9 687.2,2260.9 688.4,2260.9 689.6,2260.9 690.8,2260.9 692.0,2260.9 693.2,2260.9 694.4,2260.8 695.6,2260.6 696.8,2260.3 698.0,2259.6 699.2,2258.3 700.4,2256.0 701.6,2252.4 702.8,2247.2 704.0,2240.0 705.2,2231.3 706.4,2221.7 707.6,2212.4 708.8,2204.8 710.0,2200.3 711.2,2199.8 712.4,2203.3 713.6,2210.2 714.8,2219.2 716.0,2228.9 717.2,2237.9 718.4,2245.5 719.6,2251.2 720.8,2255.2 722.0,2257.8 723.2,2259.3 724.4,2260.1 725.6,2260.6 726.8,2260.8 728.0,2260.8 729.2,2260.9 730.4,2260.9 731.6,2260.9 732.8,2260.9 734.0,2260.9 735.2,2260.9 736.4,2260.9 737.6,2260.9 738.8,2260.9 740.0,2260.9 741.2,2260.9 742.4,2260.9 743.6,2260.9 744.8,2260.9 746.0,2260.9 747.2,2260.9 748.4,2260.9 749.6,2260.9 750.8,2260.9 752.0,2260.9 753.2,2260.9 754.4,2260.9 755.6,2260.9 756.8,2260.9 758.0,2260.9 759.2,2260.9 760.4,2260.9 761.6,2260.9 762.8,2260.9 764.0,2260.9 765.3,2260.9 766.5,2260.9 767.7,2260.9 768.9,2260.9 770.1,2260.9 771.3,2260.9 772.5,2260.9 773.7,2260.9 774.9,2260.9 776.1,2260.9 777.3,2260.9 778.5,2260.9 779.7,2260.9 780.9,2260.9 782.1,2260.9 783.3,2260.9 784.5,2260.9 785.7,2260.9 786.9,2260.9 788.1,2260.9 789.3,2260.9 790.5,2260.9 791.7,2260.9 792.9,2260.9 794.1,2260.9 795.3,2260.9 796.5,2260.9 797.7,2260.9 798.9,2260.9 800.1,2260.9 801.3,2260.9 802.5,2260.9 803.7,2260.9 804.9,2260.9 806.1,2260.9 807.3,2260.9 808.5,2260.9 809.7,2260.9 810.9,2260.9 812.1,2260.9 813.3,2260.9 814.5,2260.9 815.7,2260.9 816.9,2260.8 818.1,2260.8 819.3,2260.6 820.5,2260.3 821.7,2259.7 822.9,2258.8 824.1,2257.3 825.3,2255.4 826.5,2252.8 827.7,2249.9 828.9,2247.0 830.1,2244.4 831.3,2242.6 832.5,2242.0 833.7,2242.5 834.9,2244.2 836.1,2246.4 837.3,2248.8 838.5,2250.5 839.7,2251.0 840.9,2249.8 842.1,2246.7 843.3,2241.5 844.5,2234.6 845.7,2226.8 846.9,2219.2 848.1,2213.0 849.3,2209.4 850.5,2208.9 851.7,2211.3 852.9,2215.6 854.1,2220.3 855.3,2223.7 856.5,2224.2 857.7,2221.1 858.9,2214.3 860.1,2204.9 861.3,2194.6 862.5,2185.7 863.7,2180.2 864.9,2179.4 866.1,2183.4 867.3,2191.2 868.5,2201.3 869.7,2211.6 870.9,2220.7 872.1,2227.7 873.3,2232.5 874.5,2235.7 875.7,2238.0 876.9,2240.2 878.1,2242.8 879.3,2245.7 880.5,2248.8 881.7,2251.9 882.9,2254.6 884.1,2256.8 885.3,2258.4 886.5,2259.5 887.7,2260.1 888.9,2260.5 890.1,2260.7 891.3,2260.8 892.5,2260.9 893.7,2260.9 894.9,2260.9 896.1,2260.9 897.3,2260.9 898.5,2260.9 899.7,2260.9 900.9,2260.9 902.1,2260.9 903.3,2260.9 904.5,2260.9 905.7,2260.9 906.9,2260.9 908.1,2260.9 909.3,2260.9 910.5,2260.9 911.7,2260.9 912.9,2260.9 914.1,2260.9 915.3,2260.9 916.5,2260.9 917.7,2260.9 918.9,2260.9 920.1,2260.9 921.3,2260.9 922.5,2260.9 923.7,2260.9 924.9,2260.9 926.1,2260.9 927.3,2260.9 928.5,2260.9 929.7,2260.9 930.9,2260.9 932.1,2260.9 933.3,2260.9 934.5,2260.9 935.7,2260.9 936.9,2260.9 938.1,2260.9 939.3,2260.9 940.5,2260.9 941.7,2260.9 942.9,2260.9 944.1,2260.9 945.3,2260.9 946.5,2260.8 947.7,2260.7 948.9,2260.3 950.1,2259.7 951.3,2258.4 952.5,2256.2 953.7,2252.5 954.9,2247.0 956.1,2239.3 957.3,2229.7 958.5,2218.6 959.7,2207.5 960.9,2197.9 962.1,2191.4 963.3,2189.4 964.5,2192.1 965.7,2199.0 966.9,2209.0 968.1,2220.2 969.3,2231.0 970.5,2240.5 971.7,2247.8 972.9,2253.1 974.1,2256.5 975.3,2258.6 976.5,2259.6 977.7,2260.0 978.9,2259.8 980.1,2258.9 981.3,2257.2 982.5,2254.2 983.7,2249.7 984.9,2243.3 986.1,2235.0 987.3,2225.4 988.5,2215.5 989.7,2206.5 990.9,2200.1 992.1,2197.4 993.3,2198.9 994.5,2204.4 995.7,2212.8 996.9,2222.6 998.1,2232.5 999.3,2241.2 1000.5,2248.1 1001.7,2253.1 1002.9,2256.5 1004.1,2258.6 1005.3,2259.8 1006.5,2260.4 1007.7,2260.7 1008.9,2260.8 1010.1,2260.9 1011.3,2260.9 1012.5,2260.9 1013.7,2260.9 1014.9,2260.9 1016.1,2260.9 1017.3,2260.9 1018.5,2260.9 1019.7,2260.9 1020.9,2260.9 1022.1,2260.9 1023.3,2260.9 1024.5,2260.9 1025.7,2260.9 1026.9,2260.9 1028.1,2260.9 1029.3,2260.9 1030.5,2260.9 1031.7,2260.9 1032.9,2260.9 1034.1,2260.9 1035.3,2260.9 1036.5,2260.9 1037.7,2260.9 1038.9,2260.9 1040.1,2260.9 1041.3,2260.9 1042.5,2260.9 1043.7,2260.9 1044.9,2260.9 1046.2,2260.9 1047.4,2260.9 1048.6,2260.9 1049.8,2260.9 1051.0,2260.9 1052.2,2260.9 1053.4,2260.9 1054.6,2260.9 1055.8,2260.9 1057.0,2260.9 1058.2,2260.9 1059.4,2260.9 1060.6,2260.9 1061.8,2260.9 1063.0,2260.9 1064.2,2260.9 1065.4,2260.9 1066.6,2260.9 1067.8,2260.9 1069.0,2260.9 1070.2,2260.9 1071.4,2260.9 1072.6,2260.9 1073.8,2260.9 1075.0,2260.9 1076.2,2260.9 1077.4,2260.9 1078.6,2260.9 1079.8,2260.9 1081.0,2260.9 1082.2,2260.9 1083.4,2260.9 1084.6,2260.9 1085.8,2260.8 1087.0,2260.7 1088.2,2260.5 1089.4,2260.0 1090.6,2259.1 1091.8,2257.3 1093.0,2254.2 1094.2,2249.4 1095.4,2242.5 1096.6,2233.4 1097.8,2222.4 1099.0,2210.5 1100.2,2199.4 1101.4,2190.6 1102.6,2185.8 1103.8,2185.7 1105.0,2190.1 1106.2,2197.5 1107.4,2206.0 1108.6,2213.3 1109.8,2217.6 1111.0,2217.7 1112.2,2213.8 1113.4,2206.8 1114.6,2198.6 1115.8,2191.4 1117.0,2187.1 1118.2,2187.0 1119.4,2191.0 1120.6,2198.0 1121.8,2206.2 1123.0,2213.4 1124.2,2217.6 1125.4,2217.7 1126.6,2213.7 1127.8,2206.5 1129.0,2197.9 1130.2,2190.0 1131.4,2184.9 1132.6,2183.5 1133.8,2185.9 1135.0,2191.0 1136.2,2196.7 1137.4,2201.0 1138.6,2202.3 1139.8,2200.1 1141.0,2195.0 1142.2,2188.9 1143.4,2183.9 1144.6,2182.0 1145.8,2184.3 1147.0,2190.8 1148.2,2200.3 1149.4,2211.1 1150.6,2221.2 1151.8,2228.7 1153.0,2232.4 1154.2,2232.1 1155.4,2228.0 1156.6,2221.3 1157.8,2213.4 1159.0,2206.2 1160.2,2201.4 1161.4,2200.2 1162.6,2202.9 1163.8,2209.1 1165.0,2217.7 1166.2,2227.2 1167.4,2236.3 1168.6,2244.1 1169.8,2250.2 1171.0,2254.3 1172.2,2256.7 1173.4,2257.7 1174.6,2257.3 1175.8,2255.6 1177.0,2252.5 1178.2,2247.9 1179.4,2242.0 1180.6,2235.0 1181.8,2227.8 1183.0,2221.3 1184.2,2216.7 1185.4,2214.8 1186.6,2216.0V2262H623.6Z" fill="rgba(60,100,220,0.13)"/>
<path d="M623.6,2191.4 624.8,2186.4 626.0,2186.3 627.2,2191.1 628.4,2199.9 629.6,2211.1 630.8,2222.9 632.0,2233.8 633.2,2242.9 634.4,2249.7 635.6,2254.4 636.8,2257.4 638.0,2259.1 639.2,2260.1 640.4,2260.5 641.6,2260.7 642.8,2260.8 644.0,2260.9 645.2,2260.9 646.4,2260.9 647.6,2260.9 648.8,2260.9 650.0,2260.9 651.2,2260.9 652.4,2260.9 653.6,2260.9 654.8,2260.9 656.0,2260.9 657.2,2260.9 658.4,2260.9 659.6,2260.9 660.8,2260.9 662.0,2260.9 663.2,2260.9 664.4,2260.9 665.6,2260.9 666.8,2260.9 668.0,2260.9 669.2,2260.9 670.4,2260.9 671.6,2260.9 672.8,2260.9 674.0,2260.9 675.2,2260.9 676.4,2260.9 677.6,2260.9 678.8,2260.9 680.0,2260.9 681.2,2260.9 682.4,2260.9 683.6,2260.9 684.8,2260.9 686.0,2260.9 687.2,2260.9 688.4,2260.9 689.6,2260.9 690.8,2260.9 692.0,2260.9 693.2,2260.9 694.4,2260.8 695.6,2260.6 696.8,2260.3 698.0,2259.6 699.2,2258.3 700.4,2256.0 701.6,2252.4 702.8,2247.2 704.0,2240.0 705.2,2231.3 706.4,2221.7 707.6,2212.4 708.8,2204.8 710.0,2200.3 711.2,2199.8 712.4,2203.3 713.6,2210.2 714.8,2219.2 716.0,2228.9 717.2,2237.9 718.4,2245.5 719.6,2251.2 720.8,2255.2 722.0,2257.8 723.2,2259.3 724.4,2260.1 725.6,2260.6 726.8,2260.8 728.0,2260.8 729.2,2260.9 730.4,2260.9 731.6,2260.9 732.8,2260.9 734.0,2260.9 735.2,2260.9 736.4,2260.9 737.6,2260.9 738.8,2260.9 740.0,2260.9 741.2,2260.9 742.4,2260.9 743.6,2260.9 744.8,2260.9 746.0,2260.9 747.2,2260.9 748.4,2260.9 749.6,2260.9 750.8,2260.9 752.0,2260.9 753.2,2260.9 754.4,2260.9 755.6,2260.9 756.8,2260.9 758.0,2260.9 759.2,2260.9 760.4,2260.9 761.6,2260.9 762.8,2260.9 764.0,2260.9 765.3,2260.9 766.5,2260.9 767.7,2260.9 768.9,2260.9 770.1,2260.9 771.3,2260.9 772.5,2260.9 773.7,2260.9 774.9,2260.9 776.1,2260.9 777.3,2260.9 778.5,2260.9 779.7,2260.9 780.9,2260.9 782.1,2260.9 783.3,2260.9 784.5,2260.9 785.7,2260.9 786.9,2260.9 788.1,2260.9 789.3,2260.9 790.5,2260.9 791.7,2260.9 792.9,2260.9 794.1,2260.9 795.3,2260.9 796.5,2260.9 797.7,2260.9 798.9,2260.9 800.1,2260.9 801.3,2260.9 802.5,2260.9 803.7,2260.9 804.9,2260.9 806.1,2260.9 807.3,2260.9 808.5,2260.9 809.7,2260.9 810.9,2260.9 812.1,2260.9 813.3,2260.9 814.5,2260.9 815.7,2260.9 816.9,2260.8 818.1,2260.8 819.3,2260.6 820.5,2260.3 821.7,2259.7 822.9,2258.8 824.1,2257.3 825.3,2255.4 826.5,2252.8 827.7,2249.9 828.9,2247.0 830.1,2244.4 831.3,2242.6 832.5,2242.0 833.7,2242.5 834.9,2244.2 836.1,2246.4 837.3,2248.8 838.5,2250.5 839.7,2251.0 840.9,2249.8 842.1,2246.7 843.3,2241.5 844.5,2234.6 845.7,2226.8 846.9,2219.2 848.1,2213.0 849.3,2209.4 850.5,2208.9 851.7,2211.3 852.9,2215.6 854.1,2220.3 855.3,2223.7 856.5,2224.2 857.7,2221.1 858.9,2214.3 860.1,2204.9 861.3,2194.6 862.5,2185.7 863.7,2180.2 864.9,2179.4 866.1,2183.4 867.3,2191.2 868.5,2201.3 869.7,2211.6 870.9,2220.7 872.1,2227.7 873.3,2232.5 874.5,2235.7 875.7,2238.0 876.9,2240.2 878.1,2242.8 879.3,2245.7 880.5,2248.8 881.7,2251.9 882.9,2254.6 884.1,2256.8 885.3,2258.4 886.5,2259.5 887.7,2260.1 888.9,2260.5 890.1,2260.7 891.3,2260.8 892.5,2260.9 893.7,2260.9 894.9,2260.9 896.1,2260.9 897.3,2260.9 898.5,2260.9 899.7,2260.9 900.9,2260.9 902.1,2260.9 903.3,2260.9 904.5,2260.9 905.7,2260.9 906.9,2260.9 908.1,2260.9 909.3,2260.9 910.5,2260.9 911.7,2260.9 912.9,2260.9 914.1,2260.9 915.3,2260.9 916.5,2260.9 917.7,2260.9 918.9,2260.9 920.1,2260.9 921.3,2260.9 922.5,2260.9 923.7,2260.9 924.9,2260.9 926.1,2260.9 927.3,2260.9 928.5,2260.9 929.7,2260.9 930.9,2260.9 932.1,2260.9 933.3,2260.9 934.5,2260.9 935.7,2260.9 936.9,2260.9 938.1,2260.9 939.3,2260.9 940.5,2260.9 941.7,2260.9 942.9,2260.9 944.1,2260.9 945.3,2260.9 946.5,2260.8 947.7,2260.7 948.9,2260.3 950.1,2259.7 951.3,2258.4 952.5,2256.2 953.7,2252.5 954.9,2247.0 956.1,2239.3 957.3,2229.7 958.5,2218.6 959.7,2207.5 960.9,2197.9 962.1,2191.4 963.3,2189.4 964.5,2192.1 965.7,2199.0 966.9,2209.0 968.1,2220.2 969.3,2231.0 970.5,2240.5 971.7,2247.8 972.9,2253.1 974.1,2256.5 975.3,2258.6 976.5,2259.6 977.7,2260.0 978.9,2259.8 980.1,2258.9 981.3,2257.2 982.5,2254.2 983.7,2249.7 984.9,2243.3 986.1,2235.0 987.3,2225.4 988.5,2215.5 989.7,2206.5 990.9,2200.1 992.1,2197.4 993.3,2198.9 994.5,2204.4 995.7,2212.8 996.9,2222.6 998.1,2232.5 999.3,2241.2 1000.5,2248.1 1001.7,2253.1 1002.9,2256.5 1004.1,2258.6 1005.3,2259.8 1006.5,2260.4 1007.7,2260.7 1008.9,2260.8 1010.1,2260.9 1011.3,2260.9 1012.5,2260.9 1013.7,2260.9 1014.9,2260.9 1016.1,2260.9 1017.3,2260.9 1018.5,2260.9 1019.7,2260.9 1020.9,2260.9 1022.1,2260.9 1023.3,2260.9 1024.5,2260.9 1025.7,2260.9 1026.9,2260.9 1028.1,2260.9 1029.3,2260.9 1030.5,2260.9 1031.7,2260.9 1032.9,2260.9 1034.1,2260.9 1035.3,2260.9 1036.5,2260.9 1037.7,2260.9 1038.9,2260.9 1040.1,2260.9 1041.3,2260.9 1042.5,2260.9 1043.7,2260.9 1044.9,2260.9 1046.2,2260.9 1047.4,2260.9 1048.6,2260.9 1049.8,2260.9 1051.0,2260.9 1052.2,2260.9 1053.4,2260.9 1054.6,2260.9 1055.8,2260.9 1057.0,2260.9 1058.2,2260.9 1059.4,2260.9 1060.6,2260.9 1061.8,2260.9 1063.0,2260.9 1064.2,2260.9 1065.4,2260.9 1066.6,2260.9 1067.8,2260.9 1069.0,2260.9 1070.2,2260.9 1071.4,2260.9 1072.6,2260.9 1073.8,2260.9 1075.0,2260.9 1076.2,2260.9 1077.4,2260.9 1078.6,2260.9 1079.8,2260.9 1081.0,2260.9 1082.2,2260.9 1083.4,2260.9 1084.6,2260.9 1085.8,2260.8 1087.0,2260.7 1088.2,2260.5 1089.4,2260.0 1090.6,2259.1 1091.8,2257.3 1093.0,2254.2 1094.2,2249.4 1095.4,2242.5 1096.6,2233.4 1097.8,2222.4 1099.0,2210.5 1100.2,2199.4 1101.4,2190.6 1102.6,2185.8 1103.8,2185.7 1105.0,2190.1 1106.2,2197.5 1107.4,2206.0 1108.6,2213.3 1109.8,2217.6 1111.0,2217.7 1112.2,2213.8 1113.4,2206.8 1114.6,2198.6 1115.8,2191.4 1117.0,2187.1 1118.2,2187.0 1119.4,2191.0 1120.6,2198.0 1121.8,2206.2 1123.0,2213.4 1124.2,2217.6 1125.4,2217.7 1126.6,2213.7 1127.8,2206.5 1129.0,2197.9 1130.2,2190.0 1131.4,2184.9 1132.6,2183.5 1133.8,2185.9 1135.0,2191.0 1136.2,2196.7 1137.4,2201.0 1138.6,2202.3 1139.8,2200.1 1141.0,2195.0 1142.2,2188.9 1143.4,2183.9 1144.6,2182.0 1145.8,2184.3 1147.0,2190.8 1148.2,2200.3 1149.4,2211.1 1150.6,2221.2 1151.8,2228.7 1153.0,2232.4 1154.2,2232.1 1155.4,2228.0 1156.6,2221.3 1157.8,2213.4 1159.0,2206.2 1160.2,2201.4 1161.4,2200.2 1162.6,2202.9 1163.8,2209.1 1165.0,2217.7 1166.2,2227.2 1167.4,2236.3 1168.6,2244.1 1169.8,2250.2 1171.0,2254.3 1172.2,2256.7 1173.4,2257.7 1174.6,2257.3 1175.8,2255.6 1177.0,2252.5 1178.2,2247.9 1179.4,2242.0 1180.6,2235.0 1181.8,2227.8 1183.0,2221.3 1184.2,2216.7 1185.4,2214.8 1186.6,2216.0" fill="none" stroke="#3060d0" stroke-width="1.3" stroke-linejoin="round"/>
<path d="M623.6,2260.9 624.8,2260.9 626.0,2260.8 627.2,2260.6 628.4,2260.3 629.6,2259.6 630.8,2258.5 632.0,2256.5 633.2,2253.5 634.4,2249.3 635.6,2243.9 636.8,2237.6 638.0,2231.0 639.2,2225.2 640.4,2220.9 641.6,2219.2 642.8,2220.2 644.0,2223.8 645.2,2229.3 646.4,2235.8 647.6,2242.2 648.8,2247.9 650.0,2252.5 651.2,2255.8 652.4,2258.0 653.6,2259.2 654.8,2259.8 656.0,2259.7 657.2,2259.0 658.4,2257.5 659.6,2254.7 660.8,2250.3 662.0,2243.9 663.2,2235.4 664.4,2225.2 665.6,2214.3 666.8,2203.9 668.0,2195.9 669.2,2191.6 670.4,2191.9 671.6,2196.7 672.8,2205.1 674.0,2215.6 675.2,2226.6 676.4,2236.6 677.6,2244.8 678.8,2250.9 680.0,2255.1 681.2,2257.7 682.4,2259.0 683.6,2259.4 684.8,2258.9 686.0,2257.5 687.2,2254.8 688.4,2250.4 689.6,2244.1 690.8,2235.8 692.0,2225.8 693.2,2215.0 694.4,2204.8 695.6,2196.9 696.8,2192.7 698.0,2193.0 699.2,2197.7 700.4,2206.0 701.6,2216.4 702.8,2227.1 704.0,2237.0 705.2,2245.1 706.4,2251.1 707.6,2255.3 708.8,2257.9 710.0,2259.4 711.2,2260.2 712.4,2260.6 713.6,2260.8 714.8,2260.8 716.0,2260.9 717.2,2260.9 718.4,2260.9 719.6,2260.9 720.8,2260.9 722.0,2260.9 723.2,2260.8 724.4,2260.7 725.6,2260.4 726.8,2259.7 728.0,2258.5 729.2,2256.5 730.4,2253.1 731.6,2248.0 732.8,2241.0 734.0,2232.3 735.2,2222.4 736.4,2212.6 737.6,2204.2 738.8,2198.8 740.0,2197.4 741.2,2200.2 742.4,2206.7 743.6,2215.7 744.8,2225.7 746.0,2235.2 747.2,2243.4 748.4,2249.8 749.6,2254.3 750.8,2257.3 752.0,2259.0 753.2,2260.0 754.4,2260.5 755.6,2260.6 756.8,2260.6 758.0,2260.5 759.2,2260.0 760.4,2259.3 761.6,2258.2 762.8,2256.5 764.0,2254.3 765.3,2251.6 766.5,2248.6 767.7,2245.8 768.9,2243.5 770.1,2242.2 771.3,2242.1 772.5,2243.3 773.7,2245.5 774.9,2248.3 776.1,2251.2 777.3,2254.0 778.5,2256.2 779.7,2257.7 780.9,2258.4 782.1,2258.2 783.3,2256.9 784.5,2253.9 785.7,2248.9 786.9,2241.2 788.1,2230.7 789.3,2217.4 790.5,2202.5 791.7,2187.7 792.9,2175.0 794.1,2166.9 795.3,2164.7 796.5,2169.0 797.7,2178.9 798.9,2192.5 800.1,2207.6 801.3,2222.1 802.5,2234.5 803.7,2244.1 804.9,2250.9 806.1,2255.3 807.3,2257.8 808.5,2259.0 809.7,2259.1 810.9,2258.3 812.1,2256.5 813.3,2253.4 814.5,2248.8 815.7,2242.7 816.9,2235.2 818.1,2227.1 819.3,2219.3 820.5,2213.1 821.7,2209.4 822.9,2208.8 824.1,2211.0 825.3,2215.0 826.5,2219.2 827.7,2221.8 828.9,2221.2 830.1,2216.4 831.3,2207.7 832.5,2196.1 833.7,2183.9 834.9,2173.4 836.1,2167.1 837.3,2166.6 838.5,2172.2 839.7,2182.8 840.9,2196.7 842.1,2211.6 843.3,2225.5 844.5,2237.2 845.7,2246.0 846.9,2252.2 848.1,2256.1 849.3,2258.5 850.5,2259.7 851.7,2260.4 852.9,2260.7 854.1,2260.8 855.3,2260.9 856.5,2260.9 857.7,2260.9 858.9,2260.9 860.1,2260.9 861.3,2260.9 862.5,2260.9 863.7,2260.9 864.9,2260.9 866.1,2260.9 867.3,2260.9 868.5,2260.9 869.7,2260.9 870.9,2260.9 872.1,2260.9 873.3,2260.9 874.5,2260.9 875.7,2260.9 876.9,2260.9 878.1,2260.9 879.3,2260.9 880.5,2260.9 881.7,2260.9 882.9,2260.9 884.1,2260.9 885.3,2260.9 886.5,2260.9 887.7,2260.9 888.9,2260.9 890.1,2260.8 891.3,2260.6 892.5,2260.2 893.7,2259.4 894.9,2257.9 896.1,2255.2 897.3,2250.6 898.5,2243.8 899.7,2234.2 900.9,2221.9 902.1,2207.8 903.3,2193.4 904.5,2180.6 905.7,2171.5 906.9,2167.8 908.1,2169.8 909.3,2176.7 910.5,2186.5 911.7,2196.7 912.9,2204.9 914.1,2209.5 915.3,2210.2 916.5,2207.7 917.7,2203.7 918.9,2200.1 920.1,2198.8 921.3,2200.8 922.5,2206.1 923.7,2214.1 924.9,2223.5 926.1,2233.0 927.3,2241.4 928.5,2248.2 929.7,2253.1 930.9,2256.5 932.1,2258.6 933.3,2259.7 934.5,2260.4 935.7,2260.7 936.9,2260.8 938.1,2260.9 939.3,2260.9 940.5,2260.9 941.7,2260.9 942.9,2260.9 944.1,2260.9 945.3,2260.9 946.5,2260.9 947.7,2260.9 948.9,2260.9 950.1,2260.9 951.3,2260.9 952.5,2260.9 953.7,2260.9 954.9,2260.9 956.1,2260.9 957.3,2260.9 958.5,2260.9 959.7,2260.9 960.9,2260.9 962.1,2260.9 963.3,2260.9 964.5,2260.9 965.7,2260.9 966.9,2260.9 968.1,2260.9 969.3,2260.9 970.5,2260.9 971.7,2260.9 972.9,2260.9 974.1,2260.9 975.3,2260.9 976.5,2260.9 977.7,2260.9 978.9,2260.9 980.1,2260.9 981.3,2260.9 982.5,2260.9 983.7,2260.9 984.9,2260.9 986.1,2260.9 987.3,2260.9 988.5,2260.9 989.7,2260.9 990.9,2260.9 992.1,2260.9 993.3,2260.9 994.5,2260.9 995.7,2260.9 996.9,2260.9 998.1,2260.9 999.3,2260.9 1000.5,2260.9 1001.7,2260.9 1002.9,2260.9 1004.1,2260.9 1005.3,2260.9 1006.5,2260.9 1007.7,2260.9 1008.9,2260.9 1010.1,2260.9 1011.3,2260.9 1012.5,2260.9 1013.7,2260.9 1014.9,2260.9 1016.1,2260.8 1017.3,2260.7 1018.5,2260.4 1019.7,2259.7 1020.9,2258.5 1022.1,2256.3 1023.3,2252.7 1024.5,2247.3 1025.7,2239.6 1026.9,2229.9 1028.1,2218.6 1029.3,2207.1 1030.5,2196.7 1031.7,2189.2 1032.9,2185.5 1034.1,2185.7 1035.3,2188.7 1036.5,2192.6 1037.7,2194.8 1038.9,2193.3 1040.1,2187.1 1041.3,2176.5 1042.5,2163.7 1043.7,2151.4 1044.9,2143.0 1046.2,2140.9 1047.4,2146.2 1048.6,2158.1 1049.8,2174.7 1051.0,2193.4 1052.2,2211.5 1053.4,2227.1 1054.6,2239.3 1055.8,2248.0 1057.0,2253.7 1058.2,2257.2 1059.4,2259.1 1060.6,2260.1 1061.8,2260.5 1063.0,2260.8 1064.2,2260.8 1065.4,2260.9 1066.6,2260.9 1067.8,2260.9 1069.0,2260.9 1070.2,2260.9 1071.4,2260.9 1072.6,2260.8 1073.8,2260.6 1075.0,2260.2 1076.2,2259.5 1077.4,2258.0 1078.6,2255.3 1079.8,2251.0 1081.0,2244.5 1082.2,2235.5 1083.4,2224.1 1084.6,2211.1 1085.8,2198.0 1087.0,2186.7 1088.2,2179.1 1089.4,2176.6 1090.6,2179.8 1091.8,2188.0 1093.0,2199.7 1094.2,2212.9 1095.4,2225.7 1096.6,2236.8 1097.8,2245.5 1099.0,2251.7 1100.2,2255.8 1101.4,2258.2 1102.6,2259.6 1103.8,2260.3 1105.0,2260.6 1106.2,2260.8 1107.4,2260.9 1108.6,2260.9 1109.8,2260.9 1111.0,2260.9 1112.2,2260.9 1113.4,2260.9 1114.6,2260.9 1115.8,2260.9 1117.0,2260.9 1118.2,2260.9 1119.4,2260.9 1120.6,2260.9 1121.8,2260.9 1123.0,2260.9 1124.2,2260.9 1125.4,2260.9 1126.6,2260.9 1127.8,2260.9 1129.0,2260.9 1130.2,2260.9 1131.4,2260.9 1132.6,2260.9 1133.8,2260.9 1135.0,2260.9 1136.2,2260.9 1137.4,2260.9 1138.6,2260.9 1139.8,2260.9 1141.0,2260.8 1142.2,2260.7 1143.4,2260.4 1144.6,2259.8 1145.8,2258.8 1147.0,2256.9 1148.2,2253.8 1149.4,2249.2 1150.6,2242.9 1151.8,2235.0 1153.0,2226.2 1154.2,2217.4 1155.4,2209.9 1156.6,2205.1 1157.8,2203.8 1159.0,2206.1 1160.2,2211.5 1161.4,2218.5 1162.6,2225.6 1163.8,2230.9 1165.0,2233.2 1166.2,2231.5 1167.4,2225.8 1168.6,2216.8 1169.8,2205.8 1171.0,2194.8 1172.2,2186.0 1173.4,2181.4 1174.6,2181.8 1175.8,2187.3 1177.0,2197.0 1178.2,2209.0 1179.4,2221.6 1180.6,2233.0 1181.8,2242.5 1183.0,2249.5 1184.2,2254.3 1185.4,2257.4 1186.6,2259.1V2262H623.6Z" fill="rgba(0,0,0,0.13)"/>
<path d="M623.6,2260.9 624.8,2260.9 626.0,2260.8 627.2,2260.6 628.4,2260.3 629.6,2259.6 630.8,2258.5 632.0,2256.5 633.2,2253.5 634.4,2249.3 635.6,2243.9 636.8,2237.6 638.0,2231.0 639.2,2225.2 640.4,2220.9 641.6,2219.2 642.8,2220.2 644.0,2223.8 645.2,2229.3 646.4,2235.8 647.6,2242.2 648.8,2247.9 650.0,2252.5 651.2,2255.8 652.4,2258.0 653.6,2259.2 654.8,2259.8 656.0,2259.7 657.2,2259.0 658.4,2257.5 659.6,2254.7 660.8,2250.3 662.0,2243.9 663.2,2235.4 664.4,2225.2 665.6,2214.3 666.8,2203.9 668.0,2195.9 669.2,2191.6 670.4,2191.9 671.6,2196.7 672.8,2205.1 674.0,2215.6 675.2,2226.6 676.4,2236.6 677.6,2244.8 678.8,2250.9 680.0,2255.1 681.2,2257.7 682.4,2259.0 683.6,2259.4 684.8,2258.9 686.0,2257.5 687.2,2254.8 688.4,2250.4 689.6,2244.1 690.8,2235.8 692.0,2225.8 693.2,2215.0 694.4,2204.8 695.6,2196.9 696.8,2192.7 698.0,2193.0 699.2,2197.7 700.4,2206.0 701.6,2216.4 702.8,2227.1 704.0,2237.0 705.2,2245.1 706.4,2251.1 707.6,2255.3 708.8,2257.9 710.0,2259.4 711.2,2260.2 712.4,2260.6 713.6,2260.8 714.8,2260.8 716.0,2260.9 717.2,2260.9 718.4,2260.9 719.6,2260.9 720.8,2260.9 722.0,2260.9 723.2,2260.8 724.4,2260.7 725.6,2260.4 726.8,2259.7 728.0,2258.5 729.2,2256.5 730.4,2253.1 731.6,2248.0 732.8,2241.0 734.0,2232.3 735.2,2222.4 736.4,2212.6 737.6,2204.2 738.8,2198.8 740.0,2197.4 741.2,2200.2 742.4,2206.7 743.6,2215.7 744.8,2225.7 746.0,2235.2 747.2,2243.4 748.4,2249.8 749.6,2254.3 750.8,2257.3 752.0,2259.0 753.2,2260.0 754.4,2260.5 755.6,2260.6 756.8,2260.6 758.0,2260.5 759.2,2260.0 760.4,2259.3 761.6,2258.2 762.8,2256.5 764.0,2254.3 765.3,2251.6 766.5,2248.6 767.7,2245.8 768.9,2243.5 770.1,2242.2 771.3,2242.1 772.5,2243.3 773.7,2245.5 774.9,2248.3 776.1,2251.2 777.3,2254.0 778.5,2256.2 779.7,2257.7 780.9,2258.4 782.1,2258.2 783.3,2256.9 784.5,2253.9 785.7,2248.9 786.9,2241.2 788.1,2230.7 789.3,2217.4 790.5,2202.5 791.7,2187.7 792.9,2175.0 794.1,2166.9 795.3,2164.7 796.5,2169.0 797.7,2178.9 798.9,2192.5 800.1,2207.6 801.3,2222.1 802.5,2234.5 803.7,2244.1 804.9,2250.9 806.1,2255.3 807.3,2257.8 808.5,2259.0 809.7,2259.1 810.9,2258.3 812.1,2256.5 813.3,2253.4 814.5,2248.8 815.7,2242.7 816.9,2235.2 818.1,2227.1 819.3,2219.3 820.5,2213.1 821.7,2209.4 822.9,2208.8 824.1,2211.0 825.3,2215.0 826.5,2219.2 827.7,2221.8 828.9,2221.2 830.1,2216.4 831.3,2207.7 832.5,2196.1 833.7,2183.9 834.9,2173.4 836.1,2167.1 837.3,2166.6 838.5,2172.2 839.7,2182.8 840.9,2196.7 842.1,2211.6 843.3,2225.5 844.5,2237.2 845.7,2246.0 846.9,2252.2 848.1,2256.1 849.3,2258.5 850.5,2259.7 851.7,2260.4 852.9,2260.7 854.1,2260.8 855.3,2260.9 856.5,2260.9 857.7,2260.9 858.9,2260.9 860.1,2260.9 861.3,2260.9 862.5,2260.9 863.7,2260.9 864.9,2260.9 866.1,2260.9 867.3,2260.9 868.5,2260.9 869.7,2260.9 870.9,2260.9 872.1,2260.9 873.3,2260.9 874.5,2260.9 875.7,2260.9 876.9,2260.9 878.1,2260.9 879.3,2260.9 880.5,2260.9 881.7,2260.9 882.9,2260.9 884.1,2260.9 885.3,2260.9 886.5,2260.9 887.7,2260.9 888.9,2260.9 890.1,2260.8 891.3,2260.6 892.5,2260.2 893.7,2259.4 894.9,2257.9 896.1,2255.2 897.3,2250.6 898.5,2243.8 899.7,2234.2 900.9,2221.9 902.1,2207.8 903.3,2193.4 904.5,2180.6 905.7,2171.5 906.9,2167.8 908.1,2169.8 909.3,2176.7 910.5,2186.5 911.7,2196.7 912.9,2204.9 914.1,2209.5 915.3,2210.2 916.5,2207.7 917.7,2203.7 918.9,2200.1 920.1,2198.8 921.3,2200.8 922.5,2206.1 923.7,2214.1 924.9,2223.5 926.1,2233.0 927.3,2241.4 928.5,2248.2 929.7,2253.1 930.9,2256.5 932.1,2258.6 933.3,2259.7 934.5,2260.4 935.7,2260.7 936.9,2260.8 938.1,2260.9 939.3,2260.9 940.5,2260.9 941.7,2260.9 942.9,2260.9 944.1,2260.9 945.3,2260.9 946.5,2260.9 947.7,2260.9 948.9,2260.9 950.1,2260.9 951.3,2260.9 952.5,2260.9 953.7,2260.9 954.9,2260.9 956.1,2260.9 957.3,2260.9 958.5,2260.9 959.7,2260.9 960.9,2260.9 962.1,2260.9 963.3,2260.9 964.5,2260.9 965.7,2260.9 966.9,2260.9 968.1,2260.9 969.3,2260.9 970.5,2260.9 971.7,2260.9 972.9,2260.9 974.1,2260.9 975.3,2260.9 976.5,2260.9 977.7,2260.9 978.9,2260.9 980.1,2260.9 981.3,2260.9 982.5,2260.9 983.7,2260.9 984.9,2260.9 986.1,2260.9 987.3,2260.9 988.5,2260.9 989.7,2260.9 990.9,2260.9 992.1,2260.9 993.3,2260.9 994.5,2260.9 995.7,2260.9 996.9,2260.9 998.1,2260.9 999.3,2260.9 1000.5,2260.9 1001.7,2260.9 1002.9,2260.9 1004.1,2260.9 1005.3,2260.9 1006.5,2260.9 1007.7,2260.9 1008.9,2260.9 1010.1,2260.9 1011.3,2260.9 1012.5,2260.9 1013.7,2260.9 1014.9,2260.9 1016.1,2260.8 1017.3,2260.7 1018.5,2260.4 1019.7,2259.7 1020.9,2258.5 1022.1,2256.3 1023.3,2252.7 1024.5,2247.3 1025.7,2239.6 1026.9,2229.9 1028.1,2218.6 1029.3,2207.1 1030.5,2196.7 1031.7,2189.2 1032.9,2185.5 1034.1,2185.7 1035.3,2188.7 1036.5,2192.6 1037.7,2194.8 1038.9,2193.3 1040.1,2187.1 1041.3,2176.5 1042.5,2163.7 1043.7,2151.4 1044.9,2143.0 1046.2,2140.9 1047.4,2146.2 1048.6,2158.1 1049.8,2174.7 1051.0,2193.4 1052.2,2211.5 1053.4,2227.1 1054.6,2239.3 1055.8,2248.0 1057.0,2253.7 1058.2,2257.2 1059.4,2259.1 1060.6,2260.1 1061.8,2260.5 1063.0,2260.8 1064.2,2260.8 1065.4,2260.9 1066.6,2260.9 1067.8,2260.9 1069.0,2260.9 1070.2,2260.9 1071.4,2260.9 1072.6,2260.8 1073.8,2260.6 1075.0,2260.2 1076.2,2259.5 1077.4,2258.0 1078.6,2255.3 1079.8,2251.0 1081.0,2244.5 1082.2,2235.5 1083.4,2224.1 1084.6,2211.1 1085.8,2198.0 1087.0,2186.7 1088.2,2179.1 1089.4,2176.6 1090.6,2179.8 1091.8,2188.0 1093.0,2199.7 1094.2,2212.9 1095.4,2225.7 1096.6,2236.8 1097.8,2245.5 1099.0,2251.7 1100.2,2255.8 1101.4,2258.2 1102.6,2259.6 1103.8,2260.3 1105.0,2260.6 1106.2,2260.8 1107.4,2260.9 1108.6,2260.9 1109.8,2260.9 1111.0,2260.9 1112.2,2260.9 1113.4,2260.9 1114.6,2260.9 1115.8,2260.9 1117.0,2260.9 1118.2,2260.9 1119.4,2260.9 1120.6,2260.9 1121.8,2260.9 1123.0,2260.9 1124.2,2260.9 1125.4,2260.9 1126.6,2260.9 1127.8,2260.9 1129.0,2260.9 1130.2,2260.9 1131.4,2260.9 1132.6,2260.9 1133.8,2260.9 1135.0,2260.9 1136.2,2260.9 1137.4,2260.9 1138.6,2260.9 1139.8,2260.9 1141.0,2260.8 1142.2,2260.7 1143.4,2260.4 1144.6,2259.8 1145.8,2258.8 1147.0,2256.9 1148.2,2253.8 1149.4,2249.2 1150.6,2242.9 1151.8,2235.0 1153.0,2226.2 1154.2,2217.4 1155.4,2209.9 1156.6,2205.1 1157.8,2203.8 1159.0,2206.1 1160.2,2211.5 1161.4,2218.5 1162.6,2225.6 1163.8,2230.9 1165.0,2233.2 1166.2,2231.5 1167.4,2225.8 1168.6,2216.8 1169.8,2205.8 1171.0,2194.8 1172.2,2186.0 1173.4,2181.4 1174.6,2181.8 1175.8,2187.3 1177.0,2197.0 1178.2,2209.0 1179.4,2221.6 1180.6,2233.0 1181.8,2242.5 1183.0,2249.5 1184.2,2254.3 1185.4,2257.4 1186.6,2259.1" fill="none" stroke="#111111" stroke-width="1.3" stroke-linejoin="round"/>
<path d="M623.6,2260.9 624.8,2260.9 626.0,2260.9 627.2,2260.9 628.4,2260.9 629.6,2260.9 630.8,2260.9 632.0,2260.9 633.2,2260.9 634.4,2260.9 635.6,2260.9 636.8,2260.9 638.0,2260.9 639.2,2260.8 640.4,2260.7 641.6,2260.5 642.8,2260.1 644.0,2259.5 645.2,2258.4 646.4,2256.9 647.6,2254.7 648.8,2252.1 650.0,2249.1 651.2,2246.2 652.4,2243.8 653.6,2242.4 654.8,2242.1 656.0,2243.0 657.2,2245.1 658.4,2247.8 659.6,2250.7 660.8,2253.6 662.0,2255.9 663.2,2257.8 664.4,2259.1 665.6,2259.9 666.8,2260.4 668.0,2260.7 669.2,2260.8 670.4,2260.9 671.6,2260.9 672.8,2260.9 674.0,2260.9 675.2,2260.9 676.4,2260.9 677.6,2260.9 678.8,2260.9 680.0,2260.9 681.2,2260.9 682.4,2260.9 683.6,2260.9 684.8,2260.9 686.0,2260.9 687.2,2260.9 688.4,2260.9 689.6,2260.9 690.8,2260.9 692.0,2260.9 693.2,2260.9 694.4,2260.8 695.6,2260.7 696.8,2260.4 698.0,2260.0 699.2,2259.3 700.4,2258.2 701.6,2256.6 702.8,2254.6 704.0,2252.3 705.2,2249.9 706.4,2247.8 707.6,2246.2 708.8,2245.5 710.0,2245.7 711.2,2246.7 712.4,2248.0 713.6,2248.9 714.8,2248.7 716.0,2246.6 717.2,2242.2 718.4,2235.1 719.6,2225.7 720.8,2214.7 722.0,2203.8 723.2,2194.5 724.4,2188.8 725.6,2187.7 726.8,2191.4 728.0,2199.3 729.2,2209.9 730.4,2221.4 731.6,2232.4 732.8,2241.6 734.0,2248.7 735.2,2253.7 736.4,2257.0 737.6,2258.9 738.8,2259.9 740.0,2260.5 741.2,2260.7 742.4,2260.8 743.6,2260.9 744.8,2260.9 746.0,2260.9 747.2,2260.9 748.4,2260.9 749.6,2260.9 750.8,2260.9 752.0,2260.9 753.2,2260.9 754.4,2260.9 755.6,2260.9 756.8,2260.9 758.0,2260.9 759.2,2260.9 760.4,2260.9 761.6,2260.9 762.8,2260.9 764.0,2260.8 765.3,2260.6 766.5,2260.3 767.7,2259.6 768.9,2258.3 770.1,2256.1 771.3,2252.5 772.5,2247.1 773.7,2239.9 774.9,2230.9 776.1,2220.9 777.3,2211.0 778.5,2202.8 779.7,2197.8 780.9,2196.8 782.1,2200.0 783.3,2207.0 784.5,2216.2 785.7,2226.4 786.9,2235.9 788.1,2244.1 789.3,2250.3 790.5,2254.6 791.7,2257.5 792.9,2259.1 794.1,2260.0 795.3,2260.5 796.5,2260.7 797.7,2260.8 798.9,2260.9 800.1,2260.9 801.3,2260.9 802.5,2260.9 803.7,2260.9 804.9,2260.9 806.1,2260.9 807.3,2260.9 808.5,2260.9 809.7,2260.9 810.9,2260.9 812.1,2260.9 813.3,2260.9 814.5,2260.9 815.7,2260.9 816.9,2260.9 818.1,2260.9 819.3,2260.9 820.5,2260.9 821.7,2260.9 822.9,2260.9 824.1,2260.9 825.3,2260.9 826.5,2260.9 827.7,2260.9 828.9,2260.9 830.1,2260.9 831.3,2260.9 832.5,2260.9 833.7,2260.9 834.9,2260.9 836.1,2260.9 837.3,2260.9 838.5,2260.9 839.7,2260.9 840.9,2260.9 842.1,2260.9 843.3,2260.9 844.5,2260.9 845.7,2260.9 846.9,2260.9 848.1,2260.9 849.3,2260.9 850.5,2260.9 851.7,2260.9 852.9,2260.9 854.1,2260.9 855.3,2260.9 856.5,2260.9 857.7,2260.9 858.9,2260.9 860.1,2260.9 861.3,2260.9 862.5,2260.8 863.7,2260.7 864.9,2260.5 866.1,2260.0 867.3,2259.0 868.5,2257.3 869.7,2254.3 870.9,2249.6 872.1,2242.9 873.3,2234.2 874.5,2223.7 875.7,2212.5 876.9,2201.9 878.1,2193.5 879.3,2188.4 880.5,2187.1 881.7,2188.7 882.9,2191.9 884.1,2194.5 885.3,2194.9 886.5,2192.3 887.7,2187.0 888.9,2180.6 890.1,2175.3 891.3,2173.3 892.5,2175.8 893.7,2183.0 894.9,2194.0 896.1,2207.2 897.3,2220.5 898.5,2232.5 899.7,2242.3 900.9,2249.5 902.1,2254.4 903.3,2257.4 904.5,2259.1 905.7,2260.1 906.9,2260.5 908.1,2260.8 909.3,2260.8 910.5,2260.9 911.7,2260.9 912.9,2260.9 914.1,2260.9 915.3,2260.9 916.5,2260.9 917.7,2260.9 918.9,2260.9 920.1,2260.9 921.3,2260.9 922.5,2260.9 923.7,2260.9 924.9,2260.9 926.1,2260.9 927.3,2260.9 928.5,2260.9 929.7,2260.9 930.9,2260.9 932.1,2260.9 933.3,2260.9 934.5,2260.9 935.7,2260.9 936.9,2260.9 938.1,2260.9 939.3,2260.9 940.5,2260.9 941.7,2260.9 942.9,2260.9 944.1,2260.9 945.3,2260.9 946.5,2260.9 947.7,2260.9 948.9,2260.9 950.1,2260.9 951.3,2260.9 952.5,2260.9 953.7,2260.9 954.9,2260.9 956.1,2260.9 957.3,2260.9 958.5,2260.9 959.7,2260.9 960.9,2260.8 962.1,2260.7 963.3,2260.4 964.5,2259.7 965.7,2258.5 966.9,2256.2 968.1,2252.6 969.3,2247.0 970.5,2239.2 971.7,2229.2 972.9,2217.7 974.1,2206.0 975.3,2195.6 976.5,2188.4 977.7,2185.7 978.9,2188.0 980.1,2195.0 981.3,2205.1 982.5,2216.9 983.7,2228.4 984.9,2238.5 986.1,2246.5 987.3,2252.2 988.5,2256.0 989.7,2258.3 990.9,2259.6 992.1,2260.3 993.3,2260.7 994.5,2260.8 995.7,2260.9 996.9,2260.9 998.1,2260.9 999.3,2260.9 1000.5,2260.9 1001.7,2260.9 1002.9,2260.9 1004.1,2260.9 1005.3,2260.9 1006.5,2260.9 1007.7,2260.9 1008.9,2260.9 1010.1,2260.9 1011.3,2260.9 1012.5,2260.9 1013.7,2260.9 1014.9,2260.9 1016.1,2260.9 1017.3,2260.9 1018.5,2260.9 1019.7,2260.9 1020.9,2260.9 1022.1,2260.9 1023.3,2260.9 1024.5,2260.9 1025.7,2260.9 1026.9,2260.9 1028.1,2260.9 1029.3,2260.9 1030.5,2260.9 1031.7,2260.9 1032.9,2260.9 1034.1,2260.9 1035.3,2260.9 1036.5,2260.9 1037.7,2260.9 1038.9,2260.9 1040.1,2260.9 1041.3,2260.9 1042.5,2260.9 1043.7,2260.9 1044.9,2260.9 1046.2,2260.9 1047.4,2260.9 1048.6,2260.9 1049.8,2260.9 1051.0,2260.9 1052.2,2260.9 1053.4,2260.9 1054.6,2260.9 1055.8,2260.9 1057.0,2260.8 1058.2,2260.7 1059.4,2260.5 1060.6,2260.1 1061.8,2259.2 1063.0,2257.5 1064.2,2254.8 1065.4,2250.5 1066.6,2244.5 1067.8,2236.7 1069.0,2227.5 1070.2,2217.8 1071.4,2209.0 1072.6,2202.6 1073.8,2199.6 1075.0,2200.8 1076.2,2205.8 1077.4,2213.7 1078.6,2223.1 1079.8,2232.7 1081.0,2241.2 1082.2,2248.0 1083.4,2253.1 1084.6,2256.4 1085.8,2258.5 1087.0,2259.7 1088.2,2260.4 1089.4,2260.7 1090.6,2260.8 1091.8,2260.9 1093.0,2260.9 1094.2,2260.9 1095.4,2260.9 1096.6,2260.9 1097.8,2260.9 1099.0,2260.9 1100.2,2260.9 1101.4,2260.9 1102.6,2260.9 1103.8,2260.9 1105.0,2260.9 1106.2,2260.9 1107.4,2260.9 1108.6,2260.9 1109.8,2260.9 1111.0,2260.9 1112.2,2260.9 1113.4,2260.9 1114.6,2260.9 1115.8,2260.9 1117.0,2260.9 1118.2,2260.9 1119.4,2260.9 1120.6,2260.9 1121.8,2260.9 1123.0,2260.9 1124.2,2260.9 1125.4,2260.9 1126.6,2260.9 1127.8,2260.9 1129.0,2260.9 1130.2,2260.9 1131.4,2260.9 1132.6,2260.9 1133.8,2260.9 1135.0,2260.9 1136.2,2260.9 1137.4,2260.9 1138.6,2260.9 1139.8,2260.9 1141.0,2260.9 1142.2,2260.9 1143.4,2260.9 1144.6,2260.9 1145.8,2260.9 1147.0,2260.9 1148.2,2260.9 1149.4,2260.9 1150.6,2260.9 1151.8,2260.9 1153.0,2260.9 1154.2,2260.9 1155.4,2260.9 1156.6,2260.9 1157.8,2260.9 1159.0,2260.9 1160.2,2260.9 1161.4,2260.9 1162.6,2260.9 1163.8,2260.9 1165.0,2260.9 1166.2,2260.9 1167.4,2260.9 1168.6,2260.9 1169.8,2260.9 1171.0,2260.9 1172.2,2260.9 1173.4,2260.9 1174.6,2260.9 1175.8,2260.9 1177.0,2260.9 1178.2,2260.9 1179.4,2260.9 1180.6,2260.9 1181.8,2260.9 1183.0,2260.9 1184.2,2260.9 1185.4,2260.9 1186.6,2260.9V2262H623.6Z" fill="rgba(230,50,60,0.13)"/>
<path d="M623.6,2260.9 624.8,2260.9 626.0,2260.9 627.2,2260.9 628.4,2260.9 629.6,2260.9 630.8,2260.9 632.0,2260.9 633.2,2260.9 634.4,2260.9 635.6,2260.9 636.8,2260.9 638.0,2260.9 639.2,2260.8 640.4,2260.7 641.6,2260.5 642.8,2260.1 644.0,2259.5 645.2,2258.4 646.4,2256.9 647.6,2254.7 648.8,2252.1 650.0,2249.1 651.2,2246.2 652.4,2243.8 653.6,2242.4 654.8,2242.1 656.0,2243.0 657.2,2245.1 658.4,2247.8 659.6,2250.7 660.8,2253.6 662.0,2255.9 663.2,2257.8 664.4,2259.1 665.6,2259.9 666.8,2260.4 668.0,2260.7 669.2,2260.8 670.4,2260.9 671.6,2260.9 672.8,2260.9 674.0,2260.9 675.2,2260.9 676.4,2260.9 677.6,2260.9 678.8,2260.9 680.0,2260.9 681.2,2260.9 682.4,2260.9 683.6,2260.9 684.8,2260.9 686.0,2260.9 687.2,2260.9 688.4,2260.9 689.6,2260.9 690.8,2260.9 692.0,2260.9 693.2,2260.9 694.4,2260.8 695.6,2260.7 696.8,2260.4 698.0,2260.0 699.2,2259.3 700.4,2258.2 701.6,2256.6 702.8,2254.6 704.0,2252.3 705.2,2249.9 706.4,2247.8 707.6,2246.2 708.8,2245.5 710.0,2245.7 711.2,2246.7 712.4,2248.0 713.6,2248.9 714.8,2248.7 716.0,2246.6 717.2,2242.2 718.4,2235.1 719.6,2225.7 720.8,2214.7 722.0,2203.8 723.2,2194.5 724.4,2188.8 725.6,2187.7 726.8,2191.4 728.0,2199.3 729.2,2209.9 730.4,2221.4 731.6,2232.4 732.8,2241.6 734.0,2248.7 735.2,2253.7 736.4,2257.0 737.6,2258.9 738.8,2259.9 740.0,2260.5 741.2,2260.7 742.4,2260.8 743.6,2260.9 744.8,2260.9 746.0,2260.9 747.2,2260.9 748.4,2260.9 749.6,2260.9 750.8,2260.9 752.0,2260.9 753.2,2260.9 754.4,2260.9 755.6,2260.9 756.8,2260.9 758.0,2260.9 759.2,2260.9 760.4,2260.9 761.6,2260.9 762.8,2260.9 764.0,2260.8 765.3,2260.6 766.5,2260.3 767.7,2259.6 768.9,2258.3 770.1,2256.1 771.3,2252.5 772.5,2247.1 773.7,2239.9 774.9,2230.9 776.1,2220.9 777.3,2211.0 778.5,2202.8 779.7,2197.8 780.9,2196.8 782.1,2200.0 783.3,2207.0 784.5,2216.2 785.7,2226.4 786.9,2235.9 788.1,2244.1 789.3,2250.3 790.5,2254.6 791.7,2257.5 792.9,2259.1 794.1,2260.0 795.3,2260.5 796.5,2260.7 797.7,2260.8 798.9,2260.9 800.1,2260.9 801.3,2260.9 802.5,2260.9 803.7,2260.9 804.9,2260.9 806.1,2260.9 807.3,2260.9 808.5,2260.9 809.7,2260.9 810.9,2260.9 812.1,2260.9 813.3,2260.9 814.5,2260.9 815.7,2260.9 816.9,2260.9 818.1,2260.9 819.3,2260.9 820.5,2260.9 821.7,2260.9 822.9,2260.9 824.1,2260.9 825.3,2260.9 826.5,2260.9 827.7,2260.9 828.9,2260.9 830.1,2260.9 831.3,2260.9 832.5,2260.9 833.7,2260.9 834.9,2260.9 836.1,2260.9 837.3,2260.9 838.5,2260.9 839.7,2260.9 840.9,2260.9 842.1,2260.9 843.3,2260.9 844.5,2260.9 845.7,2260.9 846.9,2260.9 848.1,2260.9 849.3,2260.9 850.5,2260.9 851.7,2260.9 852.9,2260.9 854.1,2260.9 855.3,2260.9 856.5,2260.9 857.7,2260.9 858.9,2260.9 860.1,2260.9 861.3,2260.9 862.5,2260.8 863.7,2260.7 864.9,2260.5 866.1,2260.0 867.3,2259.0 868.5,2257.3 869.7,2254.3 870.9,2249.6 872.1,2242.9 873.3,2234.2 874.5,2223.7 875.7,2212.5 876.9,2201.9 878.1,2193.5 879.3,2188.4 880.5,2187.1 881.7,2188.7 882.9,2191.9 884.1,2194.5 885.3,2194.9 886.5,2192.3 887.7,2187.0 888.9,2180.6 890.1,2175.3 891.3,2173.3 892.5,2175.8 893.7,2183.0 894.9,2194.0 896.1,2207.2 897.3,2220.5 898.5,2232.5 899.7,2242.3 900.9,2249.5 902.1,2254.4 903.3,2257.4 904.5,2259.1 905.7,2260.1 906.9,2260.5 908.1,2260.8 909.3,2260.8 910.5,2260.9 911.7,2260.9 912.9,2260.9 914.1,2260.9 915.3,2260.9 916.5,2260.9 917.7,2260.9 918.9,2260.9 920.1,2260.9 921.3,2260.9 922.5,2260.9 923.7,2260.9 924.9,2260.9 926.1,2260.9 927.3,2260.9 928.5,2260.9 929.7,2260.9 930.9,2260.9 932.1,2260.9 933.3,2260.9 934.5,2260.9 935.7,2260.9 936.9,2260.9 938.1,2260.9 939.3,2260.9 940.5,2260.9 941.7,2260.9 942.9,2260.9 944.1,2260.9 945.3,2260.9 946.5,2260.9 947.7,2260.9 948.9,2260.9 950.1,2260.9 951.3,2260.9 952.5,2260.9 953.7,2260.9 954.9,2260.9 956.1,2260.9 957.3,2260.9 958.5,2260.9 959.7,2260.9 960.9,2260.8 962.1,2260.7 963.3,2260.4 964.5,2259.7 965.7,2258.5 966.9,2256.2 968.1,2252.6 969.3,2247.0 970.5,2239.2 971.7,2229.2 972.9,2217.7 974.1,2206.0 975.3,2195.6 976.5,2188.4 977.7,2185.7 978.9,2188.0 980.1,2195.0 981.3,2205.1 982.5,2216.9 983.7,2228.4 984.9,2238.5 986.1,2246.5 987.3,2252.2 988.5,2256.0 989.7,2258.3 990.9,2259.6 992.1,2260.3 993.3,2260.7 994.5,2260.8 995.7,2260.9 996.9,2260.9 998.1,2260.9 999.3,2260.9 1000.5,2260.9 1001.7,2260.9 1002.9,2260.9 1004.1,2260.9 1005.3,2260.9 1006.5,2260.9 1007.7,2260.9 1008.9,2260.9 1010.1,2260.9 1011.3,2260.9 1012.5,2260.9 1013.7,2260.9 1014.9,2260.9 1016.1,2260.9 1017.3,2260.9 1018.5,2260.9 1019.7,2260.9 1020.9,2260.9 1022.1,2260.9 1023.3,2260.9 1024.5,2260.9 1025.7,2260.9 1026.9,2260.9 1028.1,2260.9 1029.3,2260.9 1030.5,2260.9 1031.7,2260.9 1032.9,2260.9 1034.1,2260.9 1035.3,2260.9 1036.5,2260.9 1037.7,2260.9 1038.9,2260.9 1040.1,2260.9 1041.3,2260.9 1042.5,2260.9 1043.7,2260.9 1044.9,2260.9 1046.2,2260.9 1047.4,2260.9 1048.6,2260.9 1049.8,2260.9 1051.0,2260.9 1052.2,2260.9 1053.4,2260.9 1054.6,2260.9 1055.8,2260.9 1057.0,2260.8 1058.2,2260.7 1059.4,2260.5 1060.6,2260.1 1061.8,2259.2 1063.0,2257.5 1064.2,2254.8 1065.4,2250.5 1066.6,2244.5 1067.8,2236.7 1069.0,2227.5 1070.2,2217.8 1071.4,2209.0 1072.6,2202.6 1073.8,2199.6 1075.0,2200.8 1076.2,2205.8 1077.4,2213.7 1078.6,2223.1 1079.8,2232.7 1081.0,2241.2 1082.2,2248.0 1083.4,2253.1 1084.6,2256.4 1085.8,2258.5 1087.0,2259.7 1088.2,2260.4 1089.4,2260.7 1090.6,2260.8 1091.8,2260.9 1093.0,2260.9 1094.2,2260.9 1095.4,2260.9 1096.6,2260.9 1097.8,2260.9 1099.0,2260.9 1100.2,2260.9 1101.4,2260.9 1102.6,2260.9 1103.8,2260.9 1105.0,2260.9 1106.2,2260.9 1107.4,2260.9 1108.6,2260.9 1109.8,2260.9 1111.0,2260.9 1112.2,2260.9 1113.4,2260.9 1114.6,2260.9 1115.8,2260.9 1117.0,2260.9 1118.2,2260.9 1119.4,2260.9 1120.6,2260.9 1121.8,2260.9 1123.0,2260.9 1124.2,2260.9 1125.4,2260.9 1126.6,2260.9 1127.8,2260.9 1129.0,2260.9 1130.2,2260.9 1131.4,2260.9 1132.6,2260.9 1133.8,2260.9 1135.0,2260.9 1136.2,2260.9 1137.4,2260.9 1138.6,2260.9 1139.8,2260.9 1141.0,2260.9 1142.2,2260.9 1143.4,2260.9 1144.6,2260.9 1145.8,2260.9 1147.0,2260.9 1148.2,2260.9 1149.4,2260.9 1150.6,2260.9 1151.8,2260.9 1153.0,2260.9 1154.2,2260.9 1155.4,2260.9 1156.6,2260.9 1157.8,2260.9 1159.0,2260.9 1160.2,2260.9 1161.4,2260.9 1162.6,2260.9 1163.8,2260.9 1165.0,2260.9 1166.2,2260.9 1167.4,2260.9 1168.6,2260.9 1169.8,2260.9 1171.0,2260.9 1172.2,2260.9 1173.4,2260.9 1174.6,2260.9 1175.8,2260.9 1177.0,2260.9 1178.2,2260.9 1179.4,2260.9 1180.6,2260.9 1181.8,2260.9 1183.0,2260.9 1184.2,2260.9 1185.4,2260.9 1186.6,2260.9" fill="none" stroke="#e03040" stroke-width="1.3" stroke-linejoin="round"/>
<polyline points="623.6,2260.0 626.6,2259.7 629.6,2259.6 632.6,2259.3 635.6,2259.7 638.6,2259.4 641.6,2261.1 644.6,2260.3 647.6,2259.3 650.6,2259.9 653.6,2259.4 656.6,2261.0 659.6,2260.3 662.6,2260.7 665.6,2260.1 668.6,2260.1 671.6,2261.2 674.6,2260.8 677.6,2260.6 680.6,2259.4 683.6,2259.7 686.6,2260.9 689.6,2259.6 692.6,2260.9 695.6,2260.0 698.6,2260.9 701.6,2261.2 704.6,2259.5 707.6,2260.8 710.6,2260.8 713.6,2259.2 716.6,2259.5 719.6,2260.6 722.6,2259.3 725.6,2260.1 728.6,2259.8 731.6,2260.8 734.6,2259.3 737.6,2259.8 740.6,2259.3 743.6,2259.4 746.6,2260.6 749.6,2260.5 752.6,2260.9 755.6,2260.9 758.6,2261.1 761.6,2260.6 764.6,2260.0 767.6,2261.2 770.6,2259.8 773.6,2260.5 776.6,2260.6 779.6,2259.6 782.6,2260.2 785.6,2260.6 788.6,2260.2 791.6,2259.8 794.6,2261.1 797.6,2259.2 800.6,2261.2 803.6,2259.7 806.6,2259.5 809.6,2261.2 812.6,2259.6 815.6,2260.5 818.6,2260.0 821.6,2261.2 824.6,2261.1 827.6,2260.8 830.6,2259.3 833.6,2260.8 836.6,2259.7 839.6,2259.3 842.6,2259.3 845.6,2260.5 848.6,2260.5 851.6,2260.2 854.6,2259.6 857.6,2261.0 860.6,2259.7 863.6,2259.6 866.6,2259.5 869.6,2261.1 872.6,2259.3 875.6,2261.0 878.6,2260.5 881.6,2260.0 884.6,2259.4 887.6,2260.5 890.6,2259.4 893.6,2260.1 896.6,2260.6 899.6,2260.6 902.6,2260.8 905.6,2261.0 908.6,2260.9 911.6,2259.8 914.6,2259.2 917.6,2260.9 920.6,2261.1 923.6,2259.2 926.6,2260.1 929.6,2260.4 932.6,2260.7 935.6,2260.0 938.6,2259.5 941.6,2260.3 944.6,2260.4 947.6,2261.1 950.6,2259.4 953.6,2261.1 956.6,2260.2 959.6,2259.5 962.6,2260.9 965.6,2259.7 968.6,2259.3 971.6,2259.9 974.6,2259.6 977.6,2261.0 980.6,2260.3 983.6,2260.9 986.6,2259.5 989.6,2260.6 992.6,2260.3 995.6,2259.2 998.6,2259.5 1001.6,2259.2 1004.6,2260.3 1007.6,2260.2 1010.6,2259.7 1013.6,2260.2 1016.6,2260.6 1019.6,2260.4 1022.6,2260.9 1025.6,2260.4 1028.6,2259.2 1031.6,2259.3 1034.6,2259.9 1037.6,2260.2 1040.6,2260.5 1043.6,2261.0 1046.6,2260.7 1049.6,2259.6 1052.6,2259.5 1055.6,2260.5 1058.6,2259.6 1061.6,2259.7 1064.6,2259.8 1067.6,2259.9 1070.6,2259.7 1073.6,2260.5 1076.6,2259.8 1079.6,2260.6 1082.6,2260.2 1085.6,2259.7 1088.6,2259.8 1091.6,2260.6 1094.6,2259.3 1097.6,2259.9 1100.6,2260.0 1103.6,2261.2 1106.6,2260.1 1109.6,2260.7 1112.6,2259.9 1115.6,2260.3 1118.6,2259.6 1121.6,2259.9 1124.6,2259.6 1127.6,2260.5 1130.6,2259.9 1133.6,2259.7 1136.6,2259.5 1139.6,2260.5 1142.6,2259.5 1145.6,2259.5 1148.6,2259.8 1151.6,2259.2 1154.6,2259.3 1157.6,2260.2 1160.6,2260.1 1163.6,2260.9 1166.6,2259.5 1169.6,2259.3 1172.6,2260.2 1175.6,2259.8 1178.6,2259.8 1181.6,2259.7 1184.6,2260.9" fill="none" stroke="#111111" stroke-width="1"/>
<polyline points="623.6,2259.6 626.6,2260.0 629.6,2259.9 632.6,2260.4 635.6,2260.0 638.6,2259.7 641.6,2259.9 644.6,2259.8 647.6,2261.1 650.6,2260.9 653.6,2260.3 656.6,2259.9 659.6,2260.8 662.6,2259.8 665.6,2259.9 668.6,2261.1 671.6,2260.3 674.6,2260.7 677.6,2261.1 680.6,2260.9 683.6,2260.6 686.6,2260.8 689.6,2260.8 692.6,2261.1 695.6,2260.3 698.6,2260.4 701.6,2260.0 704.6,2260.0 707.6,2260.7 710.6,2259.4 713.6,2261.2 716.6,2260.4 719.6,2260.6 722.6,2260.4 725.6,2261.0 728.6,2259.5 731.6,2260.5 734.6,2261.1 737.6,2260.0 740.6,2261.0 743.6,2260.1 746.6,2260.5 749.6,2260.0 752.6,2259.3 755.6,2259.6 758.6,2260.4 761.6,2259.6 764.6,2259.9 767.6,2260.5 770.6,2260.9 773.6,2260.0 776.6,2260.1 779.6,2259.3 782.6,2259.3 785.6,2260.0 788.6,2260.5 791.6,2259.4 794.6,2261.2 797.6,2261.0 800.6,2260.1 803.6,2260.0 806.6,2260.9 809.6,2259.9 812.6,2259.4 815.6,2260.4 818.6,2260.3 821.6,2260.7 824.6,2260.6 827.6,2259.3 830.6,2260.4 833.6,2259.3 836.6,2259.4 839.6,2260.0 842.6,2260.7 845.6,2259.2 848.6,2260.2 851.6,2260.4 854.6,2260.6 857.6,2259.2 860.6,2260.2 863.6,2260.6 866.6,2260.2 869.6,2261.0 872.6,2260.0 875.6,2260.3 878.6,2260.6 881.6,2259.6 884.6,2259.5 887.6,2261.2 890.6,2260.1 893.6,2260.7 896.6,2259.3 899.6,2259.6 902.6,2260.7 905.6,2260.7 908.6,2260.9 911.6,2259.2 914.6,2260.6 917.6,2260.0 920.6,2260.3 923.6,2259.9 926.6,2260.0 929.6,2259.7 932.6,2261.0 935.6,2259.7 938.6,2260.6 941.6,2260.1 944.6,2260.5 947.6,2260.6 950.6,2260.1 953.6,2260.3 956.6,2260.5 959.6,2259.7 962.6,2260.0 965.6,2261.1 968.6,2260.7 971.6,2260.3 974.6,2259.4 977.6,2259.4 980.6,2260.1 983.6,2261.2 986.6,2259.6 989.6,2260.3 992.6,2260.0 995.6,2259.8 998.6,2259.9 1001.6,2260.2 1004.6,2259.4 1007.6,2260.4 1010.6,2260.4 1013.6,2259.5 1016.6,2260.8 1019.6,2260.6 1022.6,2259.5 1025.6,2261.1 1028.6,2259.5 1031.6,2259.8 1034.6,2260.3 1037.6,2260.6 1040.6,2259.6 1043.6,2259.4 1046.6,2260.9 1049.6,2260.2 1052.6,2260.1 1055.6,2260.2 1058.6,2260.5 1061.6,2260.9 1064.6,2260.0 1067.6,2259.6 1070.6,2261.1 1073.6,2260.7 1076.6,2259.6 1079.6,2259.6 1082.6,2259.9 1085.6,2261.1 1088.6,2259.8 1091.6,2259.2 1094.6,2259.2 1097.6,2259.8 1100.6,2261.1 1103.6,2259.5 1106.6,2260.8 1109.6,2259.9 1112.6,2259.3 1115.6,2259.8 1118.6,2260.9 1121.6,2260.6 1124.6,2259.4 1127.6,2260.9 1130.6,2260.0 1133.6,2260.4 1136.6,2260.9 1139.6,2260.0 1142.6,2261.1 1145.6,2261.0 1148.6,2260.4 1151.6,2261.1 1154.6,2261.1 1157.6,2260.0 1160.6,2259.7 1163.6,2259.4 1166.6,2260.9 1169.6,2260.3 1172.6,2260.6 1175.6,2260.0 1178.6,2260.2 1181.6,2259.3 1184.6,2260.5" fill="none" stroke="#e03040" stroke-width="1"/>
<polyline points="623.6,2261.1 626.6,2259.8 629.6,2260.9 632.6,2259.9 635.6,2260.2 638.6,2259.4 641.6,2260.1 644.6,2260.0 647.6,2260.7 650.6,2260.1 653.6,2260.7 656.6,2259.7 659.6,2260.2 662.6,2260.9 665.6,2260.7 668.6,2260.5 671.6,2259.7 674.6,2260.8 677.6,2259.8 680.6,2259.9 683.6,2261.0 686.6,2259.9 689.6,2261.0 692.6,2261.0 695.6,2260.0 698.6,2260.7 701.6,2259.4 704.6,2260.2 707.6,2260.6 710.6,2259.6 713.6,2261.1 716.6,2259.7 719.6,2261.1 722.6,2260.9 725.6,2259.3 728.6,2259.8 731.6,2260.8 734.6,2261.0 737.6,2259.3 740.6,2259.9 743.6,2259.6 746.6,2260.9 749.6,2260.0 752.6,2260.5 755.6,2260.7 758.6,2260.5 761.6,2260.0 764.6,2260.5 767.6,2260.4 770.6,2260.9 773.6,2259.5 776.6,2259.9 779.6,2259.6 782.6,2260.3 785.6,2259.5 788.6,2260.2 791.6,2260.0 794.6,2260.1 797.6,2259.7 800.6,2260.4 803.6,2261.0 806.6,2261.1 809.6,2260.8 812.6,2261.1 815.6,2259.4 818.6,2260.2 821.6,2259.7 824.6,2261.2 827.6,2260.3 830.6,2259.4 833.6,2260.0 836.6,2260.3 839.6,2260.3 842.6,2261.0 845.6,2260.9 848.6,2260.9 851.6,2260.5 854.6,2260.4 857.6,2259.4 860.6,2260.9 863.6,2260.7 866.6,2260.6 869.6,2260.9 872.6,2260.6 875.6,2260.7 878.6,2260.2 881.6,2261.1 884.6,2259.4 887.6,2260.5 890.6,2259.3 893.6,2259.8 896.6,2259.9 899.6,2260.3 902.6,2259.3 905.6,2261.0 908.6,2259.9 911.6,2260.6 914.6,2259.9 917.6,2259.7 920.6,2260.9 923.6,2260.8 926.6,2261.2 929.6,2260.7 932.6,2261.0 935.6,2260.4 938.6,2259.3 941.6,2260.5 944.6,2260.6 947.6,2260.3 950.6,2260.6 953.6,2259.7 956.6,2259.8 959.6,2260.9 962.6,2260.7 965.6,2259.9 968.6,2259.3 971.6,2259.9 974.6,2260.3 977.6,2259.2 980.6,2261.2 983.6,2261.1 986.6,2259.6 989.6,2260.4 992.6,2261.1 995.6,2260.1 998.6,2259.2 1001.6,2260.2 1004.6,2260.5 1007.6,2261.0 1010.6,2261.1 1013.6,2259.4 1016.6,2260.2 1019.6,2259.3 1022.6,2261.1 1025.6,2260.7 1028.6,2261.1 1031.6,2260.4 1034.6,2261.1 1037.6,2260.7 1040.6,2260.4 1043.6,2260.6 1046.6,2261.1 1049.6,2261.1 1052.6,2259.3 1055.6,2260.8 1058.6,2260.2 1061.6,2260.4 1064.6,2260.1 1067.6,2261.0 1070.6,2260.6 1073.6,2261.0 1076.6,2260.1 1079.6,2259.4 1082.6,2260.0 1085.6,2259.5 1088.6,2260.8 1091.6,2261.2 1094.6,2260.1 1097.6,2260.2 1100.6,2260.1 1103.6,2260.4 1106.6,2259.9 1109.6,2259.7 1112.6,2259.4 1115.6,2260.6 1118.6,2260.3 1121.6,2259.5 1124.6,2260.8 1127.6,2261.0 1130.6,2260.6 1133.6,2261.0 1136.6,2259.7 1139.6,2259.6 1142.6,2260.6 1145.6,2260.9 1148.6,2261.0 1151.6,2260.7 1154.6,2261.0 1157.6,2260.3 1160.6,2260.0 1163.6,2260.7 1166.6,2261.1 1169.6,2259.8 1172.6,2261.1 1175.6,2260.8 1178.6,2260.6 1181.6,2260.5 1184.6,2261.0" fill="none" stroke="#30b030" stroke-width="1"/>
<line x1="828.00" y1="2050.50" x2="828.00" y2="2262.00" stroke="#9aa" stroke-width="0.8" />
<path d="M763.5,2068V2262M904.4,2068V2262M1043.2,2068V2262" stroke="#aaa" stroke-width="0.7" stroke-dasharray="3 3"/>
<line x1="283.3" y1="2129.8" x2="283.3" y2="2157" stroke="#111" stroke-width="3.2"/>
<path d="M283.3,2168L276.8,2155L289.8,2155Z" fill="#111"/>
<line x1="838" y1="2113.5" x2="838" y2="2140.6" stroke="#111" stroke-width="3.2"/>
<path d="M838,2151.6L831.5,2138.6L844.5,2138.6Z" fill="#111"/>
<text x="1308.5" y="1819.3" font-size="29" font-weight="bold">i</text>
<path d="M1367.2,1839.6V2199.2H1723.4" stroke="#222" stroke-width="1.6" fill="none"/>
<line x1="1383.50" y1="2199.20" x2="1383.50" y2="2203.50" stroke="#333" stroke-width="1.2" />
<line x1="1363.00" y1="2182.00" x2="1367.20" y2="2182.00" stroke="#333" stroke-width="1.2" />
<text x="1383.5" y="2221.0" font-size="16.8" text-anchor="middle" fill="#4d4d4d">10</text>
<text x="1361.5" y="2188.0" font-size="16.8" text-anchor="end" fill="#4d4d4d">10</text>
<line x1="1464.50" y1="2199.20" x2="1464.50" y2="2203.50" stroke="#333" stroke-width="1.2" />
<line x1="1363.00" y1="2100.45" x2="1367.20" y2="2100.45" stroke="#333" stroke-width="1.2" />
<text x="1464.5" y="2221.0" font-size="16.8" text-anchor="middle" fill="#4d4d4d">20</text>
<text x="1361.5" y="2106.4" font-size="16.8" text-anchor="end" fill="#4d4d4d">20</text>
<line x1="1545.50" y1="2199.20" x2="1545.50" y2="2203.50" stroke="#333" stroke-width="1.2" />
<line x1="1363.00" y1="2018.90" x2="1367.20" y2="2018.90" stroke="#333" stroke-width="1.2" />
<text x="1545.5" y="2221.0" font-size="16.8" text-anchor="middle" fill="#4d4d4d">30</text>
<text x="1361.5" y="2024.9" font-size="16.8" text-anchor="end" fill="#4d4d4d">30</text>
<line x1="1626.50" y1="2199.20" x2="1626.50" y2="2203.50" stroke="#333" stroke-width="1.2" />
<line x1="1363.00" y1="1937.35" x2="1367.20" y2="1937.35" stroke="#333" stroke-width="1.2" />
<text x="1626.5" y="2221.0" font-size="16.8" text-anchor="middle" fill="#4d4d4d">40</text>
<text x="1361.5" y="1943.3" font-size="16.8" text-anchor="end" fill="#4d4d4d">40</text>
<line x1="1707.50" y1="2199.20" x2="1707.50" y2="2203.50" stroke="#333" stroke-width="1.2" />
<line x1="1363.00" y1="1855.80" x2="1367.20" y2="1855.80" stroke="#333" stroke-width="1.2" />
<text x="1707.5" y="2221.0" font-size="16.8" text-anchor="middle" fill="#4d4d4d">50</text>
<text x="1361.5" y="1861.8" font-size="16.8" text-anchor="end" fill="#4d4d4d">50</text>
<line x1="1367.20" y1="2199.20" x2="1723.40" y2="1839.60" stroke="#222" stroke-width="1.6" />
<line x1="1412.30" y1="2181.00" x2="1707.40" y2="1972.20" stroke="#2b4fd8" stroke-width="3" />
<circle cx="1411.7" cy="2167.4" r="4.3" fill="#e8000b"/>
<circle cx="1545.4" cy="2174" r="4.3" fill="#e8000b"/>
<circle cx="1570" cy="2092.6" r="4.3" fill="#e8000b"/>
<circle cx="1578.1" cy="2035.1" r="4.3" fill="#e8000b"/>
<circle cx="1602.3" cy="2035.1" r="4.3" fill="#e8000b"/>
<circle cx="1621.1" cy="1952.5" r="4.3" fill="#e8000b"/>
<circle cx="1618.7" cy="1994.3" r="4.3" fill="#e8000b"/>
<circle cx="1642.9" cy="2002.5" r="4.3" fill="#e8000b"/>
<circle cx="1651.1" cy="2051.5" r="4.3" fill="#e8000b"/>
<circle cx="1699.5" cy="2067.8" r="4.3" fill="#e8000b"/>
<circle cx="1707.7" cy="1920.7" r="4.3" fill="#e8000b"/>
<text x="1572.0" y="1899.6" font-size="23.5">slope=1</text>
<text x="1529.7" y="2126.6" font-size="23.5" fill="#3a5aa0">linear fit</text>
<text transform="translate(1327.5,2004.5) rotate(-90)" font-size="27" text-anchor="middle">VAF <tspan font-style="italic">TP53</tspan> Mutation 2</text>
<text x="1553" y="2261.2" font-size="27" text-anchor="middle">VAF <tspan font-style="italic">TP53</tspan> Mutation 1</text>
<text x="8.2" y="2345.0" font-size="29" font-weight="bold">j</text>
<text x="93.9" y="2368.2" font-size="21.3" font-weight="bold">Pt.ID GR004</text>
<rect x="163.00" y="2402.00" width="117.00" height="26.70" fill="#fff" stroke="#222" stroke-width="1.8"/>
<text x="221.5" y="2423.2" font-size="22" text-anchor="middle">WT</text>
<rect x="280.00" y="2402.00" width="116.90" height="26.70" fill="#fff" stroke="#222" stroke-width="1.8"/>
<text x="338.4" y="2423.2" font-size="22" text-anchor="middle">HET</text>
<rect x="396.90" y="2402.00" width="116.90" height="26.70" fill="#fff" stroke="#222" stroke-width="1.8"/>
<text x="455.3" y="2423.2" font-size="22" text-anchor="middle">HOM</text>
<rect x="88.90" y="2428.70" width="74.10" height="27.20" fill="#fff" stroke="#222" stroke-width="1.8"/>
<text x="92.4" y="2450.4" font-size="22">WT</text>
<rect x="163.00" y="2428.70" width="117.00" height="27.20" fill="#fff" stroke="#222" stroke-width="1.8"/>
<text x="221.5" y="2450.4" font-size="22" text-anchor="middle">0</text>
<rect x="280.00" y="2428.70" width="116.90" height="27.20" fill="#fff" stroke="#222" stroke-width="1.8"/>
<text x="338.4" y="2450.4" font-size="22" text-anchor="middle">9</text>
<rect x="396.90" y="2428.70" width="116.90" height="27.20" fill="#ffc000" stroke="#222" stroke-width="1.8"/>
<text x="455.3" y="2450.4" font-size="22" text-anchor="middle">22</text>
<rect x="88.90" y="2455.90" width="74.10" height="27.20" fill="#fff" stroke="#222" stroke-width="1.8"/>
<text x="92.4" y="2477.6" font-size="22">HET</text>
<rect x="163.00" y="2455.90" width="117.00" height="27.20" fill="#fff" stroke="#222" stroke-width="1.8"/>
<text x="221.5" y="2477.6" font-size="22" text-anchor="middle">12</text>
<rect x="280.00" y="2455.90" width="116.90" height="27.20" fill="#ff0000" stroke="#222" stroke-width="1.8"/>
<text x="338.4" y="2477.6" font-size="22" text-anchor="middle">744</text>
<rect x="396.90" y="2455.90" width="116.90" height="27.20" fill="#fff" stroke="#222" stroke-width="1.8"/>
<text x="455.3" y="2477.6" font-size="22" text-anchor="middle">3</text>
<rect x="88.90" y="2483.10" width="74.10" height="26.70" fill="#fff" stroke="#222" stroke-width="1.8"/>
<text x="92.4" y="2504.3" font-size="22">HOM</text>
<rect x="163.00" y="2483.10" width="117.00" height="26.70" fill="#ffc000" stroke="#222" stroke-width="1.8"/>
<text x="221.5" y="2504.3" font-size="22" text-anchor="middle">10</text>
<rect x="280.00" y="2483.10" width="116.90" height="26.70" fill="#fff" stroke="#222" stroke-width="1.8"/>
<text x="338.4" y="2504.3" font-size="22" text-anchor="middle">4</text>
<rect x="396.90" y="2483.10" width="116.90" height="26.70" fill="#8eaadb" stroke="#222" stroke-width="1.8"/>
<text x="455.3" y="2504.3" font-size="22" text-anchor="middle">0</text>
<text x="552.5" y="2446.4" font-size="23.5">p-value:</text>
<text x="552.5" y="2475.3" font-size="23.5">2.32e-06</text>
<text transform="translate(34.5,2455.0) rotate(-90)" font-size="23" font-style="italic" text-anchor="middle">TP53</text>
<text transform="translate(62.5,2460.0) rotate(-90)" font-size="23" text-anchor="middle">p.Ala347fs</text>
<text x="93.9" y="2556.8" font-size="21.3" font-weight="bold">Pt.ID IF0131</text>
<rect x="163.00" y="2590.50" width="117.00" height="27.20" fill="#fff" stroke="#222" stroke-width="1.8"/>
<text x="221.5" y="2612.2" font-size="22" text-anchor="middle">WT</text>
<rect x="280.00" y="2590.50" width="116.90" height="27.20" fill="#fff" stroke="#222" stroke-width="1.8"/>
<text x="338.4" y="2612.2" font-size="22" text-anchor="middle">HET</text>
<rect x="396.90" y="2590.50" width="116.90" height="27.20" fill="#fff" stroke="#222" stroke-width="1.8"/>
<text x="455.3" y="2612.2" font-size="22" text-anchor="middle">HOM</text>
<rect x="88.90" y="2617.70" width="74.10" height="26.80" fill="#fff" stroke="#222" stroke-width="1.8"/>
<text x="92.4" y="2639.0" font-size="22">WT</text>
<rect x="163.00" y="2617.70" width="117.00" height="26.80" fill="#fff" stroke="#222" stroke-width="1.8"/>
<text x="221.5" y="2639.0" font-size="22" text-anchor="middle">271</text>
<rect x="280.00" y="2617.70" width="116.90" height="26.80" fill="#fff" stroke="#222" stroke-width="1.8"/>
<text x="338.4" y="2639.0" font-size="22" text-anchor="middle">8</text>
<rect x="396.90" y="2617.70" width="116.90" height="26.80" fill="#ffc000" stroke="#222" stroke-width="1.8"/>
<text x="455.3" y="2639.0" font-size="22" text-anchor="middle">19</text>
<rect x="88.90" y="2644.50" width="74.10" height="27.10" fill="#fff" stroke="#222" stroke-width="1.8"/>
<text x="92.4" y="2666.1" font-size="22">HET</text>
<rect x="163.00" y="2644.50" width="117.00" height="27.10" fill="#fff" stroke="#222" stroke-width="1.8"/>
<text x="221.5" y="2666.1" font-size="22" text-anchor="middle">7</text>
<rect x="280.00" y="2644.50" width="116.90" height="27.10" fill="#ff0000" stroke="#222" stroke-width="1.8"/>
<text x="338.4" y="2666.1" font-size="22" text-anchor="middle">824</text>
<rect x="396.90" y="2644.50" width="116.90" height="27.10" fill="#fff" stroke="#222" stroke-width="1.8"/>
<text x="455.3" y="2666.1" font-size="22" text-anchor="middle">7</text>
<rect x="88.90" y="2671.60" width="74.10" height="26.80" fill="#fff" stroke="#222" stroke-width="1.8"/>
<text x="92.4" y="2692.9" font-size="22">HOM</text>
<rect x="163.00" y="2671.60" width="117.00" height="26.80" fill="#ffc000" stroke="#222" stroke-width="1.8"/>
<text x="221.5" y="2692.9" font-size="22" text-anchor="middle">21</text>
<rect x="280.00" y="2671.60" width="116.90" height="26.80" fill="#fff" stroke="#222" stroke-width="1.8"/>
<text x="338.4" y="2692.9" font-size="22" text-anchor="middle">9</text>
<rect x="396.90" y="2671.60" width="116.90" height="26.80" fill="#8eaadb" stroke="#222" stroke-width="1.8"/>
<text x="455.3" y="2692.9" font-size="22" text-anchor="middle">2</text>
<text x="550.8" y="2617.3" font-size="23.5">p-value:</text>
<text x="550.8" y="2646.1" font-size="23.5">9.54e-06</text>
<text transform="translate(34.5,2641.0) rotate(-90)" font-size="23" font-style="italic" text-anchor="middle">TP53</text>
<text transform="translate(62.5,2643.0) rotate(-90)" font-size="23" text-anchor="middle">p.Val272Met</text>
<text x="749.7" y="2374.4" font-size="21.3" font-weight="bold">Pt.ID GR007</text>
<rect x="818.50" y="2408.20" width="117.30" height="26.70" fill="#fff" stroke="#222" stroke-width="1.8"/>
<text x="877.1" y="2429.4" font-size="22" text-anchor="middle">WT</text>
<rect x="935.80" y="2408.20" width="116.50" height="26.70" fill="#fff" stroke="#222" stroke-width="1.8"/>
<text x="994.0" y="2429.4" font-size="22" text-anchor="middle">HET</text>
<rect x="1052.30" y="2408.20" width="117.40" height="26.70" fill="#fff" stroke="#222" stroke-width="1.8"/>
<text x="1111.0" y="2429.4" font-size="22" text-anchor="middle">HOM</text>
<rect x="744.40" y="2434.90" width="74.10" height="26.80" fill="#fff" stroke="#222" stroke-width="1.8"/>
<text x="747.9" y="2456.2" font-size="22">WT</text>
<rect x="818.50" y="2434.90" width="117.30" height="26.80" fill="#fff" stroke="#222" stroke-width="1.8"/>
<text x="877.1" y="2456.2" font-size="22" text-anchor="middle">158</text>
<rect x="935.80" y="2434.90" width="116.50" height="26.80" fill="#fff" stroke="#222" stroke-width="1.8"/>
<text x="994.0" y="2456.2" font-size="22" text-anchor="middle">11</text>
<rect x="1052.30" y="2434.90" width="117.40" height="26.80" fill="#ffc000" stroke="#222" stroke-width="1.8"/>
<text x="1111.0" y="2456.2" font-size="22" text-anchor="middle">17</text>
<rect x="744.40" y="2461.70" width="74.10" height="26.70" fill="#fff" stroke="#222" stroke-width="1.8"/>
<text x="747.9" y="2482.9" font-size="22">HET</text>
<rect x="818.50" y="2461.70" width="117.30" height="26.70" fill="#fff" stroke="#222" stroke-width="1.8"/>
<text x="877.1" y="2482.9" font-size="22" text-anchor="middle">1</text>
<rect x="935.80" y="2461.70" width="116.50" height="26.70" fill="#ff0000" stroke="#222" stroke-width="1.8"/>
<text x="994.0" y="2482.9" font-size="22" text-anchor="middle">494</text>
<rect x="1052.30" y="2461.70" width="117.40" height="26.70" fill="#fff" stroke="#222" stroke-width="1.8"/>
<text x="1111.0" y="2482.9" font-size="22" text-anchor="middle">2</text>
<rect x="744.40" y="2488.40" width="74.10" height="26.80" fill="#fff" stroke="#222" stroke-width="1.8"/>
<text x="747.9" y="2509.7" font-size="22">HOM</text>
<rect x="818.50" y="2488.40" width="117.30" height="26.80" fill="#ffc000" stroke="#222" stroke-width="1.8"/>
<text x="877.1" y="2509.7" font-size="22" text-anchor="middle">21</text>
<rect x="935.80" y="2488.40" width="116.50" height="26.80" fill="#fff" stroke="#222" stroke-width="1.8"/>
<text x="994.0" y="2509.7" font-size="22" text-anchor="middle">1</text>
<rect x="1052.30" y="2488.40" width="117.40" height="26.80" fill="#8eaadb" stroke="#222" stroke-width="1.8"/>
<text x="1111.0" y="2509.7" font-size="22" text-anchor="middle">0</text>
<text x="1193.1" y="2442.3" font-size="23.5">p-value:</text>
<text x="1193.1" y="2470.3" font-size="23.5">2.04e-07</text>
<text transform="translate(685.0,2444.3) rotate(-90)" font-size="23" font-style="italic" text-anchor="middle">TP53</text>
<text transform="translate(713.0,2446.5) rotate(-90)" font-size="23" text-anchor="middle">p.Phe341Ser</text>
<text x="749.7" y="2562.5" font-size="21.3" font-weight="bold">Pt.ID GR006</text>
<rect x="818.50" y="2596.70" width="117.30" height="26.80" fill="#fff" stroke="#222" stroke-width="1.8"/>
<text x="877.1" y="2618.0" font-size="22" text-anchor="middle">WT</text>
<rect x="935.80" y="2596.70" width="116.50" height="26.80" fill="#fff" stroke="#222" stroke-width="1.8"/>
<text x="994.0" y="2618.0" font-size="22" text-anchor="middle">HET</text>
<rect x="1052.30" y="2596.70" width="117.40" height="26.80" fill="#fff" stroke="#222" stroke-width="1.8"/>
<text x="1111.0" y="2618.0" font-size="22" text-anchor="middle">HOM</text>
<rect x="744.40" y="2623.50" width="74.10" height="26.70" fill="#fff" stroke="#222" stroke-width="1.8"/>
<text x="747.9" y="2644.7" font-size="22">WT</text>
<rect x="818.50" y="2623.50" width="117.30" height="26.70" fill="#fff" stroke="#222" stroke-width="1.8"/>
<text x="877.1" y="2644.7" font-size="22" text-anchor="middle">348</text>
<rect x="935.80" y="2623.50" width="116.50" height="26.70" fill="#fff" stroke="#222" stroke-width="1.8"/>
<text x="994.0" y="2644.7" font-size="22" text-anchor="middle">10</text>
<rect x="1052.30" y="2623.50" width="117.40" height="26.70" fill="#ffc000" stroke="#222" stroke-width="1.8"/>
<text x="1111.0" y="2644.7" font-size="22" text-anchor="middle">9</text>
<rect x="744.40" y="2650.20" width="74.10" height="26.80" fill="#fff" stroke="#222" stroke-width="1.8"/>
<text x="747.9" y="2671.5" font-size="22">HET</text>
<rect x="818.50" y="2650.20" width="117.30" height="26.80" fill="#fff" stroke="#222" stroke-width="1.8"/>
<text x="877.1" y="2671.5" font-size="22" text-anchor="middle">8</text>
<rect x="935.80" y="2650.20" width="116.50" height="26.80" fill="#ff0000" stroke="#222" stroke-width="1.8"/>
<text x="994.0" y="2671.5" font-size="22" text-anchor="middle">533</text>
<rect x="1052.30" y="2650.20" width="117.40" height="26.80" fill="#fff" stroke="#222" stroke-width="1.8"/>
<text x="1111.0" y="2671.5" font-size="22" text-anchor="middle">2</text>
<rect x="744.40" y="2677.00" width="74.10" height="25.90" fill="#fff" stroke="#222" stroke-width="1.8"/>
<text x="747.9" y="2697.4" font-size="22">HOM</text>
<rect x="818.50" y="2677.00" width="117.30" height="25.90" fill="#ffc000" stroke="#222" stroke-width="1.8"/>
<text x="877.1" y="2697.4" font-size="22" text-anchor="middle">3</text>
<rect x="935.80" y="2677.00" width="116.50" height="25.90" fill="#fff" stroke="#222" stroke-width="1.8"/>
<text x="994.0" y="2697.4" font-size="22" text-anchor="middle">3</text>
<rect x="1052.30" y="2677.00" width="117.40" height="25.90" fill="#8eaadb" stroke="#222" stroke-width="1.8"/>
<text x="1111.0" y="2697.4" font-size="22" text-anchor="middle">0</text>
<text x="1204.3" y="2635.8" font-size="23.5">p-value:</text>
<text x="1204.3" y="2662.6" font-size="23.5">0.008</text>
<text transform="translate(693.0,2641.0) rotate(-90)" font-size="23" font-style="italic" text-anchor="middle">TP53</text>
<text transform="translate(721.0,2641.0) rotate(-90)" font-size="23" text-anchor="middle">p.Cys141Tyr</text>
<text x="1418.6" y="2360.0" font-size="21.3" font-weight="bold">Pt.ID GR002</text>
<rect x="1489.00" y="2393.70" width="120.20" height="28.00" fill="#fff" stroke="#222" stroke-width="1.8"/>
<text x="1549.1" y="2416.2" font-size="22" text-anchor="middle">WT</text>
<rect x="1609.20" y="2393.70" width="119.40" height="28.00" fill="#fff" stroke="#222" stroke-width="1.8"/>
<text x="1668.9" y="2416.2" font-size="22" text-anchor="middle">HET</text>
<rect x="1728.60" y="2393.70" width="120.20" height="28.00" fill="#fff" stroke="#222" stroke-width="1.8"/>
<text x="1788.7" y="2416.2" font-size="22" text-anchor="middle">HOM</text>
<rect x="1413.70" y="2421.70" width="75.30" height="27.60" fill="#fff" stroke="#222" stroke-width="1.8"/>
<text x="1417.2" y="2443.8" font-size="22">WT</text>
<rect x="1489.00" y="2421.70" width="120.20" height="27.60" fill="#fff" stroke="#222" stroke-width="1.8"/>
<text x="1549.1" y="2443.8" font-size="22" text-anchor="middle">155</text>
<rect x="1609.20" y="2421.70" width="119.40" height="27.60" fill="#fff" stroke="#222" stroke-width="1.8"/>
<text x="1668.9" y="2443.8" font-size="22" text-anchor="middle">10</text>
<rect x="1728.60" y="2421.70" width="120.20" height="27.60" fill="#ffc000" stroke="#222" stroke-width="1.8"/>
<text x="1788.7" y="2443.8" font-size="22" text-anchor="middle">4</text>
<rect x="1413.70" y="2449.30" width="75.30" height="27.20" fill="#fff" stroke="#222" stroke-width="1.8"/>
<text x="1417.2" y="2471.0" font-size="22">HET</text>
<rect x="1489.00" y="2449.30" width="120.20" height="27.20" fill="#fff" stroke="#222" stroke-width="1.8"/>
<text x="1549.1" y="2471.0" font-size="22" text-anchor="middle">2</text>
<rect x="1609.20" y="2449.30" width="119.40" height="27.20" fill="#ff0000" stroke="#222" stroke-width="1.8"/>
<text x="1668.9" y="2471.0" font-size="22" text-anchor="middle">276</text>
<rect x="1728.60" y="2449.30" width="120.20" height="27.20" fill="#fff" stroke="#222" stroke-width="1.8"/>
<text x="1788.7" y="2471.0" font-size="22" text-anchor="middle">3</text>
<rect x="1413.70" y="2476.50" width="75.30" height="27.60" fill="#fff" stroke="#222" stroke-width="1.8"/>
<text x="1417.2" y="2498.6" font-size="22">HOM</text>
<rect x="1489.00" y="2476.50" width="120.20" height="27.60" fill="#ffc000" stroke="#222" stroke-width="1.8"/>
<text x="1549.1" y="2498.6" font-size="22" text-anchor="middle">1</text>
<rect x="1609.20" y="2476.50" width="119.40" height="27.60" fill="#fff" stroke="#222" stroke-width="1.8"/>
<text x="1668.9" y="2498.6" font-size="22" text-anchor="middle">3</text>
<rect x="1728.60" y="2476.50" width="120.20" height="27.60" fill="#8eaadb" stroke="#222" stroke-width="1.8"/>
<text x="1788.7" y="2498.6" font-size="22" text-anchor="middle">0</text>
<text x="1882.2" y="2446.4" font-size="23.5">p-value:</text>
<text x="1882.2" y="2475.3" font-size="23.5">0.026</text>
<text transform="translate(1356.0,2448.5) rotate(-90)" font-size="23" font-style="italic" text-anchor="middle">TP53</text>
<text transform="translate(1384.0,2450.5) rotate(-90)" font-size="23" text-anchor="middle">p.Arg174Trp</text>
<text x="1418.6" y="2552.7" font-size="21.3" font-weight="bold">Pt.ID IF0318</text>
<rect x="1489.00" y="2586.40" width="120.20" height="28.00" fill="#fff" stroke="#222" stroke-width="1.8"/>
<text x="1549.1" y="2608.9" font-size="22" text-anchor="middle">WT</text>
<rect x="1609.20" y="2586.40" width="119.40" height="28.00" fill="#fff" stroke="#222" stroke-width="1.8"/>
<text x="1668.9" y="2608.9" font-size="22" text-anchor="middle">HET</text>
<rect x="1728.60" y="2586.40" width="120.20" height="28.00" fill="#fff" stroke="#222" stroke-width="1.8"/>
<text x="1788.7" y="2608.9" font-size="22" text-anchor="middle">HOM</text>
<rect x="1413.70" y="2614.40" width="75.30" height="27.60" fill="#fff" stroke="#222" stroke-width="1.8"/>
<text x="1417.2" y="2636.5" font-size="22">WT</text>
<rect x="1489.00" y="2614.40" width="120.20" height="27.60" fill="#fff" stroke="#222" stroke-width="1.8"/>
<text x="1549.1" y="2636.5" font-size="22" text-anchor="middle">105</text>
<rect x="1609.20" y="2614.40" width="119.40" height="27.60" fill="#fff" stroke="#222" stroke-width="1.8"/>
<text x="1668.9" y="2636.5" font-size="22" text-anchor="middle">22</text>
<rect x="1728.60" y="2614.40" width="120.20" height="27.60" fill="#ffc000" stroke="#222" stroke-width="1.8"/>
<text x="1788.7" y="2636.5" font-size="22" text-anchor="middle">22</text>
<rect x="1413.70" y="2642.00" width="75.30" height="27.60" fill="#fff" stroke="#222" stroke-width="1.8"/>
<text x="1417.2" y="2664.1" font-size="22">HET</text>
<rect x="1489.00" y="2642.00" width="120.20" height="27.60" fill="#fff" stroke="#222" stroke-width="1.8"/>
<text x="1549.1" y="2664.1" font-size="22" text-anchor="middle">10</text>
<rect x="1609.20" y="2642.00" width="119.40" height="27.60" fill="#ff0000" stroke="#222" stroke-width="1.8"/>
<text x="1668.9" y="2664.1" font-size="22" text-anchor="middle">514</text>
<rect x="1728.60" y="2642.00" width="120.20" height="27.60" fill="#fff" stroke="#222" stroke-width="1.8"/>
<text x="1788.7" y="2664.1" font-size="22" text-anchor="middle">0</text>
<rect x="1413.70" y="2669.60" width="75.30" height="28.00" fill="#fff" stroke="#222" stroke-width="1.8"/>
<text x="1417.2" y="2692.1" font-size="22">HOM</text>
<rect x="1489.00" y="2669.60" width="120.20" height="28.00" fill="#ffc000" stroke="#222" stroke-width="1.8"/>
<text x="1549.1" y="2692.1" font-size="22" text-anchor="middle">20</text>
<rect x="1609.20" y="2669.60" width="119.40" height="28.00" fill="#fff" stroke="#222" stroke-width="1.8"/>
<text x="1668.9" y="2692.1" font-size="22" text-anchor="middle">1</text>
<rect x="1728.60" y="2669.60" width="120.20" height="28.00" fill="#8eaadb" stroke="#222" stroke-width="1.8"/>
<text x="1788.7" y="2692.1" font-size="22" text-anchor="middle">0</text>
<text x="1882.2" y="2610.3" font-size="23.5">p-value:</text>
<text x="1882.2" y="2637.9" font-size="23.5">4.02e-08</text>
<text transform="translate(1356.0,2637.8) rotate(-90)" font-size="23" font-style="italic" text-anchor="middle">TP53</text>
<text transform="translate(1384.0,2631.5) rotate(-90)" font-size="23" text-anchor="middle">p.Ser241Cys</text>
</svg>
</body></html>
